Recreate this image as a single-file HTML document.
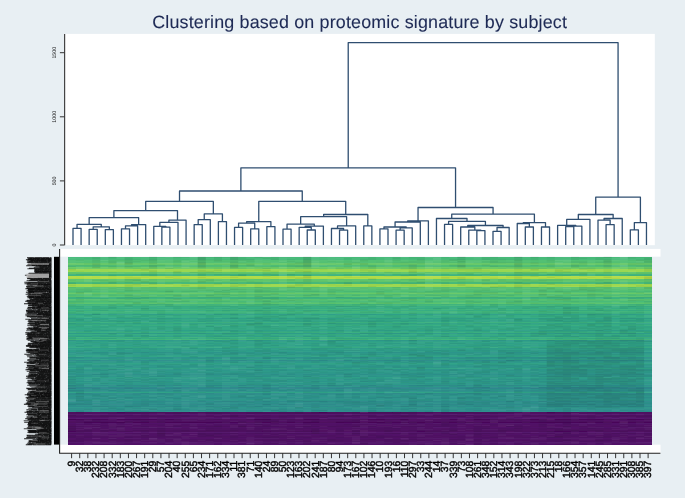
<!DOCTYPE html>
<html><head><meta charset="utf-8"><style>
html,body{margin:0;padding:0;}
body{width:685px;height:498px;overflow:hidden;background:#e8eff3;position:relative;font-family:"Liberation Sans",sans-serif;}
svg{position:absolute;left:0;top:0;will-change:transform;} text{text-rendering:geometricPrecision;}
</style></head><body>
<svg width="685" height="498" viewBox="0 0 685 498">
<text x="359.65" y="27.7" text-anchor="middle" font-family="Liberation Sans" font-size="17.9" letter-spacing="0.16" fill="#1e2a55" stroke="#1e2a55" stroke-width="0.1">Clustering based on proteomic signature by subject</text>
<rect x="65.0" y="33.9" width="589.8" height="211.3" fill="#fff"/>
<path d="M73.00 245.00V228.30H81.08V245.00M89.15 245.00V229.30H97.23V245.00M105.31 245.00V229.60H113.38V245.00M93.19 229.30V226.80H109.35V229.60M77.04 228.30V224.30H101.27V226.80M121.46 245.00V228.80H129.54V245.00M125.50 228.80V225.90H137.62V245.00M131.56 225.90V224.60H145.69V245.00M89.15 224.30V217.60H138.63V224.60M161.85 245.00V227.20H169.92V245.00M153.77 245.00V226.40H165.89V227.20M159.83 226.40V222.40H178.00V245.00M168.91 222.40V220.20H186.08V245.00M113.89 217.60V210.60H177.50V220.20M194.16 245.00V224.60H202.23V245.00M198.19 224.60V219.70H210.31V245.00M218.39 245.00V221.60H226.46V245.00M204.25 219.70V213.90H222.42V221.60M145.69 210.60V201.40H213.34V213.90M234.54 245.00V227.40H242.62V245.00M250.69 245.00V228.80H258.77V245.00M238.58 227.40V223.20H254.73V228.80M266.85 245.00V226.60H274.93V245.00M246.66 223.20V221.60H270.89V226.60M283.00 245.00V229.20H291.08V245.00M307.23 245.00V230.00H315.31V245.00M299.16 245.00V227.30H311.27V230.00M305.21 227.30V226.10H323.39V245.00M287.04 229.20V224.10H314.30V226.10M339.54 245.00V230.10H347.62V245.00M331.46 245.00V228.50H343.58V230.10M337.52 228.50V225.90H355.69V245.00M300.67 224.10V216.70H346.61V225.90M363.77 245.00V225.90H371.85V245.00M323.64 216.70V214.50H367.81V225.90M258.77 221.60V201.30H345.72V214.50M179.52 201.40V191.00H302.25V201.30M379.93 245.00V228.80H388.00V245.00M396.08 245.00V230.20H404.16V245.00M400.12 230.20V227.90H412.23V245.00M383.96 228.80V227.00H406.18V227.90M395.07 227.00V222.00H420.31V245.00M407.69 222.00V220.90H428.39V245.00M444.54 245.00V224.40H452.62V245.00M476.85 245.00V230.60H484.93V245.00M468.77 245.00V230.10H480.89V230.60M460.70 245.00V227.00H474.83V230.10M493.00 245.00V231.30H501.08V245.00M497.04 231.30V227.50H509.16V245.00M467.76 227.00V225.50H503.10V227.50M448.58 224.40V221.40H485.43V225.50M436.46 245.00V218.50H467.01V221.40M525.31 245.00V227.00H533.39V245.00M517.24 245.00V223.50H529.35V227.00M541.47 245.00V227.00H549.54V245.00M523.29 223.50V222.60H545.50V227.00M451.74 218.50V214.20H534.40V222.60M418.04 220.90V207.50H493.07V214.20M240.88 191.00V167.80H455.55V207.50M565.70 245.00V226.60H573.77V245.00M569.74 226.60V226.20H581.85V245.00M557.62 245.00V225.40H575.79V226.20M566.71 225.40V219.30H589.93V245.00M606.08 245.00V224.60H614.16V245.00M598.00 245.00V220.10H610.12V224.60M604.06 220.10V218.50H622.24V245.00M578.32 219.30V214.50H613.15V218.50M630.31 245.00V229.80H638.39V245.00M634.35 229.80V222.60H646.47V245.00M595.73 214.50V197.20H640.41V222.60M348.22 167.80V42.60H618.07V197.20" fill="none" stroke="#2f4e70" stroke-width="1.3" stroke-linejoin="round"/>
<path d="M64.6 33.9V245.3" stroke="#444" stroke-width="1.2"/>
<path d="M59.9 245.0H64.4M59.9 180.9H64.4M59.9 116.8H64.4M59.9 52.7H64.4" stroke="#333" stroke-width="1.0"/>
<g font-family="Liberation Sans" font-size="5.3" fill="#1a1a1a"><text transform="translate(55.97 245.0) rotate(-90)" text-anchor="middle">0</text><text transform="translate(55.97 180.9) rotate(-90)" text-anchor="middle">500</text><text transform="translate(55.97 116.8) rotate(-90)" text-anchor="middle">1000</text><text transform="translate(55.97 52.7) rotate(-90)" text-anchor="middle">1500</text></g>
<rect x="60" y="248.9" width="600.5" height="7.8" fill="#fff"/>
<rect x="60" y="444.7" width="600.5" height="8.3" fill="#fff"/>
<defs><filter id="bl" x="-1%" y="-1%" width="102%" height="102%"><feGaussianBlur stdDeviation="0.35"/><feColorMatrix type="saturate" values="0.94"/></filter></defs>
<g filter="url(#bl)"><g shape-rendering="crispEdges"><rect x="67.8" y="256.70" width="584.40" height="0.95" fill="#3bbb75"/><rect x="67.8" y="257.60" width="584.40" height="0.95" fill="#3bbb75"/><rect x="67.8" y="258.50" width="584.40" height="0.95" fill="#3bbb75"/><rect x="67.8" y="259.40" width="584.40" height="0.95" fill="#3bbb75"/><rect x="67.8" y="260.30" width="584.40" height="0.92" fill="#48c16e"/><rect x="67.8" y="261.17" width="584.40" height="0.92" fill="#48c16e"/><rect x="67.8" y="262.03" width="584.40" height="0.92" fill="#48c16e"/><rect x="67.8" y="262.90" width="584.40" height="0.90" fill="#5ec962"/><rect x="67.8" y="263.75" width="584.40" height="0.90" fill="#5ec962"/><rect x="67.8" y="264.60" width="584.40" height="0.95" fill="#44bf70"/><rect x="67.8" y="265.50" width="584.40" height="0.95" fill="#44bf70"/><rect x="67.8" y="266.40" width="584.40" height="0.95" fill="#44bf70"/><rect x="67.8" y="267.30" width="584.40" height="0.90" fill="#63cb5f"/><rect x="67.8" y="268.15" width="584.40" height="0.90" fill="#63cb5f"/><rect x="67.8" y="269.00" width="584.40" height="1.05" fill="#95d840"/><rect x="67.8" y="270.00" width="584.40" height="1.05" fill="#95d840"/><rect x="67.8" y="271.00" width="584.40" height="1.05" fill="#95d840"/><rect x="67.8" y="272.00" width="584.40" height="0.95" fill="#58c765"/><rect x="67.8" y="272.90" width="584.40" height="0.95" fill="#58c765"/><rect x="67.8" y="273.80" width="584.40" height="1.15" fill="#32b67a"/><rect x="67.8" y="274.90" width="584.40" height="1.15" fill="#32b67a"/><rect x="67.8" y="276.00" width="584.40" height="1.05" fill="#b0dd2f"/><rect x="67.8" y="277.00" width="584.40" height="1.05" fill="#b0dd2f"/><rect x="67.8" y="278.00" width="584.40" height="1.05" fill="#b0dd2f"/><rect x="67.8" y="279.00" width="584.40" height="0.92" fill="#58c765"/><rect x="67.8" y="279.87" width="584.40" height="0.92" fill="#58c765"/><rect x="67.8" y="280.73" width="584.40" height="0.92" fill="#58c765"/><rect x="67.8" y="281.60" width="584.40" height="1.00" fill="#3bbb75"/><rect x="67.8" y="282.55" width="584.40" height="1.00" fill="#3bbb75"/><rect x="67.8" y="283.50" width="584.40" height="1.08" fill="#9bd93c"/><rect x="67.8" y="284.53" width="584.40" height="1.08" fill="#9bd93c"/><rect x="67.8" y="285.57" width="584.40" height="1.08" fill="#9bd93c"/><rect x="67.8" y="286.60" width="584.40" height="1.02" fill="#4ec36b"/><rect x="67.8" y="287.57" width="584.40" height="1.02" fill="#52c569"/><rect x="67.8" y="288.55" width="584.40" height="1.02" fill="#4ac16d"/><rect x="67.8" y="289.52" width="584.40" height="1.02" fill="#40bd72"/><rect x="67.8" y="290.49" width="584.40" height="1.02" fill="#48c16e"/><rect x="67.8" y="291.46" width="584.40" height="1.02" fill="#40bd72"/><rect x="67.8" y="292.44" width="584.40" height="1.02" fill="#4ec36b"/><rect x="67.8" y="293.41" width="584.40" height="1.02" fill="#60ca60"/><rect x="67.8" y="294.38" width="584.40" height="1.02" fill="#46c06f"/><rect x="67.8" y="295.35" width="584.40" height="1.02" fill="#44bf70"/><rect x="67.8" y="296.33" width="584.40" height="1.02" fill="#54c568"/><rect x="67.8" y="297.30" width="584.40" height="0.80" fill="#2fb47c"/><rect x="67.8" y="298.05" width="584.40" height="0.80" fill="#2fb47c"/><rect x="67.8" y="298.80" width="584.40" height="1.09" fill="#4ec36b"/><rect x="67.8" y="299.84" width="584.40" height="1.09" fill="#4ac16d"/><rect x="67.8" y="300.88" width="584.40" height="1.09" fill="#3dbc74"/><rect x="67.8" y="301.92" width="584.40" height="1.09" fill="#48c16e"/><rect x="67.8" y="302.96" width="584.40" height="1.09" fill="#52c569"/><rect x="67.8" y="304.00" width="584.40" height="1.05" fill="#31b57b"/><rect x="67.8" y="305.00" width="584.40" height="1.05" fill="#38b977"/><rect x="67.8" y="306.00" width="584.40" height="1.05" fill="#28ae80"/><rect x="67.8" y="307.00" width="584.40" height="1.05" fill="#2cb17e"/><rect x="67.8" y="308.00" width="584.40" height="1.05" fill="#26ad81"/><rect x="67.8" y="309.00" width="584.40" height="1.05" fill="#32b67a"/><rect x="67.8" y="310.00" width="584.40" height="1.05" fill="#27ad81"/><rect x="67.8" y="311.00" width="584.40" height="1.05" fill="#34b679"/><rect x="67.8" y="312.00" width="584.40" height="1.05" fill="#31b57b"/><rect x="67.8" y="313.00" width="584.40" height="1.05" fill="#2cb17e"/><rect x="67.8" y="314.00" width="584.40" height="1.05" fill="#1fa188"/><rect x="67.8" y="315.00" width="584.40" height="1.05" fill="#26ad81"/><rect x="67.8" y="316.00" width="584.40" height="1.04" fill="#26ad81"/><rect x="67.8" y="316.99" width="584.40" height="1.04" fill="#27ad81"/><rect x="67.8" y="317.98" width="584.40" height="1.04" fill="#1fa287"/><rect x="67.8" y="318.97" width="584.40" height="1.04" fill="#23a983"/><rect x="67.8" y="319.97" width="584.40" height="1.04" fill="#21a585"/><rect x="67.8" y="320.96" width="584.40" height="1.04" fill="#21a685"/><rect x="67.8" y="321.95" width="584.40" height="1.04" fill="#2db27d"/><rect x="67.8" y="322.94" width="584.40" height="1.04" fill="#21a585"/><rect x="67.8" y="323.93" width="584.40" height="1.04" fill="#24aa83"/><rect x="67.8" y="324.92" width="584.40" height="1.04" fill="#29af7f"/><rect x="67.8" y="325.91" width="584.40" height="1.04" fill="#21a685"/><rect x="67.8" y="326.90" width="584.40" height="1.04" fill="#23a983"/><rect x="67.8" y="327.90" width="584.40" height="1.04" fill="#24aa83"/><rect x="67.8" y="328.89" width="584.40" height="1.04" fill="#23a983"/><rect x="67.8" y="329.88" width="584.40" height="1.04" fill="#1fa188"/><rect x="67.8" y="330.87" width="584.40" height="1.04" fill="#23a983"/><rect x="67.8" y="331.86" width="584.40" height="1.04" fill="#2ab07f"/><rect x="67.8" y="332.85" width="584.40" height="1.04" fill="#1e9d89"/><rect x="67.8" y="333.84" width="584.40" height="1.04" fill="#26ad81"/><rect x="67.8" y="334.83" width="584.40" height="1.04" fill="#22a884"/><rect x="67.8" y="335.83" width="584.40" height="1.04" fill="#1fa287"/><rect x="67.8" y="336.82" width="584.40" height="1.04" fill="#2eb37c"/><rect x="67.8" y="337.81" width="584.40" height="1.04" fill="#25ab82"/><rect x="67.8" y="338.80" width="584.40" height="1.15" fill="#35b779"/><rect x="67.8" y="339.90" width="584.40" height="1.06" fill="#1f998a"/><rect x="67.8" y="340.91" width="584.40" height="1.06" fill="#1fa187"/><rect x="67.8" y="341.92" width="584.40" height="1.06" fill="#21a585"/><rect x="67.8" y="342.93" width="584.40" height="1.06" fill="#1fa088"/><rect x="67.8" y="343.94" width="584.40" height="1.06" fill="#21a585"/><rect x="67.8" y="344.95" width="584.40" height="1.06" fill="#1fa188"/><rect x="67.8" y="345.96" width="584.40" height="1.06" fill="#21a585"/><rect x="67.8" y="346.97" width="584.40" height="1.06" fill="#25ab82"/><rect x="67.8" y="347.98" width="584.40" height="1.06" fill="#1e9d89"/><rect x="67.8" y="348.99" width="584.40" height="1.06" fill="#1fa287"/><rect x="67.8" y="350.00" width="584.40" height="1.05" fill="#1e9c89"/><rect x="67.8" y="351.00" width="584.40" height="1.05" fill="#1fa088"/><rect x="67.8" y="351.99" width="584.40" height="1.05" fill="#1f968b"/><rect x="67.8" y="352.99" width="584.40" height="1.05" fill="#1f9a8a"/><rect x="67.8" y="353.99" width="584.40" height="1.05" fill="#1e9c89"/><rect x="67.8" y="354.98" width="584.40" height="1.05" fill="#20a386"/><rect x="67.8" y="355.98" width="584.40" height="1.05" fill="#21a585"/><rect x="67.8" y="356.98" width="584.40" height="1.05" fill="#1f948c"/><rect x="67.8" y="357.97" width="584.40" height="1.05" fill="#1f978b"/><rect x="67.8" y="358.97" width="584.40" height="1.05" fill="#1fa188"/><rect x="67.8" y="359.97" width="584.40" height="1.05" fill="#218f8d"/><rect x="67.8" y="360.96" width="584.40" height="1.05" fill="#1f998a"/><rect x="67.8" y="361.96" width="584.40" height="1.05" fill="#1e9b8a"/><rect x="67.8" y="362.96" width="584.40" height="1.05" fill="#20a486"/><rect x="67.8" y="363.95" width="584.40" height="1.05" fill="#1fa088"/><rect x="67.8" y="364.95" width="584.40" height="1.05" fill="#1f998a"/><rect x="67.8" y="365.95" width="584.40" height="1.05" fill="#1f988b"/><rect x="67.8" y="366.95" width="584.40" height="1.05" fill="#1f998a"/><rect x="67.8" y="367.94" width="584.40" height="1.05" fill="#20a486"/><rect x="67.8" y="368.94" width="584.40" height="1.05" fill="#1f978b"/><rect x="67.8" y="369.94" width="584.40" height="1.05" fill="#1f988b"/><rect x="67.8" y="370.93" width="584.40" height="1.05" fill="#1e9c89"/><rect x="67.8" y="371.93" width="584.40" height="1.05" fill="#1f998a"/><rect x="67.8" y="372.93" width="584.40" height="1.05" fill="#1f988b"/><rect x="67.8" y="373.92" width="584.40" height="1.05" fill="#20928c"/><rect x="67.8" y="374.92" width="584.40" height="1.05" fill="#1f998a"/><rect x="67.8" y="375.92" width="584.40" height="1.05" fill="#1f958b"/><rect x="67.8" y="376.91" width="584.40" height="1.05" fill="#1fa188"/><rect x="67.8" y="377.91" width="584.40" height="1.05" fill="#1e9d89"/><rect x="67.8" y="378.91" width="584.40" height="1.05" fill="#1f988b"/><rect x="67.8" y="379.90" width="584.40" height="1.05" fill="#1e9c89"/><rect x="67.8" y="380.90" width="584.40" height="1.05" fill="#1f958b"/><rect x="67.8" y="381.90" width="584.40" height="1.05" fill="#1f9e89"/><rect x="67.8" y="382.89" width="584.40" height="1.05" fill="#1f978b"/><rect x="67.8" y="383.89" width="584.40" height="1.05" fill="#1e9b8a"/><rect x="67.8" y="384.89" width="584.40" height="1.05" fill="#218e8d"/><rect x="67.8" y="385.88" width="584.40" height="1.05" fill="#1f988b"/><rect x="67.8" y="386.88" width="584.40" height="1.05" fill="#228b8d"/><rect x="67.8" y="387.88" width="584.40" height="1.05" fill="#23888e"/><rect x="67.8" y="388.87" width="584.40" height="1.05" fill="#20938c"/><rect x="67.8" y="389.87" width="584.40" height="1.05" fill="#218f8d"/><rect x="67.8" y="390.87" width="584.40" height="1.05" fill="#1f968b"/><rect x="67.8" y="391.86" width="584.40" height="1.05" fill="#20a486"/><rect x="67.8" y="392.86" width="584.40" height="1.05" fill="#218f8d"/><rect x="67.8" y="393.86" width="584.40" height="1.05" fill="#21908d"/><rect x="67.8" y="394.85" width="584.40" height="1.05" fill="#1f958b"/><rect x="67.8" y="395.85" width="584.40" height="1.05" fill="#1f978b"/><rect x="67.8" y="396.85" width="584.40" height="1.05" fill="#20928c"/><rect x="67.8" y="397.85" width="584.40" height="1.05" fill="#20928c"/><rect x="67.8" y="398.84" width="584.40" height="1.05" fill="#1f988b"/><rect x="67.8" y="399.84" width="584.40" height="1.05" fill="#1f968b"/><rect x="67.8" y="400.84" width="584.40" height="1.05" fill="#228c8d"/><rect x="67.8" y="401.83" width="584.40" height="1.05" fill="#20928c"/><rect x="67.8" y="402.83" width="584.40" height="1.05" fill="#20928c"/><rect x="67.8" y="403.83" width="584.40" height="1.05" fill="#228b8d"/><rect x="67.8" y="404.82" width="584.40" height="1.05" fill="#20938c"/><rect x="67.8" y="405.82" width="584.40" height="1.05" fill="#228c8d"/><rect x="67.8" y="406.82" width="584.40" height="1.05" fill="#1f988b"/><rect x="67.8" y="407.81" width="584.40" height="1.05" fill="#20928c"/><rect x="67.8" y="408.81" width="584.40" height="1.05" fill="#20928c"/><rect x="67.8" y="409.81" width="584.40" height="1.05" fill="#228d8d"/><rect x="67.8" y="410.80" width="584.40" height="1.05" fill="#21908d"/><rect x="67.8" y="411.80" width="584.40" height="1.05" fill="#4c085e"/><rect x="67.8" y="412.80" width="584.40" height="1.05" fill="#4e0a62"/><rect x="67.8" y="413.79" width="584.40" height="1.05" fill="#581773"/><rect x="67.8" y="414.79" width="584.40" height="1.05" fill="#4f0b63"/><rect x="67.8" y="415.79" width="584.40" height="1.05" fill="#4d0960"/><rect x="67.8" y="416.78" width="584.40" height="1.05" fill="#53106a"/><rect x="67.8" y="417.78" width="584.40" height="1.05" fill="#571671"/><rect x="67.8" y="418.78" width="584.40" height="1.05" fill="#4c075d"/><rect x="67.8" y="419.78" width="584.40" height="1.05" fill="#510d66"/><rect x="67.8" y="420.77" width="584.40" height="1.05" fill="#4f0b63"/><rect x="67.8" y="421.77" width="584.40" height="1.05" fill="#4a065b"/><rect x="67.8" y="422.77" width="584.40" height="1.05" fill="#54126d"/><rect x="67.8" y="423.76" width="584.40" height="1.05" fill="#510e67"/><rect x="67.8" y="424.76" width="584.40" height="1.05" fill="#520f68"/><rect x="67.8" y="425.76" width="584.40" height="1.05" fill="#4e0b62"/><rect x="67.8" y="426.75" width="584.40" height="1.05" fill="#53116b"/><rect x="67.8" y="427.75" width="584.40" height="1.05" fill="#4f0c64"/><rect x="67.8" y="428.75" width="584.40" height="1.05" fill="#510e66"/><rect x="67.8" y="429.75" width="584.40" height="1.05" fill="#4d0960"/><rect x="67.8" y="430.74" width="584.40" height="1.05" fill="#4d085f"/><rect x="67.8" y="431.74" width="584.40" height="1.05" fill="#571571"/><rect x="67.8" y="432.74" width="584.40" height="1.05" fill="#4f0c64"/><rect x="67.8" y="433.73" width="584.40" height="1.05" fill="#53106a"/><rect x="67.8" y="434.73" width="584.40" height="1.05" fill="#510e67"/><rect x="67.8" y="435.73" width="584.40" height="1.05" fill="#500c64"/><rect x="67.8" y="436.72" width="584.40" height="1.05" fill="#4f0c64"/><rect x="67.8" y="437.72" width="584.40" height="1.05" fill="#54126c"/><rect x="67.8" y="438.72" width="584.40" height="1.05" fill="#500d65"/><rect x="67.8" y="439.72" width="584.40" height="1.05" fill="#510e66"/><rect x="67.8" y="440.71" width="584.40" height="1.05" fill="#520f68"/><rect x="67.8" y="441.71" width="584.40" height="1.05" fill="#561470"/><rect x="67.8" y="442.71" width="584.40" height="1.05" fill="#54126c"/><rect x="67.8" y="443.70" width="584.40" height="1.05" fill="#53106a"/></g>
<path fill="#000000" fill-opacity="0.112" d="M197.7 256.7h8.1v1.0h-8.1zM230.1 256.7h8.1v1.0h-8.1zM303.2 256.7h8.1v1.0h-8.1zM457.4 256.7h8.1v1.0h-8.1zM514.2 256.7h8.1v1.0h-8.1zM603.5 256.7h8.1v1.0h-8.1zM197.7 257.7h8.1v1.0h-8.1zM197.7 258.7h8.1v1.0h-8.1zM230.1 258.7h8.1v1.0h-8.1zM303.2 258.7h8.1v1.0h-8.1zM457.4 258.7h8.1v1.0h-8.1zM197.7 259.7h8.1v1.0h-8.1zM303.2 259.7h8.1v1.0h-8.1zM514.2 259.7h8.1v1.0h-8.1zM303.2 260.7h8.1v1.0h-8.1zM457.4 260.7h8.1v1.0h-8.1zM603.5 260.7h8.1v1.0h-8.1zM197.7 261.7h8.1v1.0h-8.1zM303.2 261.7h8.1v1.0h-8.1zM124.6 262.7h8.1v1.0h-8.1zM197.7 262.7h8.1v1.0h-8.1zM303.2 262.7h8.1v1.0h-8.1zM197.7 263.7h8.1v1.0h-8.1zM303.2 263.7h8.1v1.0h-8.1zM343.8 263.7h8.1v1.0h-8.1zM514.2 263.7h8.1v1.0h-8.1zM230.1 264.7h8.1v1.0h-8.1zM303.2 264.7h8.1v1.0h-8.1zM457.4 264.7h8.1v1.0h-8.1zM303.2 265.7h8.1v1.0h-8.1zM457.4 265.7h8.1v1.0h-8.1zM92.2 266.7h8.1v1.0h-8.1zM197.7 266.7h8.1v1.0h-8.1zM230.1 266.7h8.1v1.0h-8.1zM303.2 270.7h8.1v1.0h-8.1zM238.2 274.7h8.1v1.0h-8.1zM303.2 274.7h8.1v1.0h-8.1zM303.2 276.7h8.1v1.0h-8.1zM132.7 279.7h8.1v1.0h-8.1zM343.8 282.7h8.1v1.0h-8.1zM546.7 283.7h8.1v1.0h-8.1zM165.2 290.7h8.1v1.0h-8.1zM538.6 293.7h8.1v1.0h-8.1zM254.5 295.7h8.1v1.0h-8.1zM554.8 298.7h8.1v1.0h-8.1zM262.6 300.7h8.1v1.0h-8.1zM335.7 305.7h8.1v1.0h-8.1zM562.9 307.7h8.1v1.0h-8.1zM595.4 309.7h8.1v1.0h-8.1zM562.9 311.7h8.1v1.0h-8.1zM562.9 312.7h8.1v1.0h-8.1zM92.2 313.7h8.1v1.0h-8.1zM254.5 316.7h8.1v1.0h-8.1zM603.5 316.7h8.1v1.0h-8.1zM230.1 317.7h8.1v1.0h-8.1zM514.2 318.7h8.1v1.0h-8.1zM554.8 319.7h8.1v1.0h-8.1zM603.5 319.7h8.1v1.0h-8.1zM254.5 322.7h8.1v1.0h-8.1zM327.5 322.7h8.1v1.0h-8.1zM246.4 323.7h8.1v1.0h-8.1zM303.2 323.7h8.1v1.0h-8.1zM368.1 323.7h8.1v1.0h-8.1zM546.7 324.7h8.1v1.0h-8.1zM587.3 324.7h8.1v1.0h-8.1zM603.5 328.7h8.1v1.0h-8.1zM627.9 328.7h8.1v1.0h-8.1zM595.4 329.7h8.1v1.0h-8.1zM571.0 331.7h8.1v1.0h-8.1zM627.9 332.7h8.1v1.0h-8.1zM538.6 333.7h8.1v1.0h-8.1zM408.7 339.7h8.1v1.0h-8.1zM546.7 339.7h8.1v1.0h-8.1zM571.0 339.7h8.1v1.0h-8.1zM603.5 339.7h8.1v1.0h-8.1zM619.7 339.7h16.2v1.0h-16.2zM554.8 340.7h8.1v1.0h-8.1zM579.1 340.7h24.4v1.0h-24.4zM636.0 340.7h8.1v1.0h-8.1zM562.9 341.7h8.1v1.0h-8.1zM587.3 341.7h8.1v1.0h-8.1zM603.5 341.7h8.1v1.0h-8.1zM554.8 342.7h8.1v1.0h-8.1zM571.0 342.7h8.1v1.0h-8.1zM587.3 342.7h32.5v1.0h-32.5zM562.9 343.7h8.1v1.0h-8.1zM603.5 343.7h8.1v1.0h-8.1zM562.9 344.7h8.1v1.0h-8.1zM587.3 344.7h16.2v1.0h-16.2zM611.6 344.7h8.1v1.0h-8.1zM546.7 345.7h8.1v1.0h-8.1zM579.1 345.7h8.1v1.0h-8.1zM595.4 345.7h8.1v1.0h-8.1zM546.7 346.7h8.1v1.0h-8.1zM562.9 346.7h8.1v1.0h-8.1zM595.4 346.7h16.2v1.0h-16.2zM627.9 346.7h8.1v1.0h-8.1zM595.4 347.7h8.1v1.0h-8.1zM636.0 347.7h8.1v1.0h-8.1zM554.8 348.7h16.2v1.0h-16.2zM611.6 348.7h24.4v1.0h-24.4zM457.4 349.7h8.1v1.0h-8.1zM554.8 349.7h8.1v1.0h-8.1zM587.3 349.7h8.1v1.0h-8.1zM611.6 349.7h24.4v1.0h-24.4zM554.8 350.7h8.1v1.0h-8.1zM579.1 350.7h8.1v1.0h-8.1zM595.4 350.7h8.1v1.0h-8.1zM619.7 350.7h8.1v1.0h-8.1zM554.8 351.7h24.4v1.0h-24.4zM595.4 351.7h8.1v1.0h-8.1zM619.7 351.7h24.4v1.0h-24.4zM506.1 352.7h8.1v1.0h-8.1zM546.7 352.7h32.5v1.0h-32.5zM595.4 352.7h8.1v1.0h-8.1zM408.7 353.7h8.1v1.0h-8.1zM562.9 353.7h40.6v1.0h-40.6zM619.7 353.7h16.2v1.0h-16.2zM416.8 354.7h8.1v1.0h-8.1zM554.8 354.7h16.2v1.0h-16.2zM416.8 355.7h8.1v1.0h-8.1zM554.8 355.7h16.2v1.0h-16.2zM603.5 355.7h8.1v1.0h-8.1zM619.7 355.7h8.1v1.0h-8.1zM360.0 356.7h8.1v1.0h-8.1zM546.7 356.7h8.1v1.0h-8.1zM562.9 356.7h8.1v1.0h-8.1zM579.1 356.7h8.1v1.0h-8.1zM603.5 356.7h16.2v1.0h-16.2zM262.6 357.7h8.1v1.0h-8.1zM554.8 357.7h16.2v1.0h-16.2zM587.3 357.7h8.1v1.0h-8.1zM603.5 357.7h16.2v1.0h-16.2zM546.7 358.7h24.4v1.0h-24.4zM587.3 358.7h8.1v1.0h-8.1zM627.9 358.7h8.1v1.0h-8.1zM506.1 359.7h8.1v1.0h-8.1zM562.9 359.7h16.2v1.0h-16.2zM595.4 359.7h8.1v1.0h-8.1zM619.7 359.7h8.1v1.0h-8.1zM636.0 359.7h8.1v1.0h-8.1zM546.7 360.7h8.1v1.0h-8.1zM562.9 360.7h8.1v1.0h-8.1zM603.5 360.7h8.1v1.0h-8.1zM254.5 361.7h8.1v1.0h-8.1zM481.8 361.7h8.1v1.0h-8.1zM498.0 361.7h8.1v1.0h-8.1zM546.7 361.7h8.1v1.0h-8.1zM562.9 361.7h16.2v1.0h-16.2zM611.6 361.7h8.1v1.0h-8.1zM546.7 362.7h32.5v1.0h-32.5zM587.3 362.7h16.2v1.0h-16.2zM546.7 363.7h8.1v1.0h-8.1zM562.9 363.7h8.1v1.0h-8.1zM603.5 363.7h8.1v1.0h-8.1zM636.0 363.7h8.1v1.0h-8.1zM546.7 364.7h16.2v1.0h-16.2zM579.1 364.7h16.2v1.0h-16.2zM546.7 365.7h8.1v1.0h-8.1zM562.9 365.7h24.4v1.0h-24.4zM595.4 365.7h8.1v1.0h-8.1zM619.7 365.7h16.2v1.0h-16.2zM571.0 366.7h8.1v1.0h-8.1zM416.8 367.7h8.1v1.0h-8.1zM554.8 367.7h24.4v1.0h-24.4zM611.6 367.7h24.4v1.0h-24.4zM554.8 368.7h32.5v1.0h-32.5zM595.4 368.7h8.1v1.0h-8.1zM619.7 368.7h16.2v1.0h-16.2zM254.5 369.7h8.1v1.0h-8.1zM546.7 369.7h8.1v1.0h-8.1zM562.9 369.7h24.4v1.0h-24.4zM627.9 369.7h16.2v1.0h-16.2zM562.9 370.7h8.1v1.0h-8.1zM579.1 370.7h8.1v1.0h-8.1zM603.5 370.7h8.1v1.0h-8.1zM554.8 371.7h24.4v1.0h-24.4zM595.4 371.7h8.1v1.0h-8.1zM627.9 371.7h8.1v1.0h-8.1zM546.7 372.7h40.6v1.0h-40.6zM611.6 372.7h8.1v1.0h-8.1zM627.9 372.7h8.1v1.0h-8.1zM562.9 373.7h8.1v1.0h-8.1zM595.4 373.7h8.1v1.0h-8.1zM619.7 373.7h8.1v1.0h-8.1zM636.0 373.7h8.1v1.0h-8.1zM562.9 374.7h8.1v1.0h-8.1zM603.5 374.7h8.1v1.0h-8.1zM546.7 375.7h16.2v1.0h-16.2zM579.1 375.7h8.1v1.0h-8.1zM595.4 375.7h16.2v1.0h-16.2zM627.9 375.7h8.1v1.0h-8.1zM562.9 376.7h8.1v1.0h-8.1zM595.4 376.7h8.1v1.0h-8.1zM562.9 377.7h16.2v1.0h-16.2zM595.4 377.7h32.5v1.0h-32.5zM636.0 377.7h8.1v1.0h-8.1zM546.7 378.7h8.1v1.0h-8.1zM562.9 378.7h8.1v1.0h-8.1zM595.4 378.7h16.2v1.0h-16.2zM595.4 379.7h8.1v1.0h-8.1zM627.9 379.7h8.1v1.0h-8.1zM619.7 380.7h8.1v1.0h-8.1zM546.7 381.7h8.1v1.0h-8.1zM571.0 381.7h8.1v1.0h-8.1zM595.4 381.7h16.2v1.0h-16.2zM546.7 382.7h24.4v1.0h-24.4zM595.4 382.7h8.1v1.0h-8.1zM619.7 383.7h8.1v1.0h-8.1zM571.0 384.7h8.1v1.0h-8.1zM587.3 384.7h16.2v1.0h-16.2zM546.7 385.7h24.4v1.0h-24.4zM595.4 385.7h8.1v1.0h-8.1zM627.9 385.7h8.1v1.0h-8.1zM562.9 386.7h40.6v1.0h-40.6zM611.6 386.7h8.1v1.0h-8.1zM67.8 387.7h8.1v1.0h-8.1zM562.9 387.7h8.1v1.0h-8.1zM587.3 387.7h16.2v1.0h-16.2zM636.0 387.7h8.1v1.0h-8.1zM546.7 388.7h8.1v1.0h-8.1zM571.0 388.7h24.4v1.0h-24.4zM587.3 389.7h8.1v1.0h-8.1zM603.5 389.7h8.1v1.0h-8.1zM627.9 389.7h16.2v1.0h-16.2zM571.0 390.7h8.1v1.0h-8.1zM595.4 390.7h24.4v1.0h-24.4zM636.0 390.7h8.1v1.0h-8.1zM546.7 391.7h8.1v1.0h-8.1zM579.1 391.7h8.1v1.0h-8.1zM619.7 391.7h8.1v1.0h-8.1zM636.0 391.7h8.1v1.0h-8.1zM75.9 392.7h8.1v1.0h-8.1zM546.7 392.7h16.2v1.0h-16.2zM579.1 392.7h8.1v1.0h-8.1zM603.5 392.7h8.1v1.0h-8.1zM636.0 392.7h8.1v1.0h-8.1zM562.9 393.7h8.1v1.0h-8.1zM587.3 393.7h8.1v1.0h-8.1zM603.5 393.7h8.1v1.0h-8.1zM619.7 393.7h24.4v1.0h-24.4zM554.8 394.7h24.4v1.0h-24.4zM595.4 394.7h24.4v1.0h-24.4zM75.9 395.7h8.1v1.0h-8.1zM498.0 395.7h8.1v1.0h-8.1zM546.7 395.7h8.1v1.0h-8.1zM595.4 395.7h32.5v1.0h-32.5zM636.0 395.7h8.1v1.0h-8.1zM554.8 396.7h8.1v1.0h-8.1zM587.3 396.7h16.2v1.0h-16.2zM611.6 396.7h8.1v1.0h-8.1zM627.9 396.7h16.2v1.0h-16.2zM408.7 397.7h8.1v1.0h-8.1zM457.4 397.7h8.1v1.0h-8.1zM546.7 397.7h32.5v1.0h-32.5zM595.4 397.7h24.4v1.0h-24.4zM546.7 398.7h8.1v1.0h-8.1zM571.0 398.7h8.1v1.0h-8.1zM603.5 398.7h16.2v1.0h-16.2zM75.9 399.7h8.1v1.0h-8.1zM546.7 399.7h24.4v1.0h-24.4zM603.5 399.7h40.6v1.0h-40.6zM506.1 400.7h8.1v1.0h-8.1zM554.8 400.7h16.2v1.0h-16.2zM587.3 400.7h8.1v1.0h-8.1zM603.5 400.7h8.1v1.0h-8.1zM636.0 400.7h8.1v1.0h-8.1zM546.7 401.7h8.1v1.0h-8.1zM579.1 401.7h8.1v1.0h-8.1zM603.5 401.7h8.1v1.0h-8.1zM636.0 401.7h8.1v1.0h-8.1zM554.8 402.7h16.2v1.0h-16.2zM611.6 402.7h8.1v1.0h-8.1zM627.9 402.7h8.1v1.0h-8.1zM546.7 403.7h32.5v1.0h-32.5zM587.3 403.7h8.1v1.0h-8.1zM611.6 403.7h24.4v1.0h-24.4zM376.2 404.7h8.1v1.0h-8.1zM546.7 404.7h16.2v1.0h-16.2zM619.7 404.7h8.1v1.0h-8.1zM636.0 404.7h8.1v1.0h-8.1zM554.8 405.7h8.1v1.0h-8.1zM627.9 405.7h8.1v1.0h-8.1zM595.4 406.7h16.2v1.0h-16.2zM173.3 408.7h8.1v1.0h-8.1zM319.4 416.7h8.1v1.0h-8.1zM587.3 417.7h8.1v1.0h-8.1zM270.7 420.7h8.1v1.0h-8.1zM562.9 422.7h8.1v1.0h-8.1zM254.5 423.7h8.1v1.0h-8.1zM238.2 425.7h8.1v1.0h-8.1zM562.9 431.7h8.1v1.0h-8.1zM157.1 432.7h8.1v1.0h-8.1zM311.3 432.7h8.1v1.0h-8.1zM197.7 433.7h8.1v1.0h-8.1zM449.3 433.7h8.1v1.0h-8.1zM473.6 433.7h8.1v1.0h-8.1zM205.8 434.7h8.1v1.0h-8.1zM554.8 435.7h8.1v1.0h-8.1zM562.9 439.7h8.1v1.0h-8.1zM595.4 439.7h8.1v1.0h-8.1z"/><path fill="#000000" fill-opacity="0.084" d="M108.4 256.7h8.1v1.0h-8.1zM149.0 256.7h8.1v1.0h-8.1zM213.9 256.7h8.1v1.0h-8.1zM530.5 256.7h8.1v1.0h-8.1zM571.0 256.7h8.1v1.0h-8.1zM92.2 257.7h8.1v1.0h-8.1zM230.1 257.7h8.1v1.0h-8.1zM303.2 257.7h8.1v1.0h-8.1zM392.5 257.7h8.1v1.0h-8.1zM270.7 258.7h8.1v1.0h-8.1zM481.8 258.7h8.1v1.0h-8.1zM644.1 258.7h8.1v1.0h-8.1zM124.6 259.7h8.1v1.0h-8.1zM149.0 259.7h8.1v1.0h-8.1zM213.9 259.7h8.1v1.0h-8.1zM449.3 259.7h8.1v1.0h-8.1zM636.0 259.7h8.1v1.0h-8.1zM644.1 260.7h8.1v1.0h-8.1zM124.6 261.7h8.1v1.0h-8.1zM230.1 261.7h8.1v1.0h-8.1zM489.9 261.7h8.1v1.0h-8.1zM603.5 261.7h8.1v1.0h-8.1zM644.1 261.7h8.1v1.0h-8.1zM149.0 262.7h8.1v1.0h-8.1zM295.1 262.7h8.1v1.0h-8.1zM514.2 262.7h8.1v1.0h-8.1zM530.5 262.7h8.1v1.0h-8.1zM603.5 262.7h8.1v1.0h-8.1zM92.2 263.7h8.1v1.0h-8.1zM124.6 263.7h8.1v1.0h-8.1zM360.0 263.7h8.1v1.0h-8.1zM92.2 264.7h8.1v1.0h-8.1zM149.0 264.7h8.1v1.0h-8.1zM197.7 264.7h8.1v1.0h-8.1zM246.4 264.7h8.1v1.0h-8.1zM408.7 264.7h8.1v1.0h-8.1zM514.2 264.7h8.1v1.0h-8.1zM571.0 264.7h8.1v1.0h-8.1zM603.5 264.7h8.1v1.0h-8.1zM149.0 265.7h8.1v1.0h-8.1zM197.7 265.7h8.1v1.0h-8.1zM230.1 265.7h8.1v1.0h-8.1zM295.1 265.7h8.1v1.0h-8.1zM489.9 265.7h8.1v1.0h-8.1zM514.2 265.7h8.1v1.0h-8.1zM408.7 266.7h8.1v1.0h-8.1zM457.4 266.7h8.1v1.0h-8.1zM514.2 266.7h8.1v1.0h-8.1zM262.6 267.7h8.1v1.0h-8.1zM408.7 267.7h8.1v1.0h-8.1zM530.5 268.7h8.1v1.0h-8.1zM213.9 269.7h8.1v1.0h-8.1zM262.6 269.7h8.1v1.0h-8.1zM149.0 270.7h8.1v1.0h-8.1zM197.7 270.7h8.1v1.0h-8.1zM408.7 270.7h8.1v1.0h-8.1zM554.8 270.7h8.1v1.0h-8.1zM173.3 271.7h8.1v1.0h-8.1zM408.7 271.7h8.1v1.0h-8.1zM514.2 271.7h8.1v1.0h-8.1zM514.2 272.7h24.4v1.0h-24.4zM579.1 272.7h8.1v1.0h-8.1zM286.9 273.7h8.1v1.0h-8.1zM546.7 273.7h8.1v1.0h-8.1zM408.7 274.7h8.1v1.0h-8.1zM530.5 275.7h8.1v1.0h-8.1zM197.7 276.7h8.1v1.0h-8.1zM230.1 276.7h8.1v1.0h-8.1zM514.2 276.7h8.1v1.0h-8.1zM546.7 276.7h8.1v1.0h-8.1zM603.5 276.7h8.1v1.0h-8.1zM644.1 276.7h8.1v1.0h-8.1zM295.1 277.7h8.1v1.0h-8.1zM644.1 277.7h8.1v1.0h-8.1zM368.1 278.7h8.1v1.0h-8.1zM457.4 278.7h8.1v1.0h-8.1zM644.1 278.7h8.1v1.0h-8.1zM205.8 279.7h8.1v1.0h-8.1zM481.8 279.7h8.1v1.0h-8.1zM538.6 279.7h8.1v1.0h-8.1zM197.7 280.7h8.1v1.0h-8.1zM303.2 280.7h8.1v1.0h-8.1zM416.8 281.7h8.1v1.0h-8.1zM514.2 281.7h8.1v1.0h-8.1zM603.5 281.7h8.1v1.0h-8.1zM67.8 282.7h8.1v1.0h-8.1zM108.4 282.7h8.1v1.0h-8.1zM514.2 282.7h8.1v1.0h-8.1zM603.5 282.7h8.1v1.0h-8.1zM132.7 283.7h8.1v1.0h-8.1zM181.4 284.7h8.1v1.0h-8.1zM295.1 284.7h8.1v1.0h-8.1zM457.4 284.7h8.1v1.0h-8.1zM230.1 285.7h8.1v1.0h-8.1zM368.1 285.7h8.1v1.0h-8.1zM498.0 285.7h8.1v1.0h-8.1zM514.2 285.7h8.1v1.0h-8.1zM254.5 286.7h8.1v1.0h-8.1zM286.9 286.7h8.1v1.0h-8.1zM197.7 287.7h8.1v1.0h-8.1zM546.7 287.7h8.1v1.0h-8.1zM644.1 287.7h8.1v1.0h-8.1zM230.1 288.7h8.1v1.0h-8.1zM579.1 288.7h8.1v1.0h-8.1zM124.6 289.7h8.1v1.0h-8.1zM222.0 289.7h8.1v1.0h-8.1zM538.6 289.7h8.1v1.0h-8.1zM587.3 289.7h8.1v1.0h-8.1zM254.5 290.7h8.1v1.0h-8.1zM554.8 290.7h8.1v1.0h-8.1zM75.9 291.7h8.1v1.0h-8.1zM376.2 292.7h8.1v1.0h-8.1zM562.9 292.7h8.1v1.0h-8.1zM222.0 293.7h8.1v1.0h-8.1zM311.3 293.7h8.1v1.0h-8.1zM473.6 293.7h8.1v1.0h-8.1zM587.3 293.7h8.1v1.0h-8.1zM124.6 294.7h8.1v1.0h-8.1zM205.8 294.7h8.1v1.0h-8.1zM303.2 294.7h8.1v1.0h-8.1zM173.3 295.7h8.1v1.0h-8.1zM335.7 296.7h8.1v1.0h-8.1zM546.7 296.7h16.2v1.0h-16.2zM132.7 297.7h8.1v1.0h-8.1zM262.6 297.7h8.1v1.0h-8.1zM603.5 297.7h8.1v1.0h-8.1zM173.3 298.7h8.1v1.0h-8.1zM270.7 298.7h8.1v1.0h-8.1zM408.7 298.7h8.1v1.0h-8.1zM562.9 298.7h8.1v1.0h-8.1zM286.9 299.7h8.1v1.0h-8.1zM400.6 299.7h8.1v1.0h-8.1zM627.9 299.7h8.1v1.0h-8.1zM514.2 300.7h8.1v1.0h-8.1zM473.6 301.7h8.1v1.0h-8.1zM132.7 302.7h8.1v1.0h-8.1zM262.6 302.7h8.1v1.0h-8.1zM360.0 302.7h8.1v1.0h-8.1zM384.4 302.7h8.1v1.0h-8.1zM262.6 303.7h8.1v1.0h-8.1zM108.4 304.7h8.1v1.0h-8.1zM124.6 304.7h8.1v1.0h-8.1zM343.8 305.7h8.1v1.0h-8.1zM627.9 305.7h8.1v1.0h-8.1zM108.4 306.7h8.1v1.0h-8.1zM530.5 306.7h8.1v1.0h-8.1zM562.9 306.7h16.2v1.0h-16.2zM140.9 307.7h8.1v1.0h-8.1zM262.6 307.7h8.1v1.0h-8.1zM433.1 307.7h8.1v1.0h-8.1zM254.5 309.7h8.1v1.0h-8.1zM562.9 309.7h16.2v1.0h-16.2zM75.9 310.7h8.1v1.0h-8.1zM303.2 310.7h8.1v1.0h-8.1zM327.5 310.7h16.2v1.0h-16.2zM538.6 310.7h8.1v1.0h-8.1zM571.0 311.7h8.1v1.0h-8.1zM636.0 311.7h8.1v1.0h-8.1zM408.7 312.7h8.1v1.0h-8.1zM441.2 312.7h8.1v1.0h-8.1zM587.3 313.7h8.1v1.0h-8.1zM278.8 314.7h8.1v1.0h-8.1zM587.3 314.7h8.1v1.0h-8.1zM473.6 315.7h8.1v1.0h-8.1zM538.6 315.7h8.1v1.0h-8.1zM116.5 316.7h8.1v1.0h-8.1zM473.6 316.7h8.1v1.0h-8.1zM554.8 316.7h8.1v1.0h-8.1zM587.3 316.7h8.1v1.0h-8.1zM303.2 317.7h16.2v1.0h-16.2zM554.8 317.7h8.1v1.0h-8.1zM603.5 317.7h8.1v1.0h-8.1zM619.7 317.7h16.2v1.0h-16.2zM75.9 318.7h8.1v1.0h-8.1zM327.5 318.7h8.1v1.0h-8.1zM538.6 318.7h16.2v1.0h-16.2zM562.9 318.7h8.1v1.0h-8.1zM603.5 318.7h8.1v1.0h-8.1zM636.0 318.7h8.1v1.0h-8.1zM262.6 319.7h8.1v1.0h-8.1zM441.2 319.7h8.1v1.0h-8.1zM514.2 319.7h8.1v1.0h-8.1zM546.7 319.7h8.1v1.0h-8.1zM116.5 320.7h8.1v1.0h-8.1zM303.2 320.7h8.1v1.0h-8.1zM368.1 320.7h8.1v1.0h-8.1zM595.4 321.7h8.1v1.0h-8.1zM603.5 322.7h8.1v1.0h-8.1zM400.6 323.7h8.1v1.0h-8.1zM587.3 323.7h8.1v1.0h-8.1zM230.1 324.7h8.1v1.0h-8.1zM246.4 324.7h8.1v1.0h-8.1zM441.2 324.7h8.1v1.0h-8.1zM603.5 324.7h8.1v1.0h-8.1zM619.7 324.7h8.1v1.0h-8.1zM205.8 325.7h8.1v1.0h-8.1zM368.1 325.7h8.1v1.0h-8.1zM554.8 325.7h8.1v1.0h-8.1zM603.5 325.7h8.1v1.0h-8.1zM173.3 327.7h8.1v1.0h-8.1zM546.7 327.7h8.1v1.0h-8.1zM579.1 327.7h16.2v1.0h-16.2zM627.9 327.7h8.1v1.0h-8.1zM562.9 328.7h8.1v1.0h-8.1zM473.6 329.7h8.1v1.0h-8.1zM619.7 329.7h8.1v1.0h-8.1zM230.1 330.7h8.1v1.0h-8.1zM538.6 330.7h8.1v1.0h-8.1zM619.7 330.7h8.1v1.0h-8.1zM636.0 330.7h8.1v1.0h-8.1zM538.6 331.7h16.2v1.0h-16.2zM619.7 331.7h8.1v1.0h-8.1zM644.1 331.7h8.1v1.0h-8.1zM360.0 332.7h8.1v1.0h-8.1zM619.7 332.7h8.1v1.0h-8.1zM595.4 333.7h8.1v1.0h-8.1zM124.6 334.7h8.1v1.0h-8.1zM140.9 334.7h8.1v1.0h-8.1zM562.9 334.7h8.1v1.0h-8.1zM595.4 334.7h8.1v1.0h-8.1zM627.9 334.7h8.1v1.0h-8.1zM441.2 335.7h8.1v1.0h-8.1zM554.8 335.7h8.1v1.0h-8.1zM611.6 335.7h8.1v1.0h-8.1zM611.6 337.7h8.1v1.0h-8.1zM595.4 338.7h8.1v1.0h-8.1zM636.0 338.7h8.1v1.0h-8.1zM335.7 339.7h8.1v1.0h-8.1zM562.9 339.7h8.1v1.0h-8.1zM579.1 339.7h8.1v1.0h-8.1zM611.6 339.7h8.1v1.0h-8.1zM636.0 339.7h8.1v1.0h-8.1zM327.5 340.7h8.1v1.0h-8.1zM481.8 340.7h8.1v1.0h-8.1zM514.2 340.7h8.1v1.0h-8.1zM571.0 340.7h8.1v1.0h-8.1zM603.5 340.7h8.1v1.0h-8.1zM619.7 340.7h8.1v1.0h-8.1zM644.1 340.7h8.1v1.0h-8.1zM327.5 341.7h8.1v1.0h-8.1zM571.0 341.7h8.1v1.0h-8.1zM595.4 341.7h8.1v1.0h-8.1zM627.9 341.7h8.1v1.0h-8.1zM262.6 342.7h8.1v1.0h-8.1zM408.7 342.7h8.1v1.0h-8.1zM562.9 342.7h8.1v1.0h-8.1zM579.1 342.7h8.1v1.0h-8.1zM619.7 342.7h8.1v1.0h-8.1zM254.5 343.7h8.1v1.0h-8.1zM571.0 343.7h8.1v1.0h-8.1zM481.8 344.7h8.1v1.0h-8.1zM554.8 344.7h8.1v1.0h-8.1zM579.1 344.7h8.1v1.0h-8.1zM603.5 344.7h8.1v1.0h-8.1zM335.7 345.7h8.1v1.0h-8.1zM554.8 345.7h16.2v1.0h-16.2zM587.3 345.7h8.1v1.0h-8.1zM611.6 345.7h8.1v1.0h-8.1zM636.0 345.7h8.1v1.0h-8.1zM230.1 346.7h8.1v1.0h-8.1zM514.2 346.7h8.1v1.0h-8.1zM554.8 346.7h8.1v1.0h-8.1zM571.0 346.7h16.2v1.0h-16.2zM611.6 346.7h8.1v1.0h-8.1zM636.0 346.7h8.1v1.0h-8.1zM554.8 347.7h8.1v1.0h-8.1zM579.1 347.7h16.2v1.0h-16.2zM603.5 347.7h32.5v1.0h-32.5zM311.3 348.7h8.1v1.0h-8.1zM546.7 348.7h8.1v1.0h-8.1zM603.5 348.7h8.1v1.0h-8.1zM636.0 348.7h8.1v1.0h-8.1zM433.1 349.7h8.1v1.0h-8.1zM546.7 349.7h8.1v1.0h-8.1zM562.9 349.7h8.1v1.0h-8.1zM579.1 349.7h8.1v1.0h-8.1zM636.0 349.7h8.1v1.0h-8.1zM222.0 350.7h8.1v1.0h-8.1zM254.5 350.7h16.2v1.0h-16.2zM424.9 350.7h8.1v1.0h-8.1zM441.2 350.7h8.1v1.0h-8.1zM498.0 350.7h8.1v1.0h-8.1zM546.7 350.7h8.1v1.0h-8.1zM571.0 350.7h8.1v1.0h-8.1zM603.5 350.7h16.2v1.0h-16.2zM627.9 350.7h16.2v1.0h-16.2zM335.7 351.7h8.1v1.0h-8.1zM546.7 351.7h8.1v1.0h-8.1zM603.5 351.7h16.2v1.0h-16.2zM116.5 352.7h16.2v1.0h-16.2zM230.1 352.7h8.1v1.0h-8.1zM262.6 352.7h8.1v1.0h-8.1zM530.5 352.7h8.1v1.0h-8.1zM587.3 352.7h8.1v1.0h-8.1zM603.5 352.7h8.1v1.0h-8.1zM619.7 352.7h8.1v1.0h-8.1zM636.0 352.7h8.1v1.0h-8.1zM368.1 353.7h8.1v1.0h-8.1zM441.2 353.7h8.1v1.0h-8.1zM546.7 353.7h8.1v1.0h-8.1zM603.5 353.7h8.1v1.0h-8.1zM319.4 354.7h8.1v1.0h-8.1zM408.7 354.7h8.1v1.0h-8.1zM571.0 354.7h8.1v1.0h-8.1zM587.3 354.7h24.4v1.0h-24.4zM636.0 354.7h8.1v1.0h-8.1zM319.4 355.7h8.1v1.0h-8.1zM506.1 355.7h8.1v1.0h-8.1zM571.0 355.7h8.1v1.0h-8.1zM627.9 355.7h8.1v1.0h-8.1zM424.9 356.7h8.1v1.0h-8.1zM498.0 356.7h8.1v1.0h-8.1zM554.8 356.7h8.1v1.0h-8.1zM587.3 356.7h8.1v1.0h-8.1zM627.9 356.7h8.1v1.0h-8.1zM498.0 357.7h8.1v1.0h-8.1zM538.6 357.7h16.2v1.0h-16.2zM571.0 357.7h8.1v1.0h-8.1zM619.7 357.7h16.2v1.0h-16.2zM392.5 358.7h8.1v1.0h-8.1zM424.9 358.7h8.1v1.0h-8.1zM579.1 358.7h8.1v1.0h-8.1zM611.6 358.7h8.1v1.0h-8.1zM636.0 358.7h8.1v1.0h-8.1zM554.8 359.7h8.1v1.0h-8.1zM603.5 359.7h16.2v1.0h-16.2zM627.9 359.7h8.1v1.0h-8.1zM392.5 360.7h8.1v1.0h-8.1zM408.7 360.7h8.1v1.0h-8.1zM449.3 360.7h8.1v1.0h-8.1zM571.0 360.7h8.1v1.0h-8.1zM587.3 360.7h8.1v1.0h-8.1zM611.6 360.7h16.2v1.0h-16.2zM636.0 360.7h8.1v1.0h-8.1zM230.1 361.7h8.1v1.0h-8.1zM351.9 361.7h8.1v1.0h-8.1zM603.5 361.7h8.1v1.0h-8.1zM351.9 362.7h8.1v1.0h-8.1zM408.7 362.7h8.1v1.0h-8.1zM473.6 362.7h8.1v1.0h-8.1zM603.5 362.7h16.2v1.0h-16.2zM636.0 362.7h8.1v1.0h-8.1zM441.2 363.7h8.1v1.0h-8.1zM481.8 363.7h8.1v1.0h-8.1zM571.0 363.7h8.1v1.0h-8.1zM587.3 363.7h8.1v1.0h-8.1zM611.6 363.7h16.2v1.0h-16.2zM562.9 364.7h8.1v1.0h-8.1zM636.0 364.7h8.1v1.0h-8.1zM473.6 365.7h8.1v1.0h-8.1zM587.3 365.7h8.1v1.0h-8.1zM636.0 365.7h8.1v1.0h-8.1zM246.4 366.7h8.1v1.0h-8.1zM416.8 366.7h8.1v1.0h-8.1zM538.6 366.7h8.1v1.0h-8.1zM562.9 366.7h8.1v1.0h-8.1zM579.1 366.7h32.5v1.0h-32.5zM619.7 366.7h24.4v1.0h-24.4zM360.0 367.7h8.1v1.0h-8.1zM514.2 367.7h8.1v1.0h-8.1zM587.3 367.7h8.1v1.0h-8.1zM108.4 368.7h8.1v1.0h-8.1zM384.4 368.7h8.1v1.0h-8.1zM546.7 368.7h8.1v1.0h-8.1zM603.5 368.7h8.1v1.0h-8.1zM303.2 369.7h8.1v1.0h-8.1zM449.3 369.7h8.1v1.0h-8.1zM603.5 369.7h8.1v1.0h-8.1zM644.1 369.7h8.1v1.0h-8.1zM67.8 370.7h8.1v1.0h-8.1zM546.7 370.7h16.2v1.0h-16.2zM571.0 370.7h8.1v1.0h-8.1zM595.4 370.7h8.1v1.0h-8.1zM611.6 370.7h16.2v1.0h-16.2zM636.0 370.7h8.1v1.0h-8.1zM481.8 371.7h8.1v1.0h-8.1zM546.7 371.7h8.1v1.0h-8.1zM579.1 371.7h8.1v1.0h-8.1zM619.7 371.7h8.1v1.0h-8.1zM619.7 372.7h8.1v1.0h-8.1zM100.3 373.7h8.1v1.0h-8.1zM343.8 373.7h8.1v1.0h-8.1zM554.8 373.7h8.1v1.0h-8.1zM579.1 373.7h8.1v1.0h-8.1zM603.5 373.7h8.1v1.0h-8.1zM627.9 373.7h8.1v1.0h-8.1zM506.1 374.7h8.1v1.0h-8.1zM571.0 374.7h16.2v1.0h-16.2zM611.6 374.7h16.2v1.0h-16.2zM157.1 375.7h8.1v1.0h-8.1zM303.2 375.7h8.1v1.0h-8.1zM562.9 375.7h8.1v1.0h-8.1zM587.3 375.7h8.1v1.0h-8.1zM619.7 375.7h8.1v1.0h-8.1zM636.0 375.7h8.1v1.0h-8.1zM67.8 376.7h8.1v1.0h-8.1zM124.6 376.7h8.1v1.0h-8.1zM400.6 376.7h8.1v1.0h-8.1zM416.8 376.7h8.1v1.0h-8.1zM457.4 376.7h16.2v1.0h-16.2zM554.8 376.7h8.1v1.0h-8.1zM587.3 376.7h8.1v1.0h-8.1zM360.0 377.7h8.1v1.0h-8.1zM546.7 377.7h16.2v1.0h-16.2zM587.3 377.7h8.1v1.0h-8.1zM67.8 378.7h8.1v1.0h-8.1zM554.8 378.7h8.1v1.0h-8.1zM571.0 378.7h8.1v1.0h-8.1zM587.3 378.7h8.1v1.0h-8.1zM611.6 378.7h8.1v1.0h-8.1zM627.9 378.7h16.2v1.0h-16.2zM205.8 379.7h8.1v1.0h-8.1zM473.6 379.7h8.1v1.0h-8.1zM514.2 379.7h8.1v1.0h-8.1zM562.9 379.7h8.1v1.0h-8.1zM603.5 379.7h8.1v1.0h-8.1zM360.0 380.7h8.1v1.0h-8.1zM554.8 380.7h16.2v1.0h-16.2zM579.1 380.7h8.1v1.0h-8.1zM595.4 380.7h24.4v1.0h-24.4zM627.9 380.7h8.1v1.0h-8.1zM579.1 381.7h8.1v1.0h-8.1zM611.6 381.7h24.4v1.0h-24.4zM327.5 382.7h8.1v1.0h-8.1zM457.4 382.7h8.1v1.0h-8.1zM571.0 382.7h8.1v1.0h-8.1zM587.3 382.7h8.1v1.0h-8.1zM611.6 382.7h16.2v1.0h-16.2zM246.4 383.7h8.1v1.0h-8.1zM384.4 383.7h8.1v1.0h-8.1zM554.8 383.7h8.1v1.0h-8.1zM579.1 383.7h8.1v1.0h-8.1zM627.9 383.7h16.2v1.0h-16.2zM262.6 384.7h8.1v1.0h-8.1zM327.5 384.7h8.1v1.0h-8.1zM473.6 384.7h8.1v1.0h-8.1zM546.7 384.7h24.4v1.0h-24.4zM579.1 384.7h8.1v1.0h-8.1zM67.8 385.7h8.1v1.0h-8.1zM205.8 385.7h8.1v1.0h-8.1zM360.0 385.7h8.1v1.0h-8.1zM579.1 385.7h8.1v1.0h-8.1zM603.5 385.7h8.1v1.0h-8.1zM619.7 385.7h8.1v1.0h-8.1zM238.2 386.7h8.1v1.0h-8.1zM473.6 386.7h16.2v1.0h-16.2zM538.6 386.7h24.4v1.0h-24.4zM603.5 386.7h8.1v1.0h-8.1zM514.2 387.7h8.1v1.0h-8.1zM546.7 387.7h8.1v1.0h-8.1zM579.1 387.7h8.1v1.0h-8.1zM619.7 387.7h8.1v1.0h-8.1zM554.8 388.7h16.2v1.0h-16.2zM603.5 388.7h8.1v1.0h-8.1zM627.9 388.7h16.2v1.0h-16.2zM481.8 389.7h8.1v1.0h-8.1zM554.8 389.7h8.1v1.0h-8.1zM571.0 389.7h8.1v1.0h-8.1zM595.4 389.7h8.1v1.0h-8.1zM262.6 390.7h8.1v1.0h-8.1zM473.6 390.7h8.1v1.0h-8.1zM554.8 390.7h16.2v1.0h-16.2zM579.1 390.7h8.1v1.0h-8.1zM627.9 390.7h8.1v1.0h-8.1zM514.2 391.7h8.1v1.0h-8.1zM571.0 391.7h8.1v1.0h-8.1zM587.3 391.7h8.1v1.0h-8.1zM603.5 391.7h8.1v1.0h-8.1zM424.9 392.7h8.1v1.0h-8.1zM465.5 392.7h16.2v1.0h-16.2zM562.9 392.7h16.2v1.0h-16.2zM595.4 392.7h8.1v1.0h-8.1zM611.6 392.7h8.1v1.0h-8.1zM262.6 393.7h8.1v1.0h-8.1zM335.7 393.7h8.1v1.0h-8.1zM416.8 393.7h8.1v1.0h-8.1zM473.6 393.7h8.1v1.0h-8.1zM546.7 393.7h16.2v1.0h-16.2zM579.1 393.7h8.1v1.0h-8.1zM611.6 393.7h8.1v1.0h-8.1zM514.2 394.7h8.1v1.0h-8.1zM538.6 394.7h16.2v1.0h-16.2zM579.1 394.7h8.1v1.0h-8.1zM619.7 394.7h24.4v1.0h-24.4zM100.3 395.7h8.1v1.0h-8.1zM238.2 395.7h8.1v1.0h-8.1zM562.9 395.7h8.1v1.0h-8.1zM579.1 395.7h8.1v1.0h-8.1zM376.2 396.7h16.2v1.0h-16.2zM562.9 396.7h8.1v1.0h-8.1zM603.5 396.7h8.1v1.0h-8.1zM619.7 396.7h8.1v1.0h-8.1zM108.4 397.7h8.1v1.0h-8.1zM262.6 397.7h8.1v1.0h-8.1zM441.2 397.7h8.1v1.0h-8.1zM538.6 397.7h8.1v1.0h-8.1zM579.1 397.7h8.1v1.0h-8.1zM636.0 397.7h8.1v1.0h-8.1zM254.5 398.7h8.1v1.0h-8.1zM554.8 398.7h8.1v1.0h-8.1zM636.0 398.7h8.1v1.0h-8.1zM84.0 399.7h8.1v1.0h-8.1zM571.0 399.7h8.1v1.0h-8.1zM595.4 399.7h8.1v1.0h-8.1zM303.2 400.7h8.1v1.0h-8.1zM319.4 400.7h8.1v1.0h-8.1zM538.6 400.7h8.1v1.0h-8.1zM579.1 400.7h8.1v1.0h-8.1zM351.9 401.7h8.1v1.0h-8.1zM571.0 401.7h8.1v1.0h-8.1zM595.4 401.7h8.1v1.0h-8.1zM619.7 401.7h8.1v1.0h-8.1zM457.4 402.7h8.1v1.0h-8.1zM546.7 402.7h8.1v1.0h-8.1zM603.5 402.7h8.1v1.0h-8.1zM619.7 402.7h8.1v1.0h-8.1zM262.6 403.7h8.1v1.0h-8.1zM408.7 403.7h8.1v1.0h-8.1zM465.5 403.7h8.1v1.0h-8.1zM579.1 403.7h8.1v1.0h-8.1zM603.5 403.7h8.1v1.0h-8.1zM636.0 403.7h8.1v1.0h-8.1zM408.7 404.7h8.1v1.0h-8.1zM587.3 404.7h8.1v1.0h-8.1zM603.5 404.7h8.1v1.0h-8.1zM124.6 405.7h8.1v1.0h-8.1zM400.6 405.7h8.1v1.0h-8.1zM441.2 405.7h8.1v1.0h-8.1zM546.7 405.7h8.1v1.0h-8.1zM562.9 405.7h16.2v1.0h-16.2zM595.4 405.7h16.2v1.0h-16.2zM636.0 405.7h8.1v1.0h-8.1zM230.1 406.7h8.1v1.0h-8.1zM295.1 406.7h8.1v1.0h-8.1zM311.3 406.7h8.1v1.0h-8.1zM506.1 406.7h8.1v1.0h-8.1zM611.6 406.7h8.1v1.0h-8.1zM149.0 408.7h8.1v1.0h-8.1zM270.7 409.7h8.1v1.0h-8.1zM319.4 409.7h8.1v1.0h-8.1zM278.8 410.7h8.1v1.0h-8.1zM368.1 410.7h8.1v1.0h-8.1zM441.2 410.7h8.1v1.0h-8.1zM213.9 412.7h8.1v1.0h-8.1zM295.1 412.7h8.1v1.0h-8.1zM595.4 413.7h8.1v1.0h-8.1zM67.8 414.7h8.1v1.0h-8.1zM351.9 414.7h8.1v1.0h-8.1zM400.6 415.7h8.1v1.0h-8.1zM457.4 415.7h8.1v1.0h-8.1zM562.9 415.7h8.1v1.0h-8.1zM506.1 417.7h8.1v1.0h-8.1zM67.8 418.7h8.1v1.0h-8.1zM254.5 418.7h16.2v1.0h-16.2zM473.6 418.7h8.1v1.0h-8.1zM262.6 419.7h8.1v1.0h-8.1zM92.2 420.7h8.1v1.0h-8.1zM116.5 422.7h8.1v1.0h-8.1zM270.7 422.7h8.1v1.0h-8.1zM441.2 423.7h8.1v1.0h-8.1zM441.2 424.7h8.1v1.0h-8.1zM67.8 425.7h8.1v1.0h-8.1zM213.9 425.7h8.1v1.0h-8.1zM351.9 425.7h8.1v1.0h-8.1zM384.4 426.7h8.1v1.0h-8.1zM67.8 427.7h8.1v1.0h-8.1zM481.8 427.7h8.1v1.0h-8.1zM514.2 427.7h8.1v1.0h-8.1zM587.3 427.7h8.1v1.0h-8.1zM67.8 428.7h8.1v1.0h-8.1zM554.8 428.7h8.1v1.0h-8.1zM205.8 429.7h8.1v1.0h-8.1zM554.8 430.7h8.1v1.0h-8.1zM441.2 431.7h8.1v1.0h-8.1zM351.9 432.7h8.1v1.0h-8.1zM157.1 433.7h8.1v1.0h-8.1zM270.7 433.7h8.1v1.0h-8.1zM554.8 433.7h8.1v1.0h-8.1zM157.1 434.7h8.1v1.0h-8.1zM124.6 436.7h8.1v1.0h-8.1zM262.6 436.7h8.1v1.0h-8.1zM75.9 437.7h8.1v1.0h-8.1zM270.7 439.7h8.1v1.0h-8.1zM416.8 439.7h8.1v1.0h-8.1zM603.5 439.7h8.1v1.0h-8.1zM67.8 440.7h8.1v1.0h-8.1zM392.5 441.7h8.1v1.0h-8.1zM522.3 441.7h8.1v1.0h-8.1zM270.7 442.7h8.1v1.0h-8.1zM360.0 442.7h8.1v1.0h-8.1zM473.6 442.7h8.1v1.0h-8.1zM473.6 443.7h8.1v1.0h-8.1z"/><path fill="#000000" fill-opacity="0.056" d="M173.3 256.7h8.1v1.0h-8.1zM254.5 256.7h8.1v1.0h-8.1zM270.7 256.7h8.1v1.0h-8.1zM489.9 256.7h8.1v1.0h-8.1zM546.7 256.7h8.1v1.0h-8.1zM627.9 256.7h8.1v1.0h-8.1zM124.6 257.7h8.1v1.0h-8.1zM262.6 257.7h8.1v1.0h-8.1zM514.2 257.7h8.1v1.0h-8.1zM579.1 257.7h8.1v1.0h-8.1zM644.1 257.7h8.1v1.0h-8.1zM124.6 258.7h8.1v1.0h-8.1zM149.0 258.7h8.1v1.0h-8.1zM246.4 258.7h8.1v1.0h-8.1zM368.1 258.7h8.1v1.0h-8.1zM416.8 258.7h8.1v1.0h-8.1zM498.0 258.7h8.1v1.0h-8.1zM514.2 258.7h8.1v1.0h-8.1zM571.0 258.7h8.1v1.0h-8.1zM595.4 258.7h16.2v1.0h-16.2zM92.2 259.7h8.1v1.0h-8.1zM140.9 259.7h8.1v1.0h-8.1zM230.1 259.7h16.2v1.0h-16.2zM360.0 259.7h8.1v1.0h-8.1zM392.5 259.7h8.1v1.0h-8.1zM416.8 259.7h8.1v1.0h-8.1zM546.7 259.7h8.1v1.0h-8.1zM603.5 259.7h8.1v1.0h-8.1zM644.1 259.7h8.1v1.0h-8.1zM92.2 260.7h8.1v1.0h-8.1zM108.4 260.7h8.1v1.0h-8.1zM124.6 260.7h16.2v1.0h-16.2zM149.0 260.7h8.1v1.0h-8.1zM173.3 260.7h8.1v1.0h-8.1zM197.7 260.7h8.1v1.0h-8.1zM213.9 260.7h8.1v1.0h-8.1zM230.1 260.7h8.1v1.0h-8.1zM246.4 260.7h8.1v1.0h-8.1zM286.9 260.7h8.1v1.0h-8.1zM489.9 260.7h8.1v1.0h-8.1zM514.2 260.7h8.1v1.0h-8.1zM108.4 261.7h8.1v1.0h-8.1zM400.6 261.7h16.2v1.0h-16.2zM457.4 261.7h8.1v1.0h-8.1zM498.0 261.7h24.4v1.0h-24.4zM571.0 261.7h16.2v1.0h-16.2zM595.4 261.7h8.1v1.0h-8.1zM92.2 262.7h8.1v1.0h-8.1zM108.4 262.7h8.1v1.0h-8.1zM230.1 262.7h16.2v1.0h-16.2zM343.8 262.7h8.1v1.0h-8.1zM360.0 262.7h8.1v1.0h-8.1zM416.8 262.7h8.1v1.0h-8.1zM457.4 262.7h8.1v1.0h-8.1zM579.1 262.7h8.1v1.0h-8.1zM636.0 262.7h8.1v1.0h-8.1zM230.1 263.7h8.1v1.0h-8.1zM246.4 263.7h8.1v1.0h-8.1zM286.9 263.7h8.1v1.0h-8.1zM408.7 263.7h8.1v1.0h-8.1zM546.7 263.7h8.1v1.0h-8.1zM627.9 263.7h8.1v1.0h-8.1zM157.1 264.7h8.1v1.0h-8.1zM449.3 264.7h8.1v1.0h-8.1zM481.8 264.7h8.1v1.0h-8.1zM530.5 264.7h8.1v1.0h-8.1zM644.1 264.7h8.1v1.0h-8.1zM67.8 265.7h8.1v1.0h-8.1zM108.4 265.7h8.1v1.0h-8.1zM124.6 265.7h8.1v1.0h-8.1zM286.9 265.7h8.1v1.0h-8.1zM368.1 265.7h8.1v1.0h-8.1zM408.7 265.7h8.1v1.0h-8.1zM571.0 265.7h8.1v1.0h-8.1zM603.5 265.7h8.1v1.0h-8.1zM124.6 266.7h8.1v1.0h-8.1zM149.0 266.7h8.1v1.0h-8.1zM303.2 266.7h8.1v1.0h-8.1zM343.8 266.7h8.1v1.0h-8.1zM368.1 266.7h8.1v1.0h-8.1zM546.7 266.7h8.1v1.0h-8.1zM571.0 266.7h8.1v1.0h-8.1zM603.5 266.7h8.1v1.0h-8.1zM149.0 267.7h8.1v1.0h-8.1zM165.2 267.7h8.1v1.0h-8.1zM230.1 267.7h8.1v1.0h-8.1zM303.2 267.7h8.1v1.0h-8.1zM335.7 267.7h8.1v1.0h-8.1zM368.1 267.7h8.1v1.0h-8.1zM473.6 267.7h8.1v1.0h-8.1zM538.6 267.7h8.1v1.0h-8.1zM587.3 267.7h8.1v1.0h-8.1zM644.1 267.7h8.1v1.0h-8.1zM67.8 268.7h8.1v1.0h-8.1zM140.9 268.7h8.1v1.0h-8.1zM408.7 268.7h8.1v1.0h-8.1zM457.4 268.7h24.4v1.0h-24.4zM514.2 268.7h8.1v1.0h-8.1zM562.9 268.7h8.1v1.0h-8.1zM579.1 268.7h8.1v1.0h-8.1zM644.1 268.7h8.1v1.0h-8.1zM140.9 269.7h8.1v1.0h-8.1zM197.7 269.7h8.1v1.0h-8.1zM254.5 269.7h8.1v1.0h-8.1zM286.9 269.7h8.1v1.0h-8.1zM360.0 269.7h16.2v1.0h-16.2zM473.6 269.7h8.1v1.0h-8.1zM530.5 269.7h8.1v1.0h-8.1zM554.8 269.7h8.1v1.0h-8.1zM644.1 269.7h8.1v1.0h-8.1zM173.3 270.7h8.1v1.0h-8.1zM205.8 270.7h8.1v1.0h-8.1zM262.6 270.7h8.1v1.0h-8.1zM295.1 270.7h8.1v1.0h-8.1zM368.1 270.7h8.1v1.0h-8.1zM562.9 270.7h8.1v1.0h-8.1zM644.1 270.7h8.1v1.0h-8.1zM189.6 271.7h8.1v1.0h-8.1zM205.8 271.7h16.2v1.0h-16.2zM303.2 271.7h8.1v1.0h-8.1zM360.0 271.7h16.2v1.0h-16.2zM384.4 271.7h8.1v1.0h-8.1zM538.6 271.7h8.1v1.0h-8.1zM562.9 271.7h8.1v1.0h-8.1zM603.5 271.7h8.1v1.0h-8.1zM197.7 272.7h8.1v1.0h-8.1zM246.4 272.7h8.1v1.0h-8.1zM262.6 272.7h8.1v1.0h-8.1zM303.2 272.7h8.1v1.0h-8.1zM327.5 272.7h8.1v1.0h-8.1zM457.4 272.7h16.2v1.0h-16.2zM489.9 272.7h8.1v1.0h-8.1zM603.5 272.7h8.1v1.0h-8.1zM636.0 272.7h16.2v1.0h-16.2zM140.9 273.7h16.2v1.0h-16.2zM197.7 273.7h8.1v1.0h-8.1zM213.9 273.7h8.1v1.0h-8.1zM238.2 273.7h8.1v1.0h-8.1zM262.6 273.7h8.1v1.0h-8.1zM408.7 273.7h8.1v1.0h-8.1zM465.5 273.7h8.1v1.0h-8.1zM571.0 273.7h16.2v1.0h-16.2zM108.4 274.7h8.1v1.0h-8.1zM149.0 274.7h8.1v1.0h-8.1zM197.7 274.7h8.1v1.0h-8.1zM230.1 274.7h8.1v1.0h-8.1zM270.7 274.7h8.1v1.0h-8.1zM400.6 274.7h8.1v1.0h-8.1zM514.2 274.7h8.1v1.0h-8.1zM562.9 274.7h8.1v1.0h-8.1zM262.6 275.7h8.1v1.0h-8.1zM303.2 275.7h8.1v1.0h-8.1zM124.6 276.7h8.1v1.0h-8.1zM165.2 276.7h8.1v1.0h-8.1zM286.9 276.7h8.1v1.0h-8.1zM343.8 276.7h8.1v1.0h-8.1zM441.2 276.7h8.1v1.0h-8.1zM457.4 276.7h8.1v1.0h-8.1zM132.7 277.7h8.1v1.0h-8.1zM173.3 277.7h8.1v1.0h-8.1zM303.2 277.7h8.1v1.0h-8.1zM441.2 277.7h8.1v1.0h-8.1zM457.4 277.7h8.1v1.0h-8.1zM489.9 277.7h8.1v1.0h-8.1zM514.2 277.7h8.1v1.0h-8.1zM124.6 278.7h8.1v1.0h-8.1zM230.1 278.7h8.1v1.0h-8.1zM303.2 278.7h8.1v1.0h-8.1zM400.6 278.7h24.4v1.0h-24.4zM514.2 278.7h8.1v1.0h-8.1zM603.5 278.7h8.1v1.0h-8.1zM92.2 279.7h16.2v1.0h-16.2zM124.6 279.7h8.1v1.0h-8.1zM230.1 279.7h16.2v1.0h-16.2zM286.9 279.7h8.1v1.0h-8.1zM303.2 279.7h8.1v1.0h-8.1zM408.7 279.7h8.1v1.0h-8.1zM441.2 279.7h16.2v1.0h-16.2zM522.3 279.7h8.1v1.0h-8.1zM546.7 279.7h16.2v1.0h-16.2zM595.4 279.7h8.1v1.0h-8.1zM140.9 280.7h8.1v1.0h-8.1zM360.0 280.7h8.1v1.0h-8.1zM498.0 280.7h8.1v1.0h-8.1zM522.3 280.7h16.2v1.0h-16.2zM644.1 280.7h8.1v1.0h-8.1zM108.4 281.7h8.1v1.0h-8.1zM124.6 281.7h8.1v1.0h-8.1zM140.9 281.7h8.1v1.0h-8.1zM197.7 281.7h8.1v1.0h-8.1zM295.1 281.7h8.1v1.0h-8.1zM343.8 281.7h8.1v1.0h-8.1zM360.0 281.7h8.1v1.0h-8.1zM506.1 281.7h8.1v1.0h-8.1zM149.0 282.7h8.1v1.0h-8.1zM230.1 282.7h8.1v1.0h-8.1zM254.5 282.7h8.1v1.0h-8.1zM303.2 282.7h8.1v1.0h-8.1zM408.7 282.7h16.2v1.0h-16.2zM441.2 282.7h8.1v1.0h-8.1zM481.8 282.7h8.1v1.0h-8.1zM522.3 282.7h8.1v1.0h-8.1zM595.4 282.7h8.1v1.0h-8.1zM149.0 283.7h8.1v1.0h-8.1zM213.9 283.7h8.1v1.0h-8.1zM238.2 283.7h8.1v1.0h-8.1zM295.1 283.7h8.1v1.0h-8.1zM384.4 283.7h8.1v1.0h-8.1zM457.4 283.7h8.1v1.0h-8.1zM481.8 283.7h8.1v1.0h-8.1zM522.3 283.7h8.1v1.0h-8.1zM595.4 283.7h8.1v1.0h-8.1zM644.1 283.7h8.1v1.0h-8.1zM67.8 284.7h8.1v1.0h-8.1zM124.6 284.7h8.1v1.0h-8.1zM238.2 284.7h8.1v1.0h-8.1zM343.8 284.7h8.1v1.0h-8.1zM514.2 284.7h8.1v1.0h-8.1zM562.9 284.7h8.1v1.0h-8.1zM579.1 284.7h8.1v1.0h-8.1zM603.5 284.7h8.1v1.0h-8.1zM92.2 285.7h8.1v1.0h-8.1zM124.6 285.7h8.1v1.0h-8.1zM197.7 285.7h8.1v1.0h-8.1zM286.9 285.7h8.1v1.0h-8.1zM595.4 285.7h16.2v1.0h-16.2zM636.0 285.7h16.2v1.0h-16.2zM392.5 286.7h8.1v1.0h-8.1zM489.9 286.7h8.1v1.0h-8.1zM514.2 286.7h8.1v1.0h-8.1zM530.5 286.7h8.1v1.0h-8.1zM579.1 286.7h8.1v1.0h-8.1zM124.6 287.7h8.1v1.0h-8.1zM262.6 287.7h8.1v1.0h-8.1zM303.2 287.7h8.1v1.0h-8.1zM587.3 287.7h8.1v1.0h-8.1zM603.5 287.7h8.1v1.0h-8.1zM238.2 288.7h8.1v1.0h-8.1zM303.2 288.7h8.1v1.0h-8.1zM132.7 289.7h8.1v1.0h-8.1zM205.8 289.7h8.1v1.0h-8.1zM254.5 289.7h8.1v1.0h-8.1zM335.7 289.7h8.1v1.0h-8.1zM441.2 289.7h8.1v1.0h-8.1zM481.8 289.7h8.1v1.0h-8.1zM571.0 289.7h16.2v1.0h-16.2zM595.4 289.7h8.1v1.0h-8.1zM84.0 290.7h8.1v1.0h-8.1zM181.4 290.7h16.2v1.0h-16.2zM213.9 290.7h8.1v1.0h-8.1zM262.6 290.7h16.2v1.0h-16.2zM303.2 290.7h16.2v1.0h-16.2zM351.9 290.7h8.1v1.0h-8.1zM376.2 290.7h8.1v1.0h-8.1zM441.2 290.7h8.1v1.0h-8.1zM538.6 290.7h8.1v1.0h-8.1zM587.3 290.7h8.1v1.0h-8.1zM603.5 290.7h8.1v1.0h-8.1zM222.0 291.7h8.1v1.0h-8.1zM254.5 291.7h8.1v1.0h-8.1zM327.5 291.7h8.1v1.0h-8.1zM408.7 291.7h8.1v1.0h-8.1zM424.9 291.7h8.1v1.0h-8.1zM473.6 291.7h24.4v1.0h-24.4zM514.2 291.7h8.1v1.0h-8.1zM75.9 292.7h8.1v1.0h-8.1zM116.5 292.7h8.1v1.0h-8.1zM270.7 292.7h8.1v1.0h-8.1zM481.8 292.7h16.2v1.0h-16.2zM514.2 292.7h8.1v1.0h-8.1zM213.9 293.7h8.1v1.0h-8.1zM254.5 293.7h24.4v1.0h-24.4zM327.5 293.7h8.1v1.0h-8.1zM376.2 293.7h8.1v1.0h-8.1zM392.5 293.7h8.1v1.0h-8.1zM595.4 293.7h8.1v1.0h-8.1zM644.1 293.7h8.1v1.0h-8.1zM173.3 294.7h8.1v1.0h-8.1zM311.3 294.7h8.1v1.0h-8.1zM351.9 294.7h8.1v1.0h-8.1zM424.9 294.7h16.2v1.0h-16.2zM506.1 294.7h8.1v1.0h-8.1zM571.0 294.7h8.1v1.0h-8.1zM587.3 294.7h8.1v1.0h-8.1zM132.7 295.7h8.1v1.0h-8.1zM189.6 295.7h8.1v1.0h-8.1zM222.0 295.7h8.1v1.0h-8.1zM384.4 295.7h8.1v1.0h-8.1zM441.2 295.7h8.1v1.0h-8.1zM465.5 295.7h8.1v1.0h-8.1zM538.6 295.7h24.4v1.0h-24.4zM587.3 295.7h8.1v1.0h-8.1zM603.5 295.7h8.1v1.0h-8.1zM75.9 296.7h8.1v1.0h-8.1zM124.6 296.7h8.1v1.0h-8.1zM140.9 296.7h8.1v1.0h-8.1zM205.8 296.7h16.2v1.0h-16.2zM270.7 296.7h8.1v1.0h-8.1zM368.1 296.7h8.1v1.0h-8.1zM465.5 296.7h16.2v1.0h-16.2zM489.9 296.7h8.1v1.0h-8.1zM530.5 296.7h8.1v1.0h-8.1zM636.0 296.7h16.2v1.0h-16.2zM116.5 297.7h8.1v1.0h-8.1zM140.9 297.7h8.1v1.0h-8.1zM270.7 297.7h8.1v1.0h-8.1zM433.1 297.7h8.1v1.0h-8.1zM562.9 297.7h8.1v1.0h-8.1zM627.9 297.7h8.1v1.0h-8.1zM75.9 298.7h8.1v1.0h-8.1zM124.6 298.7h8.1v1.0h-8.1zM213.9 298.7h8.1v1.0h-8.1zM254.5 298.7h8.1v1.0h-8.1zM351.9 298.7h8.1v1.0h-8.1zM368.1 299.7h8.1v1.0h-8.1zM530.5 299.7h8.1v1.0h-8.1zM562.9 299.7h8.1v1.0h-8.1zM636.0 299.7h8.1v1.0h-8.1zM108.4 300.7h8.1v1.0h-8.1zM173.3 300.7h16.2v1.0h-16.2zM213.9 300.7h8.1v1.0h-8.1zM327.5 300.7h8.1v1.0h-8.1zM424.9 300.7h8.1v1.0h-8.1zM465.5 300.7h8.1v1.0h-8.1zM644.1 300.7h8.1v1.0h-8.1zM132.7 301.7h8.1v1.0h-8.1zM424.9 301.7h8.1v1.0h-8.1zM506.1 301.7h16.2v1.0h-16.2zM67.8 302.7h8.1v1.0h-8.1zM116.5 302.7h8.1v1.0h-8.1zM157.1 302.7h8.1v1.0h-8.1zM465.5 302.7h8.1v1.0h-8.1zM506.1 302.7h16.2v1.0h-16.2zM530.5 302.7h8.1v1.0h-8.1zM546.7 302.7h16.2v1.0h-16.2zM149.0 303.7h8.1v1.0h-8.1zM165.2 303.7h8.1v1.0h-8.1zM270.7 303.7h8.1v1.0h-8.1zM295.1 303.7h8.1v1.0h-8.1zM360.0 303.7h8.1v1.0h-8.1zM376.2 303.7h8.1v1.0h-8.1zM489.9 303.7h8.1v1.0h-8.1zM562.9 303.7h8.1v1.0h-8.1zM67.8 304.7h8.1v1.0h-8.1zM165.2 304.7h8.1v1.0h-8.1zM246.4 304.7h24.4v1.0h-24.4zM311.3 304.7h8.1v1.0h-8.1zM408.7 304.7h8.1v1.0h-8.1zM489.9 304.7h8.1v1.0h-8.1zM636.0 304.7h8.1v1.0h-8.1zM124.6 305.7h8.1v1.0h-8.1zM165.2 305.7h8.1v1.0h-8.1zM222.0 305.7h8.1v1.0h-8.1zM278.8 305.7h8.1v1.0h-8.1zM303.2 305.7h8.1v1.0h-8.1zM351.9 305.7h8.1v1.0h-8.1zM408.7 305.7h8.1v1.0h-8.1zM465.5 305.7h8.1v1.0h-8.1zM546.7 305.7h16.2v1.0h-16.2zM587.3 305.7h8.1v1.0h-8.1zM197.7 306.7h8.1v1.0h-8.1zM295.1 306.7h8.1v1.0h-8.1zM360.0 306.7h8.1v1.0h-8.1zM384.4 306.7h8.1v1.0h-8.1zM400.6 306.7h8.1v1.0h-8.1zM546.7 306.7h8.1v1.0h-8.1zM603.5 306.7h8.1v1.0h-8.1zM619.7 306.7h8.1v1.0h-8.1zM108.4 307.7h8.1v1.0h-8.1zM238.2 307.7h8.1v1.0h-8.1zM457.4 307.7h8.1v1.0h-8.1zM522.3 307.7h8.1v1.0h-8.1zM619.7 307.7h8.1v1.0h-8.1zM92.2 308.7h8.1v1.0h-8.1zM140.9 308.7h8.1v1.0h-8.1zM286.9 308.7h8.1v1.0h-8.1zM335.7 308.7h8.1v1.0h-8.1zM360.0 308.7h8.1v1.0h-8.1zM408.7 308.7h8.1v1.0h-8.1zM473.6 308.7h8.1v1.0h-8.1zM498.0 308.7h8.1v1.0h-8.1zM546.7 308.7h8.1v1.0h-8.1zM562.9 308.7h16.2v1.0h-16.2zM587.3 308.7h16.2v1.0h-16.2zM100.3 309.7h8.1v1.0h-8.1zM222.0 309.7h8.1v1.0h-8.1zM311.3 309.7h8.1v1.0h-8.1zM498.0 309.7h8.1v1.0h-8.1zM514.2 309.7h8.1v1.0h-8.1zM254.5 310.7h16.2v1.0h-16.2zM286.9 310.7h8.1v1.0h-8.1zM603.5 310.7h8.1v1.0h-8.1zM262.6 311.7h8.1v1.0h-8.1zM360.0 311.7h24.4v1.0h-24.4zM392.5 311.7h8.1v1.0h-8.1zM546.7 311.7h8.1v1.0h-8.1zM67.8 312.7h8.1v1.0h-8.1zM254.5 312.7h16.2v1.0h-16.2zM295.1 312.7h8.1v1.0h-8.1zM481.8 312.7h8.1v1.0h-8.1zM498.0 312.7h8.1v1.0h-8.1zM571.0 312.7h8.1v1.0h-8.1zM595.4 312.7h16.2v1.0h-16.2zM157.1 313.7h8.1v1.0h-8.1zM213.9 313.7h8.1v1.0h-8.1zM230.1 313.7h8.1v1.0h-8.1zM286.9 313.7h8.1v1.0h-8.1zM465.5 313.7h8.1v1.0h-8.1zM481.8 313.7h8.1v1.0h-8.1zM595.4 313.7h8.1v1.0h-8.1zM84.0 314.7h8.1v1.0h-8.1zM173.3 314.7h8.1v1.0h-8.1zM311.3 314.7h8.1v1.0h-8.1zM384.4 314.7h8.1v1.0h-8.1zM408.7 314.7h8.1v1.0h-8.1zM481.8 314.7h8.1v1.0h-8.1zM506.1 314.7h8.1v1.0h-8.1zM546.7 314.7h8.1v1.0h-8.1zM562.9 314.7h16.2v1.0h-16.2zM140.9 315.7h8.1v1.0h-8.1zM157.1 315.7h8.1v1.0h-8.1zM262.6 315.7h16.2v1.0h-16.2zM343.8 315.7h8.1v1.0h-8.1zM546.7 315.7h32.5v1.0h-32.5zM595.4 315.7h24.4v1.0h-24.4zM92.2 316.7h8.1v1.0h-8.1zM270.7 316.7h8.1v1.0h-8.1zM335.7 316.7h8.1v1.0h-8.1zM441.2 316.7h16.2v1.0h-16.2zM571.0 316.7h8.1v1.0h-8.1zM157.1 317.7h8.1v1.0h-8.1zM246.4 317.7h24.4v1.0h-24.4zM278.8 317.7h8.1v1.0h-8.1zM392.5 317.7h8.1v1.0h-8.1zM408.7 317.7h8.1v1.0h-8.1zM441.2 317.7h8.1v1.0h-8.1zM562.9 317.7h16.2v1.0h-16.2zM100.3 318.7h8.1v1.0h-8.1zM157.1 318.7h8.1v1.0h-8.1zM197.7 318.7h8.1v1.0h-8.1zM254.5 318.7h8.1v1.0h-8.1zM303.2 318.7h16.2v1.0h-16.2zM343.8 318.7h8.1v1.0h-8.1zM449.3 318.7h8.1v1.0h-8.1zM571.0 318.7h8.1v1.0h-8.1zM587.3 318.7h8.1v1.0h-8.1zM75.9 319.7h8.1v1.0h-8.1zM92.2 319.7h8.1v1.0h-8.1zM132.7 319.7h8.1v1.0h-8.1zM246.4 319.7h8.1v1.0h-8.1zM286.9 319.7h8.1v1.0h-8.1zM457.4 319.7h8.1v1.0h-8.1zM595.4 319.7h8.1v1.0h-8.1zM619.7 319.7h24.4v1.0h-24.4zM149.0 320.7h16.2v1.0h-16.2zM197.7 320.7h8.1v1.0h-8.1zM270.7 320.7h8.1v1.0h-8.1zM376.2 320.7h8.1v1.0h-8.1zM400.6 320.7h8.1v1.0h-8.1zM441.2 320.7h8.1v1.0h-8.1zM554.8 320.7h24.4v1.0h-24.4zM595.4 320.7h16.2v1.0h-16.2zM619.7 320.7h8.1v1.0h-8.1zM84.0 321.7h8.1v1.0h-8.1zM132.7 321.7h8.1v1.0h-8.1zM254.5 321.7h8.1v1.0h-8.1zM311.3 321.7h8.1v1.0h-8.1zM368.1 321.7h8.1v1.0h-8.1zM384.4 321.7h8.1v1.0h-8.1zM473.6 321.7h8.1v1.0h-8.1zM562.9 321.7h24.4v1.0h-24.4zM636.0 321.7h8.1v1.0h-8.1zM67.8 322.7h8.1v1.0h-8.1zM132.7 322.7h8.1v1.0h-8.1zM205.8 322.7h8.1v1.0h-8.1zM303.2 322.7h8.1v1.0h-8.1zM368.1 322.7h8.1v1.0h-8.1zM400.6 322.7h8.1v1.0h-8.1zM506.1 322.7h8.1v1.0h-8.1zM562.9 322.7h8.1v1.0h-8.1zM595.4 322.7h8.1v1.0h-8.1zM189.6 323.7h8.1v1.0h-8.1zM222.0 323.7h8.1v1.0h-8.1zM254.5 323.7h8.1v1.0h-8.1zM311.3 323.7h8.1v1.0h-8.1zM335.7 323.7h8.1v1.0h-8.1zM360.0 323.7h8.1v1.0h-8.1zM546.7 323.7h16.2v1.0h-16.2zM75.9 324.7h8.1v1.0h-8.1zM108.4 324.7h8.1v1.0h-8.1zM254.5 324.7h8.1v1.0h-8.1zM303.2 324.7h8.1v1.0h-8.1zM351.9 324.7h8.1v1.0h-8.1zM465.5 324.7h8.1v1.0h-8.1zM514.2 324.7h8.1v1.0h-8.1zM554.8 324.7h16.2v1.0h-16.2zM627.9 324.7h8.1v1.0h-8.1zM230.1 325.7h8.1v1.0h-8.1zM262.6 325.7h8.1v1.0h-8.1zM286.9 325.7h8.1v1.0h-8.1zM303.2 325.7h8.1v1.0h-8.1zM335.7 325.7h8.1v1.0h-8.1zM392.5 325.7h8.1v1.0h-8.1zM465.5 325.7h8.1v1.0h-8.1zM587.3 325.7h16.2v1.0h-16.2zM627.9 325.7h8.1v1.0h-8.1zM213.9 326.7h8.1v1.0h-8.1zM254.5 326.7h16.2v1.0h-16.2zM311.3 326.7h8.1v1.0h-8.1zM327.5 326.7h8.1v1.0h-8.1zM392.5 326.7h8.1v1.0h-8.1zM538.6 326.7h8.1v1.0h-8.1zM554.8 326.7h16.2v1.0h-16.2zM595.4 326.7h16.2v1.0h-16.2zM627.9 326.7h8.1v1.0h-8.1zM157.1 327.7h8.1v1.0h-8.1zM213.9 327.7h8.1v1.0h-8.1zM270.7 327.7h8.1v1.0h-8.1zM449.3 327.7h8.1v1.0h-8.1zM506.1 327.7h16.2v1.0h-16.2zM538.6 327.7h8.1v1.0h-8.1zM562.9 327.7h8.1v1.0h-8.1zM595.4 327.7h8.1v1.0h-8.1zM636.0 327.7h8.1v1.0h-8.1zM140.9 328.7h8.1v1.0h-8.1zM157.1 328.7h8.1v1.0h-8.1zM173.3 328.7h8.1v1.0h-8.1zM424.9 328.7h8.1v1.0h-8.1zM441.2 328.7h8.1v1.0h-8.1zM473.6 328.7h8.1v1.0h-8.1zM498.0 328.7h16.2v1.0h-16.2zM173.3 329.7h8.1v1.0h-8.1zM213.9 329.7h8.1v1.0h-8.1zM335.7 329.7h8.1v1.0h-8.1zM384.4 329.7h8.1v1.0h-8.1zM424.9 329.7h8.1v1.0h-8.1zM449.3 329.7h8.1v1.0h-8.1zM554.8 329.7h8.1v1.0h-8.1zM587.3 329.7h8.1v1.0h-8.1zM84.0 330.7h8.1v1.0h-8.1zM124.6 330.7h8.1v1.0h-8.1zM254.5 330.7h8.1v1.0h-8.1zM351.9 330.7h8.1v1.0h-8.1zM441.2 330.7h8.1v1.0h-8.1zM554.8 330.7h16.2v1.0h-16.2zM603.5 330.7h8.1v1.0h-8.1zM140.9 331.7h8.1v1.0h-8.1zM254.5 331.7h8.1v1.0h-8.1zM303.2 331.7h8.1v1.0h-8.1zM335.7 331.7h8.1v1.0h-8.1zM384.4 331.7h8.1v1.0h-8.1zM595.4 331.7h16.2v1.0h-16.2zM108.4 332.7h8.1v1.0h-8.1zM140.9 332.7h8.1v1.0h-8.1zM197.7 332.7h8.1v1.0h-8.1zM222.0 332.7h8.1v1.0h-8.1zM368.1 332.7h8.1v1.0h-8.1zM400.6 332.7h8.1v1.0h-8.1zM530.5 332.7h16.2v1.0h-16.2zM554.8 332.7h16.2v1.0h-16.2zM579.1 332.7h8.1v1.0h-8.1zM595.4 332.7h16.2v1.0h-16.2zM108.4 333.7h8.1v1.0h-8.1zM222.0 333.7h16.2v1.0h-16.2zM262.6 333.7h8.1v1.0h-8.1zM319.4 333.7h8.1v1.0h-8.1zM351.9 333.7h8.1v1.0h-8.1zM384.4 333.7h8.1v1.0h-8.1zM424.9 333.7h8.1v1.0h-8.1zM441.2 333.7h8.1v1.0h-8.1zM498.0 333.7h8.1v1.0h-8.1zM562.9 333.7h8.1v1.0h-8.1zM587.3 333.7h8.1v1.0h-8.1zM246.4 334.7h8.1v1.0h-8.1zM262.6 334.7h8.1v1.0h-8.1zM416.8 334.7h8.1v1.0h-8.1zM530.5 334.7h8.1v1.0h-8.1zM611.6 334.7h8.1v1.0h-8.1zM124.6 335.7h8.1v1.0h-8.1zM213.9 335.7h8.1v1.0h-8.1zM303.2 335.7h8.1v1.0h-8.1zM506.1 335.7h8.1v1.0h-8.1zM530.5 335.7h8.1v1.0h-8.1zM571.0 335.7h8.1v1.0h-8.1zM595.4 335.7h8.1v1.0h-8.1zM619.7 335.7h16.2v1.0h-16.2zM67.8 336.7h8.1v1.0h-8.1zM140.9 336.7h8.1v1.0h-8.1zM205.8 336.7h8.1v1.0h-8.1zM262.6 336.7h8.1v1.0h-8.1zM489.9 336.7h8.1v1.0h-8.1zM562.9 336.7h16.2v1.0h-16.2zM603.5 336.7h8.1v1.0h-8.1zM636.0 336.7h16.2v1.0h-16.2zM92.2 337.7h8.1v1.0h-8.1zM108.4 337.7h8.1v1.0h-8.1zM132.7 337.7h8.1v1.0h-8.1zM213.9 337.7h16.2v1.0h-16.2zM311.3 337.7h8.1v1.0h-8.1zM335.7 337.7h8.1v1.0h-8.1zM579.1 337.7h8.1v1.0h-8.1zM595.4 337.7h16.2v1.0h-16.2zM230.1 338.7h8.1v1.0h-8.1zM270.7 338.7h8.1v1.0h-8.1zM311.3 338.7h8.1v1.0h-8.1zM343.8 338.7h8.1v1.0h-8.1zM360.0 338.7h8.1v1.0h-8.1zM498.0 338.7h8.1v1.0h-8.1zM205.8 339.7h8.1v1.0h-8.1zM230.1 339.7h8.1v1.0h-8.1zM254.5 339.7h8.1v1.0h-8.1zM384.4 339.7h8.1v1.0h-8.1zM530.5 339.7h8.1v1.0h-8.1zM595.4 339.7h8.1v1.0h-8.1zM108.4 340.7h16.2v1.0h-16.2zM213.9 340.7h16.2v1.0h-16.2zM254.5 340.7h8.1v1.0h-8.1zM286.9 340.7h8.1v1.0h-8.1zM562.9 340.7h8.1v1.0h-8.1zM611.6 340.7h8.1v1.0h-8.1zM546.7 341.7h16.2v1.0h-16.2zM579.1 341.7h8.1v1.0h-8.1zM611.6 341.7h8.1v1.0h-8.1zM636.0 341.7h8.1v1.0h-8.1zM230.1 342.7h8.1v1.0h-8.1zM327.5 342.7h8.1v1.0h-8.1zM368.1 342.7h8.1v1.0h-8.1zM449.3 342.7h16.2v1.0h-16.2zM627.9 342.7h16.2v1.0h-16.2zM132.7 343.7h8.1v1.0h-8.1zM327.5 343.7h8.1v1.0h-8.1zM546.7 343.7h16.2v1.0h-16.2zM587.3 343.7h16.2v1.0h-16.2zM611.6 343.7h8.1v1.0h-8.1zM627.9 343.7h16.2v1.0h-16.2zM254.5 344.7h8.1v1.0h-8.1zM270.7 344.7h8.1v1.0h-8.1zM368.1 344.7h8.1v1.0h-8.1zM498.0 344.7h8.1v1.0h-8.1zM546.7 344.7h8.1v1.0h-8.1zM571.0 344.7h8.1v1.0h-8.1zM619.7 344.7h16.2v1.0h-16.2zM75.9 345.7h8.1v1.0h-8.1zM181.4 345.7h8.1v1.0h-8.1zM465.5 345.7h8.1v1.0h-8.1zM489.9 345.7h8.1v1.0h-8.1zM571.0 345.7h8.1v1.0h-8.1zM603.5 345.7h8.1v1.0h-8.1zM619.7 345.7h8.1v1.0h-8.1zM100.3 346.7h8.1v1.0h-8.1zM222.0 346.7h8.1v1.0h-8.1zM254.5 346.7h8.1v1.0h-8.1zM278.8 346.7h8.1v1.0h-8.1zM343.8 346.7h8.1v1.0h-8.1zM392.5 346.7h8.1v1.0h-8.1zM424.9 346.7h8.1v1.0h-8.1zM473.6 346.7h16.2v1.0h-16.2zM587.3 346.7h8.1v1.0h-8.1zM124.6 347.7h8.1v1.0h-8.1zM189.6 347.7h8.1v1.0h-8.1zM222.0 347.7h8.1v1.0h-8.1zM384.4 347.7h8.1v1.0h-8.1zM473.6 347.7h8.1v1.0h-8.1zM538.6 347.7h16.2v1.0h-16.2zM116.5 348.7h8.1v1.0h-8.1zM149.0 348.7h8.1v1.0h-8.1zM173.3 348.7h8.1v1.0h-8.1zM205.8 348.7h8.1v1.0h-8.1zM262.6 348.7h8.1v1.0h-8.1zM278.8 348.7h16.2v1.0h-16.2zM319.4 348.7h8.1v1.0h-8.1zM376.2 348.7h8.1v1.0h-8.1zM408.7 348.7h8.1v1.0h-8.1zM473.6 348.7h8.1v1.0h-8.1zM571.0 348.7h8.1v1.0h-8.1zM587.3 348.7h16.2v1.0h-16.2zM84.0 349.7h8.1v1.0h-8.1zM230.1 349.7h8.1v1.0h-8.1zM343.8 349.7h16.2v1.0h-16.2zM408.7 349.7h8.1v1.0h-8.1zM498.0 349.7h16.2v1.0h-16.2zM571.0 349.7h8.1v1.0h-8.1zM603.5 349.7h8.1v1.0h-8.1zM75.9 350.7h8.1v1.0h-8.1zM197.7 350.7h8.1v1.0h-8.1zM327.5 350.7h8.1v1.0h-8.1zM481.8 350.7h8.1v1.0h-8.1zM514.2 350.7h8.1v1.0h-8.1zM530.5 350.7h8.1v1.0h-8.1zM562.9 350.7h8.1v1.0h-8.1zM587.3 350.7h8.1v1.0h-8.1zM140.9 351.7h8.1v1.0h-8.1zM278.8 351.7h8.1v1.0h-8.1zM327.5 351.7h8.1v1.0h-8.1zM368.1 351.7h8.1v1.0h-8.1zM384.4 351.7h8.1v1.0h-8.1zM506.1 351.7h8.1v1.0h-8.1zM587.3 351.7h8.1v1.0h-8.1zM173.3 352.7h8.1v1.0h-8.1zM246.4 352.7h8.1v1.0h-8.1zM278.8 352.7h8.1v1.0h-8.1zM416.8 352.7h8.1v1.0h-8.1zM433.1 352.7h16.2v1.0h-16.2zM465.5 352.7h8.1v1.0h-8.1zM579.1 352.7h8.1v1.0h-8.1zM627.9 352.7h8.1v1.0h-8.1zM116.5 353.7h8.1v1.0h-8.1zM157.1 353.7h8.1v1.0h-8.1zM222.0 353.7h16.2v1.0h-16.2zM286.9 353.7h8.1v1.0h-8.1zM319.4 353.7h8.1v1.0h-8.1zM335.7 353.7h8.1v1.0h-8.1zM360.0 353.7h8.1v1.0h-8.1zM457.4 353.7h8.1v1.0h-8.1zM498.0 353.7h8.1v1.0h-8.1zM554.8 353.7h8.1v1.0h-8.1zM611.6 353.7h8.1v1.0h-8.1zM636.0 353.7h8.1v1.0h-8.1zM108.4 354.7h8.1v1.0h-8.1zM246.4 354.7h8.1v1.0h-8.1zM270.7 354.7h8.1v1.0h-8.1zM311.3 354.7h8.1v1.0h-8.1zM343.8 354.7h8.1v1.0h-8.1zM368.1 354.7h8.1v1.0h-8.1zM400.6 354.7h8.1v1.0h-8.1zM538.6 354.7h16.2v1.0h-16.2zM579.1 354.7h8.1v1.0h-8.1zM619.7 354.7h16.2v1.0h-16.2zM116.5 355.7h8.1v1.0h-8.1zM140.9 355.7h8.1v1.0h-8.1zM189.6 355.7h8.1v1.0h-8.1zM262.6 355.7h8.1v1.0h-8.1zM368.1 355.7h16.2v1.0h-16.2zM392.5 355.7h8.1v1.0h-8.1zM424.9 355.7h8.1v1.0h-8.1zM522.3 355.7h8.1v1.0h-8.1zM546.7 355.7h8.1v1.0h-8.1zM579.1 355.7h8.1v1.0h-8.1zM595.4 355.7h8.1v1.0h-8.1zM67.8 356.7h16.2v1.0h-16.2zM205.8 356.7h8.1v1.0h-8.1zM343.8 356.7h16.2v1.0h-16.2zM465.5 356.7h8.1v1.0h-8.1zM489.9 356.7h8.1v1.0h-8.1zM506.1 356.7h16.2v1.0h-16.2zM571.0 356.7h8.1v1.0h-8.1zM595.4 356.7h8.1v1.0h-8.1zM636.0 356.7h8.1v1.0h-8.1zM230.1 357.7h16.2v1.0h-16.2zM286.9 357.7h8.1v1.0h-8.1zM311.3 357.7h8.1v1.0h-8.1zM465.5 357.7h8.1v1.0h-8.1zM595.4 357.7h8.1v1.0h-8.1zM636.0 357.7h8.1v1.0h-8.1zM116.5 358.7h8.1v1.0h-8.1zM181.4 358.7h8.1v1.0h-8.1zM205.8 358.7h8.1v1.0h-8.1zM360.0 358.7h8.1v1.0h-8.1zM416.8 358.7h8.1v1.0h-8.1zM473.6 358.7h8.1v1.0h-8.1zM514.2 358.7h8.1v1.0h-8.1zM571.0 358.7h8.1v1.0h-8.1zM595.4 358.7h16.2v1.0h-16.2zM619.7 358.7h8.1v1.0h-8.1zM205.8 359.7h8.1v1.0h-8.1zM238.2 359.7h8.1v1.0h-8.1zM319.4 359.7h8.1v1.0h-8.1zM343.8 359.7h8.1v1.0h-8.1zM384.4 359.7h8.1v1.0h-8.1zM441.2 359.7h8.1v1.0h-8.1zM465.5 359.7h8.1v1.0h-8.1zM514.2 359.7h8.1v1.0h-8.1zM538.6 359.7h16.2v1.0h-16.2zM205.8 360.7h8.1v1.0h-8.1zM360.0 360.7h8.1v1.0h-8.1zM416.8 360.7h8.1v1.0h-8.1zM481.8 360.7h8.1v1.0h-8.1zM506.1 360.7h8.1v1.0h-8.1zM530.5 360.7h8.1v1.0h-8.1zM554.8 360.7h8.1v1.0h-8.1zM579.1 360.7h8.1v1.0h-8.1zM595.4 360.7h8.1v1.0h-8.1zM627.9 360.7h8.1v1.0h-8.1zM140.9 361.7h8.1v1.0h-8.1zM205.8 361.7h8.1v1.0h-8.1zM311.3 361.7h8.1v1.0h-8.1zM368.1 361.7h8.1v1.0h-8.1zM384.4 361.7h8.1v1.0h-8.1zM416.8 361.7h8.1v1.0h-8.1zM554.8 361.7h8.1v1.0h-8.1zM636.0 361.7h8.1v1.0h-8.1zM335.7 362.7h8.1v1.0h-8.1zM360.0 362.7h8.1v1.0h-8.1zM384.4 362.7h8.1v1.0h-8.1zM441.2 362.7h8.1v1.0h-8.1zM498.0 362.7h8.1v1.0h-8.1zM627.9 362.7h8.1v1.0h-8.1zM140.9 363.7h8.1v1.0h-8.1zM165.2 363.7h16.2v1.0h-16.2zM189.6 363.7h8.1v1.0h-8.1zM205.8 363.7h8.1v1.0h-8.1zM368.1 363.7h8.1v1.0h-8.1zM522.3 363.7h16.2v1.0h-16.2zM554.8 363.7h8.1v1.0h-8.1zM579.1 363.7h8.1v1.0h-8.1zM595.4 363.7h8.1v1.0h-8.1zM627.9 363.7h8.1v1.0h-8.1zM116.5 364.7h8.1v1.0h-8.1zM254.5 364.7h8.1v1.0h-8.1zM376.2 364.7h8.1v1.0h-8.1zM441.2 364.7h8.1v1.0h-8.1zM481.8 364.7h32.5v1.0h-32.5zM538.6 364.7h8.1v1.0h-8.1zM571.0 364.7h8.1v1.0h-8.1zM595.4 364.7h16.2v1.0h-16.2zM619.7 364.7h16.2v1.0h-16.2zM157.1 365.7h8.1v1.0h-8.1zM351.9 365.7h8.1v1.0h-8.1zM514.2 365.7h8.1v1.0h-8.1zM554.8 365.7h8.1v1.0h-8.1zM603.5 365.7h8.1v1.0h-8.1zM270.7 366.7h8.1v1.0h-8.1zM327.5 366.7h8.1v1.0h-8.1zM392.5 366.7h8.1v1.0h-8.1zM506.1 366.7h8.1v1.0h-8.1zM611.6 366.7h8.1v1.0h-8.1zM75.9 367.7h8.1v1.0h-8.1zM140.9 367.7h8.1v1.0h-8.1zM173.3 367.7h8.1v1.0h-8.1zM254.5 367.7h8.1v1.0h-8.1zM295.1 367.7h8.1v1.0h-8.1zM335.7 367.7h8.1v1.0h-8.1zM368.1 367.7h8.1v1.0h-8.1zM481.8 367.7h8.1v1.0h-8.1zM498.0 367.7h8.1v1.0h-8.1zM530.5 367.7h8.1v1.0h-8.1zM546.7 367.7h8.1v1.0h-8.1zM595.4 367.7h8.1v1.0h-8.1zM75.9 368.7h8.1v1.0h-8.1zM327.5 368.7h8.1v1.0h-8.1zM368.1 368.7h8.1v1.0h-8.1zM400.6 368.7h8.1v1.0h-8.1zM489.9 368.7h8.1v1.0h-8.1zM514.2 368.7h8.1v1.0h-8.1zM611.6 368.7h8.1v1.0h-8.1zM636.0 368.7h8.1v1.0h-8.1zM100.3 369.7h8.1v1.0h-8.1zM205.8 369.7h8.1v1.0h-8.1zM278.8 369.7h8.1v1.0h-8.1zM335.7 369.7h8.1v1.0h-8.1zM392.5 369.7h8.1v1.0h-8.1zM416.8 369.7h8.1v1.0h-8.1zM433.1 369.7h8.1v1.0h-8.1zM530.5 369.7h8.1v1.0h-8.1zM554.8 369.7h8.1v1.0h-8.1zM587.3 369.7h16.2v1.0h-16.2zM611.6 369.7h16.2v1.0h-16.2zM132.7 370.7h8.1v1.0h-8.1zM157.1 370.7h8.1v1.0h-8.1zM213.9 370.7h8.1v1.0h-8.1zM270.7 370.7h8.1v1.0h-8.1zM311.3 370.7h8.1v1.0h-8.1zM481.8 370.7h8.1v1.0h-8.1zM587.3 370.7h8.1v1.0h-8.1zM627.9 370.7h8.1v1.0h-8.1zM75.9 371.7h8.1v1.0h-8.1zM254.5 371.7h8.1v1.0h-8.1zM368.1 371.7h8.1v1.0h-8.1zM400.6 371.7h8.1v1.0h-8.1zM441.2 371.7h8.1v1.0h-8.1zM473.6 371.7h8.1v1.0h-8.1zM587.3 371.7h8.1v1.0h-8.1zM603.5 371.7h16.2v1.0h-16.2zM173.3 372.7h8.1v1.0h-8.1zM205.8 372.7h8.1v1.0h-8.1zM230.1 372.7h24.4v1.0h-24.4zM351.9 372.7h8.1v1.0h-8.1zM368.1 372.7h8.1v1.0h-8.1zM408.7 372.7h24.4v1.0h-24.4zM457.4 372.7h8.1v1.0h-8.1zM473.6 372.7h8.1v1.0h-8.1zM603.5 372.7h8.1v1.0h-8.1zM636.0 372.7h8.1v1.0h-8.1zM92.2 373.7h8.1v1.0h-8.1zM173.3 373.7h8.1v1.0h-8.1zM205.8 373.7h8.1v1.0h-8.1zM222.0 373.7h16.2v1.0h-16.2zM400.6 373.7h8.1v1.0h-8.1zM416.8 373.7h8.1v1.0h-8.1zM538.6 373.7h8.1v1.0h-8.1zM571.0 373.7h8.1v1.0h-8.1zM611.6 373.7h8.1v1.0h-8.1zM238.2 374.7h8.1v1.0h-8.1zM311.3 374.7h8.1v1.0h-8.1zM400.6 374.7h16.2v1.0h-16.2zM441.2 374.7h8.1v1.0h-8.1zM530.5 374.7h8.1v1.0h-8.1zM554.8 374.7h8.1v1.0h-8.1zM587.3 374.7h16.2v1.0h-16.2zM627.9 374.7h24.4v1.0h-24.4zM75.9 375.7h8.1v1.0h-8.1zM254.5 375.7h8.1v1.0h-8.1zM278.8 375.7h16.2v1.0h-16.2zM343.8 375.7h8.1v1.0h-8.1zM416.8 375.7h8.1v1.0h-8.1zM506.1 375.7h16.2v1.0h-16.2zM571.0 375.7h8.1v1.0h-8.1zM644.1 375.7h8.1v1.0h-8.1zM100.3 376.7h8.1v1.0h-8.1zM140.9 376.7h8.1v1.0h-8.1zM238.2 376.7h8.1v1.0h-8.1zM311.3 376.7h8.1v1.0h-8.1zM343.8 376.7h8.1v1.0h-8.1zM408.7 376.7h8.1v1.0h-8.1zM473.6 376.7h8.1v1.0h-8.1zM489.9 376.7h8.1v1.0h-8.1zM546.7 376.7h8.1v1.0h-8.1zM611.6 376.7h16.2v1.0h-16.2zM92.2 377.7h8.1v1.0h-8.1zM116.5 377.7h8.1v1.0h-8.1zM254.5 377.7h8.1v1.0h-8.1zM303.2 377.7h16.2v1.0h-16.2zM441.2 377.7h8.1v1.0h-8.1zM457.4 377.7h8.1v1.0h-8.1zM149.0 378.7h8.1v1.0h-8.1zM230.1 378.7h8.1v1.0h-8.1zM408.7 378.7h8.1v1.0h-8.1zM424.9 378.7h8.1v1.0h-8.1zM481.8 378.7h8.1v1.0h-8.1zM506.1 378.7h8.1v1.0h-8.1zM530.5 378.7h8.1v1.0h-8.1zM619.7 378.7h8.1v1.0h-8.1zM92.2 379.7h8.1v1.0h-8.1zM108.4 379.7h8.1v1.0h-8.1zM140.9 379.7h8.1v1.0h-8.1zM262.6 379.7h24.4v1.0h-24.4zM295.1 379.7h8.1v1.0h-8.1zM327.5 379.7h8.1v1.0h-8.1zM368.1 379.7h16.2v1.0h-16.2zM400.6 379.7h16.2v1.0h-16.2zM465.5 379.7h8.1v1.0h-8.1zM530.5 379.7h8.1v1.0h-8.1zM571.0 379.7h24.4v1.0h-24.4zM611.6 379.7h16.2v1.0h-16.2zM278.8 380.7h8.1v1.0h-8.1zM311.3 380.7h8.1v1.0h-8.1zM376.2 380.7h8.1v1.0h-8.1zM441.2 380.7h8.1v1.0h-8.1zM506.1 380.7h8.1v1.0h-8.1zM546.7 380.7h8.1v1.0h-8.1zM587.3 380.7h8.1v1.0h-8.1zM67.8 381.7h8.1v1.0h-8.1zM124.6 381.7h8.1v1.0h-8.1zM140.9 381.7h32.5v1.0h-32.5zM303.2 381.7h16.2v1.0h-16.2zM400.6 381.7h8.1v1.0h-8.1zM441.2 381.7h8.1v1.0h-8.1zM473.6 381.7h16.2v1.0h-16.2zM498.0 381.7h8.1v1.0h-8.1zM538.6 381.7h8.1v1.0h-8.1zM554.8 381.7h16.2v1.0h-16.2zM587.3 381.7h8.1v1.0h-8.1zM636.0 381.7h8.1v1.0h-8.1zM67.8 382.7h8.1v1.0h-8.1zM100.3 382.7h8.1v1.0h-8.1zM416.8 382.7h8.1v1.0h-8.1zM441.2 382.7h8.1v1.0h-8.1zM481.8 382.7h8.1v1.0h-8.1zM514.2 382.7h8.1v1.0h-8.1zM579.1 382.7h8.1v1.0h-8.1zM636.0 382.7h8.1v1.0h-8.1zM75.9 383.7h8.1v1.0h-8.1zM124.6 383.7h8.1v1.0h-8.1zM254.5 383.7h16.2v1.0h-16.2zM303.2 383.7h8.1v1.0h-8.1zM343.8 383.7h8.1v1.0h-8.1zM473.6 383.7h8.1v1.0h-8.1zM498.0 383.7h8.1v1.0h-8.1zM546.7 383.7h8.1v1.0h-8.1zM562.9 383.7h16.2v1.0h-16.2zM595.4 383.7h16.2v1.0h-16.2zM67.8 384.7h8.1v1.0h-8.1zM116.5 384.7h8.1v1.0h-8.1zM157.1 384.7h8.1v1.0h-8.1zM173.3 384.7h8.1v1.0h-8.1zM213.9 384.7h8.1v1.0h-8.1zM238.2 384.7h8.1v1.0h-8.1zM311.3 384.7h8.1v1.0h-8.1zM343.8 384.7h8.1v1.0h-8.1zM368.1 384.7h8.1v1.0h-8.1zM416.8 384.7h16.2v1.0h-16.2zM457.4 384.7h8.1v1.0h-8.1zM530.5 384.7h8.1v1.0h-8.1zM619.7 384.7h16.2v1.0h-16.2zM140.9 385.7h8.1v1.0h-8.1zM157.1 385.7h8.1v1.0h-8.1zM262.6 385.7h8.1v1.0h-8.1zM311.3 385.7h8.1v1.0h-8.1zM376.2 385.7h16.2v1.0h-16.2zM408.7 385.7h24.4v1.0h-24.4zM449.3 385.7h8.1v1.0h-8.1zM473.6 385.7h8.1v1.0h-8.1zM587.3 385.7h8.1v1.0h-8.1zM611.6 385.7h8.1v1.0h-8.1zM636.0 385.7h8.1v1.0h-8.1zM205.8 386.7h16.2v1.0h-16.2zM246.4 386.7h8.1v1.0h-8.1zM619.7 386.7h8.1v1.0h-8.1zM636.0 386.7h8.1v1.0h-8.1zM124.6 387.7h8.1v1.0h-8.1zM173.3 387.7h8.1v1.0h-8.1zM262.6 387.7h8.1v1.0h-8.1zM311.3 387.7h8.1v1.0h-8.1zM465.5 387.7h8.1v1.0h-8.1zM530.5 387.7h8.1v1.0h-8.1zM571.0 387.7h8.1v1.0h-8.1zM603.5 387.7h16.2v1.0h-16.2zM627.9 387.7h8.1v1.0h-8.1zM92.2 388.7h8.1v1.0h-8.1zM157.1 388.7h8.1v1.0h-8.1zM262.6 388.7h8.1v1.0h-8.1zM286.9 388.7h8.1v1.0h-8.1zM392.5 388.7h24.4v1.0h-24.4zM473.6 388.7h8.1v1.0h-8.1zM538.6 388.7h8.1v1.0h-8.1zM595.4 388.7h8.1v1.0h-8.1zM611.6 388.7h16.2v1.0h-16.2zM67.8 389.7h16.2v1.0h-16.2zM108.4 389.7h8.1v1.0h-8.1zM157.1 389.7h8.1v1.0h-8.1zM173.3 389.7h8.1v1.0h-8.1zM238.2 389.7h8.1v1.0h-8.1zM278.8 389.7h8.1v1.0h-8.1zM335.7 389.7h8.1v1.0h-8.1zM562.9 389.7h8.1v1.0h-8.1zM611.6 389.7h16.2v1.0h-16.2zM67.8 390.7h16.2v1.0h-16.2zM254.5 390.7h8.1v1.0h-8.1zM392.5 390.7h16.2v1.0h-16.2zM514.2 390.7h8.1v1.0h-8.1zM546.7 390.7h8.1v1.0h-8.1zM587.3 390.7h8.1v1.0h-8.1zM173.3 391.7h8.1v1.0h-8.1zM197.7 391.7h8.1v1.0h-8.1zM303.2 391.7h8.1v1.0h-8.1zM481.8 391.7h16.2v1.0h-16.2zM538.6 391.7h8.1v1.0h-8.1zM562.9 391.7h8.1v1.0h-8.1zM627.9 391.7h8.1v1.0h-8.1zM140.9 392.7h8.1v1.0h-8.1zM157.1 392.7h8.1v1.0h-8.1zM286.9 392.7h8.1v1.0h-8.1zM376.2 392.7h8.1v1.0h-8.1zM457.4 392.7h8.1v1.0h-8.1zM587.3 392.7h8.1v1.0h-8.1zM619.7 392.7h8.1v1.0h-8.1zM75.9 393.7h8.1v1.0h-8.1zM246.4 393.7h8.1v1.0h-8.1zM319.4 393.7h8.1v1.0h-8.1zM351.9 393.7h8.1v1.0h-8.1zM449.3 393.7h8.1v1.0h-8.1zM571.0 393.7h8.1v1.0h-8.1zM595.4 393.7h8.1v1.0h-8.1zM92.2 394.7h8.1v1.0h-8.1zM481.8 394.7h8.1v1.0h-8.1zM92.2 395.7h8.1v1.0h-8.1zM157.1 395.7h8.1v1.0h-8.1zM181.4 395.7h8.1v1.0h-8.1zM311.3 395.7h8.1v1.0h-8.1zM351.9 395.7h8.1v1.0h-8.1zM400.6 395.7h16.2v1.0h-16.2zM554.8 395.7h8.1v1.0h-8.1zM571.0 395.7h8.1v1.0h-8.1zM587.3 395.7h8.1v1.0h-8.1zM627.9 395.7h8.1v1.0h-8.1zM124.6 396.7h8.1v1.0h-8.1zM149.0 396.7h8.1v1.0h-8.1zM165.2 396.7h8.1v1.0h-8.1zM238.2 396.7h16.2v1.0h-16.2zM278.8 396.7h8.1v1.0h-8.1zM335.7 396.7h8.1v1.0h-8.1zM351.9 396.7h8.1v1.0h-8.1zM392.5 396.7h16.2v1.0h-16.2zM457.4 396.7h24.4v1.0h-24.4zM489.9 396.7h8.1v1.0h-8.1zM546.7 396.7h8.1v1.0h-8.1zM571.0 396.7h8.1v1.0h-8.1zM75.9 397.7h8.1v1.0h-8.1zM124.6 397.7h8.1v1.0h-8.1zM173.3 397.7h8.1v1.0h-8.1zM205.8 397.7h8.1v1.0h-8.1zM368.1 397.7h8.1v1.0h-8.1zM473.6 397.7h8.1v1.0h-8.1zM587.3 397.7h8.1v1.0h-8.1zM213.9 398.7h8.1v1.0h-8.1zM424.9 398.7h8.1v1.0h-8.1zM473.6 398.7h8.1v1.0h-8.1zM514.2 398.7h8.1v1.0h-8.1zM562.9 398.7h8.1v1.0h-8.1zM579.1 398.7h16.2v1.0h-16.2zM619.7 398.7h8.1v1.0h-8.1zM108.4 399.7h8.1v1.0h-8.1zM254.5 399.7h8.1v1.0h-8.1zM286.9 399.7h16.2v1.0h-16.2zM408.7 399.7h16.2v1.0h-16.2zM457.4 399.7h8.1v1.0h-8.1zM473.6 399.7h16.2v1.0h-16.2zM514.2 399.7h8.1v1.0h-8.1zM579.1 399.7h16.2v1.0h-16.2zM222.0 400.7h16.2v1.0h-16.2zM262.6 400.7h8.1v1.0h-8.1zM286.9 400.7h8.1v1.0h-8.1zM311.3 400.7h8.1v1.0h-8.1zM335.7 400.7h8.1v1.0h-8.1zM368.1 400.7h8.1v1.0h-8.1zM408.7 400.7h8.1v1.0h-8.1zM424.9 400.7h8.1v1.0h-8.1zM571.0 400.7h8.1v1.0h-8.1zM595.4 400.7h8.1v1.0h-8.1zM611.6 400.7h24.4v1.0h-24.4zM246.4 401.7h8.1v1.0h-8.1zM343.8 401.7h8.1v1.0h-8.1zM360.0 401.7h8.1v1.0h-8.1zM384.4 401.7h8.1v1.0h-8.1zM408.7 401.7h8.1v1.0h-8.1zM457.4 401.7h32.5v1.0h-32.5zM522.3 401.7h8.1v1.0h-8.1zM554.8 401.7h16.2v1.0h-16.2zM611.6 401.7h8.1v1.0h-8.1zM627.9 401.7h8.1v1.0h-8.1zM75.9 402.7h8.1v1.0h-8.1zM140.9 402.7h8.1v1.0h-8.1zM205.8 402.7h8.1v1.0h-8.1zM343.8 402.7h16.2v1.0h-16.2zM368.1 402.7h24.4v1.0h-24.4zM481.8 402.7h8.1v1.0h-8.1zM522.3 402.7h8.1v1.0h-8.1zM579.1 402.7h24.4v1.0h-24.4zM636.0 402.7h8.1v1.0h-8.1zM67.8 403.7h24.4v1.0h-24.4zM205.8 403.7h8.1v1.0h-8.1zM278.8 403.7h8.1v1.0h-8.1zM441.2 403.7h8.1v1.0h-8.1zM457.4 403.7h8.1v1.0h-8.1zM140.9 404.7h8.1v1.0h-8.1zM238.2 404.7h8.1v1.0h-8.1zM311.3 404.7h8.1v1.0h-8.1zM343.8 404.7h8.1v1.0h-8.1zM384.4 404.7h8.1v1.0h-8.1zM562.9 404.7h8.1v1.0h-8.1zM595.4 404.7h8.1v1.0h-8.1zM92.2 405.7h16.2v1.0h-16.2zM132.7 405.7h8.1v1.0h-8.1zM173.3 405.7h8.1v1.0h-8.1zM254.5 405.7h8.1v1.0h-8.1zM376.2 405.7h8.1v1.0h-8.1zM408.7 405.7h8.1v1.0h-8.1zM424.9 405.7h8.1v1.0h-8.1zM473.6 405.7h8.1v1.0h-8.1zM538.6 405.7h8.1v1.0h-8.1zM579.1 405.7h8.1v1.0h-8.1zM611.6 405.7h16.2v1.0h-16.2zM213.9 406.7h8.1v1.0h-8.1zM246.4 406.7h8.1v1.0h-8.1zM441.2 406.7h8.1v1.0h-8.1zM546.7 406.7h16.2v1.0h-16.2zM571.0 406.7h8.1v1.0h-8.1zM587.3 406.7h8.1v1.0h-8.1zM627.9 406.7h16.2v1.0h-16.2zM108.4 407.7h8.1v1.0h-8.1zM222.0 407.7h16.2v1.0h-16.2zM368.1 407.7h8.1v1.0h-8.1zM408.7 407.7h8.1v1.0h-8.1zM562.9 407.7h8.1v1.0h-8.1zM84.0 408.7h8.1v1.0h-8.1zM116.5 408.7h8.1v1.0h-8.1zM205.8 408.7h8.1v1.0h-8.1zM278.8 408.7h8.1v1.0h-8.1zM400.6 408.7h8.1v1.0h-8.1zM441.2 408.7h8.1v1.0h-8.1zM562.9 408.7h8.1v1.0h-8.1zM311.3 409.7h8.1v1.0h-8.1zM368.1 409.7h8.1v1.0h-8.1zM441.2 409.7h8.1v1.0h-8.1zM473.6 409.7h8.1v1.0h-8.1zM562.9 409.7h8.1v1.0h-8.1zM75.9 410.7h8.1v1.0h-8.1zM124.6 410.7h8.1v1.0h-8.1zM140.9 410.7h8.1v1.0h-8.1zM295.1 410.7h8.1v1.0h-8.1zM360.0 410.7h8.1v1.0h-8.1zM408.7 410.7h8.1v1.0h-8.1zM424.9 410.7h8.1v1.0h-8.1zM562.9 410.7h8.1v1.0h-8.1zM636.0 410.7h16.2v1.0h-16.2zM181.4 411.7h8.1v1.0h-8.1zM319.4 411.7h8.1v1.0h-8.1zM465.5 411.7h8.1v1.0h-8.1zM546.7 411.7h16.2v1.0h-16.2zM116.5 412.7h8.1v1.0h-8.1zM173.3 412.7h8.1v1.0h-8.1zM246.4 412.7h8.1v1.0h-8.1zM392.5 412.7h8.1v1.0h-8.1zM75.9 413.7h8.1v1.0h-8.1zM408.7 413.7h8.1v1.0h-8.1zM562.9 413.7h8.1v1.0h-8.1zM644.1 413.7h8.1v1.0h-8.1zM124.6 414.7h8.1v1.0h-8.1zM140.9 414.7h8.1v1.0h-8.1zM230.1 414.7h8.1v1.0h-8.1zM335.7 414.7h8.1v1.0h-8.1zM433.1 414.7h8.1v1.0h-8.1zM449.3 414.7h8.1v1.0h-8.1zM465.5 414.7h8.1v1.0h-8.1zM522.3 414.7h8.1v1.0h-8.1zM619.7 414.7h8.1v1.0h-8.1zM100.3 415.7h8.1v1.0h-8.1zM230.1 415.7h8.1v1.0h-8.1zM335.7 415.7h8.1v1.0h-8.1zM603.5 415.7h8.1v1.0h-8.1zM433.1 416.7h8.1v1.0h-8.1zM473.6 416.7h16.2v1.0h-16.2zM132.7 417.7h8.1v1.0h-8.1zM205.8 417.7h8.1v1.0h-8.1zM262.6 417.7h8.1v1.0h-8.1zM278.8 417.7h8.1v1.0h-8.1zM303.2 417.7h8.1v1.0h-8.1zM408.7 417.7h8.1v1.0h-8.1zM441.2 417.7h8.1v1.0h-8.1zM473.6 417.7h8.1v1.0h-8.1zM562.9 417.7h8.1v1.0h-8.1zM644.1 417.7h8.1v1.0h-8.1zM116.5 418.7h8.1v1.0h-8.1zM140.9 418.7h8.1v1.0h-8.1zM303.2 418.7h16.2v1.0h-16.2zM376.2 418.7h8.1v1.0h-8.1zM400.6 418.7h8.1v1.0h-8.1zM595.4 418.7h8.1v1.0h-8.1zM627.9 418.7h8.1v1.0h-8.1zM132.7 419.7h8.1v1.0h-8.1zM351.9 419.7h8.1v1.0h-8.1zM400.6 419.7h8.1v1.0h-8.1zM514.2 419.7h8.1v1.0h-8.1zM530.5 419.7h16.2v1.0h-16.2zM554.8 419.7h16.2v1.0h-16.2zM587.3 419.7h8.1v1.0h-8.1zM124.6 420.7h8.1v1.0h-8.1zM140.9 420.7h8.1v1.0h-8.1zM262.6 420.7h8.1v1.0h-8.1zM311.3 420.7h8.1v1.0h-8.1zM343.8 420.7h8.1v1.0h-8.1zM538.6 420.7h8.1v1.0h-8.1zM562.9 420.7h8.1v1.0h-8.1zM189.6 421.7h8.1v1.0h-8.1zM311.3 421.7h8.1v1.0h-8.1zM335.7 421.7h8.1v1.0h-8.1zM351.9 421.7h8.1v1.0h-8.1zM546.7 421.7h16.2v1.0h-16.2zM579.1 421.7h8.1v1.0h-8.1zM84.0 422.7h8.1v1.0h-8.1zM100.3 422.7h8.1v1.0h-8.1zM303.2 422.7h8.1v1.0h-8.1zM376.2 422.7h16.2v1.0h-16.2zM408.7 422.7h16.2v1.0h-16.2zM441.2 422.7h8.1v1.0h-8.1zM603.5 422.7h8.1v1.0h-8.1zM84.0 423.7h8.1v1.0h-8.1zM311.3 423.7h8.1v1.0h-8.1zM343.8 423.7h8.1v1.0h-8.1zM538.6 423.7h8.1v1.0h-8.1zM562.9 423.7h8.1v1.0h-8.1zM100.3 424.7h8.1v1.0h-8.1zM157.1 424.7h8.1v1.0h-8.1zM262.6 424.7h8.1v1.0h-8.1zM449.3 424.7h8.1v1.0h-8.1zM538.6 424.7h8.1v1.0h-8.1zM627.9 424.7h8.1v1.0h-8.1zM173.3 425.7h8.1v1.0h-8.1zM262.6 425.7h8.1v1.0h-8.1zM303.2 425.7h8.1v1.0h-8.1zM506.1 425.7h8.1v1.0h-8.1zM562.9 425.7h8.1v1.0h-8.1zM627.9 425.7h8.1v1.0h-8.1zM67.8 426.7h8.1v1.0h-8.1zM108.4 426.7h8.1v1.0h-8.1zM286.9 426.7h8.1v1.0h-8.1zM376.2 426.7h8.1v1.0h-8.1zM408.7 426.7h8.1v1.0h-8.1zM473.6 426.7h8.1v1.0h-8.1zM522.3 426.7h8.1v1.0h-8.1zM157.1 427.7h8.1v1.0h-8.1zM205.8 427.7h8.1v1.0h-8.1zM368.1 427.7h8.1v1.0h-8.1zM392.5 427.7h8.1v1.0h-8.1zM546.7 427.7h8.1v1.0h-8.1zM238.2 428.7h8.1v1.0h-8.1zM254.5 428.7h8.1v1.0h-8.1zM295.1 428.7h8.1v1.0h-8.1zM311.3 428.7h8.1v1.0h-8.1zM376.2 428.7h8.1v1.0h-8.1zM441.2 428.7h8.1v1.0h-8.1zM473.6 428.7h8.1v1.0h-8.1zM538.6 428.7h8.1v1.0h-8.1zM108.4 429.7h8.1v1.0h-8.1zM140.9 429.7h8.1v1.0h-8.1zM157.1 429.7h8.1v1.0h-8.1zM230.1 429.7h8.1v1.0h-8.1zM449.3 429.7h8.1v1.0h-8.1zM498.0 429.7h8.1v1.0h-8.1zM554.8 429.7h8.1v1.0h-8.1zM571.0 429.7h8.1v1.0h-8.1zM587.3 429.7h16.2v1.0h-16.2zM627.9 429.7h8.1v1.0h-8.1zM181.4 430.7h8.1v1.0h-8.1zM311.3 430.7h8.1v1.0h-8.1zM351.9 430.7h8.1v1.0h-8.1zM384.4 430.7h8.1v1.0h-8.1zM67.8 431.7h16.2v1.0h-16.2zM262.6 431.7h8.1v1.0h-8.1zM311.3 431.7h8.1v1.0h-8.1zM416.8 431.7h24.4v1.0h-24.4zM498.0 431.7h8.1v1.0h-8.1zM579.1 431.7h8.1v1.0h-8.1zM603.5 431.7h8.1v1.0h-8.1zM619.7 431.7h8.1v1.0h-8.1zM67.8 432.7h8.1v1.0h-8.1zM213.9 432.7h8.1v1.0h-8.1zM230.1 432.7h8.1v1.0h-8.1zM254.5 432.7h8.1v1.0h-8.1zM278.8 432.7h16.2v1.0h-16.2zM392.5 432.7h8.1v1.0h-8.1zM424.9 432.7h8.1v1.0h-8.1zM481.8 432.7h8.1v1.0h-8.1zM522.3 432.7h8.1v1.0h-8.1zM562.9 432.7h8.1v1.0h-8.1zM627.9 432.7h8.1v1.0h-8.1zM213.9 433.7h8.1v1.0h-8.1zM335.7 433.7h8.1v1.0h-8.1zM408.7 433.7h8.1v1.0h-8.1zM603.5 433.7h8.1v1.0h-8.1zM644.1 433.7h8.1v1.0h-8.1zM140.9 434.7h8.1v1.0h-8.1zM238.2 434.7h8.1v1.0h-8.1zM368.1 434.7h8.1v1.0h-8.1zM538.6 434.7h8.1v1.0h-8.1zM562.9 434.7h8.1v1.0h-8.1zM579.1 434.7h8.1v1.0h-8.1zM644.1 434.7h8.1v1.0h-8.1zM67.8 435.7h8.1v1.0h-8.1zM157.1 435.7h8.1v1.0h-8.1zM197.7 435.7h8.1v1.0h-8.1zM213.9 435.7h8.1v1.0h-8.1zM230.1 435.7h8.1v1.0h-8.1zM270.7 435.7h8.1v1.0h-8.1zM376.2 435.7h8.1v1.0h-8.1zM603.5 435.7h8.1v1.0h-8.1zM270.7 436.7h8.1v1.0h-8.1zM376.2 436.7h8.1v1.0h-8.1zM400.6 436.7h8.1v1.0h-8.1zM546.7 436.7h16.2v1.0h-16.2zM595.4 436.7h8.1v1.0h-8.1zM222.0 437.7h16.2v1.0h-16.2zM303.2 437.7h8.1v1.0h-8.1zM335.7 437.7h16.2v1.0h-16.2zM376.2 437.7h8.1v1.0h-8.1zM457.4 437.7h8.1v1.0h-8.1zM481.8 437.7h8.1v1.0h-8.1zM627.9 437.7h8.1v1.0h-8.1zM108.4 438.7h8.1v1.0h-8.1zM286.9 438.7h8.1v1.0h-8.1zM327.5 438.7h8.1v1.0h-8.1zM368.1 438.7h8.1v1.0h-8.1zM408.7 438.7h8.1v1.0h-8.1zM449.3 438.7h16.2v1.0h-16.2zM473.6 438.7h8.1v1.0h-8.1zM67.8 439.7h8.1v1.0h-8.1zM124.6 439.7h8.1v1.0h-8.1zM205.8 439.7h8.1v1.0h-8.1zM262.6 439.7h8.1v1.0h-8.1zM327.5 439.7h8.1v1.0h-8.1zM400.6 439.7h8.1v1.0h-8.1zM75.9 440.7h8.1v1.0h-8.1zM303.2 440.7h8.1v1.0h-8.1zM554.8 440.7h8.1v1.0h-8.1zM579.1 440.7h8.1v1.0h-8.1zM595.4 440.7h8.1v1.0h-8.1zM457.4 441.7h8.1v1.0h-8.1zM67.8 442.7h8.1v1.0h-8.1zM262.6 442.7h8.1v1.0h-8.1zM303.2 442.7h24.4v1.0h-24.4zM449.3 442.7h8.1v1.0h-8.1zM489.9 442.7h8.1v1.0h-8.1zM514.2 442.7h8.1v1.0h-8.1zM595.4 442.7h8.1v1.0h-8.1zM254.5 443.7h16.2v1.0h-16.2zM303.2 443.7h8.1v1.0h-8.1zM327.5 443.7h8.1v1.0h-8.1zM360.0 443.7h8.1v1.0h-8.1zM400.6 443.7h8.1v1.0h-8.1zM416.8 443.7h8.1v1.0h-8.1zM457.4 443.7h8.1v1.0h-8.1zM489.9 443.7h8.1v1.0h-8.1zM514.2 443.7h8.1v1.0h-8.1zM554.8 443.7h16.2v1.0h-16.2zM636.0 443.7h8.1v1.0h-8.1z"/><path fill="#000000" fill-opacity="0.028" d="M92.2 256.7h8.1v1.0h-8.1zM124.6 256.7h8.1v1.0h-8.1zM181.4 256.7h8.1v1.0h-8.1zM205.8 256.7h8.1v1.0h-8.1zM222.0 256.7h8.1v1.0h-8.1zM238.2 256.7h8.1v1.0h-8.1zM368.1 256.7h8.1v1.0h-8.1zM392.5 256.7h8.1v1.0h-8.1zM408.7 256.7h16.2v1.0h-16.2zM441.2 256.7h8.1v1.0h-8.1zM481.8 256.7h8.1v1.0h-8.1zM595.4 256.7h8.1v1.0h-8.1zM636.0 256.7h16.2v1.0h-16.2zM108.4 257.7h8.1v1.0h-8.1zM149.0 257.7h8.1v1.0h-8.1zM213.9 257.7h8.1v1.0h-8.1zM238.2 257.7h8.1v1.0h-8.1zM270.7 257.7h8.1v1.0h-8.1zM343.8 257.7h8.1v1.0h-8.1zM368.1 257.7h8.1v1.0h-8.1zM408.7 257.7h16.2v1.0h-16.2zM457.4 257.7h8.1v1.0h-8.1zM481.8 257.7h16.2v1.0h-16.2zM530.5 257.7h8.1v1.0h-8.1zM546.7 257.7h8.1v1.0h-8.1zM571.0 257.7h8.1v1.0h-8.1zM595.4 257.7h8.1v1.0h-8.1zM627.9 257.7h8.1v1.0h-8.1zM132.7 258.7h8.1v1.0h-8.1zM213.9 258.7h8.1v1.0h-8.1zM238.2 258.7h8.1v1.0h-8.1zM286.9 258.7h8.1v1.0h-8.1zM343.8 258.7h8.1v1.0h-8.1zM360.0 258.7h8.1v1.0h-8.1zM449.3 258.7h8.1v1.0h-8.1zM489.9 258.7h8.1v1.0h-8.1zM506.1 258.7h8.1v1.0h-8.1zM530.5 258.7h8.1v1.0h-8.1zM75.9 259.7h8.1v1.0h-8.1zM108.4 259.7h16.2v1.0h-16.2zM173.3 259.7h8.1v1.0h-8.1zM205.8 259.7h8.1v1.0h-8.1zM246.4 259.7h8.1v1.0h-8.1zM441.2 259.7h8.1v1.0h-8.1zM457.4 259.7h8.1v1.0h-8.1zM489.9 259.7h16.2v1.0h-16.2zM530.5 259.7h8.1v1.0h-8.1zM627.9 259.7h8.1v1.0h-8.1zM222.0 260.7h8.1v1.0h-8.1zM327.5 260.7h8.1v1.0h-8.1zM343.8 260.7h8.1v1.0h-8.1zM360.0 260.7h8.1v1.0h-8.1zM408.7 260.7h16.2v1.0h-16.2zM441.2 260.7h8.1v1.0h-8.1zM481.8 260.7h8.1v1.0h-8.1zM546.7 260.7h8.1v1.0h-8.1zM571.0 260.7h16.2v1.0h-16.2zM92.2 261.7h8.1v1.0h-8.1zM149.0 261.7h8.1v1.0h-8.1zM173.3 261.7h8.1v1.0h-8.1zM295.1 261.7h8.1v1.0h-8.1zM351.9 261.7h8.1v1.0h-8.1zM376.2 261.7h8.1v1.0h-8.1zM392.5 261.7h8.1v1.0h-8.1zM416.8 261.7h8.1v1.0h-8.1zM441.2 261.7h16.2v1.0h-16.2zM481.8 261.7h8.1v1.0h-8.1zM530.5 261.7h8.1v1.0h-8.1zM546.7 261.7h8.1v1.0h-8.1zM84.0 262.7h8.1v1.0h-8.1zM246.4 262.7h8.1v1.0h-8.1zM262.6 262.7h8.1v1.0h-8.1zM286.9 262.7h8.1v1.0h-8.1zM351.9 262.7h8.1v1.0h-8.1zM392.5 262.7h16.2v1.0h-16.2zM489.9 262.7h16.2v1.0h-16.2zM522.3 262.7h8.1v1.0h-8.1zM538.6 262.7h8.1v1.0h-8.1zM627.9 262.7h8.1v1.0h-8.1zM644.1 262.7h8.1v1.0h-8.1zM108.4 263.7h8.1v1.0h-8.1zM173.3 263.7h8.1v1.0h-8.1zM213.9 263.7h16.2v1.0h-16.2zM262.6 263.7h8.1v1.0h-8.1zM295.1 263.7h8.1v1.0h-8.1zM392.5 263.7h16.2v1.0h-16.2zM416.8 263.7h8.1v1.0h-8.1zM457.4 263.7h8.1v1.0h-8.1zM481.8 263.7h8.1v1.0h-8.1zM571.0 263.7h16.2v1.0h-16.2zM603.5 263.7h8.1v1.0h-8.1zM636.0 263.7h16.2v1.0h-16.2zM75.9 264.7h16.2v1.0h-16.2zM100.3 264.7h8.1v1.0h-8.1zM140.9 264.7h8.1v1.0h-8.1zM173.3 264.7h8.1v1.0h-8.1zM238.2 264.7h8.1v1.0h-8.1zM286.9 264.7h16.2v1.0h-16.2zM360.0 264.7h16.2v1.0h-16.2zM400.6 264.7h8.1v1.0h-8.1zM546.7 264.7h8.1v1.0h-8.1zM579.1 264.7h8.1v1.0h-8.1zM595.4 264.7h8.1v1.0h-8.1zM627.9 264.7h16.2v1.0h-16.2zM92.2 265.7h8.1v1.0h-8.1zM132.7 265.7h8.1v1.0h-8.1zM246.4 265.7h8.1v1.0h-8.1zM270.7 265.7h8.1v1.0h-8.1zM416.8 265.7h8.1v1.0h-8.1zM449.3 265.7h8.1v1.0h-8.1zM498.0 265.7h16.2v1.0h-16.2zM546.7 265.7h8.1v1.0h-8.1zM636.0 265.7h16.2v1.0h-16.2zM108.4 266.7h8.1v1.0h-8.1zM173.3 266.7h8.1v1.0h-8.1zM205.8 266.7h16.2v1.0h-16.2zM254.5 266.7h8.1v1.0h-8.1zM270.7 266.7h8.1v1.0h-8.1zM295.1 266.7h8.1v1.0h-8.1zM360.0 266.7h8.1v1.0h-8.1zM392.5 266.7h16.2v1.0h-16.2zM506.1 266.7h8.1v1.0h-8.1zM522.3 266.7h16.2v1.0h-16.2zM644.1 266.7h8.1v1.0h-8.1zM132.7 267.7h8.1v1.0h-8.1zM197.7 267.7h8.1v1.0h-8.1zM213.9 267.7h8.1v1.0h-8.1zM238.2 267.7h8.1v1.0h-8.1zM286.9 267.7h8.1v1.0h-8.1zM311.3 267.7h8.1v1.0h-8.1zM400.6 267.7h8.1v1.0h-8.1zM441.2 267.7h8.1v1.0h-8.1zM498.0 267.7h8.1v1.0h-8.1zM514.2 267.7h24.4v1.0h-24.4zM579.1 267.7h8.1v1.0h-8.1zM627.9 267.7h8.1v1.0h-8.1zM254.5 268.7h8.1v1.0h-8.1zM303.2 268.7h8.1v1.0h-8.1zM319.4 268.7h8.1v1.0h-8.1zM335.7 268.7h16.2v1.0h-16.2zM360.0 268.7h8.1v1.0h-8.1zM400.6 268.7h8.1v1.0h-8.1zM416.8 268.7h8.1v1.0h-8.1zM441.2 268.7h8.1v1.0h-8.1zM554.8 268.7h8.1v1.0h-8.1zM587.3 268.7h8.1v1.0h-8.1zM603.5 268.7h8.1v1.0h-8.1zM627.9 268.7h8.1v1.0h-8.1zM67.8 269.7h8.1v1.0h-8.1zM132.7 269.7h8.1v1.0h-8.1zM149.0 269.7h8.1v1.0h-8.1zM238.2 269.7h16.2v1.0h-16.2zM295.1 269.7h8.1v1.0h-8.1zM408.7 269.7h8.1v1.0h-8.1zM433.1 269.7h40.6v1.0h-40.6zM481.8 269.7h8.1v1.0h-8.1zM514.2 269.7h8.1v1.0h-8.1zM587.3 269.7h8.1v1.0h-8.1zM603.5 269.7h8.1v1.0h-8.1zM75.9 270.7h8.1v1.0h-8.1zM238.2 270.7h8.1v1.0h-8.1zM270.7 270.7h8.1v1.0h-8.1zM311.3 270.7h8.1v1.0h-8.1zM416.8 270.7h8.1v1.0h-8.1zM441.2 270.7h16.2v1.0h-16.2zM465.5 270.7h32.5v1.0h-32.5zM522.3 270.7h8.1v1.0h-8.1zM603.5 270.7h8.1v1.0h-8.1zM92.2 271.7h8.1v1.0h-8.1zM108.4 271.7h8.1v1.0h-8.1zM149.0 271.7h8.1v1.0h-8.1zM197.7 271.7h8.1v1.0h-8.1zM230.1 271.7h8.1v1.0h-8.1zM270.7 271.7h8.1v1.0h-8.1zM295.1 271.7h8.1v1.0h-8.1zM335.7 271.7h16.2v1.0h-16.2zM392.5 271.7h8.1v1.0h-8.1zM424.9 271.7h8.1v1.0h-8.1zM457.4 271.7h8.1v1.0h-8.1zM473.6 271.7h8.1v1.0h-8.1zM489.9 271.7h8.1v1.0h-8.1zM522.3 271.7h16.2v1.0h-16.2zM554.8 271.7h8.1v1.0h-8.1zM571.0 271.7h24.4v1.0h-24.4zM67.8 272.7h24.4v1.0h-24.4zM149.0 272.7h8.1v1.0h-8.1zM173.3 272.7h8.1v1.0h-8.1zM205.8 272.7h8.1v1.0h-8.1zM230.1 272.7h16.2v1.0h-16.2zM270.7 272.7h8.1v1.0h-8.1zM295.1 272.7h8.1v1.0h-8.1zM311.3 272.7h8.1v1.0h-8.1zM416.8 272.7h8.1v1.0h-8.1zM554.8 272.7h8.1v1.0h-8.1zM595.4 272.7h8.1v1.0h-8.1zM75.9 273.7h16.2v1.0h-16.2zM222.0 273.7h8.1v1.0h-8.1zM270.7 273.7h8.1v1.0h-8.1zM343.8 273.7h8.1v1.0h-8.1zM360.0 273.7h8.1v1.0h-8.1zM392.5 273.7h8.1v1.0h-8.1zM416.8 273.7h8.1v1.0h-8.1zM441.2 273.7h8.1v1.0h-8.1zM457.4 273.7h8.1v1.0h-8.1zM481.8 273.7h8.1v1.0h-8.1zM514.2 273.7h24.4v1.0h-24.4zM554.8 273.7h8.1v1.0h-8.1zM140.9 274.7h8.1v1.0h-8.1zM286.9 274.7h8.1v1.0h-8.1zM343.8 274.7h8.1v1.0h-8.1zM465.5 274.7h16.2v1.0h-16.2zM506.1 274.7h8.1v1.0h-8.1zM538.6 274.7h8.1v1.0h-8.1zM554.8 274.7h8.1v1.0h-8.1zM595.4 274.7h16.2v1.0h-16.2zM627.9 274.7h24.4v1.0h-24.4zM108.4 275.7h8.1v1.0h-8.1zM149.0 275.7h8.1v1.0h-8.1zM173.3 275.7h8.1v1.0h-8.1zM205.8 275.7h8.1v1.0h-8.1zM238.2 275.7h8.1v1.0h-8.1zM286.9 275.7h8.1v1.0h-8.1zM327.5 275.7h8.1v1.0h-8.1zM384.4 275.7h8.1v1.0h-8.1zM400.6 275.7h8.1v1.0h-8.1zM514.2 275.7h16.2v1.0h-16.2zM554.8 275.7h8.1v1.0h-8.1zM579.1 275.7h8.1v1.0h-8.1zM644.1 275.7h8.1v1.0h-8.1zM132.7 276.7h16.2v1.0h-16.2zM222.0 276.7h8.1v1.0h-8.1zM270.7 276.7h8.1v1.0h-8.1zM295.1 276.7h8.1v1.0h-8.1zM351.9 276.7h16.2v1.0h-16.2zM449.3 276.7h8.1v1.0h-8.1zM481.8 276.7h8.1v1.0h-8.1zM506.1 276.7h8.1v1.0h-8.1zM587.3 276.7h8.1v1.0h-8.1zM636.0 276.7h8.1v1.0h-8.1zM67.8 277.7h16.2v1.0h-16.2zM108.4 277.7h8.1v1.0h-8.1zM124.6 277.7h8.1v1.0h-8.1zM181.4 277.7h8.1v1.0h-8.1zM197.7 277.7h24.4v1.0h-24.4zM238.2 277.7h16.2v1.0h-16.2zM262.6 277.7h8.1v1.0h-8.1zM335.7 277.7h8.1v1.0h-8.1zM368.1 277.7h8.1v1.0h-8.1zM408.7 277.7h8.1v1.0h-8.1zM465.5 277.7h8.1v1.0h-8.1zM538.6 277.7h8.1v1.0h-8.1zM554.8 277.7h8.1v1.0h-8.1zM579.1 277.7h8.1v1.0h-8.1zM611.6 277.7h8.1v1.0h-8.1zM132.7 278.7h8.1v1.0h-8.1zM149.0 278.7h8.1v1.0h-8.1zM197.7 278.7h16.2v1.0h-16.2zM238.2 278.7h8.1v1.0h-8.1zM254.5 278.7h8.1v1.0h-8.1zM270.7 278.7h8.1v1.0h-8.1zM286.9 278.7h8.1v1.0h-8.1zM335.7 278.7h8.1v1.0h-8.1zM449.3 278.7h8.1v1.0h-8.1zM481.8 278.7h8.1v1.0h-8.1zM498.0 278.7h8.1v1.0h-8.1zM522.3 278.7h8.1v1.0h-8.1zM546.7 278.7h24.4v1.0h-24.4zM579.1 278.7h8.1v1.0h-8.1zM595.4 278.7h8.1v1.0h-8.1zM619.7 278.7h8.1v1.0h-8.1zM67.8 279.7h8.1v1.0h-8.1zM149.0 279.7h8.1v1.0h-8.1zM181.4 279.7h8.1v1.0h-8.1zM213.9 279.7h8.1v1.0h-8.1zM343.8 279.7h8.1v1.0h-8.1zM498.0 279.7h8.1v1.0h-8.1zM514.2 279.7h8.1v1.0h-8.1zM530.5 279.7h8.1v1.0h-8.1zM603.5 279.7h8.1v1.0h-8.1zM636.0 279.7h16.2v1.0h-16.2zM100.3 280.7h40.6v1.0h-40.6zM181.4 280.7h8.1v1.0h-8.1zM205.8 280.7h8.1v1.0h-8.1zM230.1 280.7h8.1v1.0h-8.1zM246.4 280.7h8.1v1.0h-8.1zM270.7 280.7h8.1v1.0h-8.1zM311.3 280.7h16.2v1.0h-16.2zM351.9 280.7h8.1v1.0h-8.1zM368.1 280.7h8.1v1.0h-8.1zM392.5 280.7h8.1v1.0h-8.1zM408.7 280.7h16.2v1.0h-16.2zM457.4 280.7h16.2v1.0h-16.2zM481.8 280.7h8.1v1.0h-8.1zM506.1 280.7h16.2v1.0h-16.2zM538.6 280.7h8.1v1.0h-8.1zM587.3 280.7h16.2v1.0h-16.2zM149.0 281.7h8.1v1.0h-8.1zM173.3 281.7h8.1v1.0h-8.1zM246.4 281.7h16.2v1.0h-16.2zM286.9 281.7h8.1v1.0h-8.1zM303.2 281.7h8.1v1.0h-8.1zM327.5 281.7h16.2v1.0h-16.2zM368.1 281.7h8.1v1.0h-8.1zM392.5 281.7h16.2v1.0h-16.2zM433.1 281.7h16.2v1.0h-16.2zM457.4 281.7h8.1v1.0h-8.1zM530.5 281.7h32.5v1.0h-32.5zM644.1 281.7h8.1v1.0h-8.1zM92.2 282.7h8.1v1.0h-8.1zM213.9 282.7h8.1v1.0h-8.1zM246.4 282.7h8.1v1.0h-8.1zM335.7 282.7h8.1v1.0h-8.1zM400.6 282.7h8.1v1.0h-8.1zM489.9 282.7h8.1v1.0h-8.1zM538.6 282.7h8.1v1.0h-8.1zM644.1 282.7h8.1v1.0h-8.1zM92.2 283.7h16.2v1.0h-16.2zM124.6 283.7h8.1v1.0h-8.1zM165.2 283.7h8.1v1.0h-8.1zM197.7 283.7h16.2v1.0h-16.2zM230.1 283.7h8.1v1.0h-8.1zM254.5 283.7h16.2v1.0h-16.2zM303.2 283.7h8.1v1.0h-8.1zM319.4 283.7h16.2v1.0h-16.2zM343.8 283.7h8.1v1.0h-8.1zM368.1 283.7h16.2v1.0h-16.2zM400.6 283.7h16.2v1.0h-16.2zM489.9 283.7h8.1v1.0h-8.1zM514.2 283.7h8.1v1.0h-8.1zM554.8 283.7h8.1v1.0h-8.1zM603.5 283.7h8.1v1.0h-8.1zM627.9 283.7h8.1v1.0h-8.1zM132.7 284.7h16.2v1.0h-16.2zM197.7 284.7h16.2v1.0h-16.2zM230.1 284.7h8.1v1.0h-8.1zM254.5 284.7h8.1v1.0h-8.1zM286.9 284.7h8.1v1.0h-8.1zM303.2 284.7h8.1v1.0h-8.1zM327.5 284.7h16.2v1.0h-16.2zM376.2 284.7h8.1v1.0h-8.1zM400.6 284.7h16.2v1.0h-16.2zM441.2 284.7h8.1v1.0h-8.1zM522.3 284.7h8.1v1.0h-8.1zM538.6 284.7h8.1v1.0h-8.1zM554.8 284.7h8.1v1.0h-8.1zM571.0 284.7h8.1v1.0h-8.1zM587.3 284.7h8.1v1.0h-8.1zM636.0 284.7h8.1v1.0h-8.1zM100.3 285.7h16.2v1.0h-16.2zM132.7 285.7h8.1v1.0h-8.1zM181.4 285.7h8.1v1.0h-8.1zM205.8 285.7h8.1v1.0h-8.1zM295.1 285.7h8.1v1.0h-8.1zM311.3 285.7h8.1v1.0h-8.1zM335.7 285.7h8.1v1.0h-8.1zM408.7 285.7h16.2v1.0h-16.2zM465.5 285.7h8.1v1.0h-8.1zM489.9 285.7h8.1v1.0h-8.1zM522.3 285.7h8.1v1.0h-8.1zM538.6 285.7h8.1v1.0h-8.1zM554.8 285.7h8.1v1.0h-8.1zM579.1 285.7h8.1v1.0h-8.1zM67.8 286.7h8.1v1.0h-8.1zM116.5 286.7h16.2v1.0h-16.2zM149.0 286.7h8.1v1.0h-8.1zM197.7 286.7h8.1v1.0h-8.1zM295.1 286.7h24.4v1.0h-24.4zM416.8 286.7h8.1v1.0h-8.1zM441.2 286.7h8.1v1.0h-8.1zM465.5 286.7h16.2v1.0h-16.2zM587.3 286.7h24.4v1.0h-24.4zM627.9 286.7h8.1v1.0h-8.1zM644.1 286.7h8.1v1.0h-8.1zM84.0 287.7h8.1v1.0h-8.1zM108.4 287.7h8.1v1.0h-8.1zM140.9 287.7h16.2v1.0h-16.2zM189.6 287.7h8.1v1.0h-8.1zM270.7 287.7h8.1v1.0h-8.1zM360.0 287.7h8.1v1.0h-8.1zM408.7 287.7h8.1v1.0h-8.1zM433.1 287.7h16.2v1.0h-16.2zM481.8 287.7h8.1v1.0h-8.1zM514.2 287.7h8.1v1.0h-8.1zM579.1 287.7h8.1v1.0h-8.1zM75.9 288.7h24.4v1.0h-24.4zM254.5 288.7h8.1v1.0h-8.1zM270.7 288.7h8.1v1.0h-8.1zM327.5 288.7h8.1v1.0h-8.1zM376.2 288.7h8.1v1.0h-8.1zM392.5 288.7h8.1v1.0h-8.1zM408.7 288.7h8.1v1.0h-8.1zM441.2 288.7h16.2v1.0h-16.2zM546.7 288.7h8.1v1.0h-8.1zM587.3 288.7h16.2v1.0h-16.2zM627.9 288.7h8.1v1.0h-8.1zM75.9 289.7h16.2v1.0h-16.2zM140.9 289.7h16.2v1.0h-16.2zM197.7 289.7h8.1v1.0h-8.1zM262.6 289.7h8.1v1.0h-8.1zM286.9 289.7h8.1v1.0h-8.1zM327.5 289.7h8.1v1.0h-8.1zM384.4 289.7h8.1v1.0h-8.1zM433.1 289.7h8.1v1.0h-8.1zM449.3 289.7h8.1v1.0h-8.1zM473.6 289.7h8.1v1.0h-8.1zM124.6 290.7h8.1v1.0h-8.1zM157.1 290.7h8.1v1.0h-8.1zM238.2 290.7h8.1v1.0h-8.1zM278.8 290.7h8.1v1.0h-8.1zM295.1 290.7h8.1v1.0h-8.1zM327.5 290.7h8.1v1.0h-8.1zM343.8 290.7h8.1v1.0h-8.1zM424.9 290.7h16.2v1.0h-16.2zM473.6 290.7h8.1v1.0h-8.1zM498.0 290.7h8.1v1.0h-8.1zM546.7 290.7h8.1v1.0h-8.1zM562.9 290.7h16.2v1.0h-16.2zM595.4 290.7h8.1v1.0h-8.1zM627.9 290.7h8.1v1.0h-8.1zM644.1 290.7h8.1v1.0h-8.1zM165.2 291.7h8.1v1.0h-8.1zM213.9 291.7h8.1v1.0h-8.1zM238.2 291.7h8.1v1.0h-8.1zM262.6 291.7h8.1v1.0h-8.1zM376.2 291.7h8.1v1.0h-8.1zM416.8 291.7h8.1v1.0h-8.1zM433.1 291.7h8.1v1.0h-8.1zM538.6 291.7h8.1v1.0h-8.1zM554.8 291.7h16.2v1.0h-16.2zM636.0 291.7h8.1v1.0h-8.1zM92.2 292.7h8.1v1.0h-8.1zM124.6 292.7h24.4v1.0h-24.4zM213.9 292.7h16.2v1.0h-16.2zM286.9 292.7h8.1v1.0h-8.1zM303.2 292.7h8.1v1.0h-8.1zM327.5 292.7h8.1v1.0h-8.1zM343.8 292.7h8.1v1.0h-8.1zM384.4 292.7h8.1v1.0h-8.1zM416.8 292.7h8.1v1.0h-8.1zM433.1 292.7h16.2v1.0h-16.2zM465.5 292.7h16.2v1.0h-16.2zM587.3 292.7h8.1v1.0h-8.1zM603.5 292.7h8.1v1.0h-8.1zM636.0 292.7h8.1v1.0h-8.1zM92.2 293.7h8.1v1.0h-8.1zM165.2 293.7h8.1v1.0h-8.1zM238.2 293.7h8.1v1.0h-8.1zM368.1 293.7h8.1v1.0h-8.1zM441.2 293.7h8.1v1.0h-8.1zM489.9 293.7h16.2v1.0h-16.2zM514.2 293.7h8.1v1.0h-8.1zM619.7 293.7h8.1v1.0h-8.1zM108.4 294.7h8.1v1.0h-8.1zM230.1 294.7h8.1v1.0h-8.1zM262.6 294.7h8.1v1.0h-8.1zM286.9 294.7h8.1v1.0h-8.1zM335.7 294.7h8.1v1.0h-8.1zM384.4 294.7h8.1v1.0h-8.1zM465.5 294.7h16.2v1.0h-16.2zM538.6 294.7h8.1v1.0h-8.1zM554.8 294.7h8.1v1.0h-8.1zM579.1 294.7h8.1v1.0h-8.1zM595.4 294.7h8.1v1.0h-8.1zM627.9 294.7h8.1v1.0h-8.1zM67.8 295.7h8.1v1.0h-8.1zM124.6 295.7h8.1v1.0h-8.1zM157.1 295.7h8.1v1.0h-8.1zM181.4 295.7h8.1v1.0h-8.1zM205.8 295.7h16.2v1.0h-16.2zM238.2 295.7h8.1v1.0h-8.1zM303.2 295.7h8.1v1.0h-8.1zM327.5 295.7h8.1v1.0h-8.1zM392.5 295.7h8.1v1.0h-8.1zM416.8 295.7h8.1v1.0h-8.1zM457.4 295.7h8.1v1.0h-8.1zM473.6 295.7h24.4v1.0h-24.4zM506.1 295.7h8.1v1.0h-8.1zM562.9 295.7h8.1v1.0h-8.1zM149.0 296.7h8.1v1.0h-8.1zM165.2 296.7h8.1v1.0h-8.1zM197.7 296.7h8.1v1.0h-8.1zM254.5 296.7h16.2v1.0h-16.2zM303.2 296.7h16.2v1.0h-16.2zM343.8 296.7h8.1v1.0h-8.1zM384.4 296.7h8.1v1.0h-8.1zM408.7 296.7h8.1v1.0h-8.1zM441.2 296.7h8.1v1.0h-8.1zM457.4 296.7h8.1v1.0h-8.1zM481.8 296.7h8.1v1.0h-8.1zM498.0 296.7h8.1v1.0h-8.1zM562.9 296.7h8.1v1.0h-8.1zM587.3 296.7h24.4v1.0h-24.4zM619.7 296.7h16.2v1.0h-16.2zM84.0 297.7h24.4v1.0h-24.4zM124.6 297.7h8.1v1.0h-8.1zM165.2 297.7h16.2v1.0h-16.2zM197.7 297.7h8.1v1.0h-8.1zM238.2 297.7h8.1v1.0h-8.1zM254.5 297.7h8.1v1.0h-8.1zM286.9 297.7h8.1v1.0h-8.1zM343.8 297.7h24.4v1.0h-24.4zM384.4 297.7h8.1v1.0h-8.1zM400.6 297.7h16.2v1.0h-16.2zM465.5 297.7h16.2v1.0h-16.2zM498.0 297.7h8.1v1.0h-8.1zM514.2 297.7h8.1v1.0h-8.1zM571.0 297.7h8.1v1.0h-8.1zM636.0 297.7h8.1v1.0h-8.1zM132.7 298.7h8.1v1.0h-8.1zM205.8 298.7h8.1v1.0h-8.1zM230.1 298.7h8.1v1.0h-8.1zM278.8 298.7h8.1v1.0h-8.1zM295.1 298.7h8.1v1.0h-8.1zM319.4 298.7h8.1v1.0h-8.1zM335.7 298.7h8.1v1.0h-8.1zM360.0 298.7h8.1v1.0h-8.1zM392.5 298.7h8.1v1.0h-8.1zM424.9 298.7h8.1v1.0h-8.1zM457.4 298.7h8.1v1.0h-8.1zM489.9 298.7h8.1v1.0h-8.1zM530.5 298.7h8.1v1.0h-8.1zM546.7 298.7h8.1v1.0h-8.1zM587.3 298.7h8.1v1.0h-8.1zM644.1 298.7h8.1v1.0h-8.1zM75.9 299.7h8.1v1.0h-8.1zM100.3 299.7h8.1v1.0h-8.1zM140.9 299.7h8.1v1.0h-8.1zM213.9 299.7h8.1v1.0h-8.1zM254.5 299.7h16.2v1.0h-16.2zM295.1 299.7h16.2v1.0h-16.2zM408.7 299.7h8.1v1.0h-8.1zM424.9 299.7h8.1v1.0h-8.1zM465.5 299.7h8.1v1.0h-8.1zM506.1 299.7h16.2v1.0h-16.2zM546.7 299.7h16.2v1.0h-16.2zM595.4 299.7h8.1v1.0h-8.1zM67.8 300.7h16.2v1.0h-16.2zM116.5 300.7h16.2v1.0h-16.2zM149.0 300.7h8.1v1.0h-8.1zM165.2 300.7h8.1v1.0h-8.1zM205.8 300.7h8.1v1.0h-8.1zM222.0 300.7h8.1v1.0h-8.1zM254.5 300.7h8.1v1.0h-8.1zM278.8 300.7h8.1v1.0h-8.1zM343.8 300.7h8.1v1.0h-8.1zM368.1 300.7h8.1v1.0h-8.1zM408.7 300.7h8.1v1.0h-8.1zM481.8 300.7h8.1v1.0h-8.1zM538.6 300.7h8.1v1.0h-8.1zM562.9 300.7h16.2v1.0h-16.2zM587.3 300.7h8.1v1.0h-8.1zM67.8 301.7h16.2v1.0h-16.2zM149.0 301.7h8.1v1.0h-8.1zM238.2 301.7h8.1v1.0h-8.1zM270.7 301.7h8.1v1.0h-8.1zM295.1 301.7h8.1v1.0h-8.1zM319.4 301.7h8.1v1.0h-8.1zM376.2 301.7h24.4v1.0h-24.4zM465.5 301.7h8.1v1.0h-8.1zM571.0 301.7h8.1v1.0h-8.1zM627.9 301.7h8.1v1.0h-8.1zM644.1 301.7h8.1v1.0h-8.1zM75.9 302.7h8.1v1.0h-8.1zM140.9 302.7h8.1v1.0h-8.1zM197.7 302.7h8.1v1.0h-8.1zM213.9 302.7h8.1v1.0h-8.1zM286.9 302.7h8.1v1.0h-8.1zM319.4 302.7h16.2v1.0h-16.2zM376.2 302.7h8.1v1.0h-8.1zM392.5 302.7h32.5v1.0h-32.5zM481.8 302.7h8.1v1.0h-8.1zM538.6 302.7h8.1v1.0h-8.1zM562.9 302.7h8.1v1.0h-8.1zM579.1 302.7h16.2v1.0h-16.2zM603.5 302.7h8.1v1.0h-8.1zM644.1 302.7h8.1v1.0h-8.1zM132.7 303.7h8.1v1.0h-8.1zM157.1 303.7h8.1v1.0h-8.1zM238.2 303.7h8.1v1.0h-8.1zM254.5 303.7h8.1v1.0h-8.1zM319.4 303.7h24.4v1.0h-24.4zM351.9 303.7h8.1v1.0h-8.1zM368.1 303.7h8.1v1.0h-8.1zM441.2 303.7h8.1v1.0h-8.1zM506.1 303.7h8.1v1.0h-8.1zM530.5 303.7h16.2v1.0h-16.2zM587.3 303.7h8.1v1.0h-8.1zM627.9 303.7h24.4v1.0h-24.4zM140.9 304.7h8.1v1.0h-8.1zM189.6 304.7h8.1v1.0h-8.1zM205.8 304.7h16.2v1.0h-16.2zM238.2 304.7h8.1v1.0h-8.1zM270.7 304.7h8.1v1.0h-8.1zM303.2 304.7h8.1v1.0h-8.1zM319.4 304.7h16.2v1.0h-16.2zM351.9 304.7h8.1v1.0h-8.1zM368.1 304.7h8.1v1.0h-8.1zM384.4 304.7h8.1v1.0h-8.1zM465.5 304.7h8.1v1.0h-8.1zM514.2 304.7h8.1v1.0h-8.1zM554.8 304.7h16.2v1.0h-16.2zM595.4 304.7h8.1v1.0h-8.1zM67.8 305.7h16.2v1.0h-16.2zM92.2 305.7h8.1v1.0h-8.1zM140.9 305.7h8.1v1.0h-8.1zM173.3 305.7h8.1v1.0h-8.1zM197.7 305.7h24.4v1.0h-24.4zM230.1 305.7h8.1v1.0h-8.1zM246.4 305.7h16.2v1.0h-16.2zM286.9 305.7h8.1v1.0h-8.1zM319.4 305.7h8.1v1.0h-8.1zM368.1 305.7h16.2v1.0h-16.2zM400.6 305.7h8.1v1.0h-8.1zM489.9 305.7h8.1v1.0h-8.1zM522.3 305.7h8.1v1.0h-8.1zM538.6 305.7h8.1v1.0h-8.1zM603.5 305.7h8.1v1.0h-8.1zM619.7 305.7h8.1v1.0h-8.1zM636.0 305.7h8.1v1.0h-8.1zM92.2 306.7h8.1v1.0h-8.1zM173.3 306.7h8.1v1.0h-8.1zM189.6 306.7h8.1v1.0h-8.1zM230.1 306.7h8.1v1.0h-8.1zM262.6 306.7h16.2v1.0h-16.2zM327.5 306.7h8.1v1.0h-8.1zM368.1 306.7h8.1v1.0h-8.1zM392.5 306.7h8.1v1.0h-8.1zM441.2 306.7h8.1v1.0h-8.1zM465.5 306.7h8.1v1.0h-8.1zM481.8 306.7h16.2v1.0h-16.2zM522.3 306.7h8.1v1.0h-8.1zM627.9 306.7h16.2v1.0h-16.2zM75.9 307.7h8.1v1.0h-8.1zM100.3 307.7h8.1v1.0h-8.1zM173.3 307.7h8.1v1.0h-8.1zM205.8 307.7h8.1v1.0h-8.1zM222.0 307.7h8.1v1.0h-8.1zM278.8 307.7h8.1v1.0h-8.1zM295.1 307.7h16.2v1.0h-16.2zM327.5 307.7h8.1v1.0h-8.1zM351.9 307.7h8.1v1.0h-8.1zM392.5 307.7h8.1v1.0h-8.1zM441.2 307.7h8.1v1.0h-8.1zM465.5 307.7h8.1v1.0h-8.1zM498.0 307.7h8.1v1.0h-8.1zM571.0 307.7h8.1v1.0h-8.1zM587.3 307.7h16.2v1.0h-16.2zM636.0 307.7h8.1v1.0h-8.1zM197.7 308.7h8.1v1.0h-8.1zM230.1 308.7h8.1v1.0h-8.1zM295.1 308.7h8.1v1.0h-8.1zM392.5 308.7h8.1v1.0h-8.1zM433.1 308.7h8.1v1.0h-8.1zM457.4 308.7h8.1v1.0h-8.1zM530.5 308.7h16.2v1.0h-16.2zM554.8 308.7h8.1v1.0h-8.1zM603.5 308.7h8.1v1.0h-8.1zM636.0 308.7h8.1v1.0h-8.1zM92.2 309.7h8.1v1.0h-8.1zM140.9 309.7h24.4v1.0h-24.4zM181.4 309.7h8.1v1.0h-8.1zM205.8 309.7h8.1v1.0h-8.1zM230.1 309.7h8.1v1.0h-8.1zM246.4 309.7h8.1v1.0h-8.1zM262.6 309.7h16.2v1.0h-16.2zM303.2 309.7h8.1v1.0h-8.1zM327.5 309.7h8.1v1.0h-8.1zM343.8 309.7h8.1v1.0h-8.1zM465.5 309.7h8.1v1.0h-8.1zM489.9 309.7h8.1v1.0h-8.1zM554.8 309.7h8.1v1.0h-8.1zM579.1 309.7h16.2v1.0h-16.2zM603.5 309.7h16.2v1.0h-16.2zM627.9 309.7h16.2v1.0h-16.2zM116.5 310.7h8.1v1.0h-8.1zM157.1 310.7h8.1v1.0h-8.1zM205.8 310.7h8.1v1.0h-8.1zM222.0 310.7h8.1v1.0h-8.1zM246.4 310.7h8.1v1.0h-8.1zM311.3 310.7h8.1v1.0h-8.1zM368.1 310.7h8.1v1.0h-8.1zM392.5 310.7h8.1v1.0h-8.1zM457.4 310.7h8.1v1.0h-8.1zM481.8 310.7h16.2v1.0h-16.2zM546.7 310.7h8.1v1.0h-8.1zM562.9 310.7h8.1v1.0h-8.1zM67.8 311.7h8.1v1.0h-8.1zM157.1 311.7h8.1v1.0h-8.1zM270.7 311.7h8.1v1.0h-8.1zM295.1 311.7h8.1v1.0h-8.1zM343.8 311.7h8.1v1.0h-8.1zM465.5 311.7h8.1v1.0h-8.1zM481.8 311.7h24.4v1.0h-24.4zM514.2 311.7h8.1v1.0h-8.1zM530.5 311.7h16.2v1.0h-16.2zM554.8 311.7h8.1v1.0h-8.1zM579.1 311.7h16.2v1.0h-16.2zM619.7 311.7h16.2v1.0h-16.2zM75.9 312.7h8.1v1.0h-8.1zM108.4 312.7h16.2v1.0h-16.2zM157.1 312.7h8.1v1.0h-8.1zM222.0 312.7h24.4v1.0h-24.4zM270.7 312.7h8.1v1.0h-8.1zM286.9 312.7h8.1v1.0h-8.1zM424.9 312.7h8.1v1.0h-8.1zM457.4 312.7h24.4v1.0h-24.4zM506.1 312.7h16.2v1.0h-16.2zM538.6 312.7h8.1v1.0h-8.1zM579.1 312.7h16.2v1.0h-16.2zM619.7 312.7h24.4v1.0h-24.4zM132.7 313.7h8.1v1.0h-8.1zM197.7 313.7h8.1v1.0h-8.1zM262.6 313.7h8.1v1.0h-8.1zM360.0 313.7h16.2v1.0h-16.2zM522.3 313.7h8.1v1.0h-8.1zM538.6 313.7h32.5v1.0h-32.5zM603.5 313.7h8.1v1.0h-8.1zM619.7 313.7h16.2v1.0h-16.2zM108.4 314.7h16.2v1.0h-16.2zM140.9 314.7h16.2v1.0h-16.2zM165.2 314.7h8.1v1.0h-8.1zM205.8 314.7h8.1v1.0h-8.1zM230.1 314.7h8.1v1.0h-8.1zM286.9 314.7h8.1v1.0h-8.1zM335.7 314.7h8.1v1.0h-8.1zM360.0 314.7h8.1v1.0h-8.1zM392.5 314.7h8.1v1.0h-8.1zM424.9 314.7h8.1v1.0h-8.1zM473.6 314.7h8.1v1.0h-8.1zM538.6 314.7h8.1v1.0h-8.1zM595.4 314.7h16.2v1.0h-16.2zM619.7 314.7h8.1v1.0h-8.1zM636.0 314.7h8.1v1.0h-8.1zM84.0 315.7h8.1v1.0h-8.1zM132.7 315.7h8.1v1.0h-8.1zM205.8 315.7h16.2v1.0h-16.2zM360.0 315.7h8.1v1.0h-8.1zM384.4 315.7h16.2v1.0h-16.2zM506.1 315.7h8.1v1.0h-8.1zM530.5 315.7h8.1v1.0h-8.1zM587.3 315.7h8.1v1.0h-8.1zM619.7 315.7h8.1v1.0h-8.1zM636.0 315.7h8.1v1.0h-8.1zM67.8 316.7h8.1v1.0h-8.1zM124.6 316.7h16.2v1.0h-16.2zM149.0 316.7h8.1v1.0h-8.1zM205.8 316.7h8.1v1.0h-8.1zM230.1 316.7h8.1v1.0h-8.1zM262.6 316.7h8.1v1.0h-8.1zM278.8 316.7h8.1v1.0h-8.1zM295.1 316.7h24.4v1.0h-24.4zM327.5 316.7h8.1v1.0h-8.1zM343.8 316.7h16.2v1.0h-16.2zM368.1 316.7h8.1v1.0h-8.1zM392.5 316.7h8.1v1.0h-8.1zM457.4 316.7h8.1v1.0h-8.1zM481.8 316.7h8.1v1.0h-8.1zM498.0 316.7h16.2v1.0h-16.2zM579.1 316.7h8.1v1.0h-8.1zM595.4 316.7h8.1v1.0h-8.1zM67.8 317.7h8.1v1.0h-8.1zM124.6 317.7h16.2v1.0h-16.2zM165.2 317.7h16.2v1.0h-16.2zM205.8 317.7h8.1v1.0h-8.1zM222.0 317.7h8.1v1.0h-8.1zM295.1 317.7h8.1v1.0h-8.1zM368.1 317.7h24.4v1.0h-24.4zM457.4 317.7h16.2v1.0h-16.2zM481.8 317.7h8.1v1.0h-8.1zM506.1 317.7h8.1v1.0h-8.1zM538.6 317.7h16.2v1.0h-16.2zM636.0 317.7h16.2v1.0h-16.2zM67.8 318.7h8.1v1.0h-8.1zM92.2 318.7h8.1v1.0h-8.1zM140.9 318.7h8.1v1.0h-8.1zM165.2 318.7h8.1v1.0h-8.1zM205.8 318.7h8.1v1.0h-8.1zM262.6 318.7h8.1v1.0h-8.1zM278.8 318.7h8.1v1.0h-8.1zM295.1 318.7h8.1v1.0h-8.1zM319.4 318.7h8.1v1.0h-8.1zM335.7 318.7h8.1v1.0h-8.1zM376.2 318.7h16.2v1.0h-16.2zM441.2 318.7h8.1v1.0h-8.1zM457.4 318.7h8.1v1.0h-8.1zM473.6 318.7h16.2v1.0h-16.2zM554.8 318.7h8.1v1.0h-8.1zM595.4 318.7h8.1v1.0h-8.1zM108.4 319.7h8.1v1.0h-8.1zM173.3 319.7h8.1v1.0h-8.1zM205.8 319.7h16.2v1.0h-16.2zM238.2 319.7h8.1v1.0h-8.1zM270.7 319.7h16.2v1.0h-16.2zM303.2 319.7h8.1v1.0h-8.1zM327.5 319.7h8.1v1.0h-8.1zM351.9 319.7h16.2v1.0h-16.2zM376.2 319.7h8.1v1.0h-8.1zM392.5 319.7h8.1v1.0h-8.1zM408.7 319.7h8.1v1.0h-8.1zM465.5 319.7h8.1v1.0h-8.1zM498.0 319.7h8.1v1.0h-8.1zM571.0 319.7h24.4v1.0h-24.4zM67.8 320.7h8.1v1.0h-8.1zM100.3 320.7h16.2v1.0h-16.2zM124.6 320.7h8.1v1.0h-8.1zM205.8 320.7h8.1v1.0h-8.1zM230.1 320.7h8.1v1.0h-8.1zM295.1 320.7h8.1v1.0h-8.1zM335.7 320.7h32.5v1.0h-32.5zM384.4 320.7h8.1v1.0h-8.1zM465.5 320.7h8.1v1.0h-8.1zM514.2 320.7h16.2v1.0h-16.2zM538.6 320.7h16.2v1.0h-16.2zM627.9 320.7h16.2v1.0h-16.2zM75.9 321.7h8.1v1.0h-8.1zM116.5 321.7h8.1v1.0h-8.1zM157.1 321.7h16.2v1.0h-16.2zM213.9 321.7h16.2v1.0h-16.2zM327.5 321.7h16.2v1.0h-16.2zM360.0 321.7h8.1v1.0h-8.1zM376.2 321.7h8.1v1.0h-8.1zM441.2 321.7h8.1v1.0h-8.1zM457.4 321.7h16.2v1.0h-16.2zM514.2 321.7h8.1v1.0h-8.1zM530.5 321.7h8.1v1.0h-8.1zM546.7 321.7h8.1v1.0h-8.1zM603.5 321.7h8.1v1.0h-8.1zM619.7 321.7h8.1v1.0h-8.1zM92.2 322.7h8.1v1.0h-8.1zM116.5 322.7h8.1v1.0h-8.1zM157.1 322.7h8.1v1.0h-8.1zM173.3 322.7h8.1v1.0h-8.1zM230.1 322.7h8.1v1.0h-8.1zM246.4 322.7h8.1v1.0h-8.1zM278.8 322.7h8.1v1.0h-8.1zM335.7 322.7h24.4v1.0h-24.4zM392.5 322.7h8.1v1.0h-8.1zM408.7 322.7h8.1v1.0h-8.1zM424.9 322.7h8.1v1.0h-8.1zM441.2 322.7h8.1v1.0h-8.1zM473.6 322.7h16.2v1.0h-16.2zM514.2 322.7h16.2v1.0h-16.2zM554.8 322.7h8.1v1.0h-8.1zM579.1 322.7h16.2v1.0h-16.2zM627.9 322.7h8.1v1.0h-8.1zM67.8 323.7h24.4v1.0h-24.4zM100.3 323.7h8.1v1.0h-8.1zM343.8 323.7h8.1v1.0h-8.1zM376.2 323.7h8.1v1.0h-8.1zM392.5 323.7h8.1v1.0h-8.1zM416.8 323.7h8.1v1.0h-8.1zM441.2 323.7h8.1v1.0h-8.1zM457.4 323.7h8.1v1.0h-8.1zM498.0 323.7h8.1v1.0h-8.1zM522.3 323.7h8.1v1.0h-8.1zM538.6 323.7h8.1v1.0h-8.1zM571.0 323.7h8.1v1.0h-8.1zM595.4 323.7h16.2v1.0h-16.2zM619.7 323.7h24.4v1.0h-24.4zM67.8 324.7h8.1v1.0h-8.1zM92.2 324.7h8.1v1.0h-8.1zM124.6 324.7h8.1v1.0h-8.1zM140.9 324.7h8.1v1.0h-8.1zM189.6 324.7h8.1v1.0h-8.1zM238.2 324.7h8.1v1.0h-8.1zM262.6 324.7h8.1v1.0h-8.1zM327.5 324.7h16.2v1.0h-16.2zM368.1 324.7h8.1v1.0h-8.1zM384.4 324.7h16.2v1.0h-16.2zM449.3 324.7h8.1v1.0h-8.1zM481.8 324.7h8.1v1.0h-8.1zM579.1 324.7h8.1v1.0h-8.1zM636.0 324.7h8.1v1.0h-8.1zM75.9 325.7h8.1v1.0h-8.1zM124.6 325.7h8.1v1.0h-8.1zM157.1 325.7h8.1v1.0h-8.1zM173.3 325.7h8.1v1.0h-8.1zM254.5 325.7h8.1v1.0h-8.1zM270.7 325.7h8.1v1.0h-8.1zM295.1 325.7h8.1v1.0h-8.1zM319.4 325.7h8.1v1.0h-8.1zM343.8 325.7h8.1v1.0h-8.1zM424.9 325.7h8.1v1.0h-8.1zM441.2 325.7h16.2v1.0h-16.2zM489.9 325.7h8.1v1.0h-8.1zM522.3 325.7h8.1v1.0h-8.1zM538.6 325.7h16.2v1.0h-16.2zM562.9 325.7h8.1v1.0h-8.1zM67.8 326.7h8.1v1.0h-8.1zM92.2 326.7h16.2v1.0h-16.2zM140.9 326.7h8.1v1.0h-8.1zM157.1 326.7h24.4v1.0h-24.4zM189.6 326.7h8.1v1.0h-8.1zM230.1 326.7h8.1v1.0h-8.1zM351.9 326.7h8.1v1.0h-8.1zM368.1 326.7h8.1v1.0h-8.1zM400.6 326.7h8.1v1.0h-8.1zM424.9 326.7h16.2v1.0h-16.2zM465.5 326.7h16.2v1.0h-16.2zM522.3 326.7h16.2v1.0h-16.2zM546.7 326.7h8.1v1.0h-8.1zM571.0 326.7h16.2v1.0h-16.2zM611.6 326.7h8.1v1.0h-8.1zM636.0 326.7h16.2v1.0h-16.2zM84.0 327.7h8.1v1.0h-8.1zM140.9 327.7h8.1v1.0h-8.1zM189.6 327.7h16.2v1.0h-16.2zM230.1 327.7h16.2v1.0h-16.2zM254.5 327.7h16.2v1.0h-16.2zM278.8 327.7h8.1v1.0h-8.1zM303.2 327.7h8.1v1.0h-8.1zM327.5 327.7h16.2v1.0h-16.2zM384.4 327.7h16.2v1.0h-16.2zM416.8 327.7h16.2v1.0h-16.2zM473.6 327.7h8.1v1.0h-8.1zM489.9 327.7h8.1v1.0h-8.1zM554.8 327.7h8.1v1.0h-8.1zM611.6 327.7h8.1v1.0h-8.1zM92.2 328.7h8.1v1.0h-8.1zM213.9 328.7h8.1v1.0h-8.1zM262.6 328.7h8.1v1.0h-8.1zM278.8 328.7h8.1v1.0h-8.1zM311.3 328.7h24.4v1.0h-24.4zM376.2 328.7h8.1v1.0h-8.1zM400.6 328.7h8.1v1.0h-8.1zM416.8 328.7h8.1v1.0h-8.1zM433.1 328.7h8.1v1.0h-8.1zM530.5 328.7h16.2v1.0h-16.2zM571.0 328.7h8.1v1.0h-8.1zM587.3 328.7h8.1v1.0h-8.1zM619.7 328.7h8.1v1.0h-8.1zM100.3 329.7h8.1v1.0h-8.1zM189.6 329.7h8.1v1.0h-8.1zM222.0 329.7h16.2v1.0h-16.2zM254.5 329.7h8.1v1.0h-8.1zM295.1 329.7h8.1v1.0h-8.1zM311.3 329.7h8.1v1.0h-8.1zM351.9 329.7h8.1v1.0h-8.1zM368.1 329.7h16.2v1.0h-16.2zM392.5 329.7h8.1v1.0h-8.1zM408.7 329.7h8.1v1.0h-8.1zM465.5 329.7h8.1v1.0h-8.1zM506.1 329.7h8.1v1.0h-8.1zM546.7 329.7h8.1v1.0h-8.1zM562.9 329.7h24.4v1.0h-24.4zM611.6 329.7h8.1v1.0h-8.1zM627.9 329.7h8.1v1.0h-8.1zM165.2 330.7h16.2v1.0h-16.2zM197.7 330.7h8.1v1.0h-8.1zM238.2 330.7h8.1v1.0h-8.1zM262.6 330.7h16.2v1.0h-16.2zM335.7 330.7h8.1v1.0h-8.1zM368.1 330.7h8.1v1.0h-8.1zM408.7 330.7h8.1v1.0h-8.1zM424.9 330.7h8.1v1.0h-8.1zM473.6 330.7h16.2v1.0h-16.2zM514.2 330.7h16.2v1.0h-16.2zM546.7 330.7h8.1v1.0h-8.1zM571.0 330.7h16.2v1.0h-16.2zM595.4 330.7h8.1v1.0h-8.1zM627.9 330.7h8.1v1.0h-8.1zM644.1 330.7h8.1v1.0h-8.1zM75.9 331.7h16.2v1.0h-16.2zM116.5 331.7h16.2v1.0h-16.2zM173.3 331.7h8.1v1.0h-8.1zM189.6 331.7h8.1v1.0h-8.1zM230.1 331.7h16.2v1.0h-16.2zM262.6 331.7h32.5v1.0h-32.5zM311.3 331.7h8.1v1.0h-8.1zM327.5 331.7h8.1v1.0h-8.1zM368.1 331.7h16.2v1.0h-16.2zM408.7 331.7h8.1v1.0h-8.1zM424.9 331.7h8.1v1.0h-8.1zM449.3 331.7h8.1v1.0h-8.1zM465.5 331.7h8.1v1.0h-8.1zM481.8 331.7h8.1v1.0h-8.1zM514.2 331.7h8.1v1.0h-8.1zM530.5 331.7h8.1v1.0h-8.1zM554.8 331.7h16.2v1.0h-16.2zM579.1 331.7h16.2v1.0h-16.2zM627.9 331.7h8.1v1.0h-8.1zM92.2 332.7h8.1v1.0h-8.1zM132.7 332.7h8.1v1.0h-8.1zM157.1 332.7h8.1v1.0h-8.1zM173.3 332.7h8.1v1.0h-8.1zM189.6 332.7h8.1v1.0h-8.1zM230.1 332.7h8.1v1.0h-8.1zM270.7 332.7h8.1v1.0h-8.1zM327.5 332.7h8.1v1.0h-8.1zM343.8 332.7h8.1v1.0h-8.1zM384.4 332.7h16.2v1.0h-16.2zM424.9 332.7h8.1v1.0h-8.1zM465.5 332.7h16.2v1.0h-16.2zM498.0 332.7h8.1v1.0h-8.1zM587.3 332.7h8.1v1.0h-8.1zM611.6 332.7h8.1v1.0h-8.1zM124.6 333.7h8.1v1.0h-8.1zM205.8 333.7h8.1v1.0h-8.1zM254.5 333.7h8.1v1.0h-8.1zM278.8 333.7h8.1v1.0h-8.1zM311.3 333.7h8.1v1.0h-8.1zM327.5 333.7h16.2v1.0h-16.2zM368.1 333.7h8.1v1.0h-8.1zM416.8 333.7h8.1v1.0h-8.1zM457.4 333.7h8.1v1.0h-8.1zM473.6 333.7h8.1v1.0h-8.1zM514.2 333.7h8.1v1.0h-8.1zM530.5 333.7h8.1v1.0h-8.1zM546.7 333.7h8.1v1.0h-8.1zM571.0 333.7h16.2v1.0h-16.2zM619.7 333.7h24.4v1.0h-24.4zM92.2 334.7h16.2v1.0h-16.2zM173.3 334.7h16.2v1.0h-16.2zM205.8 334.7h16.2v1.0h-16.2zM238.2 334.7h8.1v1.0h-8.1zM327.5 334.7h8.1v1.0h-8.1zM368.1 334.7h16.2v1.0h-16.2zM392.5 334.7h8.1v1.0h-8.1zM473.6 334.7h8.1v1.0h-8.1zM498.0 334.7h8.1v1.0h-8.1zM514.2 334.7h8.1v1.0h-8.1zM538.6 334.7h24.4v1.0h-24.4zM579.1 334.7h16.2v1.0h-16.2zM636.0 334.7h16.2v1.0h-16.2zM75.9 335.7h16.2v1.0h-16.2zM100.3 335.7h16.2v1.0h-16.2zM140.9 335.7h16.2v1.0h-16.2zM173.3 335.7h8.1v1.0h-8.1zM222.0 335.7h16.2v1.0h-16.2zM270.7 335.7h24.4v1.0h-24.4zM327.5 335.7h8.1v1.0h-8.1zM360.0 335.7h8.1v1.0h-8.1zM376.2 335.7h8.1v1.0h-8.1zM473.6 335.7h8.1v1.0h-8.1zM514.2 335.7h8.1v1.0h-8.1zM538.6 335.7h16.2v1.0h-16.2zM562.9 335.7h8.1v1.0h-8.1zM587.3 335.7h8.1v1.0h-8.1zM603.5 335.7h8.1v1.0h-8.1zM116.5 336.7h8.1v1.0h-8.1zM157.1 336.7h8.1v1.0h-8.1zM173.3 336.7h8.1v1.0h-8.1zM246.4 336.7h16.2v1.0h-16.2zM270.7 336.7h8.1v1.0h-8.1zM295.1 336.7h8.1v1.0h-8.1zM311.3 336.7h8.1v1.0h-8.1zM327.5 336.7h16.2v1.0h-16.2zM368.1 336.7h8.1v1.0h-8.1zM392.5 336.7h8.1v1.0h-8.1zM408.7 336.7h8.1v1.0h-8.1zM433.1 336.7h24.4v1.0h-24.4zM506.1 336.7h16.2v1.0h-16.2zM554.8 336.7h8.1v1.0h-8.1zM595.4 336.7h8.1v1.0h-8.1zM611.6 336.7h8.1v1.0h-8.1zM627.9 336.7h8.1v1.0h-8.1zM67.8 337.7h8.1v1.0h-8.1zM100.3 337.7h8.1v1.0h-8.1zM173.3 337.7h8.1v1.0h-8.1zM189.6 337.7h8.1v1.0h-8.1zM246.4 337.7h8.1v1.0h-8.1zM262.6 337.7h8.1v1.0h-8.1zM343.8 337.7h16.2v1.0h-16.2zM384.4 337.7h8.1v1.0h-8.1zM408.7 337.7h8.1v1.0h-8.1zM449.3 337.7h8.1v1.0h-8.1zM473.6 337.7h16.2v1.0h-16.2zM498.0 337.7h8.1v1.0h-8.1zM554.8 337.7h8.1v1.0h-8.1zM587.3 337.7h8.1v1.0h-8.1zM636.0 337.7h8.1v1.0h-8.1zM67.8 338.7h8.1v1.0h-8.1zM100.3 338.7h8.1v1.0h-8.1zM132.7 338.7h8.1v1.0h-8.1zM149.0 338.7h16.2v1.0h-16.2zM222.0 338.7h8.1v1.0h-8.1zM254.5 338.7h16.2v1.0h-16.2zM286.9 338.7h8.1v1.0h-8.1zM335.7 338.7h8.1v1.0h-8.1zM351.9 338.7h8.1v1.0h-8.1zM384.4 338.7h16.2v1.0h-16.2zM416.8 338.7h8.1v1.0h-8.1zM433.1 338.7h8.1v1.0h-8.1zM473.6 338.7h16.2v1.0h-16.2zM530.5 338.7h8.1v1.0h-8.1zM554.8 338.7h16.2v1.0h-16.2zM579.1 338.7h16.2v1.0h-16.2zM603.5 338.7h32.5v1.0h-32.5zM644.1 338.7h8.1v1.0h-8.1zM67.8 339.7h8.1v1.0h-8.1zM84.0 339.7h8.1v1.0h-8.1zM116.5 339.7h8.1v1.0h-8.1zM181.4 339.7h8.1v1.0h-8.1zM246.4 339.7h8.1v1.0h-8.1zM262.6 339.7h8.1v1.0h-8.1zM327.5 339.7h8.1v1.0h-8.1zM343.8 339.7h16.2v1.0h-16.2zM376.2 339.7h8.1v1.0h-8.1zM449.3 339.7h8.1v1.0h-8.1zM489.9 339.7h16.2v1.0h-16.2zM538.6 339.7h8.1v1.0h-8.1zM554.8 339.7h8.1v1.0h-8.1zM84.0 340.7h8.1v1.0h-8.1zM319.4 340.7h8.1v1.0h-8.1zM384.4 340.7h16.2v1.0h-16.2zM408.7 340.7h8.1v1.0h-8.1zM449.3 340.7h8.1v1.0h-8.1zM538.6 340.7h16.2v1.0h-16.2zM627.9 340.7h8.1v1.0h-8.1zM84.0 341.7h16.2v1.0h-16.2zM124.6 341.7h16.2v1.0h-16.2zM181.4 341.7h8.1v1.0h-8.1zM222.0 341.7h16.2v1.0h-16.2zM254.5 341.7h24.4v1.0h-24.4zM343.8 341.7h8.1v1.0h-8.1zM360.0 341.7h8.1v1.0h-8.1zM424.9 341.7h8.1v1.0h-8.1zM473.6 341.7h8.1v1.0h-8.1zM498.0 341.7h8.1v1.0h-8.1zM619.7 341.7h8.1v1.0h-8.1zM75.9 342.7h8.1v1.0h-8.1zM205.8 342.7h8.1v1.0h-8.1zM254.5 342.7h8.1v1.0h-8.1zM311.3 342.7h8.1v1.0h-8.1zM335.7 342.7h8.1v1.0h-8.1zM351.9 342.7h8.1v1.0h-8.1zM384.4 342.7h16.2v1.0h-16.2zM424.9 342.7h8.1v1.0h-8.1zM481.8 342.7h24.4v1.0h-24.4zM546.7 342.7h8.1v1.0h-8.1zM100.3 343.7h8.1v1.0h-8.1zM116.5 343.7h8.1v1.0h-8.1zM197.7 343.7h8.1v1.0h-8.1zM213.9 343.7h8.1v1.0h-8.1zM230.1 343.7h8.1v1.0h-8.1zM311.3 343.7h8.1v1.0h-8.1zM335.7 343.7h16.2v1.0h-16.2zM384.4 343.7h8.1v1.0h-8.1zM408.7 343.7h16.2v1.0h-16.2zM441.2 343.7h8.1v1.0h-8.1zM465.5 343.7h32.5v1.0h-32.5zM514.2 343.7h8.1v1.0h-8.1zM100.3 344.7h8.1v1.0h-8.1zM140.9 344.7h8.1v1.0h-8.1zM157.1 344.7h8.1v1.0h-8.1zM205.8 344.7h16.2v1.0h-16.2zM303.2 344.7h16.2v1.0h-16.2zM327.5 344.7h16.2v1.0h-16.2zM424.9 344.7h8.1v1.0h-8.1zM473.6 344.7h8.1v1.0h-8.1zM636.0 344.7h8.1v1.0h-8.1zM84.0 345.7h8.1v1.0h-8.1zM132.7 345.7h8.1v1.0h-8.1zM205.8 345.7h8.1v1.0h-8.1zM230.1 345.7h8.1v1.0h-8.1zM254.5 345.7h16.2v1.0h-16.2zM311.3 345.7h8.1v1.0h-8.1zM327.5 345.7h8.1v1.0h-8.1zM368.1 345.7h8.1v1.0h-8.1zM473.6 345.7h8.1v1.0h-8.1zM506.1 345.7h8.1v1.0h-8.1zM627.9 345.7h8.1v1.0h-8.1zM116.5 346.7h8.1v1.0h-8.1zM132.7 346.7h16.2v1.0h-16.2zM189.6 346.7h8.1v1.0h-8.1zM270.7 346.7h8.1v1.0h-8.1zM319.4 346.7h24.4v1.0h-24.4zM416.8 346.7h8.1v1.0h-8.1zM449.3 346.7h24.4v1.0h-24.4zM498.0 346.7h16.2v1.0h-16.2zM530.5 346.7h16.2v1.0h-16.2zM619.7 346.7h8.1v1.0h-8.1zM116.5 347.7h8.1v1.0h-8.1zM140.9 347.7h8.1v1.0h-8.1zM254.5 347.7h8.1v1.0h-8.1zM311.3 347.7h24.4v1.0h-24.4zM343.8 347.7h8.1v1.0h-8.1zM368.1 347.7h8.1v1.0h-8.1zM481.8 347.7h8.1v1.0h-8.1zM506.1 347.7h16.2v1.0h-16.2zM562.9 347.7h16.2v1.0h-16.2zM132.7 348.7h8.1v1.0h-8.1zM246.4 348.7h8.1v1.0h-8.1zM295.1 348.7h8.1v1.0h-8.1zM384.4 348.7h16.2v1.0h-16.2zM416.8 348.7h16.2v1.0h-16.2zM457.4 348.7h8.1v1.0h-8.1zM481.8 348.7h16.2v1.0h-16.2zM579.1 348.7h8.1v1.0h-8.1zM644.1 348.7h8.1v1.0h-8.1zM108.4 349.7h8.1v1.0h-8.1zM205.8 349.7h24.4v1.0h-24.4zM254.5 349.7h16.2v1.0h-16.2zM311.3 349.7h32.5v1.0h-32.5zM376.2 349.7h8.1v1.0h-8.1zM392.5 349.7h8.1v1.0h-8.1zM416.8 349.7h8.1v1.0h-8.1zM441.2 349.7h8.1v1.0h-8.1zM473.6 349.7h16.2v1.0h-16.2zM514.2 349.7h16.2v1.0h-16.2zM595.4 349.7h8.1v1.0h-8.1zM132.7 350.7h8.1v1.0h-8.1zM149.0 350.7h8.1v1.0h-8.1zM173.3 350.7h8.1v1.0h-8.1zM230.1 350.7h16.2v1.0h-16.2zM270.7 350.7h8.1v1.0h-8.1zM335.7 350.7h8.1v1.0h-8.1zM384.4 350.7h8.1v1.0h-8.1zM400.6 350.7h16.2v1.0h-16.2zM449.3 350.7h32.5v1.0h-32.5zM506.1 350.7h8.1v1.0h-8.1zM92.2 351.7h16.2v1.0h-16.2zM116.5 351.7h8.1v1.0h-8.1zM157.1 351.7h16.2v1.0h-16.2zM230.1 351.7h8.1v1.0h-8.1zM270.7 351.7h8.1v1.0h-8.1zM319.4 351.7h8.1v1.0h-8.1zM343.8 351.7h16.2v1.0h-16.2zM392.5 351.7h16.2v1.0h-16.2zM424.9 351.7h16.2v1.0h-16.2zM498.0 351.7h8.1v1.0h-8.1zM514.2 351.7h16.2v1.0h-16.2zM538.6 351.7h8.1v1.0h-8.1zM579.1 351.7h8.1v1.0h-8.1zM75.9 352.7h8.1v1.0h-8.1zM92.2 352.7h16.2v1.0h-16.2zM205.8 352.7h8.1v1.0h-8.1zM222.0 352.7h8.1v1.0h-8.1zM238.2 352.7h8.1v1.0h-8.1zM295.1 352.7h16.2v1.0h-16.2zM335.7 352.7h8.1v1.0h-8.1zM368.1 352.7h8.1v1.0h-8.1zM424.9 352.7h8.1v1.0h-8.1zM481.8 352.7h8.1v1.0h-8.1zM514.2 352.7h8.1v1.0h-8.1zM100.3 353.7h8.1v1.0h-8.1zM149.0 353.7h8.1v1.0h-8.1zM181.4 353.7h16.2v1.0h-16.2zM213.9 353.7h8.1v1.0h-8.1zM254.5 353.7h8.1v1.0h-8.1zM303.2 353.7h16.2v1.0h-16.2zM327.5 353.7h8.1v1.0h-8.1zM376.2 353.7h8.1v1.0h-8.1zM416.8 353.7h24.4v1.0h-24.4zM449.3 353.7h8.1v1.0h-8.1zM473.6 353.7h16.2v1.0h-16.2zM506.1 353.7h24.4v1.0h-24.4zM140.9 354.7h16.2v1.0h-16.2zM181.4 354.7h8.1v1.0h-8.1zM213.9 354.7h8.1v1.0h-8.1zM254.5 354.7h8.1v1.0h-8.1zM278.8 354.7h8.1v1.0h-8.1zM327.5 354.7h8.1v1.0h-8.1zM424.9 354.7h24.4v1.0h-24.4zM457.4 354.7h24.4v1.0h-24.4zM498.0 354.7h24.4v1.0h-24.4zM530.5 354.7h8.1v1.0h-8.1zM611.6 354.7h8.1v1.0h-8.1zM108.4 355.7h8.1v1.0h-8.1zM132.7 355.7h8.1v1.0h-8.1zM213.9 355.7h8.1v1.0h-8.1zM230.1 355.7h8.1v1.0h-8.1zM246.4 355.7h16.2v1.0h-16.2zM303.2 355.7h8.1v1.0h-8.1zM343.8 355.7h8.1v1.0h-8.1zM360.0 355.7h8.1v1.0h-8.1zM441.2 355.7h8.1v1.0h-8.1zM498.0 355.7h8.1v1.0h-8.1zM514.2 355.7h8.1v1.0h-8.1zM587.3 355.7h8.1v1.0h-8.1zM611.6 355.7h8.1v1.0h-8.1zM636.0 355.7h8.1v1.0h-8.1zM189.6 356.7h8.1v1.0h-8.1zM230.1 356.7h16.2v1.0h-16.2zM262.6 356.7h24.4v1.0h-24.4zM311.3 356.7h8.1v1.0h-8.1zM408.7 356.7h16.2v1.0h-16.2zM441.2 356.7h8.1v1.0h-8.1zM473.6 356.7h16.2v1.0h-16.2zM522.3 356.7h24.4v1.0h-24.4zM619.7 356.7h8.1v1.0h-8.1zM100.3 357.7h8.1v1.0h-8.1zM140.9 357.7h8.1v1.0h-8.1zM157.1 357.7h16.2v1.0h-16.2zM197.7 357.7h24.4v1.0h-24.4zM303.2 357.7h8.1v1.0h-8.1zM319.4 357.7h24.4v1.0h-24.4zM351.9 357.7h16.2v1.0h-16.2zM392.5 357.7h8.1v1.0h-8.1zM408.7 357.7h8.1v1.0h-8.1zM424.9 357.7h8.1v1.0h-8.1zM449.3 357.7h16.2v1.0h-16.2zM473.6 357.7h16.2v1.0h-16.2zM506.1 357.7h32.5v1.0h-32.5zM67.8 358.7h8.1v1.0h-8.1zM108.4 358.7h8.1v1.0h-8.1zM132.7 358.7h8.1v1.0h-8.1zM149.0 358.7h8.1v1.0h-8.1zM230.1 358.7h8.1v1.0h-8.1zM246.4 358.7h8.1v1.0h-8.1zM303.2 358.7h8.1v1.0h-8.1zM319.4 358.7h16.2v1.0h-16.2zM376.2 358.7h16.2v1.0h-16.2zM408.7 358.7h8.1v1.0h-8.1zM457.4 358.7h16.2v1.0h-16.2zM481.8 358.7h8.1v1.0h-8.1zM498.0 358.7h8.1v1.0h-8.1zM530.5 358.7h8.1v1.0h-8.1zM92.2 359.7h8.1v1.0h-8.1zM149.0 359.7h8.1v1.0h-8.1zM230.1 359.7h8.1v1.0h-8.1zM278.8 359.7h8.1v1.0h-8.1zM303.2 359.7h16.2v1.0h-16.2zM368.1 359.7h16.2v1.0h-16.2zM392.5 359.7h8.1v1.0h-8.1zM481.8 359.7h16.2v1.0h-16.2zM530.5 359.7h8.1v1.0h-8.1zM579.1 359.7h16.2v1.0h-16.2zM116.5 360.7h8.1v1.0h-8.1zM140.9 360.7h8.1v1.0h-8.1zM286.9 360.7h8.1v1.0h-8.1zM311.3 360.7h8.1v1.0h-8.1zM343.8 360.7h8.1v1.0h-8.1zM441.2 360.7h8.1v1.0h-8.1zM457.4 360.7h24.4v1.0h-24.4zM498.0 360.7h8.1v1.0h-8.1zM514.2 360.7h8.1v1.0h-8.1zM644.1 360.7h8.1v1.0h-8.1zM67.8 361.7h24.4v1.0h-24.4zM116.5 361.7h8.1v1.0h-8.1zM181.4 361.7h8.1v1.0h-8.1zM262.6 361.7h8.1v1.0h-8.1zM360.0 361.7h8.1v1.0h-8.1zM400.6 361.7h8.1v1.0h-8.1zM424.9 361.7h8.1v1.0h-8.1zM449.3 361.7h8.1v1.0h-8.1zM473.6 361.7h8.1v1.0h-8.1zM522.3 361.7h8.1v1.0h-8.1zM579.1 361.7h24.4v1.0h-24.4zM619.7 361.7h8.1v1.0h-8.1zM67.8 362.7h8.1v1.0h-8.1zM92.2 362.7h24.4v1.0h-24.4zM140.9 362.7h8.1v1.0h-8.1zM213.9 362.7h8.1v1.0h-8.1zM254.5 362.7h16.2v1.0h-16.2zM278.8 362.7h16.2v1.0h-16.2zM392.5 362.7h8.1v1.0h-8.1zM424.9 362.7h8.1v1.0h-8.1zM457.4 362.7h8.1v1.0h-8.1zM489.9 362.7h8.1v1.0h-8.1zM506.1 362.7h8.1v1.0h-8.1zM579.1 362.7h8.1v1.0h-8.1zM67.8 363.7h8.1v1.0h-8.1zM84.0 363.7h8.1v1.0h-8.1zM278.8 363.7h16.2v1.0h-16.2zM319.4 363.7h8.1v1.0h-8.1zM351.9 363.7h8.1v1.0h-8.1zM424.9 363.7h8.1v1.0h-8.1zM457.4 363.7h16.2v1.0h-16.2zM489.9 363.7h8.1v1.0h-8.1zM644.1 363.7h8.1v1.0h-8.1zM84.0 364.7h8.1v1.0h-8.1zM100.3 364.7h8.1v1.0h-8.1zM157.1 364.7h8.1v1.0h-8.1zM189.6 364.7h8.1v1.0h-8.1zM262.6 364.7h16.2v1.0h-16.2zM319.4 364.7h16.2v1.0h-16.2zM351.9 364.7h8.1v1.0h-8.1zM408.7 364.7h16.2v1.0h-16.2zM457.4 364.7h8.1v1.0h-8.1zM514.2 364.7h8.1v1.0h-8.1zM611.6 364.7h8.1v1.0h-8.1zM84.0 365.7h8.1v1.0h-8.1zM100.3 365.7h8.1v1.0h-8.1zM124.6 365.7h8.1v1.0h-8.1zM165.2 365.7h8.1v1.0h-8.1zM181.4 365.7h16.2v1.0h-16.2zM205.8 365.7h8.1v1.0h-8.1zM222.0 365.7h8.1v1.0h-8.1zM254.5 365.7h8.1v1.0h-8.1zM295.1 365.7h16.2v1.0h-16.2zM360.0 365.7h24.4v1.0h-24.4zM392.5 365.7h8.1v1.0h-8.1zM408.7 365.7h8.1v1.0h-8.1zM457.4 365.7h8.1v1.0h-8.1zM481.8 365.7h8.1v1.0h-8.1zM498.0 365.7h8.1v1.0h-8.1zM530.5 365.7h8.1v1.0h-8.1zM611.6 365.7h8.1v1.0h-8.1zM75.9 366.7h8.1v1.0h-8.1zM116.5 366.7h8.1v1.0h-8.1zM140.9 366.7h8.1v1.0h-8.1zM157.1 366.7h16.2v1.0h-16.2zM262.6 366.7h8.1v1.0h-8.1zM278.8 366.7h8.1v1.0h-8.1zM295.1 366.7h8.1v1.0h-8.1zM343.8 366.7h8.1v1.0h-8.1zM368.1 366.7h16.2v1.0h-16.2zM400.6 366.7h8.1v1.0h-8.1zM424.9 366.7h24.4v1.0h-24.4zM473.6 366.7h16.2v1.0h-16.2zM546.7 366.7h16.2v1.0h-16.2zM92.2 367.7h16.2v1.0h-16.2zM181.4 367.7h8.1v1.0h-8.1zM213.9 367.7h8.1v1.0h-8.1zM319.4 367.7h8.1v1.0h-8.1zM343.8 367.7h8.1v1.0h-8.1zM376.2 367.7h8.1v1.0h-8.1zM538.6 367.7h8.1v1.0h-8.1zM579.1 367.7h8.1v1.0h-8.1zM603.5 367.7h8.1v1.0h-8.1zM636.0 367.7h16.2v1.0h-16.2zM92.2 368.7h8.1v1.0h-8.1zM116.5 368.7h8.1v1.0h-8.1zM140.9 368.7h8.1v1.0h-8.1zM173.3 368.7h8.1v1.0h-8.1zM238.2 368.7h16.2v1.0h-16.2zM270.7 368.7h8.1v1.0h-8.1zM319.4 368.7h8.1v1.0h-8.1zM343.8 368.7h8.1v1.0h-8.1zM376.2 368.7h8.1v1.0h-8.1zM416.8 368.7h8.1v1.0h-8.1zM449.3 368.7h8.1v1.0h-8.1zM530.5 368.7h8.1v1.0h-8.1zM587.3 368.7h8.1v1.0h-8.1zM644.1 368.7h8.1v1.0h-8.1zM75.9 369.7h8.1v1.0h-8.1zM92.2 369.7h8.1v1.0h-8.1zM343.8 369.7h16.2v1.0h-16.2zM368.1 369.7h8.1v1.0h-8.1zM408.7 369.7h8.1v1.0h-8.1zM441.2 369.7h8.1v1.0h-8.1zM457.4 369.7h8.1v1.0h-8.1zM481.8 369.7h16.2v1.0h-16.2zM506.1 369.7h16.2v1.0h-16.2zM75.9 370.7h8.1v1.0h-8.1zM124.6 370.7h8.1v1.0h-8.1zM238.2 370.7h8.1v1.0h-8.1zM360.0 370.7h16.2v1.0h-16.2zM392.5 370.7h8.1v1.0h-8.1zM441.2 370.7h8.1v1.0h-8.1zM465.5 370.7h16.2v1.0h-16.2zM498.0 370.7h8.1v1.0h-8.1zM514.2 370.7h8.1v1.0h-8.1zM538.6 370.7h8.1v1.0h-8.1zM644.1 370.7h8.1v1.0h-8.1zM116.5 371.7h8.1v1.0h-8.1zM140.9 371.7h8.1v1.0h-8.1zM165.2 371.7h16.2v1.0h-16.2zM197.7 371.7h8.1v1.0h-8.1zM262.6 371.7h16.2v1.0h-16.2zM295.1 371.7h16.2v1.0h-16.2zM319.4 371.7h8.1v1.0h-8.1zM335.7 371.7h8.1v1.0h-8.1zM360.0 371.7h8.1v1.0h-8.1zM376.2 371.7h8.1v1.0h-8.1zM416.8 371.7h16.2v1.0h-16.2zM457.4 371.7h8.1v1.0h-8.1zM498.0 371.7h8.1v1.0h-8.1zM514.2 371.7h8.1v1.0h-8.1zM530.5 371.7h8.1v1.0h-8.1zM636.0 371.7h16.2v1.0h-16.2zM67.8 372.7h8.1v1.0h-8.1zM100.3 372.7h16.2v1.0h-16.2zM157.1 372.7h8.1v1.0h-8.1zM213.9 372.7h16.2v1.0h-16.2zM254.5 372.7h8.1v1.0h-8.1zM286.9 372.7h8.1v1.0h-8.1zM311.3 372.7h8.1v1.0h-8.1zM335.7 372.7h16.2v1.0h-16.2zM384.4 372.7h8.1v1.0h-8.1zM441.2 372.7h8.1v1.0h-8.1zM506.1 372.7h16.2v1.0h-16.2zM530.5 372.7h8.1v1.0h-8.1zM587.3 372.7h16.2v1.0h-16.2zM246.4 373.7h8.1v1.0h-8.1zM270.7 373.7h8.1v1.0h-8.1zM286.9 373.7h8.1v1.0h-8.1zM303.2 373.7h8.1v1.0h-8.1zM360.0 373.7h8.1v1.0h-8.1zM433.1 373.7h8.1v1.0h-8.1zM449.3 373.7h8.1v1.0h-8.1zM465.5 373.7h8.1v1.0h-8.1zM481.8 373.7h8.1v1.0h-8.1zM498.0 373.7h8.1v1.0h-8.1zM546.7 373.7h8.1v1.0h-8.1zM587.3 373.7h8.1v1.0h-8.1zM75.9 374.7h16.2v1.0h-16.2zM140.9 374.7h8.1v1.0h-8.1zM157.1 374.7h32.5v1.0h-32.5zM205.8 374.7h16.2v1.0h-16.2zM246.4 374.7h8.1v1.0h-8.1zM262.6 374.7h16.2v1.0h-16.2zM327.5 374.7h8.1v1.0h-8.1zM343.8 374.7h8.1v1.0h-8.1zM392.5 374.7h8.1v1.0h-8.1zM424.9 374.7h8.1v1.0h-8.1zM465.5 374.7h8.1v1.0h-8.1zM546.7 374.7h8.1v1.0h-8.1zM67.8 375.7h8.1v1.0h-8.1zM100.3 375.7h8.1v1.0h-8.1zM116.5 375.7h8.1v1.0h-8.1zM149.0 375.7h8.1v1.0h-8.1zM165.2 375.7h16.2v1.0h-16.2zM246.4 375.7h8.1v1.0h-8.1zM262.6 375.7h8.1v1.0h-8.1zM351.9 375.7h8.1v1.0h-8.1zM368.1 375.7h8.1v1.0h-8.1zM408.7 375.7h8.1v1.0h-8.1zM465.5 375.7h8.1v1.0h-8.1zM530.5 375.7h16.2v1.0h-16.2zM181.4 376.7h8.1v1.0h-8.1zM205.8 376.7h16.2v1.0h-16.2zM246.4 376.7h16.2v1.0h-16.2zM295.1 376.7h16.2v1.0h-16.2zM360.0 376.7h8.1v1.0h-8.1zM376.2 376.7h8.1v1.0h-8.1zM441.2 376.7h8.1v1.0h-8.1zM481.8 376.7h8.1v1.0h-8.1zM498.0 376.7h8.1v1.0h-8.1zM538.6 376.7h8.1v1.0h-8.1zM571.0 376.7h16.2v1.0h-16.2zM627.9 376.7h16.2v1.0h-16.2zM75.9 377.7h8.1v1.0h-8.1zM132.7 377.7h8.1v1.0h-8.1zM149.0 377.7h24.4v1.0h-24.4zM213.9 377.7h8.1v1.0h-8.1zM246.4 377.7h8.1v1.0h-8.1zM262.6 377.7h8.1v1.0h-8.1zM319.4 377.7h16.2v1.0h-16.2zM351.9 377.7h8.1v1.0h-8.1zM376.2 377.7h8.1v1.0h-8.1zM408.7 377.7h8.1v1.0h-8.1zM449.3 377.7h8.1v1.0h-8.1zM481.8 377.7h8.1v1.0h-8.1zM498.0 377.7h8.1v1.0h-8.1zM514.2 377.7h8.1v1.0h-8.1zM530.5 377.7h16.2v1.0h-16.2zM627.9 377.7h8.1v1.0h-8.1zM124.6 378.7h24.4v1.0h-24.4zM246.4 378.7h24.4v1.0h-24.4zM286.9 378.7h8.1v1.0h-8.1zM311.3 378.7h8.1v1.0h-8.1zM327.5 378.7h8.1v1.0h-8.1zM343.8 378.7h24.4v1.0h-24.4zM376.2 378.7h16.2v1.0h-16.2zM441.2 378.7h16.2v1.0h-16.2zM498.0 378.7h8.1v1.0h-8.1zM538.6 378.7h8.1v1.0h-8.1zM67.8 379.7h8.1v1.0h-8.1zM116.5 379.7h8.1v1.0h-8.1zM303.2 379.7h8.1v1.0h-8.1zM416.8 379.7h16.2v1.0h-16.2zM441.2 379.7h8.1v1.0h-8.1zM457.4 379.7h8.1v1.0h-8.1zM546.7 379.7h16.2v1.0h-16.2zM636.0 379.7h8.1v1.0h-8.1zM67.8 380.7h16.2v1.0h-16.2zM116.5 380.7h24.4v1.0h-24.4zM157.1 380.7h8.1v1.0h-8.1zM205.8 380.7h8.1v1.0h-8.1zM246.4 380.7h8.1v1.0h-8.1zM262.6 380.7h16.2v1.0h-16.2zM295.1 380.7h8.1v1.0h-8.1zM368.1 380.7h8.1v1.0h-8.1zM416.8 380.7h8.1v1.0h-8.1zM473.6 380.7h16.2v1.0h-16.2zM498.0 380.7h8.1v1.0h-8.1zM514.2 380.7h8.1v1.0h-8.1zM538.6 380.7h8.1v1.0h-8.1zM636.0 380.7h8.1v1.0h-8.1zM205.8 381.7h16.2v1.0h-16.2zM246.4 381.7h16.2v1.0h-16.2zM270.7 381.7h8.1v1.0h-8.1zM368.1 381.7h8.1v1.0h-8.1zM408.7 381.7h16.2v1.0h-16.2zM489.9 381.7h8.1v1.0h-8.1zM514.2 381.7h16.2v1.0h-16.2zM84.0 382.7h8.1v1.0h-8.1zM149.0 382.7h16.2v1.0h-16.2zM173.3 382.7h8.1v1.0h-8.1zM205.8 382.7h16.2v1.0h-16.2zM278.8 382.7h8.1v1.0h-8.1zM311.3 382.7h8.1v1.0h-8.1zM343.8 382.7h16.2v1.0h-16.2zM408.7 382.7h8.1v1.0h-8.1zM522.3 382.7h8.1v1.0h-8.1zM627.9 382.7h8.1v1.0h-8.1zM157.1 383.7h24.4v1.0h-24.4zM205.8 383.7h16.2v1.0h-16.2zM327.5 383.7h8.1v1.0h-8.1zM351.9 383.7h16.2v1.0h-16.2zM376.2 383.7h8.1v1.0h-8.1zM433.1 383.7h32.5v1.0h-32.5zM530.5 383.7h8.1v1.0h-8.1zM611.6 383.7h8.1v1.0h-8.1zM75.9 384.7h8.1v1.0h-8.1zM205.8 384.7h8.1v1.0h-8.1zM270.7 384.7h8.1v1.0h-8.1zM286.9 384.7h16.2v1.0h-16.2zM319.4 384.7h8.1v1.0h-8.1zM335.7 384.7h8.1v1.0h-8.1zM408.7 384.7h8.1v1.0h-8.1zM433.1 384.7h16.2v1.0h-16.2zM498.0 384.7h32.5v1.0h-32.5zM538.6 384.7h8.1v1.0h-8.1zM603.5 384.7h16.2v1.0h-16.2zM636.0 384.7h8.1v1.0h-8.1zM75.9 385.7h8.1v1.0h-8.1zM116.5 385.7h24.4v1.0h-24.4zM254.5 385.7h8.1v1.0h-8.1zM295.1 385.7h8.1v1.0h-8.1zM327.5 385.7h16.2v1.0h-16.2zM368.1 385.7h8.1v1.0h-8.1zM400.6 385.7h8.1v1.0h-8.1zM457.4 385.7h8.1v1.0h-8.1zM489.9 385.7h24.4v1.0h-24.4zM530.5 385.7h8.1v1.0h-8.1zM75.9 386.7h16.2v1.0h-16.2zM108.4 386.7h8.1v1.0h-8.1zM124.6 386.7h8.1v1.0h-8.1zM262.6 386.7h8.1v1.0h-8.1zM278.8 386.7h8.1v1.0h-8.1zM303.2 386.7h16.2v1.0h-16.2zM351.9 386.7h40.6v1.0h-40.6zM465.5 386.7h8.1v1.0h-8.1zM514.2 386.7h8.1v1.0h-8.1zM627.9 386.7h8.1v1.0h-8.1zM644.1 386.7h8.1v1.0h-8.1zM92.2 387.7h8.1v1.0h-8.1zM140.9 387.7h8.1v1.0h-8.1zM303.2 387.7h8.1v1.0h-8.1zM335.7 387.7h8.1v1.0h-8.1zM457.4 387.7h8.1v1.0h-8.1zM481.8 387.7h8.1v1.0h-8.1zM538.6 387.7h8.1v1.0h-8.1zM554.8 387.7h8.1v1.0h-8.1zM100.3 388.7h8.1v1.0h-8.1zM116.5 388.7h8.1v1.0h-8.1zM254.5 388.7h8.1v1.0h-8.1zM270.7 388.7h8.1v1.0h-8.1zM311.3 388.7h16.2v1.0h-16.2zM351.9 388.7h8.1v1.0h-8.1zM376.2 388.7h16.2v1.0h-16.2zM416.8 388.7h8.1v1.0h-8.1zM465.5 388.7h8.1v1.0h-8.1zM489.9 388.7h16.2v1.0h-16.2zM132.7 389.7h8.1v1.0h-8.1zM197.7 389.7h24.4v1.0h-24.4zM270.7 389.7h8.1v1.0h-8.1zM286.9 389.7h8.1v1.0h-8.1zM311.3 389.7h8.1v1.0h-8.1zM351.9 389.7h8.1v1.0h-8.1zM376.2 389.7h16.2v1.0h-16.2zM441.2 389.7h8.1v1.0h-8.1zM473.6 389.7h8.1v1.0h-8.1zM514.2 389.7h8.1v1.0h-8.1zM530.5 389.7h24.4v1.0h-24.4zM579.1 389.7h8.1v1.0h-8.1zM116.5 390.7h8.1v1.0h-8.1zM132.7 390.7h8.1v1.0h-8.1zM173.3 390.7h8.1v1.0h-8.1zM205.8 390.7h8.1v1.0h-8.1zM303.2 390.7h8.1v1.0h-8.1zM335.7 390.7h8.1v1.0h-8.1zM376.2 390.7h8.1v1.0h-8.1zM433.1 390.7h16.2v1.0h-16.2zM481.8 390.7h24.4v1.0h-24.4zM530.5 390.7h16.2v1.0h-16.2zM619.7 390.7h8.1v1.0h-8.1zM75.9 391.7h8.1v1.0h-8.1zM116.5 391.7h16.2v1.0h-16.2zM213.9 391.7h8.1v1.0h-8.1zM230.1 391.7h8.1v1.0h-8.1zM262.6 391.7h8.1v1.0h-8.1zM311.3 391.7h16.2v1.0h-16.2zM441.2 391.7h16.2v1.0h-16.2zM473.6 391.7h8.1v1.0h-8.1zM522.3 391.7h16.2v1.0h-16.2zM554.8 391.7h8.1v1.0h-8.1zM595.4 391.7h8.1v1.0h-8.1zM611.6 391.7h8.1v1.0h-8.1zM84.0 392.7h8.1v1.0h-8.1zM165.2 392.7h8.1v1.0h-8.1zM205.8 392.7h8.1v1.0h-8.1zM262.6 392.7h8.1v1.0h-8.1zM303.2 392.7h16.2v1.0h-16.2zM351.9 392.7h24.4v1.0h-24.4zM392.5 392.7h24.4v1.0h-24.4zM433.1 392.7h16.2v1.0h-16.2zM514.2 392.7h8.1v1.0h-8.1zM530.5 392.7h16.2v1.0h-16.2zM644.1 392.7h8.1v1.0h-8.1zM67.8 393.7h8.1v1.0h-8.1zM84.0 393.7h16.2v1.0h-16.2zM132.7 393.7h8.1v1.0h-8.1zM157.1 393.7h16.2v1.0h-16.2zM376.2 393.7h16.2v1.0h-16.2zM408.7 393.7h8.1v1.0h-8.1zM424.9 393.7h8.1v1.0h-8.1zM441.2 393.7h8.1v1.0h-8.1zM457.4 393.7h8.1v1.0h-8.1zM481.8 393.7h24.4v1.0h-24.4zM530.5 393.7h16.2v1.0h-16.2zM644.1 393.7h8.1v1.0h-8.1zM108.4 394.7h8.1v1.0h-8.1zM132.7 394.7h8.1v1.0h-8.1zM165.2 394.7h8.1v1.0h-8.1zM238.2 394.7h8.1v1.0h-8.1zM286.9 394.7h8.1v1.0h-8.1zM303.2 394.7h8.1v1.0h-8.1zM335.7 394.7h8.1v1.0h-8.1zM384.4 394.7h8.1v1.0h-8.1zM400.6 394.7h8.1v1.0h-8.1zM433.1 394.7h24.4v1.0h-24.4zM473.6 394.7h8.1v1.0h-8.1zM530.5 394.7h8.1v1.0h-8.1zM587.3 394.7h8.1v1.0h-8.1zM644.1 394.7h8.1v1.0h-8.1zM67.8 395.7h8.1v1.0h-8.1zM140.9 395.7h8.1v1.0h-8.1zM230.1 395.7h8.1v1.0h-8.1zM254.5 395.7h8.1v1.0h-8.1zM270.7 395.7h16.2v1.0h-16.2zM303.2 395.7h8.1v1.0h-8.1zM335.7 395.7h8.1v1.0h-8.1zM368.1 395.7h16.2v1.0h-16.2zM416.8 395.7h8.1v1.0h-8.1zM441.2 395.7h8.1v1.0h-8.1zM465.5 395.7h8.1v1.0h-8.1zM538.6 395.7h8.1v1.0h-8.1zM75.9 396.7h8.1v1.0h-8.1zM116.5 396.7h8.1v1.0h-8.1zM132.7 396.7h16.2v1.0h-16.2zM213.9 396.7h8.1v1.0h-8.1zM230.1 396.7h8.1v1.0h-8.1zM254.5 396.7h8.1v1.0h-8.1zM303.2 396.7h16.2v1.0h-16.2zM343.8 396.7h8.1v1.0h-8.1zM408.7 396.7h8.1v1.0h-8.1zM441.2 396.7h8.1v1.0h-8.1zM514.2 396.7h8.1v1.0h-8.1zM538.6 396.7h8.1v1.0h-8.1zM579.1 396.7h8.1v1.0h-8.1zM644.1 396.7h8.1v1.0h-8.1zM92.2 397.7h8.1v1.0h-8.1zM213.9 397.7h8.1v1.0h-8.1zM303.2 397.7h8.1v1.0h-8.1zM351.9 397.7h8.1v1.0h-8.1zM384.4 397.7h8.1v1.0h-8.1zM465.5 397.7h8.1v1.0h-8.1zM489.9 397.7h8.1v1.0h-8.1zM619.7 397.7h16.2v1.0h-16.2zM75.9 398.7h32.5v1.0h-32.5zM116.5 398.7h8.1v1.0h-8.1zM140.9 398.7h8.1v1.0h-8.1zM173.3 398.7h8.1v1.0h-8.1zM205.8 398.7h8.1v1.0h-8.1zM246.4 398.7h8.1v1.0h-8.1zM343.8 398.7h8.1v1.0h-8.1zM408.7 398.7h16.2v1.0h-16.2zM457.4 398.7h16.2v1.0h-16.2zM498.0 398.7h8.1v1.0h-8.1zM538.6 398.7h8.1v1.0h-8.1zM595.4 398.7h8.1v1.0h-8.1zM627.9 398.7h8.1v1.0h-8.1zM140.9 399.7h8.1v1.0h-8.1zM157.1 399.7h8.1v1.0h-8.1zM197.7 399.7h8.1v1.0h-8.1zM270.7 399.7h8.1v1.0h-8.1zM311.3 399.7h8.1v1.0h-8.1zM335.7 399.7h16.2v1.0h-16.2zM368.1 399.7h8.1v1.0h-8.1zM384.4 399.7h8.1v1.0h-8.1zM424.9 399.7h8.1v1.0h-8.1zM441.2 399.7h8.1v1.0h-8.1zM498.0 399.7h8.1v1.0h-8.1zM100.3 400.7h8.1v1.0h-8.1zM140.9 400.7h16.2v1.0h-16.2zM197.7 400.7h8.1v1.0h-8.1zM213.9 400.7h8.1v1.0h-8.1zM238.2 400.7h8.1v1.0h-8.1zM295.1 400.7h8.1v1.0h-8.1zM327.5 400.7h8.1v1.0h-8.1zM343.8 400.7h16.2v1.0h-16.2zM416.8 400.7h8.1v1.0h-8.1zM441.2 400.7h8.1v1.0h-8.1zM465.5 400.7h8.1v1.0h-8.1zM489.9 400.7h8.1v1.0h-8.1zM84.0 401.7h8.1v1.0h-8.1zM116.5 401.7h8.1v1.0h-8.1zM140.9 401.7h24.4v1.0h-24.4zM262.6 401.7h8.1v1.0h-8.1zM286.9 401.7h8.1v1.0h-8.1zM319.4 401.7h8.1v1.0h-8.1zM335.7 401.7h8.1v1.0h-8.1zM368.1 401.7h8.1v1.0h-8.1zM392.5 401.7h8.1v1.0h-8.1zM441.2 401.7h16.2v1.0h-16.2zM506.1 401.7h8.1v1.0h-8.1zM587.3 401.7h8.1v1.0h-8.1zM67.8 402.7h8.1v1.0h-8.1zM84.0 402.7h8.1v1.0h-8.1zM132.7 402.7h8.1v1.0h-8.1zM254.5 402.7h8.1v1.0h-8.1zM270.7 402.7h8.1v1.0h-8.1zM311.3 402.7h8.1v1.0h-8.1zM335.7 402.7h8.1v1.0h-8.1zM360.0 402.7h8.1v1.0h-8.1zM392.5 402.7h8.1v1.0h-8.1zM408.7 402.7h8.1v1.0h-8.1zM441.2 402.7h8.1v1.0h-8.1zM465.5 402.7h16.2v1.0h-16.2zM506.1 402.7h8.1v1.0h-8.1zM530.5 402.7h16.2v1.0h-16.2zM571.0 402.7h8.1v1.0h-8.1zM644.1 402.7h8.1v1.0h-8.1zM140.9 403.7h8.1v1.0h-8.1zM157.1 403.7h8.1v1.0h-8.1zM173.3 403.7h8.1v1.0h-8.1zM238.2 403.7h8.1v1.0h-8.1zM351.9 403.7h24.4v1.0h-24.4zM424.9 403.7h8.1v1.0h-8.1zM481.8 403.7h8.1v1.0h-8.1zM498.0 403.7h8.1v1.0h-8.1zM538.6 403.7h8.1v1.0h-8.1zM595.4 403.7h8.1v1.0h-8.1zM67.8 404.7h8.1v1.0h-8.1zM132.7 404.7h8.1v1.0h-8.1zM189.6 404.7h8.1v1.0h-8.1zM230.1 404.7h8.1v1.0h-8.1zM262.6 404.7h8.1v1.0h-8.1zM351.9 404.7h16.2v1.0h-16.2zM441.2 404.7h16.2v1.0h-16.2zM465.5 404.7h32.5v1.0h-32.5zM506.1 404.7h8.1v1.0h-8.1zM522.3 404.7h8.1v1.0h-8.1zM538.6 404.7h8.1v1.0h-8.1zM571.0 404.7h16.2v1.0h-16.2zM611.6 404.7h8.1v1.0h-8.1zM627.9 404.7h8.1v1.0h-8.1zM140.9 405.7h8.1v1.0h-8.1zM165.2 405.7h8.1v1.0h-8.1zM205.8 405.7h8.1v1.0h-8.1zM222.0 405.7h8.1v1.0h-8.1zM270.7 405.7h8.1v1.0h-8.1zM416.8 405.7h8.1v1.0h-8.1zM481.8 405.7h16.2v1.0h-16.2zM522.3 405.7h8.1v1.0h-8.1zM587.3 405.7h8.1v1.0h-8.1zM108.4 406.7h8.1v1.0h-8.1zM124.6 406.7h8.1v1.0h-8.1zM157.1 406.7h8.1v1.0h-8.1zM173.3 406.7h8.1v1.0h-8.1zM189.6 406.7h8.1v1.0h-8.1zM205.8 406.7h8.1v1.0h-8.1zM254.5 406.7h8.1v1.0h-8.1zM327.5 406.7h16.2v1.0h-16.2zM351.9 406.7h8.1v1.0h-8.1zM416.8 406.7h8.1v1.0h-8.1zM457.4 406.7h8.1v1.0h-8.1zM498.0 406.7h8.1v1.0h-8.1zM514.2 406.7h8.1v1.0h-8.1zM562.9 406.7h8.1v1.0h-8.1zM579.1 406.7h8.1v1.0h-8.1zM619.7 406.7h8.1v1.0h-8.1zM132.7 407.7h16.2v1.0h-16.2zM173.3 407.7h8.1v1.0h-8.1zM295.1 407.7h8.1v1.0h-8.1zM376.2 407.7h16.2v1.0h-16.2zM473.6 407.7h8.1v1.0h-8.1zM498.0 407.7h16.2v1.0h-16.2zM538.6 407.7h8.1v1.0h-8.1zM587.3 407.7h8.1v1.0h-8.1zM100.3 408.7h8.1v1.0h-8.1zM181.4 408.7h8.1v1.0h-8.1zM222.0 408.7h8.1v1.0h-8.1zM262.6 408.7h8.1v1.0h-8.1zM335.7 408.7h16.2v1.0h-16.2zM465.5 408.7h8.1v1.0h-8.1zM554.8 408.7h8.1v1.0h-8.1zM587.3 408.7h8.1v1.0h-8.1zM165.2 409.7h8.1v1.0h-8.1zM197.7 409.7h8.1v1.0h-8.1zM343.8 409.7h8.1v1.0h-8.1zM449.3 409.7h8.1v1.0h-8.1zM506.1 409.7h8.1v1.0h-8.1zM538.6 409.7h16.2v1.0h-16.2zM571.0 409.7h8.1v1.0h-8.1zM619.7 409.7h8.1v1.0h-8.1zM636.0 409.7h8.1v1.0h-8.1zM132.7 410.7h8.1v1.0h-8.1zM205.8 410.7h8.1v1.0h-8.1zM222.0 410.7h16.2v1.0h-16.2zM246.4 410.7h8.1v1.0h-8.1zM270.7 410.7h8.1v1.0h-8.1zM311.3 410.7h8.1v1.0h-8.1zM351.9 410.7h8.1v1.0h-8.1zM376.2 410.7h8.1v1.0h-8.1zM392.5 410.7h16.2v1.0h-16.2zM416.8 410.7h8.1v1.0h-8.1zM457.4 410.7h8.1v1.0h-8.1zM506.1 410.7h8.1v1.0h-8.1zM579.1 410.7h8.1v1.0h-8.1zM603.5 410.7h8.1v1.0h-8.1zM75.9 411.7h8.1v1.0h-8.1zM116.5 411.7h24.4v1.0h-24.4zM149.0 411.7h8.1v1.0h-8.1zM189.6 411.7h8.1v1.0h-8.1zM205.8 411.7h8.1v1.0h-8.1zM254.5 411.7h8.1v1.0h-8.1zM311.3 411.7h8.1v1.0h-8.1zM351.9 411.7h8.1v1.0h-8.1zM368.1 411.7h24.4v1.0h-24.4zM400.6 411.7h16.2v1.0h-16.2zM424.9 411.7h8.1v1.0h-8.1zM441.2 411.7h16.2v1.0h-16.2zM481.8 411.7h40.6v1.0h-40.6zM562.9 411.7h16.2v1.0h-16.2zM627.9 411.7h8.1v1.0h-8.1zM165.2 412.7h8.1v1.0h-8.1zM205.8 412.7h8.1v1.0h-8.1zM262.6 412.7h8.1v1.0h-8.1zM286.9 412.7h8.1v1.0h-8.1zM311.3 412.7h24.4v1.0h-24.4zM351.9 412.7h8.1v1.0h-8.1zM384.4 412.7h8.1v1.0h-8.1zM400.6 412.7h16.2v1.0h-16.2zM473.6 412.7h8.1v1.0h-8.1zM489.9 412.7h8.1v1.0h-8.1zM546.7 412.7h8.1v1.0h-8.1zM619.7 412.7h16.2v1.0h-16.2zM67.8 413.7h8.1v1.0h-8.1zM108.4 413.7h8.1v1.0h-8.1zM140.9 413.7h8.1v1.0h-8.1zM173.3 413.7h8.1v1.0h-8.1zM205.8 413.7h16.2v1.0h-16.2zM254.5 413.7h8.1v1.0h-8.1zM278.8 413.7h16.2v1.0h-16.2zM303.2 413.7h16.2v1.0h-16.2zM368.1 413.7h8.1v1.0h-8.1zM392.5 413.7h8.1v1.0h-8.1zM457.4 413.7h8.1v1.0h-8.1zM489.9 413.7h8.1v1.0h-8.1zM546.7 413.7h16.2v1.0h-16.2zM100.3 414.7h8.1v1.0h-8.1zM173.3 414.7h16.2v1.0h-16.2zM262.6 414.7h8.1v1.0h-8.1zM286.9 414.7h8.1v1.0h-8.1zM303.2 414.7h16.2v1.0h-16.2zM368.1 414.7h8.1v1.0h-8.1zM392.5 414.7h24.4v1.0h-24.4zM441.2 414.7h8.1v1.0h-8.1zM481.8 414.7h8.1v1.0h-8.1zM538.6 414.7h8.1v1.0h-8.1zM562.9 414.7h8.1v1.0h-8.1zM627.9 414.7h8.1v1.0h-8.1zM644.1 414.7h8.1v1.0h-8.1zM84.0 415.7h8.1v1.0h-8.1zM108.4 415.7h16.2v1.0h-16.2zM149.0 415.7h16.2v1.0h-16.2zM181.4 415.7h8.1v1.0h-8.1zM246.4 415.7h8.1v1.0h-8.1zM327.5 415.7h8.1v1.0h-8.1zM343.8 415.7h8.1v1.0h-8.1zM368.1 415.7h8.1v1.0h-8.1zM408.7 415.7h8.1v1.0h-8.1zM441.2 415.7h8.1v1.0h-8.1zM489.9 415.7h8.1v1.0h-8.1zM546.7 415.7h8.1v1.0h-8.1zM611.6 415.7h8.1v1.0h-8.1zM644.1 415.7h8.1v1.0h-8.1zM100.3 416.7h8.1v1.0h-8.1zM140.9 416.7h8.1v1.0h-8.1zM165.2 416.7h8.1v1.0h-8.1zM238.2 416.7h8.1v1.0h-8.1zM262.6 416.7h8.1v1.0h-8.1zM278.8 416.7h16.2v1.0h-16.2zM368.1 416.7h16.2v1.0h-16.2zM392.5 416.7h16.2v1.0h-16.2zM416.8 416.7h8.1v1.0h-8.1zM465.5 416.7h8.1v1.0h-8.1zM546.7 416.7h8.1v1.0h-8.1zM579.1 416.7h16.2v1.0h-16.2zM636.0 416.7h8.1v1.0h-8.1zM124.6 417.7h8.1v1.0h-8.1zM157.1 417.7h8.1v1.0h-8.1zM173.3 417.7h8.1v1.0h-8.1zM189.6 417.7h16.2v1.0h-16.2zM213.9 417.7h8.1v1.0h-8.1zM254.5 417.7h8.1v1.0h-8.1zM311.3 417.7h8.1v1.0h-8.1zM327.5 417.7h16.2v1.0h-16.2zM351.9 417.7h8.1v1.0h-8.1zM376.2 417.7h8.1v1.0h-8.1zM392.5 417.7h8.1v1.0h-8.1zM449.3 417.7h8.1v1.0h-8.1zM489.9 417.7h8.1v1.0h-8.1zM546.7 417.7h16.2v1.0h-16.2zM619.7 417.7h8.1v1.0h-8.1zM84.0 418.7h24.4v1.0h-24.4zM124.6 418.7h16.2v1.0h-16.2zM149.0 418.7h8.1v1.0h-8.1zM165.2 418.7h8.1v1.0h-8.1zM449.3 418.7h8.1v1.0h-8.1zM481.8 418.7h8.1v1.0h-8.1zM530.5 418.7h8.1v1.0h-8.1zM554.8 418.7h16.2v1.0h-16.2zM579.1 418.7h8.1v1.0h-8.1zM636.0 418.7h16.2v1.0h-16.2zM75.9 419.7h8.1v1.0h-8.1zM92.2 419.7h8.1v1.0h-8.1zM197.7 419.7h8.1v1.0h-8.1zM254.5 419.7h8.1v1.0h-8.1zM295.1 419.7h8.1v1.0h-8.1zM311.3 419.7h8.1v1.0h-8.1zM368.1 419.7h16.2v1.0h-16.2zM473.6 419.7h16.2v1.0h-16.2zM498.0 419.7h8.1v1.0h-8.1zM571.0 419.7h8.1v1.0h-8.1zM84.0 420.7h8.1v1.0h-8.1zM157.1 420.7h8.1v1.0h-8.1zM254.5 420.7h8.1v1.0h-8.1zM286.9 420.7h8.1v1.0h-8.1zM351.9 420.7h8.1v1.0h-8.1zM449.3 420.7h8.1v1.0h-8.1zM554.8 420.7h8.1v1.0h-8.1zM595.4 420.7h8.1v1.0h-8.1zM627.9 420.7h8.1v1.0h-8.1zM84.0 421.7h8.1v1.0h-8.1zM100.3 421.7h8.1v1.0h-8.1zM116.5 421.7h8.1v1.0h-8.1zM132.7 421.7h16.2v1.0h-16.2zM165.2 421.7h24.4v1.0h-24.4zM197.7 421.7h24.4v1.0h-24.4zM238.2 421.7h8.1v1.0h-8.1zM262.6 421.7h8.1v1.0h-8.1zM286.9 421.7h8.1v1.0h-8.1zM303.2 421.7h8.1v1.0h-8.1zM368.1 421.7h16.2v1.0h-16.2zM465.5 421.7h8.1v1.0h-8.1zM538.6 421.7h8.1v1.0h-8.1zM562.9 421.7h8.1v1.0h-8.1zM595.4 421.7h8.1v1.0h-8.1zM67.8 422.7h8.1v1.0h-8.1zM157.1 422.7h8.1v1.0h-8.1zM205.8 422.7h8.1v1.0h-8.1zM319.4 422.7h24.4v1.0h-24.4zM392.5 422.7h8.1v1.0h-8.1zM449.3 422.7h16.2v1.0h-16.2zM522.3 422.7h32.5v1.0h-32.5zM595.4 422.7h8.1v1.0h-8.1zM611.6 422.7h8.1v1.0h-8.1zM627.9 422.7h8.1v1.0h-8.1zM67.8 423.7h8.1v1.0h-8.1zM92.2 423.7h8.1v1.0h-8.1zM140.9 423.7h16.2v1.0h-16.2zM230.1 423.7h16.2v1.0h-16.2zM303.2 423.7h8.1v1.0h-8.1zM351.9 423.7h16.2v1.0h-16.2zM400.6 423.7h16.2v1.0h-16.2zM424.9 423.7h16.2v1.0h-16.2zM449.3 423.7h16.2v1.0h-16.2zM481.8 423.7h16.2v1.0h-16.2zM506.1 423.7h8.1v1.0h-8.1zM595.4 423.7h16.2v1.0h-16.2zM619.7 423.7h16.2v1.0h-16.2zM132.7 424.7h8.1v1.0h-8.1zM173.3 424.7h16.2v1.0h-16.2zM213.9 424.7h8.1v1.0h-8.1zM319.4 424.7h8.1v1.0h-8.1zM335.7 424.7h16.2v1.0h-16.2zM489.9 424.7h8.1v1.0h-8.1zM514.2 424.7h8.1v1.0h-8.1zM554.8 424.7h8.1v1.0h-8.1zM571.0 424.7h8.1v1.0h-8.1zM587.3 424.7h8.1v1.0h-8.1zM611.6 424.7h8.1v1.0h-8.1zM636.0 424.7h8.1v1.0h-8.1zM92.2 425.7h8.1v1.0h-8.1zM116.5 425.7h8.1v1.0h-8.1zM140.9 425.7h8.1v1.0h-8.1zM197.7 425.7h16.2v1.0h-16.2zM254.5 425.7h8.1v1.0h-8.1zM270.7 425.7h8.1v1.0h-8.1zM311.3 425.7h8.1v1.0h-8.1zM327.5 425.7h8.1v1.0h-8.1zM368.1 425.7h8.1v1.0h-8.1zM408.7 425.7h16.2v1.0h-16.2zM433.1 425.7h16.2v1.0h-16.2zM473.6 425.7h8.1v1.0h-8.1zM514.2 425.7h8.1v1.0h-8.1zM611.6 425.7h8.1v1.0h-8.1zM100.3 426.7h8.1v1.0h-8.1zM116.5 426.7h8.1v1.0h-8.1zM205.8 426.7h16.2v1.0h-16.2zM238.2 426.7h8.1v1.0h-8.1zM254.5 426.7h16.2v1.0h-16.2zM278.8 426.7h8.1v1.0h-8.1zM303.2 426.7h8.1v1.0h-8.1zM327.5 426.7h16.2v1.0h-16.2zM400.6 426.7h8.1v1.0h-8.1zM424.9 426.7h8.1v1.0h-8.1zM481.8 426.7h8.1v1.0h-8.1zM514.2 426.7h8.1v1.0h-8.1zM538.6 426.7h8.1v1.0h-8.1zM562.9 426.7h8.1v1.0h-8.1zM579.1 426.7h8.1v1.0h-8.1zM619.7 426.7h8.1v1.0h-8.1zM75.9 427.7h8.1v1.0h-8.1zM100.3 427.7h8.1v1.0h-8.1zM132.7 427.7h16.2v1.0h-16.2zM213.9 427.7h8.1v1.0h-8.1zM230.1 427.7h8.1v1.0h-8.1zM254.5 427.7h16.2v1.0h-16.2zM303.2 427.7h16.2v1.0h-16.2zM351.9 427.7h8.1v1.0h-8.1zM384.4 427.7h8.1v1.0h-8.1zM473.6 427.7h8.1v1.0h-8.1zM498.0 427.7h8.1v1.0h-8.1zM554.8 427.7h8.1v1.0h-8.1zM595.4 427.7h8.1v1.0h-8.1zM149.0 428.7h16.2v1.0h-16.2zM230.1 428.7h8.1v1.0h-8.1zM286.9 428.7h8.1v1.0h-8.1zM335.7 428.7h8.1v1.0h-8.1zM384.4 428.7h16.2v1.0h-16.2zM449.3 428.7h16.2v1.0h-16.2zM506.1 428.7h16.2v1.0h-16.2zM546.7 428.7h8.1v1.0h-8.1zM562.9 428.7h8.1v1.0h-8.1zM579.1 428.7h8.1v1.0h-8.1zM603.5 428.7h8.1v1.0h-8.1zM67.8 429.7h8.1v1.0h-8.1zM84.0 429.7h8.1v1.0h-8.1zM100.3 429.7h8.1v1.0h-8.1zM132.7 429.7h8.1v1.0h-8.1zM173.3 429.7h16.2v1.0h-16.2zM213.9 429.7h16.2v1.0h-16.2zM278.8 429.7h8.1v1.0h-8.1zM311.3 429.7h8.1v1.0h-8.1zM335.7 429.7h8.1v1.0h-8.1zM368.1 429.7h8.1v1.0h-8.1zM384.4 429.7h16.2v1.0h-16.2zM408.7 429.7h8.1v1.0h-8.1zM506.1 429.7h8.1v1.0h-8.1zM636.0 429.7h8.1v1.0h-8.1zM67.8 430.7h8.1v1.0h-8.1zM84.0 430.7h8.1v1.0h-8.1zM100.3 430.7h8.1v1.0h-8.1zM124.6 430.7h8.1v1.0h-8.1zM157.1 430.7h8.1v1.0h-8.1zM189.6 430.7h16.2v1.0h-16.2zM230.1 430.7h8.1v1.0h-8.1zM270.7 430.7h8.1v1.0h-8.1zM295.1 430.7h16.2v1.0h-16.2zM416.8 430.7h8.1v1.0h-8.1zM473.6 430.7h8.1v1.0h-8.1zM546.7 430.7h8.1v1.0h-8.1zM562.9 430.7h8.1v1.0h-8.1zM579.1 430.7h8.1v1.0h-8.1zM595.4 430.7h8.1v1.0h-8.1zM140.9 431.7h8.1v1.0h-8.1zM157.1 431.7h8.1v1.0h-8.1zM173.3 431.7h8.1v1.0h-8.1zM246.4 431.7h16.2v1.0h-16.2zM319.4 431.7h8.1v1.0h-8.1zM473.6 431.7h8.1v1.0h-8.1zM546.7 431.7h16.2v1.0h-16.2zM571.0 431.7h8.1v1.0h-8.1zM75.9 432.7h8.1v1.0h-8.1zM132.7 432.7h8.1v1.0h-8.1zM181.4 432.7h8.1v1.0h-8.1zM197.7 432.7h8.1v1.0h-8.1zM222.0 432.7h8.1v1.0h-8.1zM262.6 432.7h8.1v1.0h-8.1zM295.1 432.7h16.2v1.0h-16.2zM319.4 432.7h8.1v1.0h-8.1zM335.7 432.7h8.1v1.0h-8.1zM384.4 432.7h8.1v1.0h-8.1zM408.7 432.7h8.1v1.0h-8.1zM441.2 432.7h8.1v1.0h-8.1zM473.6 432.7h8.1v1.0h-8.1zM546.7 432.7h8.1v1.0h-8.1zM611.6 432.7h16.2v1.0h-16.2zM644.1 432.7h8.1v1.0h-8.1zM84.0 433.7h8.1v1.0h-8.1zM149.0 433.7h8.1v1.0h-8.1zM205.8 433.7h8.1v1.0h-8.1zM246.4 433.7h8.1v1.0h-8.1zM295.1 433.7h8.1v1.0h-8.1zM351.9 433.7h8.1v1.0h-8.1zM368.1 433.7h8.1v1.0h-8.1zM441.2 433.7h8.1v1.0h-8.1zM489.9 433.7h8.1v1.0h-8.1zM562.9 433.7h24.4v1.0h-24.4zM611.6 433.7h8.1v1.0h-8.1zM67.8 434.7h8.1v1.0h-8.1zM197.7 434.7h8.1v1.0h-8.1zM254.5 434.7h16.2v1.0h-16.2zM278.8 434.7h8.1v1.0h-8.1zM327.5 434.7h8.1v1.0h-8.1zM351.9 434.7h8.1v1.0h-8.1zM376.2 434.7h8.1v1.0h-8.1zM433.1 434.7h8.1v1.0h-8.1zM473.6 434.7h16.2v1.0h-16.2zM506.1 434.7h16.2v1.0h-16.2zM571.0 434.7h8.1v1.0h-8.1zM595.4 434.7h16.2v1.0h-16.2zM619.7 434.7h8.1v1.0h-8.1zM84.0 435.7h8.1v1.0h-8.1zM140.9 435.7h8.1v1.0h-8.1zM165.2 435.7h8.1v1.0h-8.1zM205.8 435.7h8.1v1.0h-8.1zM254.5 435.7h8.1v1.0h-8.1zM319.4 435.7h8.1v1.0h-8.1zM360.0 435.7h8.1v1.0h-8.1zM384.4 435.7h16.2v1.0h-16.2zM457.4 435.7h8.1v1.0h-8.1zM473.6 435.7h8.1v1.0h-8.1zM538.6 435.7h8.1v1.0h-8.1zM571.0 435.7h8.1v1.0h-8.1zM587.3 435.7h8.1v1.0h-8.1zM611.6 435.7h8.1v1.0h-8.1zM636.0 435.7h8.1v1.0h-8.1zM67.8 436.7h8.1v1.0h-8.1zM84.0 436.7h16.2v1.0h-16.2zM108.4 436.7h8.1v1.0h-8.1zM140.9 436.7h16.2v1.0h-16.2zM230.1 436.7h8.1v1.0h-8.1zM254.5 436.7h8.1v1.0h-8.1zM278.8 436.7h8.1v1.0h-8.1zM303.2 436.7h8.1v1.0h-8.1zM335.7 436.7h8.1v1.0h-8.1zM360.0 436.7h8.1v1.0h-8.1zM408.7 436.7h16.2v1.0h-16.2zM449.3 436.7h8.1v1.0h-8.1zM473.6 436.7h8.1v1.0h-8.1zM489.9 436.7h8.1v1.0h-8.1zM522.3 436.7h16.2v1.0h-16.2zM579.1 436.7h8.1v1.0h-8.1zM603.5 436.7h8.1v1.0h-8.1zM627.9 436.7h8.1v1.0h-8.1zM67.8 437.7h8.1v1.0h-8.1zM84.0 437.7h8.1v1.0h-8.1zM100.3 437.7h8.1v1.0h-8.1zM116.5 437.7h8.1v1.0h-8.1zM140.9 437.7h8.1v1.0h-8.1zM157.1 437.7h8.1v1.0h-8.1zM173.3 437.7h8.1v1.0h-8.1zM197.7 437.7h8.1v1.0h-8.1zM238.2 437.7h8.1v1.0h-8.1zM295.1 437.7h8.1v1.0h-8.1zM327.5 437.7h8.1v1.0h-8.1zM360.0 437.7h16.2v1.0h-16.2zM408.7 437.7h8.1v1.0h-8.1zM489.9 437.7h8.1v1.0h-8.1zM546.7 437.7h16.2v1.0h-16.2zM603.5 437.7h8.1v1.0h-8.1zM75.9 438.7h8.1v1.0h-8.1zM124.6 438.7h8.1v1.0h-8.1zM140.9 438.7h8.1v1.0h-8.1zM189.6 438.7h8.1v1.0h-8.1zM205.8 438.7h8.1v1.0h-8.1zM230.1 438.7h8.1v1.0h-8.1zM278.8 438.7h8.1v1.0h-8.1zM295.1 438.7h8.1v1.0h-8.1zM360.0 438.7h8.1v1.0h-8.1zM384.4 438.7h16.2v1.0h-16.2zM546.7 438.7h16.2v1.0h-16.2zM644.1 438.7h8.1v1.0h-8.1zM75.9 439.7h8.1v1.0h-8.1zM116.5 439.7h8.1v1.0h-8.1zM238.2 439.7h8.1v1.0h-8.1zM254.5 439.7h8.1v1.0h-8.1zM278.8 439.7h8.1v1.0h-8.1zM335.7 439.7h8.1v1.0h-8.1zM360.0 439.7h8.1v1.0h-8.1zM384.4 439.7h16.2v1.0h-16.2zM473.6 439.7h8.1v1.0h-8.1zM489.9 439.7h8.1v1.0h-8.1zM506.1 439.7h8.1v1.0h-8.1zM522.3 439.7h8.1v1.0h-8.1zM546.7 439.7h16.2v1.0h-16.2zM571.0 439.7h8.1v1.0h-8.1zM619.7 439.7h16.2v1.0h-16.2zM100.3 440.7h8.1v1.0h-8.1zM124.6 440.7h8.1v1.0h-8.1zM165.2 440.7h8.1v1.0h-8.1zM189.6 440.7h8.1v1.0h-8.1zM213.9 440.7h8.1v1.0h-8.1zM230.1 440.7h16.2v1.0h-16.2zM286.9 440.7h8.1v1.0h-8.1zM327.5 440.7h16.2v1.0h-16.2zM384.4 440.7h8.1v1.0h-8.1zM400.6 440.7h8.1v1.0h-8.1zM473.6 440.7h8.1v1.0h-8.1zM489.9 440.7h8.1v1.0h-8.1zM530.5 440.7h24.4v1.0h-24.4zM587.3 440.7h8.1v1.0h-8.1zM619.7 440.7h16.2v1.0h-16.2zM644.1 440.7h8.1v1.0h-8.1zM116.5 441.7h16.2v1.0h-16.2zM205.8 441.7h8.1v1.0h-8.1zM230.1 441.7h8.1v1.0h-8.1zM262.6 441.7h8.1v1.0h-8.1zM278.8 441.7h16.2v1.0h-16.2zM303.2 441.7h8.1v1.0h-8.1zM360.0 441.7h8.1v1.0h-8.1zM384.4 441.7h8.1v1.0h-8.1zM449.3 441.7h8.1v1.0h-8.1zM473.6 441.7h8.1v1.0h-8.1zM595.4 441.7h16.2v1.0h-16.2zM627.9 441.7h8.1v1.0h-8.1zM75.9 442.7h8.1v1.0h-8.1zM124.6 442.7h8.1v1.0h-8.1zM157.1 442.7h8.1v1.0h-8.1zM197.7 442.7h8.1v1.0h-8.1zM238.2 442.7h8.1v1.0h-8.1zM343.8 442.7h8.1v1.0h-8.1zM384.4 442.7h24.4v1.0h-24.4zM538.6 442.7h8.1v1.0h-8.1zM579.1 442.7h8.1v1.0h-8.1zM611.6 442.7h16.2v1.0h-16.2zM100.3 443.7h8.1v1.0h-8.1zM132.7 443.7h8.1v1.0h-8.1zM149.0 443.7h8.1v1.0h-8.1zM213.9 443.7h8.1v1.0h-8.1zM286.9 443.7h8.1v1.0h-8.1zM319.4 443.7h8.1v1.0h-8.1zM335.7 443.7h8.1v1.0h-8.1zM392.5 443.7h8.1v1.0h-8.1zM449.3 443.7h8.1v1.0h-8.1zM522.3 443.7h8.1v1.0h-8.1zM571.0 443.7h8.1v1.0h-8.1z"/><path fill="#ffffff" fill-opacity="0.028" d="M67.8 256.7h24.4v1.0h-24.4zM140.9 256.7h8.1v1.0h-8.1zM157.1 256.7h8.1v1.0h-8.1zM262.6 256.7h8.1v1.0h-8.1zM278.8 256.7h8.1v1.0h-8.1zM319.4 256.7h8.1v1.0h-8.1zM335.7 256.7h16.2v1.0h-16.2zM376.2 256.7h16.2v1.0h-16.2zM449.3 256.7h8.1v1.0h-8.1zM522.3 256.7h8.1v1.0h-8.1zM554.8 256.7h8.1v1.0h-8.1zM132.7 257.7h16.2v1.0h-16.2zM254.5 257.7h8.1v1.0h-8.1zM351.9 257.7h8.1v1.0h-8.1zM424.9 257.7h8.1v1.0h-8.1zM449.3 257.7h8.1v1.0h-8.1zM522.3 257.7h8.1v1.0h-8.1zM554.8 257.7h16.2v1.0h-16.2zM636.0 257.7h8.1v1.0h-8.1zM67.8 258.7h24.4v1.0h-24.4zM100.3 258.7h24.4v1.0h-24.4zM173.3 258.7h8.1v1.0h-8.1zM319.4 258.7h8.1v1.0h-8.1zM335.7 258.7h8.1v1.0h-8.1zM351.9 258.7h8.1v1.0h-8.1zM400.6 258.7h8.1v1.0h-8.1zM441.2 258.7h8.1v1.0h-8.1zM473.6 258.7h8.1v1.0h-8.1zM538.6 258.7h8.1v1.0h-8.1zM554.8 258.7h8.1v1.0h-8.1zM579.1 258.7h16.2v1.0h-16.2zM67.8 259.7h8.1v1.0h-8.1zM84.0 259.7h8.1v1.0h-8.1zM181.4 259.7h8.1v1.0h-8.1zM278.8 259.7h24.4v1.0h-24.4zM311.3 259.7h16.2v1.0h-16.2zM400.6 259.7h8.1v1.0h-8.1zM424.9 259.7h8.1v1.0h-8.1zM465.5 259.7h16.2v1.0h-16.2zM587.3 259.7h16.2v1.0h-16.2zM165.2 260.7h8.1v1.0h-8.1zM254.5 260.7h16.2v1.0h-16.2zM319.4 260.7h8.1v1.0h-8.1zM400.6 260.7h8.1v1.0h-8.1zM506.1 260.7h8.1v1.0h-8.1zM522.3 260.7h8.1v1.0h-8.1zM595.4 260.7h8.1v1.0h-8.1zM611.6 260.7h24.4v1.0h-24.4zM67.8 261.7h8.1v1.0h-8.1zM84.0 261.7h8.1v1.0h-8.1zM140.9 261.7h8.1v1.0h-8.1zM157.1 261.7h16.2v1.0h-16.2zM222.0 261.7h8.1v1.0h-8.1zM238.2 261.7h8.1v1.0h-8.1zM262.6 261.7h8.1v1.0h-8.1zM286.9 261.7h8.1v1.0h-8.1zM327.5 261.7h8.1v1.0h-8.1zM360.0 261.7h8.1v1.0h-8.1zM384.4 261.7h8.1v1.0h-8.1zM562.9 261.7h8.1v1.0h-8.1zM587.3 261.7h8.1v1.0h-8.1zM619.7 261.7h8.1v1.0h-8.1zM75.9 262.7h8.1v1.0h-8.1zM205.8 262.7h8.1v1.0h-8.1zM270.7 262.7h8.1v1.0h-8.1zM319.4 262.7h16.2v1.0h-16.2zM368.1 262.7h8.1v1.0h-8.1zM449.3 262.7h8.1v1.0h-8.1zM481.8 262.7h8.1v1.0h-8.1zM67.8 263.7h8.1v1.0h-8.1zM100.3 263.7h8.1v1.0h-8.1zM116.5 263.7h8.1v1.0h-8.1zM132.7 263.7h16.2v1.0h-16.2zM165.2 263.7h8.1v1.0h-8.1zM189.6 263.7h8.1v1.0h-8.1zM205.8 263.7h8.1v1.0h-8.1zM238.2 263.7h8.1v1.0h-8.1zM270.7 263.7h8.1v1.0h-8.1zM351.9 263.7h8.1v1.0h-8.1zM376.2 263.7h8.1v1.0h-8.1zM433.1 263.7h16.2v1.0h-16.2zM473.6 263.7h8.1v1.0h-8.1zM498.0 263.7h8.1v1.0h-8.1zM530.5 263.7h8.1v1.0h-8.1zM611.6 263.7h16.2v1.0h-16.2zM67.8 264.7h8.1v1.0h-8.1zM124.6 264.7h16.2v1.0h-16.2zM165.2 264.7h8.1v1.0h-8.1zM278.8 264.7h8.1v1.0h-8.1zM327.5 264.7h8.1v1.0h-8.1zM376.2 264.7h8.1v1.0h-8.1zM506.1 264.7h8.1v1.0h-8.1zM522.3 264.7h8.1v1.0h-8.1zM562.9 264.7h8.1v1.0h-8.1zM587.3 264.7h8.1v1.0h-8.1zM75.9 265.7h8.1v1.0h-8.1zM205.8 265.7h16.2v1.0h-16.2zM254.5 265.7h8.1v1.0h-8.1zM360.0 265.7h8.1v1.0h-8.1zM376.2 265.7h8.1v1.0h-8.1zM400.6 265.7h8.1v1.0h-8.1zM433.1 265.7h8.1v1.0h-8.1zM465.5 265.7h16.2v1.0h-16.2zM587.3 265.7h8.1v1.0h-8.1zM627.9 265.7h8.1v1.0h-8.1zM67.8 266.7h8.1v1.0h-8.1zM84.0 266.7h8.1v1.0h-8.1zM116.5 266.7h8.1v1.0h-8.1zM157.1 266.7h8.1v1.0h-8.1zM262.6 266.7h8.1v1.0h-8.1zM319.4 266.7h8.1v1.0h-8.1zM376.2 266.7h8.1v1.0h-8.1zM441.2 266.7h8.1v1.0h-8.1zM481.8 266.7h8.1v1.0h-8.1zM554.8 266.7h8.1v1.0h-8.1zM579.1 266.7h8.1v1.0h-8.1zM611.6 266.7h8.1v1.0h-8.1zM84.0 267.7h8.1v1.0h-8.1zM100.3 267.7h8.1v1.0h-8.1zM140.9 267.7h8.1v1.0h-8.1zM157.1 267.7h8.1v1.0h-8.1zM173.3 267.7h8.1v1.0h-8.1zM205.8 267.7h8.1v1.0h-8.1zM246.4 267.7h16.2v1.0h-16.2zM384.4 267.7h16.2v1.0h-16.2zM416.8 267.7h8.1v1.0h-8.1zM465.5 267.7h8.1v1.0h-8.1zM506.1 267.7h8.1v1.0h-8.1zM571.0 267.7h8.1v1.0h-8.1zM636.0 267.7h8.1v1.0h-8.1zM84.0 268.7h48.7v1.0h-48.7zM149.0 268.7h8.1v1.0h-8.1zM181.4 268.7h8.1v1.0h-8.1zM222.0 268.7h8.1v1.0h-8.1zM246.4 268.7h8.1v1.0h-8.1zM278.8 268.7h8.1v1.0h-8.1zM311.3 268.7h8.1v1.0h-8.1zM327.5 268.7h8.1v1.0h-8.1zM392.5 268.7h8.1v1.0h-8.1zM424.9 268.7h8.1v1.0h-8.1zM481.8 268.7h8.1v1.0h-8.1zM522.3 268.7h8.1v1.0h-8.1zM546.7 268.7h8.1v1.0h-8.1zM595.4 268.7h8.1v1.0h-8.1zM611.6 268.7h8.1v1.0h-8.1zM75.9 269.7h8.1v1.0h-8.1zM173.3 269.7h8.1v1.0h-8.1zM189.6 269.7h8.1v1.0h-8.1zM270.7 269.7h8.1v1.0h-8.1zM319.4 269.7h8.1v1.0h-8.1zM335.7 269.7h8.1v1.0h-8.1zM384.4 269.7h8.1v1.0h-8.1zM400.6 269.7h8.1v1.0h-8.1zM424.9 269.7h8.1v1.0h-8.1zM498.0 269.7h8.1v1.0h-8.1zM562.9 269.7h16.2v1.0h-16.2zM611.6 269.7h24.4v1.0h-24.4zM67.8 270.7h8.1v1.0h-8.1zM92.2 270.7h16.2v1.0h-16.2zM124.6 270.7h16.2v1.0h-16.2zM165.2 270.7h8.1v1.0h-8.1zM254.5 270.7h8.1v1.0h-8.1zM335.7 270.7h8.1v1.0h-8.1zM400.6 270.7h8.1v1.0h-8.1zM424.9 270.7h8.1v1.0h-8.1zM457.4 270.7h8.1v1.0h-8.1zM587.3 270.7h16.2v1.0h-16.2zM611.6 270.7h16.2v1.0h-16.2zM636.0 270.7h8.1v1.0h-8.1zM75.9 271.7h16.2v1.0h-16.2zM116.5 271.7h16.2v1.0h-16.2zM165.2 271.7h8.1v1.0h-8.1zM254.5 271.7h8.1v1.0h-8.1zM311.3 271.7h16.2v1.0h-16.2zM400.6 271.7h8.1v1.0h-8.1zM449.3 271.7h8.1v1.0h-8.1zM481.8 271.7h8.1v1.0h-8.1zM546.7 271.7h8.1v1.0h-8.1zM100.3 272.7h8.1v1.0h-8.1zM132.7 272.7h8.1v1.0h-8.1zM213.9 272.7h8.1v1.0h-8.1zM254.5 272.7h8.1v1.0h-8.1zM278.8 272.7h16.2v1.0h-16.2zM319.4 272.7h8.1v1.0h-8.1zM343.8 272.7h16.2v1.0h-16.2zM376.2 272.7h16.2v1.0h-16.2zM400.6 272.7h8.1v1.0h-8.1zM441.2 272.7h16.2v1.0h-16.2zM481.8 272.7h8.1v1.0h-8.1zM498.0 272.7h8.1v1.0h-8.1zM611.6 272.7h16.2v1.0h-16.2zM100.3 273.7h8.1v1.0h-8.1zM124.6 273.7h8.1v1.0h-8.1zM157.1 273.7h8.1v1.0h-8.1zM173.3 273.7h16.2v1.0h-16.2zM303.2 273.7h32.5v1.0h-32.5zM351.9 273.7h8.1v1.0h-8.1zM473.6 273.7h8.1v1.0h-8.1zM489.9 273.7h24.4v1.0h-24.4zM619.7 273.7h24.4v1.0h-24.4zM84.0 274.7h24.4v1.0h-24.4zM157.1 274.7h8.1v1.0h-8.1zM173.3 274.7h16.2v1.0h-16.2zM222.0 274.7h8.1v1.0h-8.1zM262.6 274.7h8.1v1.0h-8.1zM311.3 274.7h24.4v1.0h-24.4zM376.2 274.7h8.1v1.0h-8.1zM522.3 274.7h8.1v1.0h-8.1zM571.0 274.7h8.1v1.0h-8.1zM619.7 274.7h8.1v1.0h-8.1zM92.2 275.7h16.2v1.0h-16.2zM116.5 275.7h8.1v1.0h-8.1zM157.1 275.7h8.1v1.0h-8.1zM189.6 275.7h8.1v1.0h-8.1zM311.3 275.7h16.2v1.0h-16.2zM335.7 275.7h8.1v1.0h-8.1zM441.2 275.7h8.1v1.0h-8.1zM473.6 275.7h8.1v1.0h-8.1zM489.9 275.7h8.1v1.0h-8.1zM538.6 275.7h8.1v1.0h-8.1zM595.4 275.7h8.1v1.0h-8.1zM619.7 275.7h8.1v1.0h-8.1zM636.0 275.7h8.1v1.0h-8.1zM75.9 276.7h8.1v1.0h-8.1zM116.5 276.7h8.1v1.0h-8.1zM157.1 276.7h8.1v1.0h-8.1zM181.4 276.7h16.2v1.0h-16.2zM205.8 276.7h8.1v1.0h-8.1zM246.4 276.7h16.2v1.0h-16.2zM278.8 276.7h8.1v1.0h-8.1zM327.5 276.7h8.1v1.0h-8.1zM376.2 276.7h24.4v1.0h-24.4zM408.7 276.7h16.2v1.0h-16.2zM465.5 276.7h16.2v1.0h-16.2zM498.0 276.7h8.1v1.0h-8.1zM522.3 276.7h16.2v1.0h-16.2zM562.9 276.7h8.1v1.0h-8.1zM627.9 276.7h8.1v1.0h-8.1zM92.2 277.7h8.1v1.0h-8.1zM157.1 277.7h8.1v1.0h-8.1zM286.9 277.7h8.1v1.0h-8.1zM319.4 277.7h16.2v1.0h-16.2zM343.8 277.7h8.1v1.0h-8.1zM384.4 277.7h16.2v1.0h-16.2zM424.9 277.7h8.1v1.0h-8.1zM473.6 277.7h8.1v1.0h-8.1zM498.0 277.7h8.1v1.0h-8.1zM546.7 277.7h8.1v1.0h-8.1zM571.0 277.7h8.1v1.0h-8.1zM587.3 277.7h8.1v1.0h-8.1zM603.5 277.7h8.1v1.0h-8.1zM627.9 277.7h8.1v1.0h-8.1zM67.8 278.7h8.1v1.0h-8.1zM92.2 278.7h16.2v1.0h-16.2zM140.9 278.7h8.1v1.0h-8.1zM222.0 278.7h8.1v1.0h-8.1zM262.6 278.7h8.1v1.0h-8.1zM295.1 278.7h8.1v1.0h-8.1zM311.3 278.7h8.1v1.0h-8.1zM360.0 278.7h8.1v1.0h-8.1zM392.5 278.7h8.1v1.0h-8.1zM489.9 278.7h8.1v1.0h-8.1zM636.0 278.7h8.1v1.0h-8.1zM75.9 279.7h8.1v1.0h-8.1zM165.2 279.7h8.1v1.0h-8.1zM278.8 279.7h8.1v1.0h-8.1zM319.4 279.7h8.1v1.0h-8.1zM351.9 279.7h8.1v1.0h-8.1zM376.2 279.7h8.1v1.0h-8.1zM392.5 279.7h8.1v1.0h-8.1zM416.8 279.7h8.1v1.0h-8.1zM433.1 279.7h8.1v1.0h-8.1zM465.5 279.7h8.1v1.0h-8.1zM489.9 279.7h8.1v1.0h-8.1zM579.1 279.7h16.2v1.0h-16.2zM92.2 280.7h8.1v1.0h-8.1zM157.1 280.7h8.1v1.0h-8.1zM262.6 280.7h8.1v1.0h-8.1zM295.1 280.7h8.1v1.0h-8.1zM400.6 280.7h8.1v1.0h-8.1zM433.1 280.7h8.1v1.0h-8.1zM611.6 280.7h8.1v1.0h-8.1zM627.9 280.7h8.1v1.0h-8.1zM75.9 281.7h8.1v1.0h-8.1zM116.5 281.7h8.1v1.0h-8.1zM213.9 281.7h8.1v1.0h-8.1zM262.6 281.7h16.2v1.0h-16.2zM319.4 281.7h8.1v1.0h-8.1zM449.3 281.7h8.1v1.0h-8.1zM481.8 281.7h24.4v1.0h-24.4zM562.9 281.7h8.1v1.0h-8.1zM611.6 281.7h8.1v1.0h-8.1zM627.9 281.7h8.1v1.0h-8.1zM75.9 282.7h16.2v1.0h-16.2zM116.5 282.7h8.1v1.0h-8.1zM132.7 282.7h8.1v1.0h-8.1zM205.8 282.7h8.1v1.0h-8.1zM262.6 282.7h16.2v1.0h-16.2zM286.9 282.7h8.1v1.0h-8.1zM319.4 282.7h8.1v1.0h-8.1zM376.2 282.7h16.2v1.0h-16.2zM465.5 282.7h16.2v1.0h-16.2zM506.1 282.7h8.1v1.0h-8.1zM530.5 282.7h8.1v1.0h-8.1zM554.8 282.7h16.2v1.0h-16.2zM579.1 282.7h8.1v1.0h-8.1zM611.6 282.7h8.1v1.0h-8.1zM75.9 283.7h16.2v1.0h-16.2zM157.1 283.7h8.1v1.0h-8.1zM181.4 283.7h8.1v1.0h-8.1zM222.0 283.7h8.1v1.0h-8.1zM246.4 283.7h8.1v1.0h-8.1zM278.8 283.7h8.1v1.0h-8.1zM311.3 283.7h8.1v1.0h-8.1zM351.9 283.7h16.2v1.0h-16.2zM424.9 283.7h8.1v1.0h-8.1zM441.2 283.7h16.2v1.0h-16.2zM530.5 283.7h8.1v1.0h-8.1zM571.0 283.7h8.1v1.0h-8.1zM619.7 283.7h8.1v1.0h-8.1zM75.9 284.7h16.2v1.0h-16.2zM108.4 284.7h8.1v1.0h-8.1zM149.0 284.7h16.2v1.0h-16.2zM222.0 284.7h8.1v1.0h-8.1zM246.4 284.7h8.1v1.0h-8.1zM311.3 284.7h16.2v1.0h-16.2zM360.0 284.7h8.1v1.0h-8.1zM481.8 284.7h8.1v1.0h-8.1zM595.4 284.7h8.1v1.0h-8.1zM611.6 284.7h8.1v1.0h-8.1zM627.9 284.7h8.1v1.0h-8.1zM149.0 285.7h16.2v1.0h-16.2zM189.6 285.7h8.1v1.0h-8.1zM278.8 285.7h8.1v1.0h-8.1zM303.2 285.7h8.1v1.0h-8.1zM351.9 285.7h8.1v1.0h-8.1zM441.2 285.7h8.1v1.0h-8.1zM530.5 285.7h8.1v1.0h-8.1zM571.0 285.7h8.1v1.0h-8.1zM627.9 285.7h8.1v1.0h-8.1zM84.0 286.7h8.1v1.0h-8.1zM100.3 286.7h16.2v1.0h-16.2zM189.6 286.7h8.1v1.0h-8.1zM230.1 286.7h8.1v1.0h-8.1zM270.7 286.7h16.2v1.0h-16.2zM319.4 286.7h16.2v1.0h-16.2zM368.1 286.7h24.4v1.0h-24.4zM408.7 286.7h8.1v1.0h-8.1zM433.1 286.7h8.1v1.0h-8.1zM449.3 286.7h8.1v1.0h-8.1zM506.1 286.7h8.1v1.0h-8.1zM562.9 286.7h16.2v1.0h-16.2zM181.4 287.7h8.1v1.0h-8.1zM238.2 287.7h16.2v1.0h-16.2zM278.8 287.7h8.1v1.0h-8.1zM327.5 287.7h24.4v1.0h-24.4zM384.4 287.7h8.1v1.0h-8.1zM457.4 287.7h16.2v1.0h-16.2zM489.9 287.7h8.1v1.0h-8.1zM538.6 287.7h8.1v1.0h-8.1zM554.8 287.7h8.1v1.0h-8.1zM571.0 287.7h8.1v1.0h-8.1zM619.7 287.7h16.2v1.0h-16.2zM67.8 288.7h8.1v1.0h-8.1zM100.3 288.7h16.2v1.0h-16.2zM140.9 288.7h8.1v1.0h-8.1zM157.1 288.7h8.1v1.0h-8.1zM173.3 288.7h16.2v1.0h-16.2zM197.7 288.7h16.2v1.0h-16.2zM295.1 288.7h8.1v1.0h-8.1zM311.3 288.7h8.1v1.0h-8.1zM335.7 288.7h16.2v1.0h-16.2zM368.1 288.7h8.1v1.0h-8.1zM384.4 288.7h8.1v1.0h-8.1zM416.8 288.7h8.1v1.0h-8.1zM473.6 288.7h8.1v1.0h-8.1zM489.9 288.7h8.1v1.0h-8.1zM562.9 288.7h8.1v1.0h-8.1zM611.6 288.7h8.1v1.0h-8.1zM636.0 288.7h16.2v1.0h-16.2zM92.2 289.7h8.1v1.0h-8.1zM181.4 289.7h8.1v1.0h-8.1zM238.2 289.7h16.2v1.0h-16.2zM270.7 289.7h8.1v1.0h-8.1zM295.1 289.7h8.1v1.0h-8.1zM311.3 289.7h8.1v1.0h-8.1zM343.8 289.7h8.1v1.0h-8.1zM360.0 289.7h8.1v1.0h-8.1zM392.5 289.7h8.1v1.0h-8.1zM416.8 289.7h8.1v1.0h-8.1zM457.4 289.7h8.1v1.0h-8.1zM546.7 289.7h8.1v1.0h-8.1zM562.9 289.7h8.1v1.0h-8.1zM603.5 289.7h8.1v1.0h-8.1zM636.0 289.7h8.1v1.0h-8.1zM67.8 290.7h8.1v1.0h-8.1zM116.5 290.7h8.1v1.0h-8.1zM205.8 290.7h8.1v1.0h-8.1zM222.0 290.7h8.1v1.0h-8.1zM246.4 290.7h8.1v1.0h-8.1zM286.9 290.7h8.1v1.0h-8.1zM319.4 290.7h8.1v1.0h-8.1zM335.7 290.7h8.1v1.0h-8.1zM449.3 290.7h16.2v1.0h-16.2zM481.8 290.7h16.2v1.0h-16.2zM619.7 290.7h8.1v1.0h-8.1zM636.0 290.7h8.1v1.0h-8.1zM124.6 291.7h32.5v1.0h-32.5zM173.3 291.7h8.1v1.0h-8.1zM189.6 291.7h8.1v1.0h-8.1zM205.8 291.7h8.1v1.0h-8.1zM303.2 291.7h8.1v1.0h-8.1zM319.4 291.7h8.1v1.0h-8.1zM392.5 291.7h16.2v1.0h-16.2zM449.3 291.7h8.1v1.0h-8.1zM530.5 291.7h8.1v1.0h-8.1zM571.0 291.7h8.1v1.0h-8.1zM595.4 291.7h8.1v1.0h-8.1zM611.6 291.7h8.1v1.0h-8.1zM644.1 291.7h8.1v1.0h-8.1zM67.8 292.7h8.1v1.0h-8.1zM165.2 292.7h16.2v1.0h-16.2zM189.6 292.7h8.1v1.0h-8.1zM205.8 292.7h8.1v1.0h-8.1zM246.4 292.7h8.1v1.0h-8.1zM311.3 292.7h16.2v1.0h-16.2zM360.0 292.7h8.1v1.0h-8.1zM400.6 292.7h8.1v1.0h-8.1zM424.9 292.7h8.1v1.0h-8.1zM449.3 292.7h16.2v1.0h-16.2zM498.0 292.7h8.1v1.0h-8.1zM538.6 292.7h16.2v1.0h-16.2zM75.9 293.7h8.1v1.0h-8.1zM100.3 293.7h8.1v1.0h-8.1zM116.5 293.7h8.1v1.0h-8.1zM140.9 293.7h8.1v1.0h-8.1zM157.1 293.7h8.1v1.0h-8.1zM230.1 293.7h8.1v1.0h-8.1zM278.8 293.7h8.1v1.0h-8.1zM295.1 293.7h16.2v1.0h-16.2zM319.4 293.7h8.1v1.0h-8.1zM335.7 293.7h8.1v1.0h-8.1zM433.1 293.7h8.1v1.0h-8.1zM449.3 293.7h24.4v1.0h-24.4zM530.5 293.7h8.1v1.0h-8.1zM636.0 293.7h8.1v1.0h-8.1zM75.9 294.7h8.1v1.0h-8.1zM213.9 294.7h16.2v1.0h-16.2zM246.4 294.7h8.1v1.0h-8.1zM343.8 294.7h8.1v1.0h-8.1zM392.5 294.7h8.1v1.0h-8.1zM449.3 294.7h16.2v1.0h-16.2zM514.2 294.7h8.1v1.0h-8.1zM530.5 294.7h8.1v1.0h-8.1zM644.1 294.7h8.1v1.0h-8.1zM84.0 295.7h8.1v1.0h-8.1zM116.5 295.7h8.1v1.0h-8.1zM165.2 295.7h8.1v1.0h-8.1zM230.1 295.7h8.1v1.0h-8.1zM246.4 295.7h8.1v1.0h-8.1zM262.6 295.7h8.1v1.0h-8.1zM278.8 295.7h8.1v1.0h-8.1zM319.4 295.7h8.1v1.0h-8.1zM351.9 295.7h8.1v1.0h-8.1zM433.1 295.7h8.1v1.0h-8.1zM449.3 295.7h8.1v1.0h-8.1zM522.3 295.7h16.2v1.0h-16.2zM579.1 295.7h8.1v1.0h-8.1zM595.4 295.7h8.1v1.0h-8.1zM627.9 295.7h16.2v1.0h-16.2zM108.4 296.7h8.1v1.0h-8.1zM132.7 296.7h8.1v1.0h-8.1zM222.0 296.7h8.1v1.0h-8.1zM246.4 296.7h8.1v1.0h-8.1zM295.1 296.7h8.1v1.0h-8.1zM319.4 296.7h16.2v1.0h-16.2zM360.0 296.7h8.1v1.0h-8.1zM376.2 296.7h8.1v1.0h-8.1zM424.9 296.7h16.2v1.0h-16.2zM449.3 296.7h8.1v1.0h-8.1zM522.3 296.7h8.1v1.0h-8.1zM611.6 296.7h8.1v1.0h-8.1zM108.4 297.7h8.1v1.0h-8.1zM149.0 297.7h16.2v1.0h-16.2zM181.4 297.7h8.1v1.0h-8.1zM278.8 297.7h8.1v1.0h-8.1zM295.1 297.7h8.1v1.0h-8.1zM335.7 297.7h8.1v1.0h-8.1zM368.1 297.7h8.1v1.0h-8.1zM449.3 297.7h8.1v1.0h-8.1zM489.9 297.7h8.1v1.0h-8.1zM506.1 297.7h8.1v1.0h-8.1zM538.6 297.7h8.1v1.0h-8.1zM554.8 297.7h8.1v1.0h-8.1zM579.1 297.7h8.1v1.0h-8.1zM67.8 298.7h8.1v1.0h-8.1zM100.3 298.7h16.2v1.0h-16.2zM140.9 298.7h8.1v1.0h-8.1zM189.6 298.7h16.2v1.0h-16.2zM238.2 298.7h8.1v1.0h-8.1zM286.9 298.7h8.1v1.0h-8.1zM303.2 298.7h8.1v1.0h-8.1zM376.2 298.7h8.1v1.0h-8.1zM400.6 298.7h8.1v1.0h-8.1zM441.2 298.7h8.1v1.0h-8.1zM465.5 298.7h8.1v1.0h-8.1zM514.2 298.7h8.1v1.0h-8.1zM579.1 298.7h8.1v1.0h-8.1zM595.4 298.7h16.2v1.0h-16.2zM67.8 299.7h8.1v1.0h-8.1zM92.2 299.7h8.1v1.0h-8.1zM116.5 299.7h24.4v1.0h-24.4zM157.1 299.7h8.1v1.0h-8.1zM197.7 299.7h8.1v1.0h-8.1zM238.2 299.7h16.2v1.0h-16.2zM270.7 299.7h16.2v1.0h-16.2zM376.2 299.7h8.1v1.0h-8.1zM392.5 299.7h8.1v1.0h-8.1zM441.2 299.7h8.1v1.0h-8.1zM457.4 299.7h8.1v1.0h-8.1zM481.8 299.7h8.1v1.0h-8.1zM538.6 299.7h8.1v1.0h-8.1zM603.5 299.7h8.1v1.0h-8.1zM644.1 299.7h8.1v1.0h-8.1zM132.7 300.7h16.2v1.0h-16.2zM230.1 300.7h8.1v1.0h-8.1zM270.7 300.7h8.1v1.0h-8.1zM286.9 300.7h16.2v1.0h-16.2zM311.3 300.7h8.1v1.0h-8.1zM351.9 300.7h16.2v1.0h-16.2zM376.2 300.7h16.2v1.0h-16.2zM400.6 300.7h8.1v1.0h-8.1zM416.8 300.7h8.1v1.0h-8.1zM433.1 300.7h16.2v1.0h-16.2zM522.3 300.7h16.2v1.0h-16.2zM546.7 300.7h8.1v1.0h-8.1zM611.6 300.7h8.1v1.0h-8.1zM116.5 301.7h8.1v1.0h-8.1zM181.4 301.7h16.2v1.0h-16.2zM205.8 301.7h8.1v1.0h-8.1zM222.0 301.7h16.2v1.0h-16.2zM278.8 301.7h16.2v1.0h-16.2zM311.3 301.7h8.1v1.0h-8.1zM343.8 301.7h8.1v1.0h-8.1zM360.0 301.7h16.2v1.0h-16.2zM408.7 301.7h16.2v1.0h-16.2zM481.8 301.7h8.1v1.0h-8.1zM498.0 301.7h8.1v1.0h-8.1zM554.8 301.7h8.1v1.0h-8.1zM603.5 301.7h8.1v1.0h-8.1zM84.0 302.7h8.1v1.0h-8.1zM124.6 302.7h8.1v1.0h-8.1zM149.0 302.7h8.1v1.0h-8.1zM165.2 302.7h8.1v1.0h-8.1zM189.6 302.7h8.1v1.0h-8.1zM222.0 302.7h16.2v1.0h-16.2zM295.1 302.7h8.1v1.0h-8.1zM368.1 302.7h8.1v1.0h-8.1zM449.3 302.7h8.1v1.0h-8.1zM498.0 302.7h8.1v1.0h-8.1zM619.7 302.7h16.2v1.0h-16.2zM92.2 303.7h16.2v1.0h-16.2zM197.7 303.7h8.1v1.0h-8.1zM213.9 303.7h8.1v1.0h-8.1zM230.1 303.7h8.1v1.0h-8.1zM246.4 303.7h8.1v1.0h-8.1zM343.8 303.7h8.1v1.0h-8.1zM416.8 303.7h8.1v1.0h-8.1zM433.1 303.7h8.1v1.0h-8.1zM473.6 303.7h16.2v1.0h-16.2zM514.2 303.7h16.2v1.0h-16.2zM603.5 303.7h24.4v1.0h-24.4zM92.2 304.7h16.2v1.0h-16.2zM157.1 304.7h8.1v1.0h-8.1zM197.7 304.7h8.1v1.0h-8.1zM392.5 304.7h16.2v1.0h-16.2zM441.2 304.7h8.1v1.0h-8.1zM498.0 304.7h16.2v1.0h-16.2zM546.7 304.7h8.1v1.0h-8.1zM603.5 304.7h8.1v1.0h-8.1zM627.9 304.7h8.1v1.0h-8.1zM100.3 305.7h16.2v1.0h-16.2zM157.1 305.7h8.1v1.0h-8.1zM262.6 305.7h16.2v1.0h-16.2zM360.0 305.7h8.1v1.0h-8.1zM392.5 305.7h8.1v1.0h-8.1zM416.8 305.7h40.6v1.0h-40.6zM571.0 305.7h8.1v1.0h-8.1zM116.5 306.7h8.1v1.0h-8.1zM140.9 306.7h8.1v1.0h-8.1zM157.1 306.7h16.2v1.0h-16.2zM213.9 306.7h8.1v1.0h-8.1zM238.2 306.7h8.1v1.0h-8.1zM278.8 306.7h16.2v1.0h-16.2zM416.8 306.7h8.1v1.0h-8.1zM433.1 306.7h8.1v1.0h-8.1zM457.4 306.7h8.1v1.0h-8.1zM473.6 306.7h8.1v1.0h-8.1zM554.8 306.7h8.1v1.0h-8.1zM579.1 306.7h8.1v1.0h-8.1zM611.6 306.7h8.1v1.0h-8.1zM644.1 306.7h8.1v1.0h-8.1zM67.8 307.7h8.1v1.0h-8.1zM84.0 307.7h8.1v1.0h-8.1zM132.7 307.7h8.1v1.0h-8.1zM149.0 307.7h24.4v1.0h-24.4zM181.4 307.7h8.1v1.0h-8.1zM197.7 307.7h8.1v1.0h-8.1zM213.9 307.7h8.1v1.0h-8.1zM230.1 307.7h8.1v1.0h-8.1zM270.7 307.7h8.1v1.0h-8.1zM360.0 307.7h16.2v1.0h-16.2zM400.6 307.7h16.2v1.0h-16.2zM514.2 307.7h8.1v1.0h-8.1zM538.6 307.7h24.4v1.0h-24.4zM579.1 307.7h8.1v1.0h-8.1zM644.1 307.7h8.1v1.0h-8.1zM75.9 308.7h8.1v1.0h-8.1zM149.0 308.7h8.1v1.0h-8.1zM222.0 308.7h8.1v1.0h-8.1zM238.2 308.7h8.1v1.0h-8.1zM278.8 308.7h8.1v1.0h-8.1zM303.2 308.7h8.1v1.0h-8.1zM319.4 308.7h8.1v1.0h-8.1zM351.9 308.7h8.1v1.0h-8.1zM368.1 308.7h16.2v1.0h-16.2zM400.6 308.7h8.1v1.0h-8.1zM441.2 308.7h8.1v1.0h-8.1zM506.1 308.7h8.1v1.0h-8.1zM619.7 308.7h16.2v1.0h-16.2zM644.1 308.7h8.1v1.0h-8.1zM75.9 309.7h16.2v1.0h-16.2zM116.5 309.7h24.4v1.0h-24.4zM165.2 309.7h8.1v1.0h-8.1zM189.6 309.7h16.2v1.0h-16.2zM238.2 309.7h8.1v1.0h-8.1zM278.8 309.7h8.1v1.0h-8.1zM295.1 309.7h8.1v1.0h-8.1zM360.0 309.7h8.1v1.0h-8.1zM384.4 309.7h40.6v1.0h-40.6zM433.1 309.7h8.1v1.0h-8.1zM449.3 309.7h8.1v1.0h-8.1zM546.7 309.7h8.1v1.0h-8.1zM92.2 310.7h16.2v1.0h-16.2zM149.0 310.7h8.1v1.0h-8.1zM181.4 310.7h8.1v1.0h-8.1zM197.7 310.7h8.1v1.0h-8.1zM424.9 310.7h16.2v1.0h-16.2zM449.3 310.7h8.1v1.0h-8.1zM465.5 310.7h8.1v1.0h-8.1zM522.3 310.7h8.1v1.0h-8.1zM571.0 310.7h8.1v1.0h-8.1zM611.6 310.7h16.2v1.0h-16.2zM636.0 310.7h8.1v1.0h-8.1zM75.9 311.7h8.1v1.0h-8.1zM100.3 311.7h24.4v1.0h-24.4zM132.7 311.7h8.1v1.0h-8.1zM181.4 311.7h8.1v1.0h-8.1zM205.8 311.7h40.6v1.0h-40.6zM400.6 311.7h16.2v1.0h-16.2zM457.4 311.7h8.1v1.0h-8.1zM595.4 311.7h8.1v1.0h-8.1zM644.1 311.7h8.1v1.0h-8.1zM124.6 312.7h8.1v1.0h-8.1zM140.9 312.7h8.1v1.0h-8.1zM197.7 312.7h8.1v1.0h-8.1zM319.4 312.7h8.1v1.0h-8.1zM343.8 312.7h8.1v1.0h-8.1zM360.0 312.7h24.4v1.0h-24.4zM400.6 312.7h8.1v1.0h-8.1zM433.1 312.7h8.1v1.0h-8.1zM546.7 312.7h8.1v1.0h-8.1zM611.6 312.7h8.1v1.0h-8.1zM644.1 312.7h8.1v1.0h-8.1zM84.0 313.7h8.1v1.0h-8.1zM100.3 313.7h16.2v1.0h-16.2zM124.6 313.7h8.1v1.0h-8.1zM246.4 313.7h8.1v1.0h-8.1zM278.8 313.7h8.1v1.0h-8.1zM295.1 313.7h16.2v1.0h-16.2zM408.7 313.7h16.2v1.0h-16.2zM449.3 313.7h16.2v1.0h-16.2zM473.6 313.7h8.1v1.0h-8.1zM489.9 313.7h24.4v1.0h-24.4zM530.5 313.7h8.1v1.0h-8.1zM644.1 313.7h8.1v1.0h-8.1zM92.2 314.7h16.2v1.0h-16.2zM124.6 314.7h8.1v1.0h-8.1zM270.7 314.7h8.1v1.0h-8.1zM368.1 314.7h8.1v1.0h-8.1zM465.5 314.7h8.1v1.0h-8.1zM579.1 314.7h8.1v1.0h-8.1zM611.6 314.7h8.1v1.0h-8.1zM67.8 315.7h8.1v1.0h-8.1zM92.2 315.7h16.2v1.0h-16.2zM149.0 315.7h8.1v1.0h-8.1zM181.4 315.7h24.4v1.0h-24.4zM230.1 315.7h8.1v1.0h-8.1zM278.8 315.7h16.2v1.0h-16.2zM303.2 315.7h8.1v1.0h-8.1zM327.5 315.7h8.1v1.0h-8.1zM368.1 315.7h8.1v1.0h-8.1zM416.8 315.7h24.4v1.0h-24.4zM449.3 315.7h8.1v1.0h-8.1zM489.9 315.7h8.1v1.0h-8.1zM522.3 315.7h8.1v1.0h-8.1zM627.9 315.7h8.1v1.0h-8.1zM100.3 316.7h8.1v1.0h-8.1zM140.9 316.7h8.1v1.0h-8.1zM165.2 316.7h8.1v1.0h-8.1zM181.4 316.7h8.1v1.0h-8.1zM238.2 316.7h8.1v1.0h-8.1zM286.9 316.7h8.1v1.0h-8.1zM360.0 316.7h8.1v1.0h-8.1zM416.8 316.7h16.2v1.0h-16.2zM465.5 316.7h8.1v1.0h-8.1zM489.9 316.7h8.1v1.0h-8.1zM514.2 316.7h8.1v1.0h-8.1zM538.6 316.7h8.1v1.0h-8.1zM75.9 317.7h8.1v1.0h-8.1zM181.4 317.7h8.1v1.0h-8.1zM197.7 317.7h8.1v1.0h-8.1zM360.0 317.7h8.1v1.0h-8.1zM416.8 317.7h8.1v1.0h-8.1zM433.1 317.7h8.1v1.0h-8.1zM498.0 317.7h8.1v1.0h-8.1zM84.0 318.7h8.1v1.0h-8.1zM132.7 318.7h8.1v1.0h-8.1zM213.9 318.7h24.4v1.0h-24.4zM392.5 318.7h8.1v1.0h-8.1zM424.9 318.7h8.1v1.0h-8.1zM465.5 318.7h8.1v1.0h-8.1zM489.9 318.7h8.1v1.0h-8.1zM522.3 318.7h8.1v1.0h-8.1zM644.1 318.7h8.1v1.0h-8.1zM116.5 319.7h8.1v1.0h-8.1zM165.2 319.7h8.1v1.0h-8.1zM189.6 319.7h8.1v1.0h-8.1zM222.0 319.7h8.1v1.0h-8.1zM311.3 319.7h8.1v1.0h-8.1zM343.8 319.7h8.1v1.0h-8.1zM416.8 319.7h16.2v1.0h-16.2zM473.6 319.7h8.1v1.0h-8.1zM489.9 319.7h8.1v1.0h-8.1zM611.6 319.7h8.1v1.0h-8.1zM92.2 320.7h8.1v1.0h-8.1zM132.7 320.7h8.1v1.0h-8.1zM213.9 320.7h8.1v1.0h-8.1zM286.9 320.7h8.1v1.0h-8.1zM424.9 320.7h16.2v1.0h-16.2zM449.3 320.7h8.1v1.0h-8.1zM498.0 320.7h8.1v1.0h-8.1zM530.5 320.7h8.1v1.0h-8.1zM611.6 320.7h8.1v1.0h-8.1zM644.1 320.7h8.1v1.0h-8.1zM67.8 321.7h8.1v1.0h-8.1zM100.3 321.7h8.1v1.0h-8.1zM124.6 321.7h8.1v1.0h-8.1zM181.4 321.7h8.1v1.0h-8.1zM197.7 321.7h8.1v1.0h-8.1zM238.2 321.7h16.2v1.0h-16.2zM286.9 321.7h24.4v1.0h-24.4zM343.8 321.7h16.2v1.0h-16.2zM416.8 321.7h8.1v1.0h-8.1zM433.1 321.7h8.1v1.0h-8.1zM481.8 321.7h16.2v1.0h-16.2zM506.1 321.7h8.1v1.0h-8.1zM100.3 322.7h16.2v1.0h-16.2zM165.2 322.7h8.1v1.0h-8.1zM189.6 322.7h8.1v1.0h-8.1zM238.2 322.7h8.1v1.0h-8.1zM360.0 322.7h8.1v1.0h-8.1zM384.4 322.7h8.1v1.0h-8.1zM449.3 322.7h8.1v1.0h-8.1zM465.5 322.7h8.1v1.0h-8.1zM530.5 322.7h24.4v1.0h-24.4zM619.7 322.7h8.1v1.0h-8.1zM116.5 323.7h16.2v1.0h-16.2zM165.2 323.7h8.1v1.0h-8.1zM197.7 323.7h8.1v1.0h-8.1zM230.1 323.7h8.1v1.0h-8.1zM278.8 323.7h16.2v1.0h-16.2zM449.3 323.7h8.1v1.0h-8.1zM465.5 323.7h16.2v1.0h-16.2zM611.6 323.7h8.1v1.0h-8.1zM84.0 324.7h8.1v1.0h-8.1zM197.7 324.7h8.1v1.0h-8.1zM295.1 324.7h8.1v1.0h-8.1zM343.8 324.7h8.1v1.0h-8.1zM416.8 324.7h8.1v1.0h-8.1zM433.1 324.7h8.1v1.0h-8.1zM498.0 324.7h8.1v1.0h-8.1zM644.1 324.7h8.1v1.0h-8.1zM67.8 325.7h8.1v1.0h-8.1zM84.0 325.7h8.1v1.0h-8.1zM278.8 325.7h8.1v1.0h-8.1zM327.5 325.7h8.1v1.0h-8.1zM351.9 325.7h16.2v1.0h-16.2zM498.0 325.7h8.1v1.0h-8.1zM514.2 325.7h8.1v1.0h-8.1zM530.5 325.7h8.1v1.0h-8.1zM571.0 325.7h8.1v1.0h-8.1zM611.6 325.7h16.2v1.0h-16.2zM84.0 326.7h8.1v1.0h-8.1zM108.4 326.7h24.4v1.0h-24.4zM149.0 326.7h8.1v1.0h-8.1zM205.8 326.7h8.1v1.0h-8.1zM238.2 326.7h16.2v1.0h-16.2zM270.7 326.7h8.1v1.0h-8.1zM295.1 326.7h8.1v1.0h-8.1zM360.0 326.7h8.1v1.0h-8.1zM416.8 326.7h8.1v1.0h-8.1zM449.3 326.7h8.1v1.0h-8.1zM481.8 326.7h8.1v1.0h-8.1zM498.0 326.7h8.1v1.0h-8.1zM587.3 326.7h8.1v1.0h-8.1zM619.7 326.7h8.1v1.0h-8.1zM100.3 327.7h16.2v1.0h-16.2zM124.6 327.7h8.1v1.0h-8.1zM376.2 327.7h8.1v1.0h-8.1zM481.8 327.7h8.1v1.0h-8.1zM67.8 328.7h8.1v1.0h-8.1zM100.3 328.7h16.2v1.0h-16.2zM205.8 328.7h8.1v1.0h-8.1zM230.1 328.7h8.1v1.0h-8.1zM246.4 328.7h8.1v1.0h-8.1zM286.9 328.7h8.1v1.0h-8.1zM303.2 328.7h8.1v1.0h-8.1zM343.8 328.7h8.1v1.0h-8.1zM368.1 328.7h8.1v1.0h-8.1zM384.4 328.7h8.1v1.0h-8.1zM449.3 328.7h8.1v1.0h-8.1zM465.5 328.7h8.1v1.0h-8.1zM489.9 328.7h8.1v1.0h-8.1zM554.8 328.7h8.1v1.0h-8.1zM579.1 328.7h8.1v1.0h-8.1zM611.6 328.7h8.1v1.0h-8.1zM644.1 328.7h8.1v1.0h-8.1zM67.8 329.7h16.2v1.0h-16.2zM116.5 329.7h8.1v1.0h-8.1zM140.9 329.7h16.2v1.0h-16.2zM238.2 329.7h8.1v1.0h-8.1zM286.9 329.7h8.1v1.0h-8.1zM433.1 329.7h8.1v1.0h-8.1zM489.9 329.7h8.1v1.0h-8.1zM530.5 329.7h8.1v1.0h-8.1zM67.8 330.7h16.2v1.0h-16.2zM100.3 330.7h16.2v1.0h-16.2zM157.1 330.7h8.1v1.0h-8.1zM189.6 330.7h8.1v1.0h-8.1zM205.8 330.7h8.1v1.0h-8.1zM222.0 330.7h8.1v1.0h-8.1zM246.4 330.7h8.1v1.0h-8.1zM278.8 330.7h8.1v1.0h-8.1zM295.1 330.7h8.1v1.0h-8.1zM319.4 330.7h8.1v1.0h-8.1zM343.8 330.7h8.1v1.0h-8.1zM376.2 330.7h8.1v1.0h-8.1zM433.1 330.7h8.1v1.0h-8.1zM587.3 330.7h8.1v1.0h-8.1zM67.8 331.7h8.1v1.0h-8.1zM132.7 331.7h8.1v1.0h-8.1zM157.1 331.7h8.1v1.0h-8.1zM213.9 331.7h16.2v1.0h-16.2zM246.4 331.7h8.1v1.0h-8.1zM295.1 331.7h8.1v1.0h-8.1zM392.5 331.7h8.1v1.0h-8.1zM416.8 331.7h8.1v1.0h-8.1zM457.4 331.7h8.1v1.0h-8.1zM489.9 331.7h16.2v1.0h-16.2zM636.0 331.7h8.1v1.0h-8.1zM116.5 332.7h16.2v1.0h-16.2zM181.4 332.7h8.1v1.0h-8.1zM213.9 332.7h8.1v1.0h-8.1zM262.6 332.7h8.1v1.0h-8.1zM303.2 332.7h8.1v1.0h-8.1zM335.7 332.7h8.1v1.0h-8.1zM351.9 332.7h8.1v1.0h-8.1zM376.2 332.7h8.1v1.0h-8.1zM408.7 332.7h8.1v1.0h-8.1zM433.1 332.7h8.1v1.0h-8.1zM489.9 332.7h8.1v1.0h-8.1zM522.3 332.7h8.1v1.0h-8.1zM67.8 333.7h8.1v1.0h-8.1zM92.2 333.7h16.2v1.0h-16.2zM149.0 333.7h16.2v1.0h-16.2zM181.4 333.7h16.2v1.0h-16.2zM238.2 333.7h8.1v1.0h-8.1zM408.7 333.7h8.1v1.0h-8.1zM433.1 333.7h8.1v1.0h-8.1zM84.0 334.7h8.1v1.0h-8.1zM165.2 334.7h8.1v1.0h-8.1zM197.7 334.7h8.1v1.0h-8.1zM222.0 334.7h8.1v1.0h-8.1zM295.1 334.7h32.5v1.0h-32.5zM408.7 334.7h8.1v1.0h-8.1zM424.9 334.7h32.5v1.0h-32.5zM465.5 334.7h8.1v1.0h-8.1zM481.8 334.7h16.2v1.0h-16.2zM522.3 334.7h8.1v1.0h-8.1zM603.5 334.7h8.1v1.0h-8.1zM67.8 335.7h8.1v1.0h-8.1zM92.2 335.7h8.1v1.0h-8.1zM116.5 335.7h8.1v1.0h-8.1zM132.7 335.7h8.1v1.0h-8.1zM165.2 335.7h8.1v1.0h-8.1zM181.4 335.7h16.2v1.0h-16.2zM238.2 335.7h16.2v1.0h-16.2zM262.6 335.7h8.1v1.0h-8.1zM319.4 335.7h8.1v1.0h-8.1zM351.9 335.7h8.1v1.0h-8.1zM416.8 335.7h24.4v1.0h-24.4zM449.3 335.7h16.2v1.0h-16.2zM481.8 335.7h8.1v1.0h-8.1zM636.0 335.7h16.2v1.0h-16.2zM75.9 336.7h8.1v1.0h-8.1zM108.4 336.7h8.1v1.0h-8.1zM149.0 336.7h8.1v1.0h-8.1zM181.4 336.7h8.1v1.0h-8.1zM197.7 336.7h8.1v1.0h-8.1zM376.2 336.7h8.1v1.0h-8.1zM400.6 336.7h8.1v1.0h-8.1zM424.9 336.7h8.1v1.0h-8.1zM457.4 336.7h8.1v1.0h-8.1zM530.5 336.7h24.4v1.0h-24.4zM587.3 336.7h8.1v1.0h-8.1zM75.9 337.7h8.1v1.0h-8.1zM165.2 337.7h8.1v1.0h-8.1zM181.4 337.7h8.1v1.0h-8.1zM230.1 337.7h8.1v1.0h-8.1zM254.5 337.7h8.1v1.0h-8.1zM278.8 337.7h8.1v1.0h-8.1zM376.2 337.7h8.1v1.0h-8.1zM400.6 337.7h8.1v1.0h-8.1zM433.1 337.7h8.1v1.0h-8.1zM562.9 337.7h8.1v1.0h-8.1zM108.4 338.7h8.1v1.0h-8.1zM181.4 338.7h16.2v1.0h-16.2zM205.8 338.7h8.1v1.0h-8.1zM303.2 338.7h8.1v1.0h-8.1zM368.1 338.7h16.2v1.0h-16.2zM400.6 338.7h16.2v1.0h-16.2zM506.1 338.7h8.1v1.0h-8.1zM538.6 338.7h16.2v1.0h-16.2zM75.9 339.7h8.1v1.0h-8.1zM165.2 339.7h8.1v1.0h-8.1zM197.7 339.7h8.1v1.0h-8.1zM222.0 339.7h8.1v1.0h-8.1zM270.7 339.7h8.1v1.0h-8.1zM286.9 339.7h8.1v1.0h-8.1zM311.3 339.7h8.1v1.0h-8.1zM416.8 339.7h24.4v1.0h-24.4zM465.5 339.7h16.2v1.0h-16.2zM92.2 340.7h8.1v1.0h-8.1zM140.9 340.7h24.4v1.0h-24.4zM173.3 340.7h8.1v1.0h-8.1zM205.8 340.7h8.1v1.0h-8.1zM246.4 340.7h8.1v1.0h-8.1zM270.7 340.7h16.2v1.0h-16.2zM303.2 340.7h8.1v1.0h-8.1zM335.7 340.7h24.4v1.0h-24.4zM400.6 340.7h8.1v1.0h-8.1zM416.8 340.7h8.1v1.0h-8.1zM457.4 340.7h24.4v1.0h-24.4zM489.9 340.7h16.2v1.0h-16.2zM75.9 341.7h8.1v1.0h-8.1zM149.0 341.7h8.1v1.0h-8.1zM197.7 341.7h8.1v1.0h-8.1zM246.4 341.7h8.1v1.0h-8.1zM278.8 341.7h8.1v1.0h-8.1zM295.1 341.7h8.1v1.0h-8.1zM335.7 341.7h8.1v1.0h-8.1zM368.1 341.7h8.1v1.0h-8.1zM408.7 341.7h16.2v1.0h-16.2zM441.2 341.7h24.4v1.0h-24.4zM481.8 341.7h16.2v1.0h-16.2zM506.1 341.7h8.1v1.0h-8.1zM530.5 341.7h16.2v1.0h-16.2zM644.1 341.7h8.1v1.0h-8.1zM67.8 342.7h8.1v1.0h-8.1zM84.0 342.7h16.2v1.0h-16.2zM116.5 342.7h64.9v1.0h-64.9zM222.0 342.7h8.1v1.0h-8.1zM238.2 342.7h8.1v1.0h-8.1zM295.1 342.7h8.1v1.0h-8.1zM319.4 342.7h8.1v1.0h-8.1zM376.2 342.7h8.1v1.0h-8.1zM433.1 342.7h8.1v1.0h-8.1zM514.2 342.7h8.1v1.0h-8.1zM530.5 342.7h16.2v1.0h-16.2zM75.9 343.7h16.2v1.0h-16.2zM165.2 343.7h16.2v1.0h-16.2zM205.8 343.7h8.1v1.0h-8.1zM286.9 343.7h8.1v1.0h-8.1zM360.0 343.7h8.1v1.0h-8.1zM392.5 343.7h8.1v1.0h-8.1zM433.1 343.7h8.1v1.0h-8.1zM449.3 343.7h8.1v1.0h-8.1zM530.5 343.7h8.1v1.0h-8.1zM579.1 343.7h8.1v1.0h-8.1zM67.8 344.7h8.1v1.0h-8.1zM92.2 344.7h8.1v1.0h-8.1zM132.7 344.7h8.1v1.0h-8.1zM149.0 344.7h8.1v1.0h-8.1zM165.2 344.7h8.1v1.0h-8.1zM181.4 344.7h16.2v1.0h-16.2zM230.1 344.7h16.2v1.0h-16.2zM278.8 344.7h16.2v1.0h-16.2zM343.8 344.7h8.1v1.0h-8.1zM360.0 344.7h8.1v1.0h-8.1zM416.8 344.7h8.1v1.0h-8.1zM433.1 344.7h8.1v1.0h-8.1zM449.3 344.7h8.1v1.0h-8.1zM514.2 344.7h8.1v1.0h-8.1zM530.5 344.7h8.1v1.0h-8.1zM67.8 345.7h8.1v1.0h-8.1zM92.2 345.7h8.1v1.0h-8.1zM149.0 345.7h8.1v1.0h-8.1zM222.0 345.7h8.1v1.0h-8.1zM270.7 345.7h8.1v1.0h-8.1zM295.1 345.7h16.2v1.0h-16.2zM351.9 345.7h8.1v1.0h-8.1zM416.8 345.7h24.4v1.0h-24.4zM457.4 345.7h8.1v1.0h-8.1zM522.3 345.7h8.1v1.0h-8.1zM538.6 345.7h8.1v1.0h-8.1zM67.8 346.7h16.2v1.0h-16.2zM157.1 346.7h8.1v1.0h-8.1zM197.7 346.7h8.1v1.0h-8.1zM238.2 346.7h8.1v1.0h-8.1zM295.1 346.7h16.2v1.0h-16.2zM360.0 346.7h8.1v1.0h-8.1zM400.6 346.7h16.2v1.0h-16.2zM433.1 346.7h8.1v1.0h-8.1zM67.8 347.7h24.4v1.0h-24.4zM157.1 347.7h24.4v1.0h-24.4zM197.7 347.7h8.1v1.0h-8.1zM246.4 347.7h8.1v1.0h-8.1zM270.7 347.7h8.1v1.0h-8.1zM286.9 347.7h16.2v1.0h-16.2zM392.5 347.7h8.1v1.0h-8.1zM441.2 347.7h8.1v1.0h-8.1zM457.4 347.7h8.1v1.0h-8.1zM522.3 347.7h16.2v1.0h-16.2zM75.9 348.7h8.1v1.0h-8.1zM108.4 348.7h8.1v1.0h-8.1zM124.6 348.7h8.1v1.0h-8.1zM189.6 348.7h8.1v1.0h-8.1zM213.9 348.7h8.1v1.0h-8.1zM254.5 348.7h8.1v1.0h-8.1zM270.7 348.7h8.1v1.0h-8.1zM303.2 348.7h8.1v1.0h-8.1zM506.1 348.7h8.1v1.0h-8.1zM530.5 348.7h8.1v1.0h-8.1zM67.8 349.7h8.1v1.0h-8.1zM92.2 349.7h16.2v1.0h-16.2zM124.6 349.7h8.1v1.0h-8.1zM140.9 349.7h32.5v1.0h-32.5zM181.4 349.7h24.4v1.0h-24.4zM238.2 349.7h8.1v1.0h-8.1zM286.9 349.7h8.1v1.0h-8.1zM368.1 349.7h8.1v1.0h-8.1zM384.4 349.7h8.1v1.0h-8.1zM489.9 349.7h8.1v1.0h-8.1zM538.6 349.7h8.1v1.0h-8.1zM644.1 349.7h8.1v1.0h-8.1zM84.0 350.7h16.2v1.0h-16.2zM157.1 350.7h16.2v1.0h-16.2zM181.4 350.7h8.1v1.0h-8.1zM295.1 350.7h16.2v1.0h-16.2zM360.0 350.7h8.1v1.0h-8.1zM376.2 350.7h8.1v1.0h-8.1zM489.9 350.7h8.1v1.0h-8.1zM124.6 351.7h8.1v1.0h-8.1zM222.0 351.7h8.1v1.0h-8.1zM254.5 351.7h8.1v1.0h-8.1zM295.1 351.7h8.1v1.0h-8.1zM311.3 351.7h8.1v1.0h-8.1zM416.8 351.7h8.1v1.0h-8.1zM441.2 351.7h8.1v1.0h-8.1zM108.4 352.7h8.1v1.0h-8.1zM132.7 352.7h8.1v1.0h-8.1zM157.1 352.7h8.1v1.0h-8.1zM213.9 352.7h8.1v1.0h-8.1zM270.7 352.7h8.1v1.0h-8.1zM327.5 352.7h8.1v1.0h-8.1zM351.9 352.7h8.1v1.0h-8.1zM376.2 352.7h8.1v1.0h-8.1zM392.5 352.7h8.1v1.0h-8.1zM522.3 352.7h8.1v1.0h-8.1zM611.6 352.7h8.1v1.0h-8.1zM67.8 353.7h8.1v1.0h-8.1zM84.0 353.7h16.2v1.0h-16.2zM124.6 353.7h16.2v1.0h-16.2zM165.2 353.7h8.1v1.0h-8.1zM197.7 353.7h16.2v1.0h-16.2zM246.4 353.7h8.1v1.0h-8.1zM295.1 353.7h8.1v1.0h-8.1zM351.9 353.7h8.1v1.0h-8.1zM384.4 353.7h8.1v1.0h-8.1zM489.9 353.7h8.1v1.0h-8.1zM530.5 353.7h8.1v1.0h-8.1zM92.2 354.7h8.1v1.0h-8.1zM116.5 354.7h16.2v1.0h-16.2zM165.2 354.7h16.2v1.0h-16.2zM205.8 354.7h8.1v1.0h-8.1zM303.2 354.7h8.1v1.0h-8.1zM335.7 354.7h8.1v1.0h-8.1zM351.9 354.7h8.1v1.0h-8.1zM376.2 354.7h8.1v1.0h-8.1zM481.8 354.7h8.1v1.0h-8.1zM644.1 354.7h8.1v1.0h-8.1zM92.2 355.7h16.2v1.0h-16.2zM157.1 355.7h8.1v1.0h-8.1zM197.7 355.7h8.1v1.0h-8.1zM270.7 355.7h16.2v1.0h-16.2zM295.1 355.7h8.1v1.0h-8.1zM327.5 355.7h8.1v1.0h-8.1zM400.6 355.7h8.1v1.0h-8.1zM481.8 355.7h16.2v1.0h-16.2zM530.5 355.7h8.1v1.0h-8.1zM140.9 356.7h16.2v1.0h-16.2zM173.3 356.7h8.1v1.0h-8.1zM197.7 356.7h8.1v1.0h-8.1zM222.0 356.7h8.1v1.0h-8.1zM286.9 356.7h8.1v1.0h-8.1zM335.7 356.7h8.1v1.0h-8.1zM368.1 356.7h24.4v1.0h-24.4zM400.6 356.7h8.1v1.0h-8.1zM449.3 356.7h16.2v1.0h-16.2zM644.1 356.7h8.1v1.0h-8.1zM84.0 357.7h16.2v1.0h-16.2zM116.5 357.7h24.4v1.0h-24.4zM254.5 357.7h8.1v1.0h-8.1zM278.8 357.7h8.1v1.0h-8.1zM295.1 357.7h8.1v1.0h-8.1zM368.1 357.7h8.1v1.0h-8.1zM384.4 357.7h8.1v1.0h-8.1zM433.1 357.7h16.2v1.0h-16.2zM644.1 357.7h8.1v1.0h-8.1zM75.9 358.7h8.1v1.0h-8.1zM100.3 358.7h8.1v1.0h-8.1zM197.7 358.7h8.1v1.0h-8.1zM278.8 358.7h8.1v1.0h-8.1zM311.3 358.7h8.1v1.0h-8.1zM351.9 358.7h8.1v1.0h-8.1zM400.6 358.7h8.1v1.0h-8.1zM441.2 358.7h8.1v1.0h-8.1zM67.8 359.7h8.1v1.0h-8.1zM100.3 359.7h24.4v1.0h-24.4zM132.7 359.7h16.2v1.0h-16.2zM157.1 359.7h16.2v1.0h-16.2zM181.4 359.7h16.2v1.0h-16.2zM246.4 359.7h8.1v1.0h-8.1zM270.7 359.7h8.1v1.0h-8.1zM295.1 359.7h8.1v1.0h-8.1zM327.5 359.7h8.1v1.0h-8.1zM360.0 359.7h8.1v1.0h-8.1zM433.1 359.7h8.1v1.0h-8.1zM457.4 359.7h8.1v1.0h-8.1zM498.0 359.7h8.1v1.0h-8.1zM84.0 360.7h32.5v1.0h-32.5zM157.1 360.7h8.1v1.0h-8.1zM189.6 360.7h16.2v1.0h-16.2zM222.0 360.7h8.1v1.0h-8.1zM278.8 360.7h8.1v1.0h-8.1zM368.1 360.7h8.1v1.0h-8.1zM538.6 360.7h8.1v1.0h-8.1zM100.3 361.7h16.2v1.0h-16.2zM149.0 361.7h8.1v1.0h-8.1zM213.9 361.7h8.1v1.0h-8.1zM238.2 361.7h8.1v1.0h-8.1zM270.7 361.7h8.1v1.0h-8.1zM335.7 361.7h8.1v1.0h-8.1zM376.2 361.7h8.1v1.0h-8.1zM408.7 361.7h8.1v1.0h-8.1zM506.1 361.7h8.1v1.0h-8.1zM75.9 362.7h16.2v1.0h-16.2zM124.6 362.7h16.2v1.0h-16.2zM165.2 362.7h24.4v1.0h-24.4zM197.7 362.7h8.1v1.0h-8.1zM319.4 362.7h8.1v1.0h-8.1zM368.1 362.7h16.2v1.0h-16.2zM449.3 362.7h8.1v1.0h-8.1zM530.5 362.7h8.1v1.0h-8.1zM92.2 363.7h8.1v1.0h-8.1zM149.0 363.7h16.2v1.0h-16.2zM197.7 363.7h8.1v1.0h-8.1zM213.9 363.7h8.1v1.0h-8.1zM238.2 363.7h16.2v1.0h-16.2zM262.6 363.7h16.2v1.0h-16.2zM327.5 363.7h8.1v1.0h-8.1zM400.6 363.7h16.2v1.0h-16.2zM433.1 363.7h8.1v1.0h-8.1zM473.6 363.7h8.1v1.0h-8.1zM514.2 363.7h8.1v1.0h-8.1zM92.2 364.7h8.1v1.0h-8.1zM165.2 364.7h16.2v1.0h-16.2zM205.8 364.7h8.1v1.0h-8.1zM222.0 364.7h8.1v1.0h-8.1zM278.8 364.7h8.1v1.0h-8.1zM311.3 364.7h8.1v1.0h-8.1zM360.0 364.7h8.1v1.0h-8.1zM433.1 364.7h8.1v1.0h-8.1zM465.5 364.7h16.2v1.0h-16.2zM530.5 364.7h8.1v1.0h-8.1zM149.0 365.7h8.1v1.0h-8.1zM197.7 365.7h8.1v1.0h-8.1zM238.2 365.7h8.1v1.0h-8.1zM262.6 365.7h8.1v1.0h-8.1zM286.9 365.7h8.1v1.0h-8.1zM319.4 365.7h8.1v1.0h-8.1zM335.7 365.7h8.1v1.0h-8.1zM400.6 365.7h8.1v1.0h-8.1zM449.3 365.7h8.1v1.0h-8.1zM522.3 365.7h8.1v1.0h-8.1zM92.2 366.7h16.2v1.0h-16.2zM124.6 366.7h16.2v1.0h-16.2zM197.7 366.7h8.1v1.0h-8.1zM222.0 366.7h8.1v1.0h-8.1zM238.2 366.7h8.1v1.0h-8.1zM311.3 366.7h16.2v1.0h-16.2zM360.0 366.7h8.1v1.0h-8.1zM457.4 366.7h16.2v1.0h-16.2zM489.9 366.7h8.1v1.0h-8.1zM67.8 367.7h8.1v1.0h-8.1zM108.4 367.7h8.1v1.0h-8.1zM157.1 367.7h16.2v1.0h-16.2zM246.4 367.7h8.1v1.0h-8.1zM303.2 367.7h8.1v1.0h-8.1zM384.4 367.7h16.2v1.0h-16.2zM465.5 367.7h8.1v1.0h-8.1zM100.3 368.7h8.1v1.0h-8.1zM132.7 368.7h8.1v1.0h-8.1zM157.1 368.7h8.1v1.0h-8.1zM181.4 368.7h8.1v1.0h-8.1zM286.9 368.7h16.2v1.0h-16.2zM335.7 368.7h8.1v1.0h-8.1zM408.7 368.7h8.1v1.0h-8.1zM433.1 368.7h8.1v1.0h-8.1zM498.0 368.7h8.1v1.0h-8.1zM108.4 369.7h8.1v1.0h-8.1zM132.7 369.7h32.5v1.0h-32.5zM189.6 369.7h8.1v1.0h-8.1zM319.4 369.7h8.1v1.0h-8.1zM360.0 369.7h8.1v1.0h-8.1zM384.4 369.7h8.1v1.0h-8.1zM473.6 369.7h8.1v1.0h-8.1zM498.0 369.7h8.1v1.0h-8.1zM522.3 369.7h8.1v1.0h-8.1zM84.0 370.7h8.1v1.0h-8.1zM108.4 370.7h8.1v1.0h-8.1zM205.8 370.7h8.1v1.0h-8.1zM254.5 370.7h8.1v1.0h-8.1zM278.8 370.7h16.2v1.0h-16.2zM327.5 370.7h16.2v1.0h-16.2zM351.9 370.7h8.1v1.0h-8.1zM376.2 370.7h16.2v1.0h-16.2zM522.3 370.7h8.1v1.0h-8.1zM67.8 371.7h8.1v1.0h-8.1zM84.0 371.7h16.2v1.0h-16.2zM108.4 371.7h8.1v1.0h-8.1zM157.1 371.7h8.1v1.0h-8.1zM213.9 371.7h16.2v1.0h-16.2zM246.4 371.7h8.1v1.0h-8.1zM278.8 371.7h8.1v1.0h-8.1zM343.8 371.7h8.1v1.0h-8.1zM384.4 371.7h16.2v1.0h-16.2zM408.7 371.7h8.1v1.0h-8.1zM433.1 371.7h8.1v1.0h-8.1zM489.9 371.7h8.1v1.0h-8.1zM522.3 371.7h8.1v1.0h-8.1zM538.6 371.7h8.1v1.0h-8.1zM181.4 372.7h8.1v1.0h-8.1zM303.2 372.7h8.1v1.0h-8.1zM360.0 372.7h8.1v1.0h-8.1zM489.9 372.7h8.1v1.0h-8.1zM644.1 372.7h8.1v1.0h-8.1zM84.0 373.7h8.1v1.0h-8.1zM108.4 373.7h16.2v1.0h-16.2zM149.0 373.7h16.2v1.0h-16.2zM181.4 373.7h8.1v1.0h-8.1zM262.6 373.7h8.1v1.0h-8.1zM295.1 373.7h8.1v1.0h-8.1zM457.4 373.7h8.1v1.0h-8.1zM489.9 373.7h8.1v1.0h-8.1zM522.3 373.7h16.2v1.0h-16.2zM644.1 373.7h8.1v1.0h-8.1zM92.2 374.7h8.1v1.0h-8.1zM189.6 374.7h16.2v1.0h-16.2zM230.1 374.7h8.1v1.0h-8.1zM254.5 374.7h8.1v1.0h-8.1zM286.9 374.7h8.1v1.0h-8.1zM319.4 374.7h8.1v1.0h-8.1zM360.0 374.7h8.1v1.0h-8.1zM449.3 374.7h8.1v1.0h-8.1zM538.6 374.7h8.1v1.0h-8.1zM108.4 375.7h8.1v1.0h-8.1zM140.9 375.7h8.1v1.0h-8.1zM197.7 375.7h24.4v1.0h-24.4zM270.7 375.7h8.1v1.0h-8.1zM295.1 375.7h8.1v1.0h-8.1zM327.5 375.7h8.1v1.0h-8.1zM392.5 375.7h16.2v1.0h-16.2zM433.1 375.7h8.1v1.0h-8.1zM449.3 375.7h8.1v1.0h-8.1zM116.5 376.7h8.1v1.0h-8.1zM132.7 376.7h8.1v1.0h-8.1zM149.0 376.7h16.2v1.0h-16.2zM189.6 376.7h8.1v1.0h-8.1zM222.0 376.7h16.2v1.0h-16.2zM270.7 376.7h16.2v1.0h-16.2zM384.4 376.7h16.2v1.0h-16.2zM424.9 376.7h8.1v1.0h-8.1zM530.5 376.7h8.1v1.0h-8.1zM100.3 377.7h16.2v1.0h-16.2zM140.9 377.7h8.1v1.0h-8.1zM230.1 377.7h16.2v1.0h-16.2zM270.7 377.7h8.1v1.0h-8.1zM286.9 377.7h8.1v1.0h-8.1zM343.8 377.7h8.1v1.0h-8.1zM400.6 377.7h8.1v1.0h-8.1zM433.1 377.7h8.1v1.0h-8.1zM473.6 377.7h8.1v1.0h-8.1zM506.1 377.7h8.1v1.0h-8.1zM522.3 377.7h8.1v1.0h-8.1zM75.9 378.7h16.2v1.0h-16.2zM116.5 378.7h8.1v1.0h-8.1zM157.1 378.7h8.1v1.0h-8.1zM181.4 378.7h8.1v1.0h-8.1zM197.7 378.7h16.2v1.0h-16.2zM222.0 378.7h8.1v1.0h-8.1zM319.4 378.7h8.1v1.0h-8.1zM368.1 378.7h8.1v1.0h-8.1zM465.5 378.7h8.1v1.0h-8.1zM644.1 378.7h8.1v1.0h-8.1zM100.3 379.7h8.1v1.0h-8.1zM124.6 379.7h8.1v1.0h-8.1zM149.0 379.7h8.1v1.0h-8.1zM213.9 379.7h8.1v1.0h-8.1zM238.2 379.7h8.1v1.0h-8.1zM351.9 379.7h8.1v1.0h-8.1zM392.5 379.7h8.1v1.0h-8.1zM498.0 379.7h16.2v1.0h-16.2zM522.3 379.7h8.1v1.0h-8.1zM140.9 380.7h8.1v1.0h-8.1zM173.3 380.7h8.1v1.0h-8.1zM197.7 380.7h8.1v1.0h-8.1zM303.2 380.7h8.1v1.0h-8.1zM351.9 380.7h8.1v1.0h-8.1zM384.4 380.7h16.2v1.0h-16.2zM433.1 380.7h8.1v1.0h-8.1zM465.5 380.7h8.1v1.0h-8.1zM522.3 380.7h8.1v1.0h-8.1zM84.0 381.7h24.4v1.0h-24.4zM116.5 381.7h8.1v1.0h-8.1zM173.3 381.7h8.1v1.0h-8.1zM189.6 381.7h16.2v1.0h-16.2zM222.0 381.7h16.2v1.0h-16.2zM319.4 381.7h8.1v1.0h-8.1zM384.4 381.7h16.2v1.0h-16.2zM424.9 381.7h16.2v1.0h-16.2zM506.1 381.7h8.1v1.0h-8.1zM132.7 382.7h16.2v1.0h-16.2zM197.7 382.7h8.1v1.0h-8.1zM222.0 382.7h16.2v1.0h-16.2zM465.5 382.7h8.1v1.0h-8.1zM498.0 382.7h16.2v1.0h-16.2zM530.5 382.7h16.2v1.0h-16.2zM92.2 383.7h16.2v1.0h-16.2zM149.0 383.7h8.1v1.0h-8.1zM189.6 383.7h8.1v1.0h-8.1zM222.0 383.7h8.1v1.0h-8.1zM295.1 383.7h8.1v1.0h-8.1zM311.3 383.7h16.2v1.0h-16.2zM408.7 383.7h16.2v1.0h-16.2zM465.5 383.7h8.1v1.0h-8.1zM92.2 384.7h8.1v1.0h-8.1zM181.4 384.7h16.2v1.0h-16.2zM222.0 384.7h8.1v1.0h-8.1zM278.8 384.7h8.1v1.0h-8.1zM360.0 384.7h8.1v1.0h-8.1zM384.4 384.7h24.4v1.0h-24.4zM465.5 384.7h8.1v1.0h-8.1zM644.1 384.7h8.1v1.0h-8.1zM92.2 385.7h16.2v1.0h-16.2zM181.4 385.7h8.1v1.0h-8.1zM222.0 385.7h8.1v1.0h-8.1zM238.2 385.7h16.2v1.0h-16.2zM319.4 385.7h8.1v1.0h-8.1zM351.9 385.7h8.1v1.0h-8.1zM465.5 385.7h8.1v1.0h-8.1zM538.6 385.7h8.1v1.0h-8.1zM644.1 385.7h8.1v1.0h-8.1zM67.8 386.7h8.1v1.0h-8.1zM100.3 386.7h8.1v1.0h-8.1zM140.9 386.7h8.1v1.0h-8.1zM189.6 386.7h8.1v1.0h-8.1zM222.0 386.7h8.1v1.0h-8.1zM270.7 386.7h8.1v1.0h-8.1zM319.4 386.7h24.4v1.0h-24.4zM392.5 386.7h16.2v1.0h-16.2zM424.9 386.7h16.2v1.0h-16.2zM449.3 386.7h8.1v1.0h-8.1zM506.1 386.7h8.1v1.0h-8.1zM84.0 387.7h8.1v1.0h-8.1zM157.1 387.7h8.1v1.0h-8.1zM222.0 387.7h8.1v1.0h-8.1zM238.2 387.7h8.1v1.0h-8.1zM343.8 387.7h24.4v1.0h-24.4zM376.2 387.7h8.1v1.0h-8.1zM400.6 387.7h40.6v1.0h-40.6zM124.6 388.7h8.1v1.0h-8.1zM140.9 388.7h8.1v1.0h-8.1zM181.4 388.7h8.1v1.0h-8.1zM213.9 388.7h8.1v1.0h-8.1zM278.8 388.7h8.1v1.0h-8.1zM424.9 388.7h8.1v1.0h-8.1zM441.2 388.7h16.2v1.0h-16.2zM481.8 388.7h8.1v1.0h-8.1zM514.2 388.7h8.1v1.0h-8.1zM84.0 389.7h8.1v1.0h-8.1zM100.3 389.7h8.1v1.0h-8.1zM165.2 389.7h8.1v1.0h-8.1zM230.1 389.7h8.1v1.0h-8.1zM254.5 389.7h16.2v1.0h-16.2zM360.0 389.7h16.2v1.0h-16.2zM433.1 389.7h8.1v1.0h-8.1zM457.4 389.7h8.1v1.0h-8.1zM498.0 389.7h8.1v1.0h-8.1zM92.2 390.7h8.1v1.0h-8.1zM149.0 390.7h8.1v1.0h-8.1zM197.7 390.7h8.1v1.0h-8.1zM222.0 390.7h8.1v1.0h-8.1zM238.2 390.7h8.1v1.0h-8.1zM351.9 390.7h8.1v1.0h-8.1zM416.8 390.7h16.2v1.0h-16.2zM449.3 390.7h8.1v1.0h-8.1zM506.1 390.7h8.1v1.0h-8.1zM644.1 390.7h8.1v1.0h-8.1zM67.8 391.7h8.1v1.0h-8.1zM149.0 391.7h16.2v1.0h-16.2zM238.2 391.7h8.1v1.0h-8.1zM254.5 391.7h8.1v1.0h-8.1zM278.8 391.7h8.1v1.0h-8.1zM360.0 391.7h16.2v1.0h-16.2zM424.9 391.7h16.2v1.0h-16.2zM457.4 391.7h8.1v1.0h-8.1zM92.2 392.7h8.1v1.0h-8.1zM116.5 392.7h8.1v1.0h-8.1zM197.7 392.7h8.1v1.0h-8.1zM213.9 392.7h24.4v1.0h-24.4zM246.4 392.7h8.1v1.0h-8.1zM278.8 392.7h8.1v1.0h-8.1zM384.4 392.7h8.1v1.0h-8.1zM416.8 392.7h8.1v1.0h-8.1zM449.3 392.7h8.1v1.0h-8.1zM522.3 392.7h8.1v1.0h-8.1zM100.3 393.7h16.2v1.0h-16.2zM140.9 393.7h8.1v1.0h-8.1zM173.3 393.7h8.1v1.0h-8.1zM238.2 393.7h8.1v1.0h-8.1zM286.9 393.7h16.2v1.0h-16.2zM368.1 393.7h8.1v1.0h-8.1zM392.5 393.7h8.1v1.0h-8.1zM433.1 393.7h8.1v1.0h-8.1zM173.3 394.7h8.1v1.0h-8.1zM222.0 394.7h8.1v1.0h-8.1zM254.5 394.7h8.1v1.0h-8.1zM295.1 394.7h8.1v1.0h-8.1zM343.8 394.7h8.1v1.0h-8.1zM368.1 394.7h8.1v1.0h-8.1zM424.9 394.7h8.1v1.0h-8.1zM465.5 394.7h8.1v1.0h-8.1zM489.9 394.7h8.1v1.0h-8.1zM522.3 394.7h8.1v1.0h-8.1zM84.0 395.7h8.1v1.0h-8.1zM213.9 395.7h16.2v1.0h-16.2zM286.9 395.7h8.1v1.0h-8.1zM327.5 395.7h8.1v1.0h-8.1zM343.8 395.7h8.1v1.0h-8.1zM384.4 395.7h8.1v1.0h-8.1zM424.9 395.7h16.2v1.0h-16.2zM449.3 395.7h16.2v1.0h-16.2zM489.9 395.7h8.1v1.0h-8.1zM506.1 395.7h16.2v1.0h-16.2zM84.0 396.7h8.1v1.0h-8.1zM100.3 396.7h8.1v1.0h-8.1zM270.7 396.7h8.1v1.0h-8.1zM319.4 396.7h16.2v1.0h-16.2zM360.0 396.7h8.1v1.0h-8.1zM506.1 396.7h8.1v1.0h-8.1zM84.0 397.7h8.1v1.0h-8.1zM100.3 397.7h8.1v1.0h-8.1zM140.9 397.7h8.1v1.0h-8.1zM157.1 397.7h8.1v1.0h-8.1zM222.0 397.7h8.1v1.0h-8.1zM238.2 397.7h8.1v1.0h-8.1zM286.9 397.7h8.1v1.0h-8.1zM327.5 397.7h8.1v1.0h-8.1zM376.2 397.7h8.1v1.0h-8.1zM392.5 397.7h8.1v1.0h-8.1zM481.8 397.7h8.1v1.0h-8.1zM498.0 397.7h16.2v1.0h-16.2zM530.5 397.7h8.1v1.0h-8.1zM165.2 398.7h8.1v1.0h-8.1zM197.7 398.7h8.1v1.0h-8.1zM222.0 398.7h8.1v1.0h-8.1zM327.5 398.7h8.1v1.0h-8.1zM384.4 398.7h8.1v1.0h-8.1zM400.6 398.7h8.1v1.0h-8.1zM506.1 398.7h8.1v1.0h-8.1zM116.5 399.7h8.1v1.0h-8.1zM165.2 399.7h8.1v1.0h-8.1zM189.6 399.7h8.1v1.0h-8.1zM222.0 399.7h16.2v1.0h-16.2zM246.4 399.7h8.1v1.0h-8.1zM262.6 399.7h8.1v1.0h-8.1zM278.8 399.7h8.1v1.0h-8.1zM400.6 399.7h8.1v1.0h-8.1zM449.3 399.7h8.1v1.0h-8.1zM506.1 399.7h8.1v1.0h-8.1zM538.6 399.7h8.1v1.0h-8.1zM108.4 400.7h24.4v1.0h-24.4zM173.3 400.7h24.4v1.0h-24.4zM205.8 400.7h8.1v1.0h-8.1zM246.4 400.7h8.1v1.0h-8.1zM360.0 400.7h8.1v1.0h-8.1zM392.5 400.7h16.2v1.0h-16.2zM473.6 400.7h8.1v1.0h-8.1zM514.2 400.7h8.1v1.0h-8.1zM644.1 400.7h8.1v1.0h-8.1zM67.8 401.7h16.2v1.0h-16.2zM108.4 401.7h8.1v1.0h-8.1zM124.6 401.7h8.1v1.0h-8.1zM189.6 401.7h16.2v1.0h-16.2zM278.8 401.7h8.1v1.0h-8.1zM311.3 401.7h8.1v1.0h-8.1zM124.6 402.7h8.1v1.0h-8.1zM173.3 402.7h8.1v1.0h-8.1zM197.7 402.7h8.1v1.0h-8.1zM222.0 402.7h16.2v1.0h-16.2zM278.8 402.7h16.2v1.0h-16.2zM400.6 402.7h8.1v1.0h-8.1zM416.8 402.7h8.1v1.0h-8.1zM489.9 402.7h16.2v1.0h-16.2zM514.2 402.7h8.1v1.0h-8.1zM124.6 403.7h8.1v1.0h-8.1zM165.2 403.7h8.1v1.0h-8.1zM189.6 403.7h8.1v1.0h-8.1zM213.9 403.7h16.2v1.0h-16.2zM254.5 403.7h8.1v1.0h-8.1zM270.7 403.7h8.1v1.0h-8.1zM343.8 403.7h8.1v1.0h-8.1zM392.5 403.7h8.1v1.0h-8.1zM489.9 403.7h8.1v1.0h-8.1zM522.3 403.7h16.2v1.0h-16.2zM644.1 403.7h8.1v1.0h-8.1zM100.3 404.7h8.1v1.0h-8.1zM116.5 404.7h8.1v1.0h-8.1zM149.0 404.7h8.1v1.0h-8.1zM181.4 404.7h8.1v1.0h-8.1zM205.8 404.7h8.1v1.0h-8.1zM254.5 404.7h8.1v1.0h-8.1zM270.7 404.7h32.5v1.0h-32.5zM335.7 404.7h8.1v1.0h-8.1zM400.6 404.7h8.1v1.0h-8.1zM433.1 404.7h8.1v1.0h-8.1zM498.0 404.7h8.1v1.0h-8.1zM644.1 404.7h8.1v1.0h-8.1zM181.4 405.7h8.1v1.0h-8.1zM213.9 405.7h8.1v1.0h-8.1zM286.9 405.7h8.1v1.0h-8.1zM327.5 405.7h8.1v1.0h-8.1zM343.8 405.7h8.1v1.0h-8.1zM433.1 405.7h8.1v1.0h-8.1zM449.3 405.7h8.1v1.0h-8.1zM498.0 405.7h8.1v1.0h-8.1zM67.8 406.7h16.2v1.0h-16.2zM92.2 406.7h16.2v1.0h-16.2zM149.0 406.7h8.1v1.0h-8.1zM165.2 406.7h8.1v1.0h-8.1zM222.0 406.7h8.1v1.0h-8.1zM262.6 406.7h16.2v1.0h-16.2zM286.9 406.7h8.1v1.0h-8.1zM303.2 406.7h8.1v1.0h-8.1zM343.8 406.7h8.1v1.0h-8.1zM392.5 406.7h8.1v1.0h-8.1zM408.7 406.7h8.1v1.0h-8.1zM522.3 406.7h8.1v1.0h-8.1zM84.0 407.7h24.4v1.0h-24.4zM124.6 407.7h8.1v1.0h-8.1zM149.0 407.7h24.4v1.0h-24.4zM181.4 407.7h8.1v1.0h-8.1zM238.2 407.7h8.1v1.0h-8.1zM262.6 407.7h8.1v1.0h-8.1zM392.5 407.7h8.1v1.0h-8.1zM457.4 407.7h8.1v1.0h-8.1zM481.8 407.7h8.1v1.0h-8.1zM546.7 407.7h8.1v1.0h-8.1zM595.4 407.7h16.2v1.0h-16.2zM619.7 407.7h16.2v1.0h-16.2zM92.2 408.7h8.1v1.0h-8.1zM124.6 408.7h8.1v1.0h-8.1zM157.1 408.7h16.2v1.0h-16.2zM189.6 408.7h8.1v1.0h-8.1zM246.4 408.7h16.2v1.0h-16.2zM270.7 408.7h8.1v1.0h-8.1zM295.1 408.7h8.1v1.0h-8.1zM319.4 408.7h8.1v1.0h-8.1zM351.9 408.7h16.2v1.0h-16.2zM416.8 408.7h16.2v1.0h-16.2zM449.3 408.7h8.1v1.0h-8.1zM481.8 408.7h8.1v1.0h-8.1zM498.0 408.7h8.1v1.0h-8.1zM530.5 408.7h8.1v1.0h-8.1zM546.7 408.7h8.1v1.0h-8.1zM571.0 408.7h8.1v1.0h-8.1zM611.6 408.7h16.2v1.0h-16.2zM100.3 409.7h8.1v1.0h-8.1zM205.8 409.7h8.1v1.0h-8.1zM238.2 409.7h8.1v1.0h-8.1zM360.0 409.7h8.1v1.0h-8.1zM376.2 409.7h8.1v1.0h-8.1zM433.1 409.7h8.1v1.0h-8.1zM514.2 409.7h8.1v1.0h-8.1zM530.5 409.7h8.1v1.0h-8.1zM579.1 409.7h8.1v1.0h-8.1zM595.4 409.7h8.1v1.0h-8.1zM644.1 409.7h8.1v1.0h-8.1zM100.3 410.7h8.1v1.0h-8.1zM116.5 410.7h8.1v1.0h-8.1zM165.2 410.7h16.2v1.0h-16.2zM197.7 410.7h8.1v1.0h-8.1zM238.2 410.7h8.1v1.0h-8.1zM303.2 410.7h8.1v1.0h-8.1zM319.4 410.7h16.2v1.0h-16.2zM449.3 410.7h8.1v1.0h-8.1zM481.8 410.7h16.2v1.0h-16.2zM522.3 410.7h8.1v1.0h-8.1zM587.3 410.7h8.1v1.0h-8.1zM619.7 410.7h8.1v1.0h-8.1zM67.8 411.7h8.1v1.0h-8.1zM108.4 411.7h8.1v1.0h-8.1zM165.2 411.7h8.1v1.0h-8.1zM238.2 411.7h16.2v1.0h-16.2zM262.6 411.7h16.2v1.0h-16.2zM327.5 411.7h8.1v1.0h-8.1zM416.8 411.7h8.1v1.0h-8.1zM433.1 411.7h8.1v1.0h-8.1zM530.5 411.7h16.2v1.0h-16.2zM619.7 411.7h8.1v1.0h-8.1zM636.0 411.7h16.2v1.0h-16.2zM92.2 412.7h16.2v1.0h-16.2zM149.0 412.7h8.1v1.0h-8.1zM181.4 412.7h8.1v1.0h-8.1zM230.1 412.7h16.2v1.0h-16.2zM416.8 412.7h16.2v1.0h-16.2zM498.0 412.7h8.1v1.0h-8.1zM530.5 412.7h16.2v1.0h-16.2zM554.8 412.7h8.1v1.0h-8.1zM587.3 412.7h8.1v1.0h-8.1zM611.6 412.7h8.1v1.0h-8.1zM636.0 412.7h16.2v1.0h-16.2zM92.2 413.7h16.2v1.0h-16.2zM132.7 413.7h8.1v1.0h-8.1zM157.1 413.7h8.1v1.0h-8.1zM197.7 413.7h8.1v1.0h-8.1zM222.0 413.7h8.1v1.0h-8.1zM246.4 413.7h8.1v1.0h-8.1zM351.9 413.7h8.1v1.0h-8.1zM400.6 413.7h8.1v1.0h-8.1zM416.8 413.7h16.2v1.0h-16.2zM449.3 413.7h8.1v1.0h-8.1zM514.2 413.7h8.1v1.0h-8.1zM571.0 413.7h8.1v1.0h-8.1zM587.3 413.7h8.1v1.0h-8.1zM611.6 413.7h8.1v1.0h-8.1zM636.0 413.7h8.1v1.0h-8.1zM75.9 414.7h8.1v1.0h-8.1zM92.2 414.7h8.1v1.0h-8.1zM116.5 414.7h8.1v1.0h-8.1zM149.0 414.7h8.1v1.0h-8.1zM165.2 414.7h8.1v1.0h-8.1zM189.6 414.7h8.1v1.0h-8.1zM254.5 414.7h8.1v1.0h-8.1zM270.7 414.7h8.1v1.0h-8.1zM343.8 414.7h8.1v1.0h-8.1zM457.4 414.7h8.1v1.0h-8.1zM473.6 414.7h8.1v1.0h-8.1zM489.9 414.7h32.5v1.0h-32.5zM546.7 414.7h8.1v1.0h-8.1zM571.0 414.7h16.2v1.0h-16.2zM124.6 415.7h16.2v1.0h-16.2zM165.2 415.7h16.2v1.0h-16.2zM189.6 415.7h16.2v1.0h-16.2zM262.6 415.7h16.2v1.0h-16.2zM286.9 415.7h16.2v1.0h-16.2zM351.9 415.7h8.1v1.0h-8.1zM392.5 415.7h8.1v1.0h-8.1zM433.1 415.7h8.1v1.0h-8.1zM449.3 415.7h8.1v1.0h-8.1zM481.8 415.7h8.1v1.0h-8.1zM498.0 415.7h8.1v1.0h-8.1zM522.3 415.7h8.1v1.0h-8.1zM538.6 415.7h8.1v1.0h-8.1zM554.8 415.7h8.1v1.0h-8.1zM579.1 415.7h8.1v1.0h-8.1zM595.4 415.7h8.1v1.0h-8.1zM627.9 415.7h8.1v1.0h-8.1zM108.4 416.7h16.2v1.0h-16.2zM181.4 416.7h8.1v1.0h-8.1zM197.7 416.7h8.1v1.0h-8.1zM222.0 416.7h8.1v1.0h-8.1zM246.4 416.7h8.1v1.0h-8.1zM327.5 416.7h24.4v1.0h-24.4zM498.0 416.7h8.1v1.0h-8.1zM538.6 416.7h8.1v1.0h-8.1zM571.0 416.7h8.1v1.0h-8.1zM627.9 416.7h8.1v1.0h-8.1zM67.8 417.7h24.4v1.0h-24.4zM368.1 417.7h8.1v1.0h-8.1zM416.8 417.7h8.1v1.0h-8.1zM433.1 417.7h8.1v1.0h-8.1zM457.4 417.7h8.1v1.0h-8.1zM498.0 417.7h8.1v1.0h-8.1zM530.5 417.7h8.1v1.0h-8.1zM595.4 417.7h8.1v1.0h-8.1zM611.6 417.7h8.1v1.0h-8.1zM636.0 417.7h8.1v1.0h-8.1zM205.8 418.7h8.1v1.0h-8.1zM230.1 418.7h8.1v1.0h-8.1zM278.8 418.7h8.1v1.0h-8.1zM319.4 418.7h8.1v1.0h-8.1zM343.8 418.7h16.2v1.0h-16.2zM424.9 418.7h24.4v1.0h-24.4zM465.5 418.7h8.1v1.0h-8.1zM514.2 418.7h8.1v1.0h-8.1zM538.6 418.7h8.1v1.0h-8.1zM571.0 418.7h8.1v1.0h-8.1zM67.8 419.7h8.1v1.0h-8.1zM124.6 419.7h8.1v1.0h-8.1zM149.0 419.7h8.1v1.0h-8.1zM181.4 419.7h16.2v1.0h-16.2zM213.9 419.7h8.1v1.0h-8.1zM278.8 419.7h8.1v1.0h-8.1zM392.5 419.7h8.1v1.0h-8.1zM408.7 419.7h8.1v1.0h-8.1zM449.3 419.7h8.1v1.0h-8.1zM522.3 419.7h8.1v1.0h-8.1zM603.5 419.7h16.2v1.0h-16.2zM636.0 419.7h8.1v1.0h-8.1zM132.7 420.7h8.1v1.0h-8.1zM165.2 420.7h8.1v1.0h-8.1zM181.4 420.7h32.5v1.0h-32.5zM246.4 420.7h8.1v1.0h-8.1zM278.8 420.7h8.1v1.0h-8.1zM295.1 420.7h16.2v1.0h-16.2zM319.4 420.7h8.1v1.0h-8.1zM360.0 420.7h16.2v1.0h-16.2zM473.6 420.7h24.4v1.0h-24.4zM506.1 420.7h8.1v1.0h-8.1zM611.6 420.7h8.1v1.0h-8.1zM75.9 421.7h8.1v1.0h-8.1zM124.6 421.7h8.1v1.0h-8.1zM157.1 421.7h8.1v1.0h-8.1zM222.0 421.7h8.1v1.0h-8.1zM278.8 421.7h8.1v1.0h-8.1zM295.1 421.7h8.1v1.0h-8.1zM384.4 421.7h8.1v1.0h-8.1zM408.7 421.7h8.1v1.0h-8.1zM424.9 421.7h8.1v1.0h-8.1zM441.2 421.7h8.1v1.0h-8.1zM457.4 421.7h8.1v1.0h-8.1zM473.6 421.7h8.1v1.0h-8.1zM522.3 421.7h8.1v1.0h-8.1zM587.3 421.7h8.1v1.0h-8.1zM636.0 421.7h8.1v1.0h-8.1zM92.2 422.7h8.1v1.0h-8.1zM124.6 422.7h16.2v1.0h-16.2zM165.2 422.7h16.2v1.0h-16.2zM189.6 422.7h16.2v1.0h-16.2zM286.9 422.7h16.2v1.0h-16.2zM351.9 422.7h24.4v1.0h-24.4zM433.1 422.7h8.1v1.0h-8.1zM506.1 422.7h8.1v1.0h-8.1zM571.0 422.7h16.2v1.0h-16.2zM100.3 423.7h8.1v1.0h-8.1zM165.2 423.7h8.1v1.0h-8.1zM189.6 423.7h8.1v1.0h-8.1zM205.8 423.7h8.1v1.0h-8.1zM376.2 423.7h16.2v1.0h-16.2zM416.8 423.7h8.1v1.0h-8.1zM498.0 423.7h8.1v1.0h-8.1zM546.7 423.7h16.2v1.0h-16.2zM579.1 423.7h8.1v1.0h-8.1zM611.6 423.7h8.1v1.0h-8.1zM636.0 423.7h8.1v1.0h-8.1zM75.9 424.7h24.4v1.0h-24.4zM108.4 424.7h16.2v1.0h-16.2zM189.6 424.7h8.1v1.0h-8.1zM230.1 424.7h8.1v1.0h-8.1zM246.4 424.7h16.2v1.0h-16.2zM270.7 424.7h16.2v1.0h-16.2zM303.2 424.7h8.1v1.0h-8.1zM360.0 424.7h16.2v1.0h-16.2zM392.5 424.7h32.5v1.0h-32.5zM473.6 424.7h8.1v1.0h-8.1zM498.0 424.7h8.1v1.0h-8.1zM522.3 424.7h8.1v1.0h-8.1zM579.1 424.7h8.1v1.0h-8.1zM619.7 424.7h8.1v1.0h-8.1zM84.0 425.7h8.1v1.0h-8.1zM100.3 425.7h8.1v1.0h-8.1zM124.6 425.7h16.2v1.0h-16.2zM149.0 425.7h16.2v1.0h-16.2zM181.4 425.7h8.1v1.0h-8.1zM246.4 425.7h8.1v1.0h-8.1zM278.8 425.7h8.1v1.0h-8.1zM424.9 425.7h8.1v1.0h-8.1zM457.4 425.7h16.2v1.0h-16.2zM489.9 425.7h8.1v1.0h-8.1zM522.3 425.7h16.2v1.0h-16.2zM554.8 425.7h8.1v1.0h-8.1zM571.0 425.7h8.1v1.0h-8.1zM587.3 425.7h8.1v1.0h-8.1zM603.5 425.7h8.1v1.0h-8.1zM619.7 425.7h8.1v1.0h-8.1zM75.9 426.7h16.2v1.0h-16.2zM132.7 426.7h16.2v1.0h-16.2zM157.1 426.7h8.1v1.0h-8.1zM173.3 426.7h8.1v1.0h-8.1zM230.1 426.7h8.1v1.0h-8.1zM351.9 426.7h16.2v1.0h-16.2zM416.8 426.7h8.1v1.0h-8.1zM433.1 426.7h16.2v1.0h-16.2zM457.4 426.7h8.1v1.0h-8.1zM546.7 426.7h8.1v1.0h-8.1zM587.3 426.7h16.2v1.0h-16.2zM611.6 426.7h8.1v1.0h-8.1zM627.9 426.7h16.2v1.0h-16.2zM124.6 427.7h8.1v1.0h-8.1zM173.3 427.7h8.1v1.0h-8.1zM246.4 427.7h8.1v1.0h-8.1zM270.7 427.7h16.2v1.0h-16.2zM327.5 427.7h8.1v1.0h-8.1zM360.0 427.7h8.1v1.0h-8.1zM416.8 427.7h8.1v1.0h-8.1zM433.1 427.7h16.2v1.0h-16.2zM457.4 427.7h8.1v1.0h-8.1zM571.0 427.7h8.1v1.0h-8.1zM619.7 427.7h16.2v1.0h-16.2zM644.1 427.7h8.1v1.0h-8.1zM108.4 428.7h16.2v1.0h-16.2zM132.7 428.7h16.2v1.0h-16.2zM197.7 428.7h8.1v1.0h-8.1zM246.4 428.7h8.1v1.0h-8.1zM262.6 428.7h8.1v1.0h-8.1zM416.8 428.7h16.2v1.0h-16.2zM465.5 428.7h8.1v1.0h-8.1zM481.8 428.7h16.2v1.0h-16.2zM619.7 428.7h16.2v1.0h-16.2zM644.1 428.7h8.1v1.0h-8.1zM92.2 429.7h8.1v1.0h-8.1zM189.6 429.7h16.2v1.0h-16.2zM303.2 429.7h8.1v1.0h-8.1zM319.4 429.7h8.1v1.0h-8.1zM400.6 429.7h8.1v1.0h-8.1zM424.9 429.7h8.1v1.0h-8.1zM481.8 429.7h16.2v1.0h-16.2zM522.3 429.7h24.4v1.0h-24.4zM603.5 429.7h8.1v1.0h-8.1zM619.7 429.7h8.1v1.0h-8.1zM92.2 430.7h8.1v1.0h-8.1zM132.7 430.7h8.1v1.0h-8.1zM149.0 430.7h8.1v1.0h-8.1zM238.2 430.7h8.1v1.0h-8.1zM376.2 430.7h8.1v1.0h-8.1zM392.5 430.7h8.1v1.0h-8.1zM408.7 430.7h8.1v1.0h-8.1zM457.4 430.7h8.1v1.0h-8.1zM506.1 430.7h8.1v1.0h-8.1zM522.3 430.7h8.1v1.0h-8.1zM603.5 430.7h8.1v1.0h-8.1zM636.0 430.7h8.1v1.0h-8.1zM100.3 431.7h8.1v1.0h-8.1zM124.6 431.7h8.1v1.0h-8.1zM149.0 431.7h8.1v1.0h-8.1zM278.8 431.7h8.1v1.0h-8.1zM295.1 431.7h8.1v1.0h-8.1zM327.5 431.7h8.1v1.0h-8.1zM368.1 431.7h8.1v1.0h-8.1zM392.5 431.7h16.2v1.0h-16.2zM514.2 431.7h8.1v1.0h-8.1zM587.3 431.7h16.2v1.0h-16.2zM611.6 431.7h8.1v1.0h-8.1zM636.0 431.7h8.1v1.0h-8.1zM92.2 432.7h8.1v1.0h-8.1zM149.0 432.7h8.1v1.0h-8.1zM238.2 432.7h8.1v1.0h-8.1zM270.7 432.7h8.1v1.0h-8.1zM327.5 432.7h8.1v1.0h-8.1zM360.0 432.7h24.4v1.0h-24.4zM400.6 432.7h8.1v1.0h-8.1zM433.1 432.7h8.1v1.0h-8.1zM514.2 432.7h8.1v1.0h-8.1zM538.6 432.7h8.1v1.0h-8.1zM579.1 432.7h32.5v1.0h-32.5zM636.0 432.7h8.1v1.0h-8.1zM124.6 433.7h8.1v1.0h-8.1zM140.9 433.7h8.1v1.0h-8.1zM230.1 433.7h8.1v1.0h-8.1zM262.6 433.7h8.1v1.0h-8.1zM278.8 433.7h8.1v1.0h-8.1zM343.8 433.7h8.1v1.0h-8.1zM360.0 433.7h8.1v1.0h-8.1zM400.6 433.7h8.1v1.0h-8.1zM416.8 433.7h16.2v1.0h-16.2zM465.5 433.7h8.1v1.0h-8.1zM522.3 433.7h8.1v1.0h-8.1zM546.7 433.7h8.1v1.0h-8.1zM587.3 433.7h8.1v1.0h-8.1zM619.7 433.7h8.1v1.0h-8.1zM75.9 434.7h8.1v1.0h-8.1zM92.2 434.7h8.1v1.0h-8.1zM108.4 434.7h8.1v1.0h-8.1zM124.6 434.7h8.1v1.0h-8.1zM173.3 434.7h8.1v1.0h-8.1zM213.9 434.7h8.1v1.0h-8.1zM270.7 434.7h8.1v1.0h-8.1zM295.1 434.7h16.2v1.0h-16.2zM392.5 434.7h8.1v1.0h-8.1zM416.8 434.7h8.1v1.0h-8.1zM627.9 434.7h8.1v1.0h-8.1zM116.5 435.7h8.1v1.0h-8.1zM238.2 435.7h8.1v1.0h-8.1zM303.2 435.7h8.1v1.0h-8.1zM335.7 435.7h8.1v1.0h-8.1zM368.1 435.7h8.1v1.0h-8.1zM400.6 435.7h8.1v1.0h-8.1zM433.1 435.7h8.1v1.0h-8.1zM481.8 435.7h8.1v1.0h-8.1zM522.3 435.7h8.1v1.0h-8.1zM619.7 435.7h16.2v1.0h-16.2zM75.9 436.7h8.1v1.0h-8.1zM116.5 436.7h8.1v1.0h-8.1zM189.6 436.7h24.4v1.0h-24.4zM222.0 436.7h8.1v1.0h-8.1zM311.3 436.7h24.4v1.0h-24.4zM343.8 436.7h8.1v1.0h-8.1zM424.9 436.7h8.1v1.0h-8.1zM441.2 436.7h8.1v1.0h-8.1zM465.5 436.7h8.1v1.0h-8.1zM571.0 436.7h8.1v1.0h-8.1zM619.7 436.7h8.1v1.0h-8.1zM636.0 436.7h8.1v1.0h-8.1zM124.6 437.7h16.2v1.0h-16.2zM254.5 437.7h8.1v1.0h-8.1zM319.4 437.7h8.1v1.0h-8.1zM351.9 437.7h8.1v1.0h-8.1zM433.1 437.7h8.1v1.0h-8.1zM498.0 437.7h8.1v1.0h-8.1zM538.6 437.7h8.1v1.0h-8.1zM562.9 437.7h8.1v1.0h-8.1zM644.1 437.7h8.1v1.0h-8.1zM67.8 438.7h8.1v1.0h-8.1zM92.2 438.7h16.2v1.0h-16.2zM157.1 438.7h8.1v1.0h-8.1zM181.4 438.7h8.1v1.0h-8.1zM222.0 438.7h8.1v1.0h-8.1zM303.2 438.7h8.1v1.0h-8.1zM351.9 438.7h8.1v1.0h-8.1zM376.2 438.7h8.1v1.0h-8.1zM416.8 438.7h16.2v1.0h-16.2zM441.2 438.7h8.1v1.0h-8.1zM481.8 438.7h64.9v1.0h-64.9zM571.0 438.7h8.1v1.0h-8.1zM595.4 438.7h8.1v1.0h-8.1zM619.7 438.7h8.1v1.0h-8.1zM636.0 438.7h8.1v1.0h-8.1zM157.1 439.7h8.1v1.0h-8.1zM197.7 439.7h8.1v1.0h-8.1zM246.4 439.7h8.1v1.0h-8.1zM286.9 439.7h16.2v1.0h-16.2zM319.4 439.7h8.1v1.0h-8.1zM441.2 439.7h8.1v1.0h-8.1zM481.8 439.7h8.1v1.0h-8.1zM530.5 439.7h16.2v1.0h-16.2zM579.1 439.7h16.2v1.0h-16.2zM84.0 440.7h16.2v1.0h-16.2zM108.4 440.7h8.1v1.0h-8.1zM132.7 440.7h8.1v1.0h-8.1zM157.1 440.7h8.1v1.0h-8.1zM173.3 440.7h16.2v1.0h-16.2zM205.8 440.7h8.1v1.0h-8.1zM278.8 440.7h8.1v1.0h-8.1zM376.2 440.7h8.1v1.0h-8.1zM424.9 440.7h8.1v1.0h-8.1zM441.2 440.7h8.1v1.0h-8.1zM514.2 440.7h16.2v1.0h-16.2zM562.9 440.7h16.2v1.0h-16.2zM611.6 440.7h8.1v1.0h-8.1zM84.0 441.7h8.1v1.0h-8.1zM100.3 441.7h8.1v1.0h-8.1zM132.7 441.7h16.2v1.0h-16.2zM173.3 441.7h8.1v1.0h-8.1zM189.6 441.7h16.2v1.0h-16.2zM222.0 441.7h8.1v1.0h-8.1zM295.1 441.7h8.1v1.0h-8.1zM319.4 441.7h8.1v1.0h-8.1zM408.7 441.7h8.1v1.0h-8.1zM465.5 441.7h8.1v1.0h-8.1zM481.8 441.7h8.1v1.0h-8.1zM506.1 441.7h8.1v1.0h-8.1zM546.7 441.7h16.2v1.0h-16.2zM579.1 441.7h8.1v1.0h-8.1zM636.0 441.7h8.1v1.0h-8.1zM149.0 442.7h8.1v1.0h-8.1zM189.6 442.7h8.1v1.0h-8.1zM230.1 442.7h8.1v1.0h-8.1zM254.5 442.7h8.1v1.0h-8.1zM295.1 442.7h8.1v1.0h-8.1zM335.7 442.7h8.1v1.0h-8.1zM368.1 442.7h8.1v1.0h-8.1zM416.8 442.7h8.1v1.0h-8.1zM433.1 442.7h8.1v1.0h-8.1zM498.0 442.7h16.2v1.0h-16.2zM522.3 442.7h8.1v1.0h-8.1zM546.7 442.7h24.4v1.0h-24.4zM587.3 442.7h8.1v1.0h-8.1zM627.9 442.7h16.2v1.0h-16.2zM246.4 443.7h8.1v1.0h-8.1zM408.7 443.7h8.1v1.0h-8.1zM424.9 443.7h8.1v1.0h-8.1zM441.2 443.7h8.1v1.0h-8.1zM530.5 443.7h8.1v1.0h-8.1zM587.3 443.7h8.1v1.0h-8.1zM603.5 443.7h8.1v1.0h-8.1zM619.7 443.7h8.1v1.0h-8.1z"/><path fill="#ffffff" fill-opacity="0.056" d="M100.3 256.7h8.1v1.0h-8.1zM116.5 256.7h8.1v1.0h-8.1zM327.5 256.7h8.1v1.0h-8.1zM400.6 256.7h8.1v1.0h-8.1zM465.5 256.7h8.1v1.0h-8.1zM562.9 256.7h8.1v1.0h-8.1zM75.9 257.7h8.1v1.0h-8.1zM100.3 257.7h8.1v1.0h-8.1zM165.2 257.7h8.1v1.0h-8.1zM181.4 257.7h8.1v1.0h-8.1zM205.8 257.7h8.1v1.0h-8.1zM222.0 257.7h8.1v1.0h-8.1zM246.4 257.7h8.1v1.0h-8.1zM278.8 257.7h16.2v1.0h-16.2zM311.3 257.7h24.4v1.0h-24.4zM384.4 257.7h8.1v1.0h-8.1zM473.6 257.7h8.1v1.0h-8.1zM140.9 258.7h8.1v1.0h-8.1zM157.1 258.7h8.1v1.0h-8.1zM189.6 258.7h8.1v1.0h-8.1zM254.5 258.7h16.2v1.0h-16.2zM278.8 258.7h8.1v1.0h-8.1zM327.5 258.7h8.1v1.0h-8.1zM384.4 258.7h8.1v1.0h-8.1zM424.9 258.7h8.1v1.0h-8.1zM562.9 258.7h8.1v1.0h-8.1zM611.6 258.7h8.1v1.0h-8.1zM627.9 258.7h8.1v1.0h-8.1zM157.1 259.7h16.2v1.0h-16.2zM254.5 259.7h8.1v1.0h-8.1zM351.9 259.7h8.1v1.0h-8.1zM481.8 259.7h8.1v1.0h-8.1zM619.7 259.7h8.1v1.0h-8.1zM67.8 260.7h16.2v1.0h-16.2zM157.1 260.7h8.1v1.0h-8.1zM238.2 260.7h8.1v1.0h-8.1zM433.1 260.7h8.1v1.0h-8.1zM449.3 260.7h8.1v1.0h-8.1zM465.5 260.7h16.2v1.0h-16.2zM587.3 260.7h8.1v1.0h-8.1zM636.0 260.7h8.1v1.0h-8.1zM100.3 261.7h8.1v1.0h-8.1zM181.4 261.7h8.1v1.0h-8.1zM254.5 261.7h8.1v1.0h-8.1zM270.7 261.7h8.1v1.0h-8.1zM311.3 261.7h8.1v1.0h-8.1zM473.6 261.7h8.1v1.0h-8.1zM636.0 261.7h8.1v1.0h-8.1zM181.4 262.7h8.1v1.0h-8.1zM213.9 262.7h16.2v1.0h-16.2zM278.8 262.7h8.1v1.0h-8.1zM376.2 262.7h16.2v1.0h-16.2zM465.5 262.7h8.1v1.0h-8.1zM562.9 262.7h8.1v1.0h-8.1zM75.9 263.7h8.1v1.0h-8.1zM181.4 263.7h8.1v1.0h-8.1zM254.5 263.7h8.1v1.0h-8.1zM278.8 263.7h8.1v1.0h-8.1zM319.4 263.7h16.2v1.0h-16.2zM384.4 263.7h8.1v1.0h-8.1zM424.9 263.7h8.1v1.0h-8.1zM222.0 264.7h8.1v1.0h-8.1zM262.6 264.7h8.1v1.0h-8.1zM335.7 264.7h8.1v1.0h-8.1zM384.4 264.7h8.1v1.0h-8.1zM424.9 264.7h8.1v1.0h-8.1zM554.8 264.7h8.1v1.0h-8.1zM611.6 264.7h8.1v1.0h-8.1zM116.5 265.7h8.1v1.0h-8.1zM157.1 265.7h8.1v1.0h-8.1zM173.3 265.7h8.1v1.0h-8.1zM189.6 265.7h8.1v1.0h-8.1zM222.0 265.7h8.1v1.0h-8.1zM327.5 265.7h16.2v1.0h-16.2zM424.9 265.7h8.1v1.0h-8.1zM554.8 265.7h16.2v1.0h-16.2zM611.6 265.7h8.1v1.0h-8.1zM75.9 266.7h8.1v1.0h-8.1zM100.3 266.7h8.1v1.0h-8.1zM140.9 266.7h8.1v1.0h-8.1zM246.4 266.7h8.1v1.0h-8.1zM327.5 266.7h8.1v1.0h-8.1zM433.1 266.7h8.1v1.0h-8.1zM562.9 266.7h8.1v1.0h-8.1zM636.0 266.7h8.1v1.0h-8.1zM75.9 267.7h8.1v1.0h-8.1zM181.4 267.7h16.2v1.0h-16.2zM222.0 267.7h8.1v1.0h-8.1zM278.8 267.7h8.1v1.0h-8.1zM327.5 267.7h8.1v1.0h-8.1zM351.9 267.7h8.1v1.0h-8.1zM433.1 267.7h8.1v1.0h-8.1zM619.7 267.7h8.1v1.0h-8.1zM165.2 268.7h8.1v1.0h-8.1zM270.7 268.7h8.1v1.0h-8.1zM351.9 268.7h8.1v1.0h-8.1zM384.4 268.7h8.1v1.0h-8.1zM498.0 268.7h16.2v1.0h-16.2zM538.6 268.7h8.1v1.0h-8.1zM619.7 268.7h8.1v1.0h-8.1zM92.2 269.7h8.1v1.0h-8.1zM108.4 269.7h8.1v1.0h-8.1zM157.1 269.7h8.1v1.0h-8.1zM278.8 269.7h8.1v1.0h-8.1zM327.5 269.7h8.1v1.0h-8.1zM546.7 269.7h8.1v1.0h-8.1zM579.1 269.7h8.1v1.0h-8.1zM595.4 269.7h8.1v1.0h-8.1zM140.9 270.7h8.1v1.0h-8.1zM157.1 270.7h8.1v1.0h-8.1zM189.6 270.7h8.1v1.0h-8.1zM222.0 270.7h8.1v1.0h-8.1zM286.9 270.7h8.1v1.0h-8.1zM579.1 270.7h8.1v1.0h-8.1zM627.9 270.7h8.1v1.0h-8.1zM100.3 271.7h8.1v1.0h-8.1zM132.7 271.7h8.1v1.0h-8.1zM246.4 271.7h8.1v1.0h-8.1zM351.9 271.7h8.1v1.0h-8.1zM376.2 271.7h8.1v1.0h-8.1zM441.2 271.7h8.1v1.0h-8.1zM506.1 271.7h8.1v1.0h-8.1zM611.6 271.7h8.1v1.0h-8.1zM627.9 271.7h8.1v1.0h-8.1zM108.4 272.7h8.1v1.0h-8.1zM189.6 272.7h8.1v1.0h-8.1zM360.0 272.7h8.1v1.0h-8.1zM433.1 272.7h8.1v1.0h-8.1zM473.6 272.7h8.1v1.0h-8.1zM67.8 273.7h8.1v1.0h-8.1zM189.6 273.7h8.1v1.0h-8.1zM335.7 273.7h8.1v1.0h-8.1zM384.4 273.7h8.1v1.0h-8.1zM424.9 273.7h16.2v1.0h-16.2zM449.3 273.7h8.1v1.0h-8.1zM538.6 273.7h8.1v1.0h-8.1zM603.5 273.7h16.2v1.0h-16.2zM165.2 274.7h8.1v1.0h-8.1zM351.9 274.7h8.1v1.0h-8.1zM384.4 274.7h8.1v1.0h-8.1zM416.8 274.7h8.1v1.0h-8.1zM433.1 274.7h8.1v1.0h-8.1zM611.6 274.7h8.1v1.0h-8.1zM84.0 275.7h8.1v1.0h-8.1zM132.7 275.7h8.1v1.0h-8.1zM181.4 275.7h8.1v1.0h-8.1zM222.0 275.7h8.1v1.0h-8.1zM295.1 275.7h8.1v1.0h-8.1zM562.9 275.7h16.2v1.0h-16.2zM587.3 275.7h8.1v1.0h-8.1zM611.6 275.7h8.1v1.0h-8.1zM627.9 275.7h8.1v1.0h-8.1zM67.8 276.7h8.1v1.0h-8.1zM84.0 276.7h8.1v1.0h-8.1zM100.3 276.7h8.1v1.0h-8.1zM319.4 276.7h8.1v1.0h-8.1zM424.9 276.7h16.2v1.0h-16.2zM579.1 276.7h8.1v1.0h-8.1zM611.6 276.7h16.2v1.0h-16.2zM100.3 277.7h8.1v1.0h-8.1zM140.9 277.7h8.1v1.0h-8.1zM278.8 277.7h8.1v1.0h-8.1zM619.7 277.7h8.1v1.0h-8.1zM84.0 278.7h8.1v1.0h-8.1zM116.5 278.7h8.1v1.0h-8.1zM173.3 278.7h16.2v1.0h-16.2zM213.9 278.7h8.1v1.0h-8.1zM278.8 278.7h8.1v1.0h-8.1zM327.5 278.7h8.1v1.0h-8.1zM473.6 278.7h8.1v1.0h-8.1zM530.5 278.7h8.1v1.0h-8.1zM571.0 278.7h8.1v1.0h-8.1zM140.9 279.7h8.1v1.0h-8.1zM157.1 279.7h8.1v1.0h-8.1zM222.0 279.7h8.1v1.0h-8.1zM327.5 279.7h8.1v1.0h-8.1zM473.6 279.7h8.1v1.0h-8.1zM619.7 279.7h8.1v1.0h-8.1zM189.6 280.7h8.1v1.0h-8.1zM278.8 280.7h8.1v1.0h-8.1zM327.5 280.7h8.1v1.0h-8.1zM473.6 280.7h8.1v1.0h-8.1zM562.9 280.7h8.1v1.0h-8.1zM84.0 281.7h8.1v1.0h-8.1zM189.6 281.7h8.1v1.0h-8.1zM230.1 281.7h8.1v1.0h-8.1zM278.8 281.7h8.1v1.0h-8.1zM424.9 281.7h8.1v1.0h-8.1zM157.1 282.7h8.1v1.0h-8.1zM222.0 282.7h8.1v1.0h-8.1zM238.2 282.7h8.1v1.0h-8.1zM368.1 282.7h8.1v1.0h-8.1zM433.1 282.7h8.1v1.0h-8.1zM571.0 282.7h8.1v1.0h-8.1zM587.3 282.7h8.1v1.0h-8.1zM627.9 282.7h16.2v1.0h-16.2zM140.9 283.7h8.1v1.0h-8.1zM286.9 283.7h8.1v1.0h-8.1zM116.5 284.7h8.1v1.0h-8.1zM270.7 284.7h16.2v1.0h-16.2zM384.4 284.7h8.1v1.0h-8.1zM424.9 284.7h16.2v1.0h-16.2zM473.6 284.7h8.1v1.0h-8.1zM489.9 284.7h8.1v1.0h-8.1zM84.0 285.7h8.1v1.0h-8.1zM116.5 285.7h8.1v1.0h-8.1zM140.9 285.7h8.1v1.0h-8.1zM165.2 285.7h8.1v1.0h-8.1zM213.9 285.7h8.1v1.0h-8.1zM246.4 285.7h8.1v1.0h-8.1zM262.6 285.7h8.1v1.0h-8.1zM392.5 285.7h8.1v1.0h-8.1zM424.9 285.7h8.1v1.0h-8.1zM562.9 285.7h8.1v1.0h-8.1zM611.6 285.7h8.1v1.0h-8.1zM75.9 286.7h8.1v1.0h-8.1zM157.1 286.7h8.1v1.0h-8.1zM181.4 286.7h8.1v1.0h-8.1zM335.7 286.7h8.1v1.0h-8.1zM481.8 286.7h8.1v1.0h-8.1zM554.8 286.7h8.1v1.0h-8.1zM611.6 286.7h8.1v1.0h-8.1zM636.0 286.7h8.1v1.0h-8.1zM100.3 287.7h8.1v1.0h-8.1zM116.5 287.7h8.1v1.0h-8.1zM319.4 287.7h8.1v1.0h-8.1zM424.9 287.7h8.1v1.0h-8.1zM449.3 287.7h8.1v1.0h-8.1zM522.3 287.7h8.1v1.0h-8.1zM611.6 287.7h8.1v1.0h-8.1zM636.0 287.7h8.1v1.0h-8.1zM189.6 288.7h8.1v1.0h-8.1zM222.0 288.7h8.1v1.0h-8.1zM286.9 288.7h8.1v1.0h-8.1zM360.0 288.7h8.1v1.0h-8.1zM400.6 288.7h8.1v1.0h-8.1zM424.9 288.7h16.2v1.0h-16.2zM457.4 288.7h8.1v1.0h-8.1zM571.0 288.7h8.1v1.0h-8.1zM100.3 289.7h8.1v1.0h-8.1zM116.5 289.7h8.1v1.0h-8.1zM213.9 289.7h8.1v1.0h-8.1zM278.8 289.7h8.1v1.0h-8.1zM351.9 289.7h8.1v1.0h-8.1zM376.2 289.7h8.1v1.0h-8.1zM424.9 289.7h8.1v1.0h-8.1zM498.0 289.7h8.1v1.0h-8.1zM522.3 289.7h8.1v1.0h-8.1zM611.6 289.7h8.1v1.0h-8.1zM140.9 290.7h8.1v1.0h-8.1zM197.7 290.7h8.1v1.0h-8.1zM392.5 290.7h8.1v1.0h-8.1zM416.8 290.7h8.1v1.0h-8.1zM522.3 290.7h8.1v1.0h-8.1zM100.3 291.7h8.1v1.0h-8.1zM197.7 291.7h8.1v1.0h-8.1zM246.4 291.7h8.1v1.0h-8.1zM295.1 291.7h8.1v1.0h-8.1zM506.1 291.7h8.1v1.0h-8.1zM181.4 292.7h8.1v1.0h-8.1zM230.1 292.7h8.1v1.0h-8.1zM408.7 292.7h8.1v1.0h-8.1zM619.7 292.7h8.1v1.0h-8.1zM522.3 293.7h8.1v1.0h-8.1zM554.8 293.7h8.1v1.0h-8.1zM571.0 293.7h8.1v1.0h-8.1zM611.6 293.7h8.1v1.0h-8.1zM132.7 294.7h8.1v1.0h-8.1zM181.4 294.7h8.1v1.0h-8.1zM270.7 294.7h8.1v1.0h-8.1zM319.4 294.7h8.1v1.0h-8.1zM416.8 294.7h8.1v1.0h-8.1zM489.9 294.7h8.1v1.0h-8.1zM522.3 294.7h8.1v1.0h-8.1zM619.7 294.7h8.1v1.0h-8.1zM197.7 295.7h8.1v1.0h-8.1zM286.9 295.7h8.1v1.0h-8.1zM360.0 295.7h8.1v1.0h-8.1zM376.2 295.7h8.1v1.0h-8.1zM424.9 295.7h8.1v1.0h-8.1zM571.0 295.7h8.1v1.0h-8.1zM611.6 295.7h8.1v1.0h-8.1zM92.2 296.7h8.1v1.0h-8.1zM173.3 296.7h16.2v1.0h-16.2zM286.9 296.7h8.1v1.0h-8.1zM579.1 296.7h8.1v1.0h-8.1zM222.0 297.7h8.1v1.0h-8.1zM376.2 297.7h8.1v1.0h-8.1zM424.9 297.7h8.1v1.0h-8.1zM441.2 297.7h8.1v1.0h-8.1zM619.7 297.7h8.1v1.0h-8.1zM644.1 297.7h8.1v1.0h-8.1zM84.0 298.7h16.2v1.0h-16.2zM157.1 298.7h8.1v1.0h-8.1zM222.0 298.7h8.1v1.0h-8.1zM327.5 298.7h8.1v1.0h-8.1zM481.8 298.7h8.1v1.0h-8.1zM498.0 298.7h8.1v1.0h-8.1zM619.7 298.7h16.2v1.0h-16.2zM108.4 299.7h8.1v1.0h-8.1zM360.0 299.7h8.1v1.0h-8.1zM384.4 299.7h8.1v1.0h-8.1zM433.1 299.7h8.1v1.0h-8.1zM619.7 299.7h8.1v1.0h-8.1zM157.1 300.7h8.1v1.0h-8.1zM498.0 300.7h8.1v1.0h-8.1zM157.1 301.7h8.1v1.0h-8.1zM441.2 301.7h8.1v1.0h-8.1zM587.3 301.7h8.1v1.0h-8.1zM173.3 302.7h8.1v1.0h-8.1zM246.4 302.7h8.1v1.0h-8.1zM67.8 303.7h16.2v1.0h-16.2zM181.4 303.7h16.2v1.0h-16.2zM222.0 303.7h8.1v1.0h-8.1zM286.9 303.7h8.1v1.0h-8.1zM303.2 303.7h16.2v1.0h-16.2zM392.5 303.7h8.1v1.0h-8.1zM579.1 303.7h8.1v1.0h-8.1zM595.4 303.7h8.1v1.0h-8.1zM449.3 304.7h16.2v1.0h-16.2zM522.3 304.7h8.1v1.0h-8.1zM619.7 304.7h8.1v1.0h-8.1zM644.1 304.7h8.1v1.0h-8.1zM84.0 305.7h8.1v1.0h-8.1zM149.0 305.7h8.1v1.0h-8.1zM498.0 305.7h8.1v1.0h-8.1zM84.0 306.7h8.1v1.0h-8.1zM124.6 306.7h8.1v1.0h-8.1zM222.0 306.7h8.1v1.0h-8.1zM335.7 306.7h24.4v1.0h-24.4zM376.2 306.7h8.1v1.0h-8.1zM408.7 306.7h8.1v1.0h-8.1zM498.0 306.7h8.1v1.0h-8.1zM335.7 307.7h8.1v1.0h-8.1zM376.2 307.7h16.2v1.0h-16.2zM489.9 307.7h8.1v1.0h-8.1zM124.6 308.7h16.2v1.0h-16.2zM157.1 308.7h8.1v1.0h-8.1zM181.4 308.7h8.1v1.0h-8.1zM311.3 308.7h8.1v1.0h-8.1zM416.8 308.7h8.1v1.0h-8.1zM449.3 308.7h8.1v1.0h-8.1zM465.5 308.7h8.1v1.0h-8.1zM489.9 308.7h8.1v1.0h-8.1zM579.1 308.7h8.1v1.0h-8.1zM108.4 309.7h8.1v1.0h-8.1zM368.1 309.7h16.2v1.0h-16.2zM441.2 309.7h8.1v1.0h-8.1zM165.2 310.7h8.1v1.0h-8.1zM189.6 310.7h8.1v1.0h-8.1zM278.8 310.7h8.1v1.0h-8.1zM400.6 310.7h8.1v1.0h-8.1zM498.0 310.7h8.1v1.0h-8.1zM644.1 310.7h8.1v1.0h-8.1zM189.6 311.7h8.1v1.0h-8.1zM246.4 311.7h8.1v1.0h-8.1zM384.4 311.7h8.1v1.0h-8.1zM424.9 311.7h8.1v1.0h-8.1zM611.6 311.7h8.1v1.0h-8.1zM84.0 312.7h8.1v1.0h-8.1zM100.3 312.7h8.1v1.0h-8.1zM246.4 312.7h8.1v1.0h-8.1zM303.2 312.7h8.1v1.0h-8.1zM327.5 312.7h8.1v1.0h-8.1zM449.3 312.7h8.1v1.0h-8.1zM67.8 313.7h8.1v1.0h-8.1zM173.3 313.7h24.4v1.0h-24.4zM335.7 313.7h8.1v1.0h-8.1zM433.1 313.7h8.1v1.0h-8.1zM611.6 313.7h8.1v1.0h-8.1zM132.7 314.7h8.1v1.0h-8.1zM246.4 314.7h8.1v1.0h-8.1zM319.4 314.7h8.1v1.0h-8.1zM416.8 314.7h8.1v1.0h-8.1zM644.1 314.7h8.1v1.0h-8.1zM75.9 315.7h8.1v1.0h-8.1zM124.6 315.7h8.1v1.0h-8.1zM238.2 315.7h16.2v1.0h-16.2zM311.3 315.7h8.1v1.0h-8.1zM465.5 315.7h8.1v1.0h-8.1zM498.0 315.7h8.1v1.0h-8.1zM579.1 315.7h8.1v1.0h-8.1zM644.1 315.7h8.1v1.0h-8.1zM108.4 316.7h8.1v1.0h-8.1zM197.7 316.7h8.1v1.0h-8.1zM213.9 316.7h8.1v1.0h-8.1zM319.4 316.7h8.1v1.0h-8.1zM433.1 316.7h8.1v1.0h-8.1zM522.3 316.7h8.1v1.0h-8.1zM562.9 316.7h8.1v1.0h-8.1zM644.1 316.7h8.1v1.0h-8.1zM343.8 317.7h8.1v1.0h-8.1zM400.6 317.7h8.1v1.0h-8.1zM149.0 318.7h8.1v1.0h-8.1zM189.6 318.7h8.1v1.0h-8.1zM246.4 318.7h8.1v1.0h-8.1zM351.9 318.7h16.2v1.0h-16.2zM506.1 318.7h8.1v1.0h-8.1zM84.0 319.7h8.1v1.0h-8.1zM100.3 319.7h8.1v1.0h-8.1zM181.4 319.7h8.1v1.0h-8.1zM319.4 319.7h8.1v1.0h-8.1zM481.8 319.7h8.1v1.0h-8.1zM506.1 319.7h8.1v1.0h-8.1zM530.5 319.7h8.1v1.0h-8.1zM222.0 320.7h8.1v1.0h-8.1zM473.6 320.7h8.1v1.0h-8.1zM506.1 320.7h8.1v1.0h-8.1zM424.9 321.7h8.1v1.0h-8.1zM449.3 321.7h8.1v1.0h-8.1zM611.6 321.7h8.1v1.0h-8.1zM149.0 322.7h8.1v1.0h-8.1zM181.4 322.7h8.1v1.0h-8.1zM222.0 322.7h8.1v1.0h-8.1zM416.8 322.7h8.1v1.0h-8.1zM181.4 323.7h8.1v1.0h-8.1zM205.8 323.7h8.1v1.0h-8.1zM489.9 323.7h8.1v1.0h-8.1zM506.1 323.7h8.1v1.0h-8.1zM100.3 324.7h8.1v1.0h-8.1zM286.9 324.7h8.1v1.0h-8.1zM319.4 324.7h8.1v1.0h-8.1zM538.6 324.7h8.1v1.0h-8.1zM165.2 325.7h8.1v1.0h-8.1zM181.4 325.7h8.1v1.0h-8.1zM197.7 325.7h8.1v1.0h-8.1zM246.4 325.7h8.1v1.0h-8.1zM311.3 325.7h8.1v1.0h-8.1zM181.4 326.7h8.1v1.0h-8.1zM197.7 326.7h8.1v1.0h-8.1zM303.2 326.7h8.1v1.0h-8.1zM319.4 326.7h8.1v1.0h-8.1zM343.8 326.7h8.1v1.0h-8.1zM441.2 326.7h8.1v1.0h-8.1zM116.5 327.7h8.1v1.0h-8.1zM149.0 327.7h8.1v1.0h-8.1zM246.4 327.7h8.1v1.0h-8.1zM360.0 327.7h8.1v1.0h-8.1zM433.1 327.7h8.1v1.0h-8.1zM465.5 327.7h8.1v1.0h-8.1zM132.7 328.7h8.1v1.0h-8.1zM295.1 328.7h8.1v1.0h-8.1zM157.1 329.7h8.1v1.0h-8.1zM319.4 329.7h8.1v1.0h-8.1zM343.8 329.7h8.1v1.0h-8.1zM360.0 329.7h8.1v1.0h-8.1zM514.2 329.7h16.2v1.0h-16.2zM116.5 330.7h8.1v1.0h-8.1zM149.0 330.7h8.1v1.0h-8.1zM360.0 330.7h8.1v1.0h-8.1zM400.6 330.7h8.1v1.0h-8.1zM506.1 330.7h8.1v1.0h-8.1zM108.4 331.7h8.1v1.0h-8.1zM343.8 331.7h8.1v1.0h-8.1zM433.1 331.7h8.1v1.0h-8.1zM246.4 332.7h8.1v1.0h-8.1zM319.4 332.7h8.1v1.0h-8.1zM449.3 332.7h8.1v1.0h-8.1zM481.8 332.7h8.1v1.0h-8.1zM116.5 333.7h8.1v1.0h-8.1zM140.9 333.7h8.1v1.0h-8.1zM303.2 333.7h8.1v1.0h-8.1zM360.0 333.7h8.1v1.0h-8.1zM278.8 334.7h16.2v1.0h-16.2zM400.6 334.7h8.1v1.0h-8.1zM571.0 334.7h8.1v1.0h-8.1zM197.7 335.7h8.1v1.0h-8.1zM335.7 335.7h16.2v1.0h-16.2zM189.6 336.7h8.1v1.0h-8.1zM238.2 336.7h8.1v1.0h-8.1zM286.9 336.7h8.1v1.0h-8.1zM319.4 336.7h8.1v1.0h-8.1zM116.5 337.7h8.1v1.0h-8.1zM197.7 337.7h8.1v1.0h-8.1zM238.2 337.7h8.1v1.0h-8.1zM457.4 337.7h8.1v1.0h-8.1zM506.1 337.7h8.1v1.0h-8.1zM530.5 337.7h16.2v1.0h-16.2zM644.1 337.7h8.1v1.0h-8.1zM124.6 338.7h8.1v1.0h-8.1zM173.3 338.7h8.1v1.0h-8.1zM197.7 338.7h8.1v1.0h-8.1zM319.4 338.7h8.1v1.0h-8.1zM173.3 339.7h8.1v1.0h-8.1zM189.6 339.7h8.1v1.0h-8.1zM238.2 339.7h8.1v1.0h-8.1zM278.8 339.7h8.1v1.0h-8.1zM506.1 339.7h8.1v1.0h-8.1zM67.8 340.7h8.1v1.0h-8.1zM124.6 340.7h8.1v1.0h-8.1zM181.4 340.7h16.2v1.0h-16.2zM238.2 340.7h8.1v1.0h-8.1zM295.1 340.7h8.1v1.0h-8.1zM424.9 340.7h8.1v1.0h-8.1zM441.2 340.7h8.1v1.0h-8.1zM506.1 340.7h8.1v1.0h-8.1zM108.4 341.7h8.1v1.0h-8.1zM140.9 341.7h8.1v1.0h-8.1zM165.2 341.7h16.2v1.0h-16.2zM189.6 341.7h8.1v1.0h-8.1zM392.5 341.7h16.2v1.0h-16.2zM433.1 341.7h8.1v1.0h-8.1zM522.3 341.7h8.1v1.0h-8.1zM189.6 342.7h16.2v1.0h-16.2zM246.4 342.7h8.1v1.0h-8.1zM360.0 342.7h8.1v1.0h-8.1zM400.6 342.7h8.1v1.0h-8.1zM416.8 342.7h8.1v1.0h-8.1zM441.2 342.7h8.1v1.0h-8.1zM465.5 342.7h8.1v1.0h-8.1zM108.4 343.7h8.1v1.0h-8.1zM157.1 343.7h8.1v1.0h-8.1zM181.4 343.7h8.1v1.0h-8.1zM522.3 343.7h8.1v1.0h-8.1zM644.1 343.7h8.1v1.0h-8.1zM75.9 344.7h8.1v1.0h-8.1zM165.2 345.7h16.2v1.0h-16.2zM246.4 345.7h8.1v1.0h-8.1zM278.8 345.7h16.2v1.0h-16.2zM376.2 345.7h8.1v1.0h-8.1zM392.5 345.7h8.1v1.0h-8.1zM530.5 345.7h8.1v1.0h-8.1zM108.4 346.7h8.1v1.0h-8.1zM165.2 346.7h24.4v1.0h-24.4zM205.8 346.7h8.1v1.0h-8.1zM376.2 346.7h8.1v1.0h-8.1zM489.9 346.7h8.1v1.0h-8.1zM522.3 346.7h8.1v1.0h-8.1zM181.4 347.7h8.1v1.0h-8.1zM238.2 347.7h8.1v1.0h-8.1zM278.8 347.7h8.1v1.0h-8.1zM465.5 347.7h8.1v1.0h-8.1zM67.8 348.7h8.1v1.0h-8.1zM165.2 348.7h8.1v1.0h-8.1zM181.4 348.7h8.1v1.0h-8.1zM343.8 348.7h8.1v1.0h-8.1zM433.1 348.7h8.1v1.0h-8.1zM538.6 348.7h8.1v1.0h-8.1zM278.8 349.7h8.1v1.0h-8.1zM530.5 349.7h8.1v1.0h-8.1zM189.6 350.7h8.1v1.0h-8.1zM213.9 350.7h8.1v1.0h-8.1zM392.5 350.7h8.1v1.0h-8.1zM416.8 350.7h8.1v1.0h-8.1zM75.9 351.7h16.2v1.0h-16.2zM108.4 351.7h8.1v1.0h-8.1zM189.6 351.7h8.1v1.0h-8.1zM262.6 351.7h8.1v1.0h-8.1zM489.9 351.7h8.1v1.0h-8.1zM165.2 352.7h8.1v1.0h-8.1zM189.6 352.7h8.1v1.0h-8.1zM473.6 352.7h8.1v1.0h-8.1zM489.9 352.7h8.1v1.0h-8.1zM75.9 353.7h8.1v1.0h-8.1zM278.8 353.7h8.1v1.0h-8.1zM644.1 353.7h8.1v1.0h-8.1zM84.0 354.7h8.1v1.0h-8.1zM189.6 354.7h8.1v1.0h-8.1zM449.3 354.7h8.1v1.0h-8.1zM165.2 355.7h8.1v1.0h-8.1zM311.3 355.7h8.1v1.0h-8.1zM538.6 355.7h8.1v1.0h-8.1zM92.2 356.7h16.2v1.0h-16.2zM124.6 356.7h8.1v1.0h-8.1zM254.5 356.7h8.1v1.0h-8.1zM173.3 357.7h8.1v1.0h-8.1zM246.4 357.7h8.1v1.0h-8.1zM343.8 357.7h8.1v1.0h-8.1zM124.6 358.7h8.1v1.0h-8.1zM222.0 358.7h8.1v1.0h-8.1zM295.1 358.7h8.1v1.0h-8.1zM335.7 358.7h8.1v1.0h-8.1zM644.1 358.7h8.1v1.0h-8.1zM173.3 359.7h8.1v1.0h-8.1zM222.0 359.7h8.1v1.0h-8.1zM449.3 359.7h8.1v1.0h-8.1zM67.8 360.7h8.1v1.0h-8.1zM132.7 360.7h8.1v1.0h-8.1zM165.2 360.7h8.1v1.0h-8.1zM246.4 360.7h8.1v1.0h-8.1zM400.6 360.7h8.1v1.0h-8.1zM522.3 360.7h8.1v1.0h-8.1zM92.2 361.7h8.1v1.0h-8.1zM132.7 361.7h8.1v1.0h-8.1zM286.9 361.7h8.1v1.0h-8.1zM327.5 361.7h8.1v1.0h-8.1zM644.1 361.7h8.1v1.0h-8.1zM644.1 362.7h8.1v1.0h-8.1zM100.3 363.7h16.2v1.0h-16.2zM181.4 363.7h8.1v1.0h-8.1zM222.0 363.7h8.1v1.0h-8.1zM376.2 363.7h8.1v1.0h-8.1zM108.4 364.7h8.1v1.0h-8.1zM124.6 364.7h8.1v1.0h-8.1zM246.4 364.7h8.1v1.0h-8.1zM286.9 364.7h8.1v1.0h-8.1zM335.7 364.7h8.1v1.0h-8.1zM400.6 364.7h8.1v1.0h-8.1zM67.8 365.7h8.1v1.0h-8.1zM116.5 365.7h8.1v1.0h-8.1zM132.7 365.7h16.2v1.0h-16.2zM230.1 365.7h8.1v1.0h-8.1zM246.4 365.7h8.1v1.0h-8.1zM278.8 365.7h8.1v1.0h-8.1zM311.3 365.7h8.1v1.0h-8.1zM433.1 365.7h8.1v1.0h-8.1zM644.1 365.7h8.1v1.0h-8.1zM84.0 366.7h8.1v1.0h-8.1zM108.4 366.7h8.1v1.0h-8.1zM213.9 366.7h8.1v1.0h-8.1zM230.1 366.7h8.1v1.0h-8.1zM286.9 366.7h8.1v1.0h-8.1zM384.4 366.7h8.1v1.0h-8.1zM84.0 367.7h8.1v1.0h-8.1zM116.5 367.7h8.1v1.0h-8.1zM132.7 367.7h8.1v1.0h-8.1zM189.6 367.7h8.1v1.0h-8.1zM238.2 367.7h8.1v1.0h-8.1zM286.9 367.7h8.1v1.0h-8.1zM327.5 367.7h8.1v1.0h-8.1zM449.3 367.7h8.1v1.0h-8.1zM84.0 368.7h8.1v1.0h-8.1zM165.2 368.7h8.1v1.0h-8.1zM189.6 368.7h8.1v1.0h-8.1zM222.0 368.7h16.2v1.0h-16.2zM303.2 368.7h8.1v1.0h-8.1zM473.6 368.7h8.1v1.0h-8.1zM506.1 368.7h8.1v1.0h-8.1zM230.1 369.7h16.2v1.0h-16.2zM376.2 369.7h8.1v1.0h-8.1zM400.6 369.7h8.1v1.0h-8.1zM465.5 369.7h8.1v1.0h-8.1zM140.9 370.7h16.2v1.0h-16.2zM181.4 370.7h8.1v1.0h-8.1zM197.7 370.7h8.1v1.0h-8.1zM449.3 370.7h8.1v1.0h-8.1zM530.5 370.7h8.1v1.0h-8.1zM124.6 371.7h8.1v1.0h-8.1zM311.3 371.7h8.1v1.0h-8.1zM84.0 372.7h8.1v1.0h-8.1zM116.5 372.7h8.1v1.0h-8.1zM140.9 372.7h8.1v1.0h-8.1zM189.6 372.7h16.2v1.0h-16.2zM392.5 372.7h8.1v1.0h-8.1zM465.5 372.7h8.1v1.0h-8.1zM189.6 373.7h16.2v1.0h-16.2zM278.8 373.7h8.1v1.0h-8.1zM67.8 374.7h8.1v1.0h-8.1zM108.4 374.7h8.1v1.0h-8.1zM222.0 374.7h8.1v1.0h-8.1zM335.7 374.7h8.1v1.0h-8.1zM457.4 374.7h8.1v1.0h-8.1zM132.7 375.7h8.1v1.0h-8.1zM230.1 375.7h8.1v1.0h-8.1zM311.3 375.7h8.1v1.0h-8.1zM335.7 375.7h8.1v1.0h-8.1zM457.4 375.7h8.1v1.0h-8.1zM481.8 375.7h16.2v1.0h-16.2zM611.6 375.7h8.1v1.0h-8.1zM92.2 376.7h8.1v1.0h-8.1zM286.9 376.7h8.1v1.0h-8.1zM433.1 376.7h8.1v1.0h-8.1zM522.3 376.7h8.1v1.0h-8.1zM603.5 376.7h8.1v1.0h-8.1zM84.0 377.7h8.1v1.0h-8.1zM124.6 377.7h8.1v1.0h-8.1zM181.4 377.7h8.1v1.0h-8.1zM197.7 377.7h8.1v1.0h-8.1zM465.5 377.7h8.1v1.0h-8.1zM489.9 377.7h8.1v1.0h-8.1zM100.3 378.7h16.2v1.0h-16.2zM238.2 378.7h8.1v1.0h-8.1zM278.8 378.7h8.1v1.0h-8.1zM335.7 378.7h8.1v1.0h-8.1zM433.1 378.7h8.1v1.0h-8.1zM489.9 378.7h8.1v1.0h-8.1zM132.7 379.7h8.1v1.0h-8.1zM197.7 379.7h8.1v1.0h-8.1zM222.0 379.7h8.1v1.0h-8.1zM254.5 379.7h8.1v1.0h-8.1zM335.7 379.7h8.1v1.0h-8.1zM644.1 379.7h8.1v1.0h-8.1zM100.3 380.7h16.2v1.0h-16.2zM238.2 380.7h8.1v1.0h-8.1zM449.3 380.7h8.1v1.0h-8.1zM644.1 380.7h8.1v1.0h-8.1zM181.4 381.7h8.1v1.0h-8.1zM278.8 381.7h8.1v1.0h-8.1zM295.1 381.7h8.1v1.0h-8.1zM343.8 381.7h8.1v1.0h-8.1zM376.2 381.7h8.1v1.0h-8.1zM92.2 382.7h8.1v1.0h-8.1zM189.6 382.7h8.1v1.0h-8.1zM270.7 382.7h8.1v1.0h-8.1zM286.9 382.7h8.1v1.0h-8.1zM335.7 382.7h8.1v1.0h-8.1zM376.2 382.7h24.4v1.0h-24.4zM84.0 383.7h8.1v1.0h-8.1zM335.7 383.7h8.1v1.0h-8.1zM506.1 383.7h8.1v1.0h-8.1zM644.1 383.7h8.1v1.0h-8.1zM108.4 384.7h8.1v1.0h-8.1zM197.7 384.7h8.1v1.0h-8.1zM230.1 384.7h8.1v1.0h-8.1zM303.2 384.7h8.1v1.0h-8.1zM351.9 384.7h8.1v1.0h-8.1zM376.2 384.7h8.1v1.0h-8.1zM84.0 385.7h8.1v1.0h-8.1zM173.3 385.7h8.1v1.0h-8.1zM197.7 385.7h8.1v1.0h-8.1zM270.7 385.7h8.1v1.0h-8.1zM286.9 385.7h8.1v1.0h-8.1zM343.8 385.7h8.1v1.0h-8.1zM522.3 385.7h8.1v1.0h-8.1zM489.9 386.7h8.1v1.0h-8.1zM100.3 387.7h8.1v1.0h-8.1zM181.4 387.7h16.2v1.0h-16.2zM254.5 387.7h8.1v1.0h-8.1zM319.4 387.7h8.1v1.0h-8.1zM449.3 387.7h8.1v1.0h-8.1zM108.4 388.7h8.1v1.0h-8.1zM173.3 388.7h8.1v1.0h-8.1zM189.6 388.7h8.1v1.0h-8.1zM222.0 388.7h8.1v1.0h-8.1zM295.1 388.7h8.1v1.0h-8.1zM343.8 388.7h8.1v1.0h-8.1zM457.4 388.7h8.1v1.0h-8.1zM181.4 389.7h8.1v1.0h-8.1zM246.4 389.7h8.1v1.0h-8.1zM392.5 389.7h8.1v1.0h-8.1zM506.1 389.7h8.1v1.0h-8.1zM100.3 390.7h8.1v1.0h-8.1zM181.4 390.7h8.1v1.0h-8.1zM270.7 390.7h8.1v1.0h-8.1zM286.9 390.7h8.1v1.0h-8.1zM343.8 390.7h8.1v1.0h-8.1zM368.1 390.7h8.1v1.0h-8.1zM408.7 390.7h8.1v1.0h-8.1zM84.0 391.7h8.1v1.0h-8.1zM351.9 391.7h8.1v1.0h-8.1zM392.5 391.7h8.1v1.0h-8.1zM506.1 391.7h8.1v1.0h-8.1zM124.6 392.7h8.1v1.0h-8.1zM116.5 393.7h8.1v1.0h-8.1zM181.4 393.7h8.1v1.0h-8.1zM222.0 393.7h8.1v1.0h-8.1zM278.8 393.7h8.1v1.0h-8.1zM303.2 393.7h8.1v1.0h-8.1zM514.2 393.7h8.1v1.0h-8.1zM149.0 394.7h16.2v1.0h-16.2zM197.7 394.7h8.1v1.0h-8.1zM246.4 394.7h8.1v1.0h-8.1zM270.7 394.7h16.2v1.0h-16.2zM108.4 395.7h8.1v1.0h-8.1zM149.0 395.7h8.1v1.0h-8.1zM165.2 395.7h8.1v1.0h-8.1zM189.6 395.7h8.1v1.0h-8.1zM246.4 395.7h8.1v1.0h-8.1zM360.0 395.7h8.1v1.0h-8.1zM530.5 395.7h8.1v1.0h-8.1zM92.2 396.7h8.1v1.0h-8.1zM157.1 396.7h8.1v1.0h-8.1zM181.4 396.7h8.1v1.0h-8.1zM222.0 396.7h8.1v1.0h-8.1zM424.9 396.7h16.2v1.0h-16.2zM449.3 396.7h8.1v1.0h-8.1zM181.4 397.7h16.2v1.0h-16.2zM319.4 397.7h8.1v1.0h-8.1zM343.8 397.7h8.1v1.0h-8.1zM400.6 397.7h8.1v1.0h-8.1zM514.2 397.7h8.1v1.0h-8.1zM67.8 398.7h8.1v1.0h-8.1zM149.0 398.7h8.1v1.0h-8.1zM262.6 398.7h8.1v1.0h-8.1zM286.9 398.7h16.2v1.0h-16.2zM449.3 398.7h8.1v1.0h-8.1zM92.2 399.7h8.1v1.0h-8.1zM213.9 399.7h8.1v1.0h-8.1zM376.2 399.7h8.1v1.0h-8.1zM433.1 399.7h8.1v1.0h-8.1zM530.5 399.7h8.1v1.0h-8.1zM92.2 400.7h8.1v1.0h-8.1zM165.2 401.7h8.1v1.0h-8.1zM181.4 401.7h8.1v1.0h-8.1zM222.0 401.7h8.1v1.0h-8.1zM424.9 401.7h8.1v1.0h-8.1zM514.2 401.7h8.1v1.0h-8.1zM538.6 401.7h8.1v1.0h-8.1zM165.2 402.7h8.1v1.0h-8.1zM181.4 402.7h8.1v1.0h-8.1zM213.9 402.7h8.1v1.0h-8.1zM433.1 402.7h8.1v1.0h-8.1zM108.4 403.7h16.2v1.0h-16.2zM335.7 403.7h8.1v1.0h-8.1zM376.2 403.7h8.1v1.0h-8.1zM416.8 403.7h8.1v1.0h-8.1zM92.2 404.7h8.1v1.0h-8.1zM222.0 404.7h8.1v1.0h-8.1zM392.5 404.7h8.1v1.0h-8.1zM197.7 405.7h8.1v1.0h-8.1zM514.2 405.7h8.1v1.0h-8.1zM530.5 405.7h8.1v1.0h-8.1zM140.9 406.7h8.1v1.0h-8.1zM181.4 406.7h8.1v1.0h-8.1zM360.0 406.7h8.1v1.0h-8.1zM376.2 406.7h8.1v1.0h-8.1zM189.6 407.7h24.4v1.0h-24.4zM270.7 407.7h8.1v1.0h-8.1zM286.9 407.7h8.1v1.0h-8.1zM351.9 407.7h16.2v1.0h-16.2zM416.8 407.7h8.1v1.0h-8.1zM433.1 407.7h8.1v1.0h-8.1zM449.3 407.7h8.1v1.0h-8.1zM522.3 407.7h16.2v1.0h-16.2zM571.0 407.7h8.1v1.0h-8.1zM644.1 407.7h8.1v1.0h-8.1zM132.7 408.7h16.2v1.0h-16.2zM489.9 408.7h8.1v1.0h-8.1zM506.1 408.7h16.2v1.0h-16.2zM579.1 408.7h8.1v1.0h-8.1zM636.0 408.7h8.1v1.0h-8.1zM84.0 409.7h16.2v1.0h-16.2zM124.6 409.7h8.1v1.0h-8.1zM140.9 409.7h16.2v1.0h-16.2zM303.2 409.7h8.1v1.0h-8.1zM327.5 409.7h8.1v1.0h-8.1zM384.4 409.7h16.2v1.0h-16.2zM457.4 409.7h8.1v1.0h-8.1zM489.9 409.7h8.1v1.0h-8.1zM587.3 409.7h8.1v1.0h-8.1zM181.4 410.7h8.1v1.0h-8.1zM262.6 410.7h8.1v1.0h-8.1zM433.1 410.7h8.1v1.0h-8.1zM530.5 410.7h8.1v1.0h-8.1zM571.0 410.7h8.1v1.0h-8.1zM84.0 411.7h16.2v1.0h-16.2zM230.1 411.7h8.1v1.0h-8.1zM303.2 411.7h8.1v1.0h-8.1zM579.1 411.7h8.1v1.0h-8.1zM157.1 412.7h8.1v1.0h-8.1zM197.7 412.7h8.1v1.0h-8.1zM433.1 412.7h8.1v1.0h-8.1zM522.3 412.7h8.1v1.0h-8.1zM84.0 413.7h8.1v1.0h-8.1zM465.5 413.7h8.1v1.0h-8.1zM579.1 413.7h8.1v1.0h-8.1zM197.7 414.7h8.1v1.0h-8.1zM213.9 414.7h8.1v1.0h-8.1zM376.2 414.7h8.1v1.0h-8.1zM424.9 414.7h8.1v1.0h-8.1zM595.4 414.7h8.1v1.0h-8.1zM238.2 415.7h8.1v1.0h-8.1zM319.4 415.7h8.1v1.0h-8.1zM360.0 415.7h8.1v1.0h-8.1zM506.1 415.7h8.1v1.0h-8.1zM189.6 416.7h8.1v1.0h-8.1zM205.8 416.7h8.1v1.0h-8.1zM360.0 416.7h8.1v1.0h-8.1zM506.1 416.7h8.1v1.0h-8.1zM530.5 416.7h8.1v1.0h-8.1zM603.5 416.7h8.1v1.0h-8.1zM619.7 416.7h8.1v1.0h-8.1zM149.0 417.7h8.1v1.0h-8.1zM222.0 417.7h8.1v1.0h-8.1zM295.1 417.7h8.1v1.0h-8.1zM319.4 417.7h8.1v1.0h-8.1zM522.3 417.7h8.1v1.0h-8.1zM108.4 418.7h8.1v1.0h-8.1zM181.4 418.7h16.2v1.0h-16.2zM222.0 418.7h8.1v1.0h-8.1zM238.2 418.7h8.1v1.0h-8.1zM295.1 418.7h8.1v1.0h-8.1zM408.7 418.7h16.2v1.0h-16.2zM457.4 418.7h8.1v1.0h-8.1zM498.0 418.7h8.1v1.0h-8.1zM84.0 419.7h8.1v1.0h-8.1zM457.4 419.7h8.1v1.0h-8.1zM489.9 419.7h8.1v1.0h-8.1zM644.1 419.7h8.1v1.0h-8.1zM230.1 420.7h8.1v1.0h-8.1zM376.2 420.7h8.1v1.0h-8.1zM400.6 420.7h8.1v1.0h-8.1zM619.7 420.7h8.1v1.0h-8.1zM67.8 421.7h8.1v1.0h-8.1zM149.0 421.7h8.1v1.0h-8.1zM246.4 421.7h8.1v1.0h-8.1zM270.7 421.7h8.1v1.0h-8.1zM319.4 421.7h16.2v1.0h-16.2zM360.0 421.7h8.1v1.0h-8.1zM603.5 421.7h8.1v1.0h-8.1zM254.5 422.7h8.1v1.0h-8.1zM400.6 422.7h8.1v1.0h-8.1zM465.5 422.7h8.1v1.0h-8.1zM587.3 422.7h8.1v1.0h-8.1zM619.7 422.7h8.1v1.0h-8.1zM108.4 423.7h8.1v1.0h-8.1zM132.7 423.7h8.1v1.0h-8.1zM173.3 423.7h8.1v1.0h-8.1zM124.6 424.7h8.1v1.0h-8.1zM165.2 424.7h8.1v1.0h-8.1zM295.1 424.7h8.1v1.0h-8.1zM457.4 424.7h8.1v1.0h-8.1zM481.8 424.7h8.1v1.0h-8.1zM644.1 424.7h8.1v1.0h-8.1zM108.4 425.7h8.1v1.0h-8.1zM230.1 425.7h8.1v1.0h-8.1zM319.4 425.7h8.1v1.0h-8.1zM360.0 425.7h8.1v1.0h-8.1zM376.2 425.7h16.2v1.0h-16.2zM546.7 425.7h8.1v1.0h-8.1zM92.2 426.7h8.1v1.0h-8.1zM149.0 426.7h8.1v1.0h-8.1zM165.2 426.7h8.1v1.0h-8.1zM189.6 426.7h8.1v1.0h-8.1zM246.4 426.7h8.1v1.0h-8.1zM295.1 426.7h8.1v1.0h-8.1zM392.5 426.7h8.1v1.0h-8.1zM554.8 426.7h8.1v1.0h-8.1zM644.1 426.7h8.1v1.0h-8.1zM108.4 427.7h8.1v1.0h-8.1zM189.6 427.7h8.1v1.0h-8.1zM562.9 427.7h8.1v1.0h-8.1zM75.9 428.7h8.1v1.0h-8.1zM100.3 428.7h8.1v1.0h-8.1zM278.8 428.7h8.1v1.0h-8.1zM319.4 428.7h8.1v1.0h-8.1zM351.9 428.7h8.1v1.0h-8.1zM611.6 428.7h8.1v1.0h-8.1zM116.5 429.7h16.2v1.0h-16.2zM286.9 429.7h16.2v1.0h-16.2zM327.5 429.7h8.1v1.0h-8.1zM343.8 429.7h8.1v1.0h-8.1zM360.0 429.7h8.1v1.0h-8.1zM441.2 429.7h8.1v1.0h-8.1zM546.7 429.7h8.1v1.0h-8.1zM108.4 430.7h8.1v1.0h-8.1zM319.4 430.7h8.1v1.0h-8.1zM343.8 430.7h8.1v1.0h-8.1zM360.0 430.7h16.2v1.0h-16.2zM465.5 430.7h8.1v1.0h-8.1zM587.3 430.7h8.1v1.0h-8.1zM627.9 430.7h8.1v1.0h-8.1zM132.7 431.7h8.1v1.0h-8.1zM181.4 431.7h16.2v1.0h-16.2zM230.1 431.7h8.1v1.0h-8.1zM286.9 431.7h8.1v1.0h-8.1zM360.0 431.7h8.1v1.0h-8.1zM506.1 431.7h8.1v1.0h-8.1zM530.5 431.7h8.1v1.0h-8.1zM100.3 432.7h24.4v1.0h-24.4zM343.8 432.7h8.1v1.0h-8.1zM449.3 432.7h8.1v1.0h-8.1zM554.8 432.7h8.1v1.0h-8.1zM92.2 433.7h8.1v1.0h-8.1zM173.3 433.7h8.1v1.0h-8.1zM595.4 433.7h8.1v1.0h-8.1zM100.3 434.7h8.1v1.0h-8.1zM116.5 434.7h8.1v1.0h-8.1zM132.7 434.7h8.1v1.0h-8.1zM360.0 434.7h8.1v1.0h-8.1zM465.5 434.7h8.1v1.0h-8.1zM498.0 434.7h8.1v1.0h-8.1zM636.0 434.7h8.1v1.0h-8.1zM108.4 435.7h8.1v1.0h-8.1zM181.4 435.7h16.2v1.0h-16.2zM286.9 435.7h8.1v1.0h-8.1zM343.8 435.7h16.2v1.0h-16.2zM416.8 435.7h8.1v1.0h-8.1zM465.5 435.7h8.1v1.0h-8.1zM530.5 435.7h8.1v1.0h-8.1zM546.7 435.7h8.1v1.0h-8.1zM595.4 435.7h8.1v1.0h-8.1zM181.4 436.7h8.1v1.0h-8.1zM246.4 436.7h8.1v1.0h-8.1zM351.9 436.7h8.1v1.0h-8.1zM498.0 436.7h16.2v1.0h-16.2zM538.6 436.7h8.1v1.0h-8.1zM611.6 436.7h8.1v1.0h-8.1zM108.4 437.7h8.1v1.0h-8.1zM213.9 437.7h8.1v1.0h-8.1zM286.9 437.7h8.1v1.0h-8.1zM384.4 437.7h8.1v1.0h-8.1zM400.6 437.7h8.1v1.0h-8.1zM506.1 437.7h8.1v1.0h-8.1zM530.5 437.7h8.1v1.0h-8.1zM173.3 438.7h8.1v1.0h-8.1zM246.4 438.7h8.1v1.0h-8.1zM400.6 438.7h8.1v1.0h-8.1zM579.1 438.7h16.2v1.0h-16.2zM140.9 439.7h16.2v1.0h-16.2zM173.3 439.7h8.1v1.0h-8.1zM230.1 439.7h8.1v1.0h-8.1zM246.4 440.7h16.2v1.0h-16.2zM311.3 440.7h8.1v1.0h-8.1zM416.8 440.7h8.1v1.0h-8.1zM457.4 440.7h8.1v1.0h-8.1zM92.2 441.7h8.1v1.0h-8.1zM149.0 441.7h8.1v1.0h-8.1zM181.4 441.7h8.1v1.0h-8.1zM238.2 441.7h8.1v1.0h-8.1zM441.2 441.7h8.1v1.0h-8.1zM498.0 441.7h8.1v1.0h-8.1zM571.0 441.7h8.1v1.0h-8.1zM619.7 441.7h8.1v1.0h-8.1zM644.1 441.7h8.1v1.0h-8.1zM92.2 442.7h24.4v1.0h-24.4zM165.2 442.7h8.1v1.0h-8.1zM181.4 442.7h8.1v1.0h-8.1zM278.8 442.7h8.1v1.0h-8.1zM424.9 442.7h8.1v1.0h-8.1zM441.2 442.7h8.1v1.0h-8.1zM530.5 442.7h8.1v1.0h-8.1zM571.0 442.7h8.1v1.0h-8.1zM603.5 442.7h8.1v1.0h-8.1zM84.0 443.7h8.1v1.0h-8.1zM189.6 443.7h24.4v1.0h-24.4zM222.0 443.7h8.1v1.0h-8.1zM506.1 443.7h8.1v1.0h-8.1z"/><path fill="#ffffff" fill-opacity="0.084" d="M165.2 256.7h8.1v1.0h-8.1zM189.6 256.7h8.1v1.0h-8.1zM433.1 256.7h8.1v1.0h-8.1zM473.6 256.7h8.1v1.0h-8.1zM67.8 257.7h8.1v1.0h-8.1zM116.5 257.7h8.1v1.0h-8.1zM157.1 257.7h8.1v1.0h-8.1zM189.6 257.7h8.1v1.0h-8.1zM335.7 257.7h8.1v1.0h-8.1zM611.6 257.7h8.1v1.0h-8.1zM165.2 258.7h8.1v1.0h-8.1zM311.3 258.7h8.1v1.0h-8.1zM189.6 259.7h8.1v1.0h-8.1zM327.5 259.7h16.2v1.0h-16.2zM384.4 259.7h8.1v1.0h-8.1zM433.1 259.7h8.1v1.0h-8.1zM562.9 259.7h8.1v1.0h-8.1zM611.6 259.7h8.1v1.0h-8.1zM351.9 260.7h8.1v1.0h-8.1zM424.9 260.7h8.1v1.0h-8.1zM562.9 260.7h8.1v1.0h-8.1zM189.6 261.7h8.1v1.0h-8.1zM424.9 261.7h8.1v1.0h-8.1zM465.5 261.7h8.1v1.0h-8.1zM554.8 261.7h8.1v1.0h-8.1zM67.8 262.7h8.1v1.0h-8.1zM157.1 262.7h16.2v1.0h-16.2zM189.6 262.7h8.1v1.0h-8.1zM311.3 262.7h8.1v1.0h-8.1zM335.7 262.7h8.1v1.0h-8.1zM619.7 262.7h8.1v1.0h-8.1zM311.3 263.7h8.1v1.0h-8.1zM554.8 263.7h16.2v1.0h-16.2zM587.3 263.7h8.1v1.0h-8.1zM116.5 264.7h8.1v1.0h-8.1zM181.4 264.7h16.2v1.0h-16.2zM254.5 264.7h8.1v1.0h-8.1zM311.3 264.7h16.2v1.0h-16.2zM433.1 264.7h8.1v1.0h-8.1zM165.2 265.7h8.1v1.0h-8.1zM181.4 265.7h8.1v1.0h-8.1zM311.3 265.7h8.1v1.0h-8.1zM351.9 265.7h8.1v1.0h-8.1zM384.4 265.7h8.1v1.0h-8.1zM311.3 266.7h8.1v1.0h-8.1zM619.7 266.7h8.1v1.0h-8.1zM424.9 267.7h8.1v1.0h-8.1zM75.9 268.7h8.1v1.0h-8.1zM157.1 268.7h8.1v1.0h-8.1zM222.0 269.7h8.1v1.0h-8.1zM278.8 270.7h8.1v1.0h-8.1zM392.5 270.7h8.1v1.0h-8.1zM181.4 271.7h8.1v1.0h-8.1zM278.8 271.7h8.1v1.0h-8.1zM416.8 271.7h8.1v1.0h-8.1zM433.1 271.7h8.1v1.0h-8.1zM116.5 272.7h8.1v1.0h-8.1zM157.1 272.7h16.2v1.0h-16.2zM424.9 272.7h8.1v1.0h-8.1zM165.2 273.7h8.1v1.0h-8.1zM587.3 273.7h8.1v1.0h-8.1zM189.6 274.7h8.1v1.0h-8.1zM205.8 274.7h8.1v1.0h-8.1zM424.9 274.7h8.1v1.0h-8.1zM481.8 274.7h8.1v1.0h-8.1zM587.3 274.7h8.1v1.0h-8.1zM278.8 275.7h8.1v1.0h-8.1zM351.9 275.7h8.1v1.0h-8.1zM433.1 275.7h8.1v1.0h-8.1zM611.6 278.7h8.1v1.0h-8.1zM84.0 279.7h8.1v1.0h-8.1zM116.5 279.7h8.1v1.0h-8.1zM189.6 279.7h8.1v1.0h-8.1zM384.4 279.7h8.1v1.0h-8.1zM424.9 279.7h8.1v1.0h-8.1zM84.0 280.7h8.1v1.0h-8.1zM213.9 280.7h8.1v1.0h-8.1zM619.7 280.7h8.1v1.0h-8.1zM157.1 281.7h8.1v1.0h-8.1zM619.7 281.7h8.1v1.0h-8.1zM173.3 282.7h8.1v1.0h-8.1zM433.1 283.7h8.1v1.0h-8.1zM165.2 284.7h8.1v1.0h-8.1zM189.6 284.7h8.1v1.0h-8.1zM416.8 284.7h8.1v1.0h-8.1zM619.7 284.7h8.1v1.0h-8.1zM319.4 285.7h8.1v1.0h-8.1zM132.7 286.7h8.1v1.0h-8.1zM424.9 286.7h8.1v1.0h-8.1zM619.7 286.7h8.1v1.0h-8.1zM132.7 288.7h8.1v1.0h-8.1zM319.4 288.7h8.1v1.0h-8.1zM498.0 288.7h8.1v1.0h-8.1zM619.7 288.7h8.1v1.0h-8.1zM319.4 289.7h8.1v1.0h-8.1zM100.3 290.7h8.1v1.0h-8.1zM522.3 291.7h8.1v1.0h-8.1zM84.0 292.7h8.1v1.0h-8.1zM611.6 292.7h8.1v1.0h-8.1zM644.1 292.7h8.1v1.0h-8.1zM84.0 293.7h8.1v1.0h-8.1zM132.7 293.7h8.1v1.0h-8.1zM181.4 293.7h8.1v1.0h-8.1zM286.9 293.7h8.1v1.0h-8.1zM84.0 294.7h8.1v1.0h-8.1zM100.3 294.7h8.1v1.0h-8.1zM149.0 294.7h8.1v1.0h-8.1zM400.6 294.7h8.1v1.0h-8.1zM546.7 294.7h8.1v1.0h-8.1zM100.3 295.7h8.1v1.0h-8.1zM400.6 295.7h8.1v1.0h-8.1zM392.5 296.7h8.1v1.0h-8.1zM522.3 297.7h8.1v1.0h-8.1zM595.4 297.7h8.1v1.0h-8.1zM189.6 300.7h8.1v1.0h-8.1zM246.4 300.7h8.1v1.0h-8.1zM246.4 301.7h8.1v1.0h-8.1zM303.2 301.7h8.1v1.0h-8.1zM611.6 301.7h8.1v1.0h-8.1zM441.2 302.7h8.1v1.0h-8.1zM457.4 302.7h8.1v1.0h-8.1zM173.3 303.7h8.1v1.0h-8.1zM230.1 304.7h8.1v1.0h-8.1zM376.2 304.7h8.1v1.0h-8.1zM481.8 304.7h8.1v1.0h-8.1zM611.6 304.7h8.1v1.0h-8.1zM611.6 305.7h8.1v1.0h-8.1zM449.3 307.7h8.1v1.0h-8.1zM603.5 307.7h8.1v1.0h-8.1zM165.2 308.7h8.1v1.0h-8.1zM124.6 310.7h8.1v1.0h-8.1zM376.2 310.7h8.1v1.0h-8.1zM197.7 311.7h8.1v1.0h-8.1zM433.1 311.7h8.1v1.0h-8.1zM506.1 311.7h8.1v1.0h-8.1zM149.0 312.7h8.1v1.0h-8.1zM116.5 313.7h8.1v1.0h-8.1zM205.8 313.7h8.1v1.0h-8.1zM238.2 313.7h8.1v1.0h-8.1zM433.1 314.7h8.1v1.0h-8.1zM498.0 314.7h8.1v1.0h-8.1zM165.2 315.7h8.1v1.0h-8.1zM84.0 316.7h8.1v1.0h-8.1zM108.4 318.7h8.1v1.0h-8.1zM140.9 320.7h8.1v1.0h-8.1zM489.9 320.7h8.1v1.0h-8.1zM636.0 322.7h16.2v1.0h-16.2zM181.4 324.7h8.1v1.0h-8.1zM222.0 324.7h8.1v1.0h-8.1zM213.9 325.7h8.1v1.0h-8.1zM506.1 325.7h8.1v1.0h-8.1zM319.4 327.7h8.1v1.0h-8.1zM351.9 327.7h8.1v1.0h-8.1zM530.5 327.7h8.1v1.0h-8.1zM165.2 329.7h8.1v1.0h-8.1zM489.9 330.7h8.1v1.0h-8.1zM149.0 334.7h8.1v1.0h-8.1zM295.1 335.7h8.1v1.0h-8.1zM278.8 336.7h8.1v1.0h-8.1zM295.1 337.7h8.1v1.0h-8.1zM319.4 337.7h8.1v1.0h-8.1zM416.8 337.7h8.1v1.0h-8.1zM278.8 338.7h8.1v1.0h-8.1zM457.4 338.7h8.1v1.0h-8.1zM295.1 339.7h8.1v1.0h-8.1zM644.1 339.7h8.1v1.0h-8.1zM286.9 342.7h8.1v1.0h-8.1zM189.6 343.7h8.1v1.0h-8.1zM319.4 343.7h8.1v1.0h-8.1zM108.4 344.7h8.1v1.0h-8.1zM319.4 344.7h8.1v1.0h-8.1zM384.4 344.7h8.1v1.0h-8.1zM400.6 345.7h8.1v1.0h-8.1zM213.9 346.7h8.1v1.0h-8.1zM351.9 348.7h8.1v1.0h-8.1zM343.8 350.7h16.2v1.0h-16.2zM644.1 350.7h8.1v1.0h-8.1zM181.4 351.7h8.1v1.0h-8.1zM67.8 352.7h8.1v1.0h-8.1zM238.2 353.7h8.1v1.0h-8.1zM270.7 353.7h8.1v1.0h-8.1zM465.5 353.7h8.1v1.0h-8.1zM75.9 355.7h8.1v1.0h-8.1zM270.7 358.7h8.1v1.0h-8.1zM124.6 359.7h8.1v1.0h-8.1zM197.7 359.7h8.1v1.0h-8.1zM335.7 359.7h8.1v1.0h-8.1zM238.2 360.7h8.1v1.0h-8.1zM270.7 360.7h8.1v1.0h-8.1zM222.0 362.7h8.1v1.0h-8.1zM433.1 362.7h8.1v1.0h-8.1zM230.1 367.7h8.1v1.0h-8.1zM457.4 367.7h8.1v1.0h-8.1zM124.6 368.7h8.1v1.0h-8.1zM149.0 368.7h8.1v1.0h-8.1zM116.5 369.7h16.2v1.0h-16.2zM246.4 370.7h8.1v1.0h-8.1zM149.0 371.7h8.1v1.0h-8.1zM92.2 372.7h8.1v1.0h-8.1zM124.6 372.7h8.1v1.0h-8.1zM149.0 372.7h8.1v1.0h-8.1zM449.3 372.7h8.1v1.0h-8.1zM124.6 373.7h8.1v1.0h-8.1zM149.0 374.7h8.1v1.0h-8.1zM181.4 375.7h16.2v1.0h-16.2zM360.0 375.7h8.1v1.0h-8.1zM197.7 376.7h8.1v1.0h-8.1zM173.3 377.7h8.1v1.0h-8.1zM189.6 377.7h8.1v1.0h-8.1zM189.6 378.7h8.1v1.0h-8.1zM84.0 379.7h8.1v1.0h-8.1zM173.3 379.7h8.1v1.0h-8.1zM384.4 379.7h8.1v1.0h-8.1zM197.7 383.7h8.1v1.0h-8.1zM84.0 384.7h8.1v1.0h-8.1zM157.1 386.7h8.1v1.0h-8.1zM530.5 386.7h8.1v1.0h-8.1zM278.8 387.7h16.2v1.0h-16.2zM368.1 387.7h8.1v1.0h-8.1zM230.1 388.7h8.1v1.0h-8.1zM433.1 388.7h8.1v1.0h-8.1zM343.8 389.7h8.1v1.0h-8.1zM343.8 391.7h8.1v1.0h-8.1zM384.4 391.7h8.1v1.0h-8.1zM400.6 391.7h8.1v1.0h-8.1zM644.1 391.7h8.1v1.0h-8.1zM295.1 392.7h8.1v1.0h-8.1zM270.7 393.7h8.1v1.0h-8.1zM327.5 394.7h8.1v1.0h-8.1zM506.1 394.7h8.1v1.0h-8.1zM197.7 395.7h8.1v1.0h-8.1zM295.1 396.7h8.1v1.0h-8.1zM116.5 397.7h8.1v1.0h-8.1zM270.7 397.7h8.1v1.0h-8.1zM416.8 397.7h8.1v1.0h-8.1zM108.4 398.7h8.1v1.0h-8.1zM124.6 398.7h8.1v1.0h-8.1zM67.8 399.7h8.1v1.0h-8.1zM181.4 399.7h8.1v1.0h-8.1zM92.2 401.7h8.1v1.0h-8.1zM295.1 402.7h8.1v1.0h-8.1zM92.2 403.7h8.1v1.0h-8.1zM181.4 403.7h8.1v1.0h-8.1zM295.1 403.7h8.1v1.0h-8.1zM360.0 405.7h8.1v1.0h-8.1zM197.7 408.7h8.1v1.0h-8.1zM498.0 409.7h8.1v1.0h-8.1zM522.3 409.7h8.1v1.0h-8.1zM611.6 409.7h8.1v1.0h-8.1zM92.2 410.7h8.1v1.0h-8.1zM522.3 411.7h8.1v1.0h-8.1zM514.2 412.7h8.1v1.0h-8.1zM343.8 413.7h8.1v1.0h-8.1zM465.5 415.7h8.1v1.0h-8.1zM514.2 415.7h8.1v1.0h-8.1zM116.5 417.7h8.1v1.0h-8.1zM246.4 417.7h8.1v1.0h-8.1zM197.7 418.7h8.1v1.0h-8.1zM546.7 418.7h8.1v1.0h-8.1zM360.0 419.7h8.1v1.0h-8.1zM424.9 419.7h8.1v1.0h-8.1zM116.5 420.7h8.1v1.0h-8.1zM465.5 420.7h8.1v1.0h-8.1zM489.9 421.7h8.1v1.0h-8.1zM619.7 421.7h8.1v1.0h-8.1zM238.2 422.7h8.1v1.0h-8.1zM498.0 425.7h8.1v1.0h-8.1zM84.0 427.7h8.1v1.0h-8.1zM116.5 427.7h8.1v1.0h-8.1zM270.7 428.7h8.1v1.0h-8.1zM457.4 429.7h8.1v1.0h-8.1zM327.5 430.7h8.1v1.0h-8.1zM92.2 431.7h8.1v1.0h-8.1zM173.3 432.7h8.1v1.0h-8.1zM571.0 432.7h8.1v1.0h-8.1zM189.6 433.7h8.1v1.0h-8.1zM165.2 434.7h8.1v1.0h-8.1zM579.1 435.7h8.1v1.0h-8.1zM644.1 435.7h8.1v1.0h-8.1zM92.2 437.7h8.1v1.0h-8.1zM149.0 437.7h8.1v1.0h-8.1zM636.0 437.7h8.1v1.0h-8.1zM149.0 438.7h8.1v1.0h-8.1zM465.5 438.7h8.1v1.0h-8.1zM611.6 438.7h8.1v1.0h-8.1zM311.3 439.7h8.1v1.0h-8.1zM351.9 439.7h8.1v1.0h-8.1zM433.1 439.7h8.1v1.0h-8.1zM465.5 439.7h8.1v1.0h-8.1zM351.9 441.7h8.1v1.0h-8.1zM327.5 442.7h8.1v1.0h-8.1zM351.9 442.7h8.1v1.0h-8.1zM457.4 442.7h8.1v1.0h-8.1zM181.4 443.7h8.1v1.0h-8.1z"/><path fill="#ffffff" fill-opacity="0.112" d="M311.3 256.7h8.1v1.0h-8.1zM424.9 256.7h8.1v1.0h-8.1zM619.7 256.7h8.1v1.0h-8.1zM433.1 257.7h8.1v1.0h-8.1zM619.7 257.7h8.1v1.0h-8.1zM433.1 258.7h8.1v1.0h-8.1zM619.7 258.7h8.1v1.0h-8.1zM100.3 259.7h8.1v1.0h-8.1zM554.8 259.7h8.1v1.0h-8.1zM181.4 260.7h8.1v1.0h-8.1zM278.8 260.7h8.1v1.0h-8.1zM311.3 260.7h8.1v1.0h-8.1zM384.4 260.7h8.1v1.0h-8.1zM116.5 261.7h8.1v1.0h-8.1zM116.5 262.7h8.1v1.0h-8.1zM424.9 262.7h16.2v1.0h-16.2zM554.8 262.7h8.1v1.0h-8.1zM619.7 264.7h8.1v1.0h-8.1zM619.7 265.7h8.1v1.0h-8.1zM165.2 266.7h8.1v1.0h-8.1zM181.4 266.7h8.1v1.0h-8.1zM278.8 266.7h8.1v1.0h-8.1zM351.9 266.7h8.1v1.0h-8.1zM424.9 266.7h8.1v1.0h-8.1zM116.5 267.7h8.1v1.0h-8.1zM611.6 267.7h8.1v1.0h-8.1zM376.2 268.7h8.1v1.0h-8.1zM278.8 273.7h8.1v1.0h-8.1zM278.8 274.7h8.1v1.0h-8.1zM424.9 275.7h8.1v1.0h-8.1zM498.0 275.7h8.1v1.0h-8.1zM424.9 278.7h8.1v1.0h-8.1zM278.8 282.7h8.1v1.0h-8.1zM424.9 282.7h8.1v1.0h-8.1zM619.7 282.7h8.1v1.0h-8.1zM400.6 287.7h8.1v1.0h-8.1zM562.9 287.7h8.1v1.0h-8.1zM278.8 288.7h8.1v1.0h-8.1zM100.3 296.7h8.1v1.0h-8.1zM522.3 298.7h8.1v1.0h-8.1zM173.3 299.7h8.1v1.0h-8.1zM449.3 311.7h8.1v1.0h-8.1zM270.7 324.7h8.1v1.0h-8.1zM116.5 328.7h8.1v1.0h-8.1zM319.4 339.7h8.1v1.0h-8.1zM295.1 343.7h8.1v1.0h-8.1zM108.4 353.7h8.1v1.0h-8.1zM222.0 357.7h8.1v1.0h-8.1zM433.1 361.7h8.1v1.0h-8.1zM197.7 364.7h8.1v1.0h-8.1zM522.3 368.7h8.1v1.0h-8.1zM197.7 369.7h8.1v1.0h-8.1zM124.6 375.7h8.1v1.0h-8.1zM392.5 377.7h8.1v1.0h-8.1zM197.7 396.7h8.1v1.0h-8.1zM67.8 400.7h8.1v1.0h-8.1zM295.1 405.7h8.1v1.0h-8.1zM530.5 406.7h8.1v1.0h-8.1zM522.3 408.7h8.1v1.0h-8.1zM189.6 410.7h8.1v1.0h-8.1zM360.0 411.7h8.1v1.0h-8.1zM571.0 412.7h8.1v1.0h-8.1zM506.1 424.7h8.1v1.0h-8.1zM246.4 442.7h8.1v1.0h-8.1zM465.5 443.7h8.1v1.0h-8.1z"/></g>
<g><line x1="27.0" x2="51.4" y1="257.80" y2="257.80" stroke="#000" stroke-opacity="0.90" stroke-width="1.1" stroke-dasharray="6.9 0.4 8.1 0.2 6.4 0.5 11.9 0.4"/><line x1="29.4" x2="51.4" y1="258.30" y2="258.30" stroke="#000" stroke-opacity="0.86" stroke-width="1.1" stroke-dasharray="3.4 0.2 8.8 0.2 7.8 0.6 7.7 0.4 10.2 0.4"/><line x1="27.7" x2="51.4" y1="258.80" y2="258.80" stroke="#000" stroke-opacity="0.93" stroke-width="1.1" stroke-dasharray="4.5 0.2 8.1 0.5 4.5 0.5 7.3 0.5 6.2 0.3"/><line x1="28.0" x2="51.4" y1="259.30" y2="259.30" stroke="#000" stroke-opacity="0.91" stroke-width="1.1" stroke-dasharray="6.0 0.4 5.3 0.5 6.6 0.6 9.6 0.2 8.8 0.3"/><line x1="25.9" x2="51.4" y1="259.80" y2="259.80" stroke="#000" stroke-opacity="0.90" stroke-width="1.1" stroke-dasharray="10.7 0.4 7.5 0.3 10.3 0.6 7.1 0.4"/><line x1="27.2" x2="51.4" y1="260.30" y2="260.30" stroke="#000" stroke-opacity="0.82" stroke-width="1.1" stroke-dasharray="6.7 0.2 6.2 0.2 5.5 0.4 11.2 0.2"/><line x1="30.4" x2="51.4" y1="260.80" y2="260.80" stroke="#000" stroke-opacity="0.96" stroke-width="1.1" stroke-dasharray="5.2 0.2 11.5 0.3 4.9 0.4 10.6 0.3"/><line x1="27.2" x2="51.4" y1="261.30" y2="261.30" stroke="#000" stroke-opacity="0.73" stroke-width="1.1" stroke-dasharray="11.2 0.5 8.3 0.3 11.7 0.2"/><line x1="28.6" x2="51.4" y1="261.80" y2="261.80" stroke="#000" stroke-opacity="0.89" stroke-width="1.1" stroke-dasharray="4.4 0.5 6.9 0.3 9.4 0.3 4.5 0.3 3.3 0.3"/><line x1="26.8" x2="51.4" y1="262.30" y2="262.30" stroke="#000" stroke-opacity="0.83" stroke-width="1.1" stroke-dasharray="7.3 0.2 4.9 0.2 7.7 0.4 3.0 0.4 10.8 0.2"/><line x1="27.8" x2="51.4" y1="262.80" y2="262.80" stroke="#000" stroke-opacity="0.76" stroke-width="1.1" stroke-dasharray="10.8 0.3 10.6 0.6 5.3 0.5 11.2 0.2"/><line x1="35.4" x2="51.4" y1="263.30" y2="263.30" stroke="#000" stroke-opacity="0.72" stroke-width="1.1" stroke-dasharray="7.7 0.5 10.7 0.6 7.6 0.2 6.1 0.3"/><line x1="30.8" x2="51.4" y1="263.80" y2="263.80" stroke="#000" stroke-opacity="0.86" stroke-width="1.1" stroke-dasharray="5.8 0.4 8.8 0.5 3.4 0.4 5.9 0.4 9.5 0.5"/><line x1="28.0" x2="51.4" y1="264.30" y2="264.30" stroke="#000" stroke-opacity="0.94" stroke-width="1.1" stroke-dasharray="5.8 0.5 3.2 0.4 5.1 0.5 3.7 0.5 9.2 0.4 7.3 0.5"/><line x1="27.4" x2="51.4" y1="264.80" y2="264.80" stroke="#000" stroke-opacity="0.82" stroke-width="1.1" stroke-dasharray="3.1 0.4 10.2 0.4 3.8 0.2 4.6 0.4 5.8 0.3 10.9 0.2"/><line x1="31.9" x2="51.4" y1="265.30" y2="265.30" stroke="#000" stroke-opacity="0.92" stroke-width="1.1" stroke-dasharray="5.6 0.4 4.3 0.3 8.8 0.5 4.5 0.4 11.8 0.4"/><line x1="26.2" x2="51.4" y1="265.80" y2="265.80" stroke="#000" stroke-opacity="0.87" stroke-width="1.1" stroke-dasharray="8.9 0.5 11.4 0.2 5.2 0.2 12.0 0.6"/><line x1="35.3" x2="51.4" y1="266.30" y2="266.30" stroke="#000" stroke-opacity="0.76" stroke-width="1.1" stroke-dasharray="5.7 0.2 6.2 0.2 3.2 0.2 7.0 0.2 3.5 0.5 9.9 0.6"/><line x1="39.4" x2="51.4" y1="266.80" y2="266.80" stroke="#000" stroke-opacity="0.88" stroke-width="1.1" stroke-dasharray="7.8 0.3 6.0 0.2 9.4 0.3 9.6 0.6"/><line x1="33.8" x2="51.4" y1="267.30" y2="267.30" stroke="#000" stroke-opacity="0.86" stroke-width="1.1" stroke-dasharray="11.0 0.3 8.3 0.4 8.4 0.3 7.1 0.4"/><line x1="39.6" x2="51.4" y1="267.80" y2="267.80" stroke="#000" stroke-opacity="0.73" stroke-width="1.1" stroke-dasharray="10.2 0.4 8.8 0.4 10.2 0.3"/><line x1="29.0" x2="51.4" y1="268.30" y2="268.30" stroke="#000" stroke-opacity="0.96" stroke-width="1.1" stroke-dasharray="6.8 0.3 7.6 0.6 4.4 0.4 8.5 0.6 6.1 0.4"/><line x1="27.4" x2="51.4" y1="268.80" y2="268.80" stroke="#000" stroke-opacity="0.74" stroke-width="1.1" stroke-dasharray="5.5 0.3 5.7 0.3 5.6 0.3 6.1 0.5 8.6 0.6"/><line x1="34.2" x2="51.4" y1="269.30" y2="269.30" stroke="#000" stroke-opacity="0.78" stroke-width="1.1" stroke-dasharray="3.2 0.4 3.1 0.2 8.8 0.4 3.9 0.4 6.8 0.5 8.2 0.4"/><line x1="34.9" x2="51.4" y1="269.80" y2="269.80" stroke="#000" stroke-opacity="0.91" stroke-width="1.1" stroke-dasharray="9.5 0.2 3.1 0.3 11.7 0.2 3.2 0.6 4.3 0.3"/><line x1="34.1" x2="51.4" y1="270.30" y2="270.30" stroke="#000" stroke-opacity="0.82" stroke-width="1.1" stroke-dasharray="9.6 0.2 5.4 0.3 3.1 0.5 3.8 0.2 7.0 0.5"/><line x1="35.0" x2="51.4" y1="270.80" y2="270.80" stroke="#000" stroke-opacity="0.76" stroke-width="1.1" stroke-dasharray="4.6 0.4 3.8 0.2 11.6 0.5 8.5 0.5"/><line x1="34.0" x2="51.4" y1="271.30" y2="271.30" stroke="#000" stroke-opacity="0.87" stroke-width="1.1" stroke-dasharray="3.0 0.2 12.0 0.2 11.9 0.4 7.4 0.2"/><line x1="35.4" x2="51.4" y1="271.80" y2="271.80" stroke="#000" stroke-opacity="0.97" stroke-width="1.1" stroke-dasharray="5.9 0.2 11.7 0.4 6.7 0.5 8.8 0.4"/><line x1="34.5" x2="51.4" y1="272.30" y2="272.30" stroke="#000" stroke-opacity="0.87" stroke-width="1.1" stroke-dasharray="4.7 0.3 8.6 0.5 11.7 0.5 8.7 0.4"/><line x1="35.2" x2="51.4" y1="272.80" y2="272.80" stroke="#000" stroke-opacity="0.73" stroke-width="1.1" stroke-dasharray="7.3 0.3 4.4 0.5 10.3 0.6 10.9 0.6"/><line x1="28.8" x2="51.4" y1="273.30" y2="273.30" stroke="#000" stroke-opacity="0.82" stroke-width="1.1" stroke-dasharray="9.5 0.5 3.7 0.3 5.0 0.2 5.4 0.4 5.8 0.2"/><line x1="28.3" x2="51.4" y1="273.80" y2="273.80" stroke="#000" stroke-opacity="0.78" stroke-width="1.1" stroke-dasharray="9.2 0.3 8.8 0.2 11.4 0.3"/><line x1="32.7" x2="51.4" y1="274.30" y2="274.30" stroke="#000" stroke-opacity="0.93" stroke-width="1.1" stroke-dasharray="3.3 0.3 11.9 0.2 10.7 0.3 7.3 0.3"/><line x1="29.6" x2="51.4" y1="274.80" y2="274.80" stroke="#000" stroke-opacity="0.84" stroke-width="1.1" stroke-dasharray="4.3 0.5 4.9 0.4 10.1 0.4 3.9 0.5 11.3 0.5"/><line x1="24.9" x2="51.4" y1="275.30" y2="275.30" stroke="#000" stroke-opacity="0.77" stroke-width="1.1" stroke-dasharray="6.0 0.5 11.4 0.3 10.4 0.5 5.0 0.5"/><line x1="27.7" x2="51.4" y1="275.80" y2="275.80" stroke="#000" stroke-opacity="0.86" stroke-width="1.1" stroke-dasharray="5.3 0.4 11.6 0.2 8.0 0.4 4.5 0.4"/><line x1="27.9" x2="51.4" y1="276.30" y2="276.30" stroke="#000" stroke-opacity="0.93" stroke-width="1.1" stroke-dasharray="7.8 0.3 4.3 0.3 7.7 0.4 4.2 0.5 7.4 0.6"/><line x1="29.2" x2="51.4" y1="276.80" y2="276.80" stroke="#000" stroke-opacity="0.92" stroke-width="1.1" stroke-dasharray="6.7 0.5 7.9 0.2 11.1 0.6 4.1 0.3"/><line x1="28.3" x2="51.4" y1="277.30" y2="277.30" stroke="#000" stroke-opacity="0.82" stroke-width="1.1" stroke-dasharray="3.6 0.4 7.3 0.6 10.2 0.3 9.1 0.6"/><line x1="27.1" x2="51.4" y1="277.80" y2="277.80" stroke="#000" stroke-opacity="0.76" stroke-width="1.1" stroke-dasharray="5.3 0.4 3.1 0.4 5.7 0.2 7.8 0.2 4.8 0.6 6.9 0.4"/><line x1="27.2" x2="51.4" y1="278.30" y2="278.30" stroke="#000" stroke-opacity="0.87" stroke-width="1.1" stroke-dasharray="5.7 0.4 8.8 0.4 6.8 0.2 9.8 0.2"/><line x1="27.2" x2="51.4" y1="278.80" y2="278.80" stroke="#000" stroke-opacity="0.78" stroke-width="1.1" stroke-dasharray="10.3 0.2 4.7 0.4 8.2 0.4 11.2 0.4"/><line x1="30.5" x2="51.4" y1="279.30" y2="279.30" stroke="#000" stroke-opacity="0.77" stroke-width="1.1" stroke-dasharray="9.5 0.2 7.3 0.2 9.5 0.3 10.1 0.2"/><line x1="30.3" x2="51.4" y1="279.80" y2="279.80" stroke="#000" stroke-opacity="0.90" stroke-width="1.1" stroke-dasharray="4.9 0.2 8.4 0.6 6.6 0.5 9.1 0.6"/><line x1="29.0" x2="51.4" y1="280.30" y2="280.30" stroke="#000" stroke-opacity="0.74" stroke-width="1.1" stroke-dasharray="11.2 0.2 8.3 0.4 11.1 0.3"/><line x1="26.6" x2="51.4" y1="280.80" y2="280.80" stroke="#000" stroke-opacity="0.87" stroke-width="1.1" stroke-dasharray="11.9 0.5 9.0 0.4 3.0 0.5 6.2 0.2"/><line x1="39.8" x2="51.4" y1="281.30" y2="281.30" stroke="#000" stroke-opacity="0.90" stroke-width="1.1" stroke-dasharray="4.6 0.3 6.1 0.3 9.1 0.5 5.5 0.3 5.9 0.3"/><line x1="37.5" x2="51.4" y1="281.80" y2="281.80" stroke="#000" stroke-opacity="0.90" stroke-width="1.1" stroke-dasharray="11.7 0.6 11.7 0.5 6.3 0.5"/><line x1="24.3" x2="51.4" y1="282.30" y2="282.30" stroke="#000" stroke-opacity="0.81" stroke-width="1.1" stroke-dasharray="3.2 0.6 10.2 0.2 7.0 0.3 6.1 0.3 11.5 0.3"/><line x1="26.6" x2="51.4" y1="282.80" y2="282.80" stroke="#000" stroke-opacity="0.81" stroke-width="1.1" stroke-dasharray="10.5 0.2 7.1 0.5 4.9 0.4 11.6 0.2"/><line x1="27.3" x2="51.4" y1="283.30" y2="283.30" stroke="#000" stroke-opacity="0.73" stroke-width="1.1" stroke-dasharray="10.2 0.4 8.5 0.3 9.3 0.2 4.8 0.2"/><line x1="24.5" x2="51.4" y1="283.80" y2="283.80" stroke="#000" stroke-opacity="0.79" stroke-width="1.1" stroke-dasharray="6.8 0.3 11.2 0.3 3.4 0.5 9.5 0.2"/><line x1="26.7" x2="51.4" y1="284.30" y2="284.30" stroke="#000" stroke-opacity="0.94" stroke-width="1.1" stroke-dasharray="11.2 0.2 5.0 0.3 8.6 0.5 11.1 0.6"/><line x1="30.3" x2="51.4" y1="284.80" y2="284.80" stroke="#000" stroke-opacity="0.94" stroke-width="1.1" stroke-dasharray="9.7 0.4 10.4 0.4 5.6 0.2 9.9 0.2"/><line x1="37.3" x2="51.4" y1="285.30" y2="285.30" stroke="#000" stroke-opacity="0.77" stroke-width="1.1" stroke-dasharray="10.7 0.4 11.6 0.6 3.2 0.3 10.3 0.4"/><line x1="27.3" x2="51.4" y1="285.80" y2="285.80" stroke="#000" stroke-opacity="0.81" stroke-width="1.1" stroke-dasharray="6.5 0.2 8.5 0.5 6.5 0.3 11.1 0.4"/><line x1="26.0" x2="51.4" y1="286.30" y2="286.30" stroke="#000" stroke-opacity="0.77" stroke-width="1.1" stroke-dasharray="9.3 0.2 4.5 0.4 3.3 0.3 11.7 0.3 9.5 0.5"/><line x1="26.3" x2="51.4" y1="286.80" y2="286.80" stroke="#000" stroke-opacity="0.77" stroke-width="1.1" stroke-dasharray="4.3 0.5 6.1 0.2 7.7 0.5 7.7 0.5 6.1 0.5"/><line x1="34.8" x2="51.4" y1="287.30" y2="287.30" stroke="#000" stroke-opacity="0.89" stroke-width="1.1" stroke-dasharray="8.1 0.3 5.2 0.5 4.3 0.3 6.4 0.6 7.8 0.3"/><line x1="26.7" x2="51.4" y1="287.80" y2="287.80" stroke="#000" stroke-opacity="0.79" stroke-width="1.1" stroke-dasharray="9.1 0.3 5.7 0.6 5.4 0.4 11.9 0.2"/><line x1="26.7" x2="51.4" y1="288.30" y2="288.30" stroke="#000" stroke-opacity="0.91" stroke-width="1.1" stroke-dasharray="8.6 0.5 4.3 0.2 4.1 0.6 4.6 0.5 3.7 0.5 9.9 0.5"/><line x1="25.4" x2="51.4" y1="288.80" y2="288.80" stroke="#000" stroke-opacity="0.94" stroke-width="1.1" stroke-dasharray="12.0 0.2 3.4 0.5 8.3 0.3 9.1 0.4"/><line x1="28.1" x2="51.4" y1="289.30" y2="289.30" stroke="#000" stroke-opacity="0.97" stroke-width="1.1" stroke-dasharray="7.9 0.2 10.2 0.5 6.4 0.5 3.6 0.5 11.8 0.5"/><line x1="27.8" x2="51.4" y1="289.80" y2="289.80" stroke="#000" stroke-opacity="0.89" stroke-width="1.1" stroke-dasharray="6.9 0.6 10.0 0.3 9.3 0.2 6.0 0.2"/><line x1="27.8" x2="51.4" y1="290.30" y2="290.30" stroke="#000" stroke-opacity="0.84" stroke-width="1.1" stroke-dasharray="6.0 0.2 4.4 0.3 8.4 0.3 6.6 0.6 6.7 0.4"/><line x1="26.6" x2="51.4" y1="290.80" y2="290.80" stroke="#000" stroke-opacity="0.76" stroke-width="1.1" stroke-dasharray="7.2 0.5 7.8 0.3 6.4 0.2 9.0 0.5"/><line x1="28.1" x2="51.4" y1="291.30" y2="291.30" stroke="#000" stroke-opacity="0.92" stroke-width="1.1" stroke-dasharray="9.7 0.3 5.6 0.6 4.2 0.5 5.4 0.4 9.3 0.6"/><line x1="28.5" x2="51.4" y1="291.80" y2="291.80" stroke="#000" stroke-opacity="0.94" stroke-width="1.1" stroke-dasharray="11.7 0.2 5.7 0.5 7.8 0.2 9.9 0.6"/><line x1="25.9" x2="51.4" y1="292.30" y2="292.30" stroke="#000" stroke-opacity="0.88" stroke-width="1.1" stroke-dasharray="8.5 0.2 11.8 0.6 4.2 0.5 6.2 0.2"/><line x1="28.4" x2="51.4" y1="292.80" y2="292.80" stroke="#000" stroke-opacity="0.87" stroke-width="1.1" stroke-dasharray="3.5 0.5 6.9 0.4 6.7 0.6 7.9 0.5 11.5 0.4"/><line x1="30.1" x2="51.4" y1="293.30" y2="293.30" stroke="#000" stroke-opacity="0.77" stroke-width="1.1" stroke-dasharray="9.7 0.5 11.6 0.3 4.6 0.3 11.0 0.4"/><line x1="27.5" x2="51.4" y1="293.80" y2="293.80" stroke="#000" stroke-opacity="0.90" stroke-width="1.1" stroke-dasharray="3.9 0.5 6.9 0.5 10.2 0.5 3.4 0.4 3.5 0.3"/><line x1="25.6" x2="51.4" y1="294.30" y2="294.30" stroke="#000" stroke-opacity="0.77" stroke-width="1.1" stroke-dasharray="5.8 0.5 10.0 0.5 9.6 0.3 3.3 0.2"/><line x1="29.2" x2="51.4" y1="294.80" y2="294.80" stroke="#000" stroke-opacity="0.85" stroke-width="1.1" stroke-dasharray="7.2 0.5 6.4 0.3 11.6 0.2 7.8 0.2"/><line x1="28.1" x2="51.4" y1="295.30" y2="295.30" stroke="#000" stroke-opacity="0.89" stroke-width="1.1" stroke-dasharray="7.9 0.2 11.3 0.3 3.9 0.4 3.8 0.5 6.7 0.3"/><line x1="28.8" x2="51.4" y1="295.80" y2="295.80" stroke="#000" stroke-opacity="0.77" stroke-width="1.1" stroke-dasharray="8.4 0.2 7.9 0.5 9.6 0.4 6.9 0.3"/><line x1="26.8" x2="51.4" y1="296.30" y2="296.30" stroke="#000" stroke-opacity="0.97" stroke-width="1.1" stroke-dasharray="7.9 0.3 5.4 0.4 7.1 0.3 7.9 0.5 9.3 0.5"/><line x1="28.3" x2="51.4" y1="296.80" y2="296.80" stroke="#000" stroke-opacity="0.74" stroke-width="1.1" stroke-dasharray="8.2 0.5 9.6 0.6 4.3 0.4 10.1 0.3"/><line x1="29.0" x2="51.4" y1="297.30" y2="297.30" stroke="#000" stroke-opacity="0.93" stroke-width="1.1" stroke-dasharray="5.0 0.5 9.7 0.4 7.6 0.6 4.2 0.2 7.7 0.2"/><line x1="27.4" x2="51.4" y1="297.80" y2="297.80" stroke="#000" stroke-opacity="0.96" stroke-width="1.1" stroke-dasharray="7.6 0.3 5.9 0.2 6.3 0.2 10.6 0.4"/><line x1="29.1" x2="51.4" y1="298.30" y2="298.30" stroke="#000" stroke-opacity="0.83" stroke-width="1.1" stroke-dasharray="3.3 0.5 9.0 0.4 6.7 0.5 11.8 0.4"/><line x1="34.4" x2="51.4" y1="298.80" y2="298.80" stroke="#000" stroke-opacity="0.78" stroke-width="1.1" stroke-dasharray="9.4 0.5 4.1 0.2 4.0 0.2 6.0 0.4 8.2 0.4"/><line x1="29.7" x2="51.4" y1="299.30" y2="299.30" stroke="#000" stroke-opacity="0.96" stroke-width="1.1" stroke-dasharray="9.8 0.2 3.5 0.2 8.5 0.4 5.3 0.5 6.1 0.5"/><line x1="30.4" x2="51.4" y1="299.80" y2="299.80" stroke="#000" stroke-opacity="0.74" stroke-width="1.1" stroke-dasharray="8.5 0.2 8.1 0.5 4.3 0.5 6.6 0.4 7.7 0.5"/><line x1="26.8" x2="51.4" y1="300.30" y2="300.30" stroke="#000" stroke-opacity="0.84" stroke-width="1.1" stroke-dasharray="4.4 0.4 3.2 0.3 10.0 0.5 10.6 0.5"/><line x1="26.5" x2="51.4" y1="300.80" y2="300.80" stroke="#000" stroke-opacity="0.82" stroke-width="1.1" stroke-dasharray="9.1 0.2 8.7 0.3 10.9 0.2 4.5 0.4"/><line x1="25.2" x2="51.4" y1="301.30" y2="301.30" stroke="#000" stroke-opacity="0.87" stroke-width="1.1" stroke-dasharray="3.4 0.4 6.9 0.2 10.4 0.5 8.9 0.3"/><line x1="27.5" x2="51.4" y1="301.80" y2="301.80" stroke="#000" stroke-opacity="0.94" stroke-width="1.1" stroke-dasharray="7.2 0.4 5.7 0.3 8.6 0.3 10.4 0.2"/><line x1="28.8" x2="51.4" y1="302.30" y2="302.30" stroke="#000" stroke-opacity="0.77" stroke-width="1.1" stroke-dasharray="5.8 0.5 3.3 0.4 5.9 0.6 7.7 0.4 8.8 0.5"/><line x1="27.7" x2="51.4" y1="302.80" y2="302.80" stroke="#000" stroke-opacity="0.87" stroke-width="1.1" stroke-dasharray="7.0 0.2 9.5 0.5 11.8 0.6 5.1 0.3"/><line x1="27.7" x2="51.4" y1="303.30" y2="303.30" stroke="#000" stroke-opacity="0.93" stroke-width="1.1" stroke-dasharray="8.9 0.3 10.9 0.4 5.1 0.5 11.2 0.2"/><line x1="24.0" x2="51.4" y1="303.80" y2="303.80" stroke="#000" stroke-opacity="0.89" stroke-width="1.1" stroke-dasharray="7.4 0.5 11.9 0.2 7.1 0.5 6.6 0.2"/><line x1="28.5" x2="51.4" y1="304.30" y2="304.30" stroke="#000" stroke-opacity="0.76" stroke-width="1.1" stroke-dasharray="10.7 0.5 10.3 0.2 8.9 0.4"/><line x1="31.8" x2="51.4" y1="304.80" y2="304.80" stroke="#000" stroke-opacity="0.79" stroke-width="1.1" stroke-dasharray="11.3 0.5 8.7 0.4 5.7 0.3 11.0 0.5"/><line x1="28.0" x2="51.4" y1="305.30" y2="305.30" stroke="#000" stroke-opacity="0.89" stroke-width="1.1" stroke-dasharray="8.9 0.3 11.5 0.4 10.6 0.2"/><line x1="28.4" x2="51.4" y1="305.80" y2="305.80" stroke="#000" stroke-opacity="0.82" stroke-width="1.1" stroke-dasharray="6.0 0.4 4.2 0.4 5.9 0.5 5.2 0.3 5.3 0.6 3.9 0.2"/><line x1="32.2" x2="51.4" y1="306.30" y2="306.30" stroke="#000" stroke-opacity="0.91" stroke-width="1.1" stroke-dasharray="3.7 0.2 8.4 0.2 5.2 0.3 8.6 0.2 3.6 0.3"/><line x1="37.6" x2="51.4" y1="306.80" y2="306.80" stroke="#000" stroke-opacity="0.86" stroke-width="1.1" stroke-dasharray="5.9 0.6 5.8 0.5 9.9 0.4 7.8 0.2"/><line x1="27.7" x2="51.4" y1="307.30" y2="307.30" stroke="#000" stroke-opacity="0.96" stroke-width="1.1" stroke-dasharray="7.7 0.4 11.5 0.5 5.7 0.6 11.2 0.2"/><line x1="27.7" x2="51.4" y1="307.80" y2="307.80" stroke="#000" stroke-opacity="0.86" stroke-width="1.1" stroke-dasharray="8.9 0.3 9.0 0.4 7.5 0.2 5.4 0.3"/><line x1="32.0" x2="51.4" y1="308.30" y2="308.30" stroke="#000" stroke-opacity="0.78" stroke-width="1.1" stroke-dasharray="3.4 0.5 6.3 0.4 10.9 0.4 5.2 0.3 8.6 0.5"/><line x1="26.9" x2="51.4" y1="308.80" y2="308.80" stroke="#000" stroke-opacity="0.77" stroke-width="1.1" stroke-dasharray="4.1 0.5 6.6 0.3 10.6 0.2 5.1 0.2 3.2 0.4"/><line x1="27.9" x2="51.4" y1="309.30" y2="309.30" stroke="#000" stroke-opacity="0.77" stroke-width="1.1" stroke-dasharray="4.2 0.5 3.5 0.4 3.5 0.6 11.0 0.2 11.5 0.4"/><line x1="38.0" x2="51.4" y1="309.80" y2="309.80" stroke="#000" stroke-opacity="0.83" stroke-width="1.1" stroke-dasharray="7.1 0.3 8.5 0.2 9.2 0.5 9.2 0.4"/><line x1="25.9" x2="51.4" y1="310.30" y2="310.30" stroke="#000" stroke-opacity="0.82" stroke-width="1.1" stroke-dasharray="8.8 0.3 5.4 0.4 4.5 0.5 10.4 0.4"/><line x1="26.0" x2="51.4" y1="310.80" y2="310.80" stroke="#000" stroke-opacity="0.76" stroke-width="1.1" stroke-dasharray="9.7 0.6 4.1 0.2 6.9 0.6 4.9 0.2 6.6 0.3"/><line x1="26.0" x2="51.4" y1="311.30" y2="311.30" stroke="#000" stroke-opacity="0.75" stroke-width="1.1" stroke-dasharray="3.8 0.4 11.5 0.2 5.1 0.3 3.8 0.2 5.9 0.3"/><line x1="27.3" x2="51.4" y1="311.80" y2="311.80" stroke="#000" stroke-opacity="0.95" stroke-width="1.1" stroke-dasharray="8.1 0.5 4.1 0.5 6.7 0.3 10.9 0.3"/><line x1="28.0" x2="51.4" y1="312.30" y2="312.30" stroke="#000" stroke-opacity="0.87" stroke-width="1.1" stroke-dasharray="5.2 0.4 6.0 0.2 3.3 0.5 11.1 0.3 9.9 0.3"/><line x1="26.4" x2="51.4" y1="312.80" y2="312.80" stroke="#000" stroke-opacity="0.80" stroke-width="1.1" stroke-dasharray="6.2 0.2 10.4 0.3 4.7 0.3 7.3 0.5 4.5 0.4"/><line x1="37.7" x2="51.4" y1="313.30" y2="313.30" stroke="#000" stroke-opacity="0.76" stroke-width="1.1" stroke-dasharray="6.3 0.5 6.0 0.4 5.4 0.3 3.7 0.4 5.6 0.2 5.4 0.2"/><line x1="26.8" x2="51.4" y1="313.80" y2="313.80" stroke="#000" stroke-opacity="0.95" stroke-width="1.1" stroke-dasharray="10.5 0.5 11.1 0.2 7.5 0.5"/><line x1="25.3" x2="51.4" y1="314.30" y2="314.30" stroke="#000" stroke-opacity="0.75" stroke-width="1.1" stroke-dasharray="6.1 0.2 9.9 0.5 6.6 0.2 11.3 0.5"/><line x1="36.8" x2="51.4" y1="314.80" y2="314.80" stroke="#000" stroke-opacity="0.97" stroke-width="1.1" stroke-dasharray="5.5 0.2 10.5 0.5 5.4 0.4 3.8 0.2 11.7 0.5"/><line x1="27.7" x2="51.4" y1="315.30" y2="315.30" stroke="#000" stroke-opacity="0.90" stroke-width="1.1" stroke-dasharray="7.8 0.4 9.1 0.2 11.7 0.4 7.3 0.3"/><line x1="25.4" x2="51.4" y1="315.80" y2="315.80" stroke="#000" stroke-opacity="0.77" stroke-width="1.1" stroke-dasharray="9.3 0.2 6.5 0.3 3.0 0.5 11.0 0.3"/><line x1="26.8" x2="51.4" y1="316.30" y2="316.30" stroke="#000" stroke-opacity="0.75" stroke-width="1.1" stroke-dasharray="10.7 0.4 9.1 0.3 7.7 0.4 8.6 0.5"/><line x1="27.1" x2="51.4" y1="316.80" y2="316.80" stroke="#000" stroke-opacity="0.83" stroke-width="1.1" stroke-dasharray="3.4 0.3 11.3 0.5 6.4 0.5 5.5 0.3 5.6 0.3"/><line x1="29.7" x2="51.4" y1="317.30" y2="317.30" stroke="#000" stroke-opacity="0.76" stroke-width="1.1" stroke-dasharray="7.1 0.5 11.1 0.4 6.4 0.2 5.5 0.3"/><line x1="37.1" x2="51.4" y1="317.80" y2="317.80" stroke="#000" stroke-opacity="0.76" stroke-width="1.1" stroke-dasharray="7.1 0.5 9.3 0.2 8.2 0.6 10.7 0.3"/><line x1="39.8" x2="51.4" y1="318.30" y2="318.30" stroke="#000" stroke-opacity="0.95" stroke-width="1.1" stroke-dasharray="10.8 0.2 6.9 0.4 10.8 0.5 6.7 0.3"/><line x1="31.0" x2="51.4" y1="318.80" y2="318.80" stroke="#000" stroke-opacity="0.83" stroke-width="1.1" stroke-dasharray="10.7 0.3 10.6 0.2 3.8 0.3 9.1 0.3"/><line x1="25.3" x2="51.4" y1="319.30" y2="319.30" stroke="#000" stroke-opacity="0.74" stroke-width="1.1" stroke-dasharray="5.1 0.5 4.0 0.2 5.2 0.2 4.8 0.4 10.5 0.4"/><line x1="28.5" x2="51.4" y1="319.80" y2="319.80" stroke="#000" stroke-opacity="0.81" stroke-width="1.1" stroke-dasharray="8.9 0.4 11.5 0.3 11.3 0.2"/><line x1="37.1" x2="51.4" y1="320.30" y2="320.30" stroke="#000" stroke-opacity="0.96" stroke-width="1.1" stroke-dasharray="4.5 0.4 11.4 0.4 11.8 0.6 5.7 0.4"/><line x1="28.3" x2="51.4" y1="320.80" y2="320.80" stroke="#000" stroke-opacity="0.73" stroke-width="1.1" stroke-dasharray="9.2 0.2 3.5 0.5 4.9 0.4 11.2 0.2"/><line x1="27.7" x2="51.4" y1="321.30" y2="321.30" stroke="#000" stroke-opacity="0.87" stroke-width="1.1" stroke-dasharray="8.6 0.2 7.7 0.5 7.7 0.4 9.3 0.3"/><line x1="29.4" x2="51.4" y1="321.80" y2="321.80" stroke="#000" stroke-opacity="0.79" stroke-width="1.1" stroke-dasharray="3.7 0.5 6.1 0.5 4.9 0.4 9.7 0.5 7.3 0.6"/><line x1="28.7" x2="51.4" y1="322.30" y2="322.30" stroke="#000" stroke-opacity="0.75" stroke-width="1.1" stroke-dasharray="7.5 0.2 3.6 0.6 9.7 0.2 3.8 0.2 10.6 0.4"/><line x1="35.0" x2="51.4" y1="322.80" y2="322.80" stroke="#000" stroke-opacity="0.91" stroke-width="1.1" stroke-dasharray="4.2 0.5 5.7 0.4 4.4 0.3 10.2 0.2 4.4 0.3"/><line x1="28.1" x2="51.4" y1="323.30" y2="323.30" stroke="#000" stroke-opacity="0.83" stroke-width="1.1" stroke-dasharray="8.7 0.4 8.8 0.4 11.3 0.4"/><line x1="27.5" x2="51.4" y1="323.80" y2="323.80" stroke="#000" stroke-opacity="0.86" stroke-width="1.1" stroke-dasharray="10.1 0.3 4.9 0.4 5.0 0.4 7.9 0.5 3.2 0.5"/><line x1="29.6" x2="51.4" y1="324.30" y2="324.30" stroke="#000" stroke-opacity="0.82" stroke-width="1.1" stroke-dasharray="11.8 0.5 11.2 0.3 7.5 0.5"/><line x1="34.9" x2="51.4" y1="324.80" y2="324.80" stroke="#000" stroke-opacity="0.85" stroke-width="1.1" stroke-dasharray="5.3 0.4 10.8 0.5 10.4 0.4 3.9 0.2"/><line x1="27.3" x2="51.4" y1="325.30" y2="325.30" stroke="#000" stroke-opacity="0.84" stroke-width="1.1" stroke-dasharray="11.4 0.4 9.6 0.5 3.1 0.3 8.2 0.6"/><line x1="30.5" x2="51.4" y1="325.80" y2="325.80" stroke="#000" stroke-opacity="0.79" stroke-width="1.1" stroke-dasharray="7.4 0.3 6.3 0.4 3.4 0.3 3.7 0.2 10.7 0.2"/><line x1="37.1" x2="51.4" y1="326.30" y2="326.30" stroke="#000" stroke-opacity="0.74" stroke-width="1.1" stroke-dasharray="3.7 0.2 10.9 0.4 4.3 0.6 8.5 0.5 3.9 0.4"/><line x1="33.1" x2="51.4" y1="326.80" y2="326.80" stroke="#000" stroke-opacity="0.84" stroke-width="1.1" stroke-dasharray="3.5 0.2 5.3 0.3 3.1 0.2 8.3 0.6 5.3 0.4 7.5 0.5"/><line x1="27.7" x2="51.4" y1="327.30" y2="327.30" stroke="#000" stroke-opacity="0.73" stroke-width="1.1" stroke-dasharray="3.1 0.3 4.1 0.3 4.3 0.5 5.6 0.4 8.3 0.5 5.4 0.2"/><line x1="33.7" x2="51.4" y1="327.80" y2="327.80" stroke="#000" stroke-opacity="0.90" stroke-width="1.1" stroke-dasharray="7.0 0.2 4.1 0.2 3.3 0.5 11.6 0.3 11.7 0.2"/><line x1="28.8" x2="51.4" y1="328.30" y2="328.30" stroke="#000" stroke-opacity="0.88" stroke-width="1.1" stroke-dasharray="3.3 0.6 12.0 0.3 5.7 0.4 6.8 0.4 10.8 0.4"/><line x1="26.6" x2="51.4" y1="328.80" y2="328.80" stroke="#000" stroke-opacity="0.94" stroke-width="1.1" stroke-dasharray="11.4 0.3 3.7 0.5 5.0 0.3 6.7 0.2 9.1 0.5"/><line x1="26.9" x2="51.4" y1="329.30" y2="329.30" stroke="#000" stroke-opacity="0.75" stroke-width="1.1" stroke-dasharray="6.2 0.2 3.9 0.3 6.3 0.2 8.8 0.4 5.6 0.3"/><line x1="30.3" x2="51.4" y1="329.80" y2="329.80" stroke="#000" stroke-opacity="0.96" stroke-width="1.1" stroke-dasharray="11.4 0.4 10.4 0.4 11.6 0.4"/><line x1="34.5" x2="51.4" y1="330.30" y2="330.30" stroke="#000" stroke-opacity="0.86" stroke-width="1.1" stroke-dasharray="8.6 0.5 4.1 0.5 9.4 0.6 6.2 0.5"/><line x1="26.2" x2="51.4" y1="330.80" y2="330.80" stroke="#000" stroke-opacity="0.72" stroke-width="1.1" stroke-dasharray="10.4 0.2 7.4 0.2 11.5 0.5"/><line x1="37.0" x2="51.4" y1="331.30" y2="331.30" stroke="#000" stroke-opacity="0.94" stroke-width="1.1" stroke-dasharray="8.9 0.2 3.6 0.5 5.6 0.5 6.9 0.5 6.1 0.2"/><line x1="31.3" x2="51.4" y1="331.80" y2="331.80" stroke="#000" stroke-opacity="0.82" stroke-width="1.1" stroke-dasharray="10.0 0.3 11.5 0.2 9.8 0.5"/><line x1="29.9" x2="51.4" y1="332.30" y2="332.30" stroke="#000" stroke-opacity="0.75" stroke-width="1.1" stroke-dasharray="9.9 0.5 10.0 0.6 8.4 0.6"/><line x1="25.3" x2="51.4" y1="332.80" y2="332.80" stroke="#000" stroke-opacity="0.91" stroke-width="1.1" stroke-dasharray="4.5 0.6 7.5 0.4 9.2 0.5 5.5 0.5 10.5 0.3"/><line x1="27.8" x2="51.4" y1="333.30" y2="333.30" stroke="#000" stroke-opacity="0.80" stroke-width="1.1" stroke-dasharray="10.3 0.6 6.3 0.3 4.7 0.2 10.8 0.3"/><line x1="26.7" x2="51.4" y1="333.80" y2="333.80" stroke="#000" stroke-opacity="0.79" stroke-width="1.1" stroke-dasharray="5.5 0.6 11.9 0.5 10.1 0.3 6.1 0.5"/><line x1="25.5" x2="51.4" y1="334.30" y2="334.30" stroke="#000" stroke-opacity="0.80" stroke-width="1.1" stroke-dasharray="9.5 0.3 10.3 0.3 3.0 0.2 4.0 0.2 11.8 0.4"/><line x1="27.2" x2="51.4" y1="334.80" y2="334.80" stroke="#000" stroke-opacity="0.92" stroke-width="1.1" stroke-dasharray="8.7 0.3 7.3 0.5 11.7 0.6 8.3 0.4"/><line x1="27.6" x2="51.4" y1="335.30" y2="335.30" stroke="#000" stroke-opacity="0.79" stroke-width="1.1" stroke-dasharray="10.4 0.3 8.9 0.6 10.1 0.3"/><line x1="27.0" x2="51.4" y1="335.80" y2="335.80" stroke="#000" stroke-opacity="0.77" stroke-width="1.1" stroke-dasharray="9.4 0.4 8.1 0.3 11.8 0.5"/><line x1="28.1" x2="51.4" y1="336.30" y2="336.30" stroke="#000" stroke-opacity="0.82" stroke-width="1.1" stroke-dasharray="3.4 0.2 5.1 0.2 7.8 0.2 3.8 0.2 11.0 0.2"/><line x1="26.3" x2="51.4" y1="336.80" y2="336.80" stroke="#000" stroke-opacity="0.85" stroke-width="1.1" stroke-dasharray="11.0 0.2 9.8 0.4 8.5 0.6"/><line x1="28.8" x2="51.4" y1="337.30" y2="337.30" stroke="#000" stroke-opacity="0.89" stroke-width="1.1" stroke-dasharray="4.6 0.6 4.5 0.3 9.7 0.5 10.1 0.5"/><line x1="27.5" x2="51.4" y1="337.80" y2="337.80" stroke="#000" stroke-opacity="0.86" stroke-width="1.1" stroke-dasharray="4.6 0.4 8.0 0.3 4.3 0.2 6.2 0.4 11.9 0.2"/><line x1="26.6" x2="51.4" y1="338.30" y2="338.30" stroke="#000" stroke-opacity="0.84" stroke-width="1.1" stroke-dasharray="8.2 0.3 11.2 0.2 5.4 0.3 11.7 0.4"/><line x1="26.8" x2="51.4" y1="338.80" y2="338.80" stroke="#000" stroke-opacity="0.82" stroke-width="1.1" stroke-dasharray="10.2 0.5 11.6 0.2 3.3 0.2 3.6 0.5"/><line x1="26.4" x2="51.4" y1="339.30" y2="339.30" stroke="#000" stroke-opacity="0.79" stroke-width="1.1" stroke-dasharray="3.9 0.3 8.5 0.6 8.7 0.5 7.6 0.6"/><line x1="39.9" x2="51.4" y1="339.80" y2="339.80" stroke="#000" stroke-opacity="0.93" stroke-width="1.1" stroke-dasharray="9.3 0.5 11.0 0.5 3.7 0.3 11.7 0.5"/><line x1="27.7" x2="51.4" y1="340.30" y2="340.30" stroke="#000" stroke-opacity="0.81" stroke-width="1.1" stroke-dasharray="6.5 0.4 9.1 0.4 6.0 0.4 6.2 0.5 8.0 0.2"/><line x1="39.2" x2="51.4" y1="340.80" y2="340.80" stroke="#000" stroke-opacity="0.88" stroke-width="1.1" stroke-dasharray="3.7 0.4 4.5 0.3 4.5 0.6 10.0 0.4 5.7 0.2"/><line x1="30.5" x2="51.4" y1="341.30" y2="341.30" stroke="#000" stroke-opacity="0.95" stroke-width="1.1" stroke-dasharray="10.9 0.2 12.0 0.6 3.7 0.4 5.6 0.4"/><line x1="30.8" x2="51.4" y1="341.80" y2="341.80" stroke="#000" stroke-opacity="0.74" stroke-width="1.1" stroke-dasharray="6.3 0.2 9.4 0.3 8.4 0.2 5.4 0.5"/><line x1="34.4" x2="51.4" y1="342.30" y2="342.30" stroke="#000" stroke-opacity="0.86" stroke-width="1.1" stroke-dasharray="3.5 0.4 8.3 0.2 9.5 0.2 7.8 0.2"/><line x1="32.5" x2="51.4" y1="342.80" y2="342.80" stroke="#000" stroke-opacity="0.96" stroke-width="1.1" stroke-dasharray="7.0 0.5 7.5 0.2 5.9 0.4 10.1 0.2"/><line x1="28.2" x2="51.4" y1="343.30" y2="343.30" stroke="#000" stroke-opacity="0.77" stroke-width="1.1" stroke-dasharray="6.1 0.3 9.7 0.3 11.2 0.5 7.9 0.6"/><line x1="27.8" x2="51.4" y1="343.80" y2="343.80" stroke="#000" stroke-opacity="0.89" stroke-width="1.1" stroke-dasharray="10.3 0.6 4.5 0.2 8.3 0.3 5.1 0.5 7.7 0.4"/><line x1="38.2" x2="51.4" y1="344.30" y2="344.30" stroke="#000" stroke-opacity="0.76" stroke-width="1.1" stroke-dasharray="3.6 0.4 3.1 0.2 11.3 0.3 9.6 0.4 4.0 0.5"/><line x1="27.7" x2="51.4" y1="344.80" y2="344.80" stroke="#000" stroke-opacity="0.96" stroke-width="1.1" stroke-dasharray="3.9 0.4 7.3 0.4 11.9 0.2 10.3 0.5"/><line x1="27.6" x2="51.4" y1="345.30" y2="345.30" stroke="#000" stroke-opacity="0.78" stroke-width="1.1" stroke-dasharray="3.4 0.2 10.5 0.2 5.4 0.2 4.3 0.4 11.2 0.5"/><line x1="25.9" x2="51.4" y1="345.80" y2="345.80" stroke="#000" stroke-opacity="0.94" stroke-width="1.1" stroke-dasharray="5.2 0.2 6.3 0.5 11.9 0.4 6.6 0.3"/><line x1="26.2" x2="51.4" y1="346.30" y2="346.30" stroke="#000" stroke-opacity="0.90" stroke-width="1.1" stroke-dasharray="8.2 0.3 9.3 0.5 4.7 0.3 8.6 0.5"/><line x1="30.2" x2="51.4" y1="346.80" y2="346.80" stroke="#000" stroke-opacity="0.91" stroke-width="1.1" stroke-dasharray="9.8 0.2 6.5 0.5 7.6 0.5 4.9 0.3"/><line x1="28.9" x2="51.4" y1="347.30" y2="347.30" stroke="#000" stroke-opacity="0.80" stroke-width="1.1" stroke-dasharray="9.5 0.3 4.6 0.4 4.4 0.2 10.7 0.6"/><line x1="30.2" x2="51.4" y1="347.80" y2="347.80" stroke="#000" stroke-opacity="0.87" stroke-width="1.1" stroke-dasharray="8.6 0.4 5.4 0.5 5.7 0.5 11.5 0.3"/><line x1="36.3" x2="51.4" y1="348.30" y2="348.30" stroke="#000" stroke-opacity="0.78" stroke-width="1.1" stroke-dasharray="11.7 0.4 7.6 0.3 6.6 0.2 11.4 0.5"/><line x1="40.0" x2="51.4" y1="348.80" y2="348.80" stroke="#000" stroke-opacity="0.94" stroke-width="1.1" stroke-dasharray="8.5 0.2 11.6 0.5 7.8 0.4 8.7 0.5"/><line x1="26.2" x2="51.4" y1="349.30" y2="349.30" stroke="#000" stroke-opacity="0.74" stroke-width="1.1" stroke-dasharray="6.6 0.2 6.4 0.5 10.2 0.4 9.2 0.3"/><line x1="27.2" x2="51.4" y1="349.80" y2="349.80" stroke="#000" stroke-opacity="0.96" stroke-width="1.1" stroke-dasharray="5.5 0.5 6.4 0.4 6.6 0.2 5.0 0.5 8.2 0.2"/><line x1="25.8" x2="51.4" y1="350.30" y2="350.30" stroke="#000" stroke-opacity="0.91" stroke-width="1.1" stroke-dasharray="7.9 0.4 4.3 0.2 9.0 0.5 6.6 0.5 5.0 0.2"/><line x1="26.2" x2="51.4" y1="350.80" y2="350.80" stroke="#000" stroke-opacity="0.85" stroke-width="1.1" stroke-dasharray="8.2 0.4 4.1 0.5 11.8 0.3 5.1 0.5"/><line x1="28.7" x2="51.4" y1="351.30" y2="351.30" stroke="#000" stroke-opacity="0.96" stroke-width="1.1" stroke-dasharray="10.5 0.3 8.7 0.5 6.2 0.4 6.4 0.5"/><line x1="26.4" x2="51.4" y1="351.80" y2="351.80" stroke="#000" stroke-opacity="0.73" stroke-width="1.1" stroke-dasharray="8.4 0.2 6.1 0.5 7.9 0.3 7.4 0.2"/><line x1="26.5" x2="51.4" y1="352.30" y2="352.30" stroke="#000" stroke-opacity="0.76" stroke-width="1.1" stroke-dasharray="10.1 0.5 8.7 0.5 4.2 0.3 6.1 0.3"/><line x1="28.3" x2="51.4" y1="352.80" y2="352.80" stroke="#000" stroke-opacity="0.96" stroke-width="1.1" stroke-dasharray="6.4 0.5 9.7 0.5 7.4 0.4 4.6 0.5"/><line x1="30.2" x2="51.4" y1="353.30" y2="353.30" stroke="#000" stroke-opacity="0.94" stroke-width="1.1" stroke-dasharray="8.1 0.3 10.9 0.2 9.8 0.3 9.3 0.2"/><line x1="33.4" x2="51.4" y1="353.80" y2="353.80" stroke="#000" stroke-opacity="0.75" stroke-width="1.1" stroke-dasharray="10.2 0.3 3.9 0.5 3.8 0.2 4.7 0.3 11.8 0.2"/><line x1="24.3" x2="51.4" y1="354.30" y2="354.30" stroke="#000" stroke-opacity="0.82" stroke-width="1.1" stroke-dasharray="10.1 0.5 4.2 0.5 7.1 0.2 12.0 0.3"/><line x1="36.8" x2="51.4" y1="354.80" y2="354.80" stroke="#000" stroke-opacity="0.78" stroke-width="1.1" stroke-dasharray="5.6 0.3 11.0 0.5 8.9 0.3 5.8 0.3"/><line x1="26.6" x2="51.4" y1="355.30" y2="355.30" stroke="#000" stroke-opacity="0.82" stroke-width="1.1" stroke-dasharray="6.1 0.5 10.9 0.5 4.4 0.4 4.6 0.5 7.6 0.2"/><line x1="35.9" x2="51.4" y1="355.80" y2="355.80" stroke="#000" stroke-opacity="0.75" stroke-width="1.1" stroke-dasharray="10.7 0.2 11.1 0.6 7.0 0.4 6.5 0.4"/><line x1="37.4" x2="51.4" y1="356.30" y2="356.30" stroke="#000" stroke-opacity="0.82" stroke-width="1.1" stroke-dasharray="10.5 0.3 10.1 0.3 10.5 0.3"/><line x1="27.1" x2="51.4" y1="356.80" y2="356.80" stroke="#000" stroke-opacity="0.74" stroke-width="1.1" stroke-dasharray="6.7 0.2 4.3 0.3 9.9 0.3 3.4 0.3 6.8 0.3"/><line x1="29.2" x2="51.4" y1="357.30" y2="357.30" stroke="#000" stroke-opacity="0.85" stroke-width="1.1" stroke-dasharray="8.5 0.6 11.5 0.5 6.3 0.2 6.9 0.3"/><line x1="30.1" x2="51.4" y1="357.80" y2="357.80" stroke="#000" stroke-opacity="0.87" stroke-width="1.1" stroke-dasharray="5.4 0.2 3.5 0.4 4.1 0.2 5.5 0.2 3.1 0.2 9.6 0.3"/><line x1="36.2" x2="51.4" y1="358.30" y2="358.30" stroke="#000" stroke-opacity="0.87" stroke-width="1.1" stroke-dasharray="8.1 0.5 3.7 0.3 3.0 0.4 10.8 0.4 10.7 0.4"/><line x1="29.4" x2="51.4" y1="358.80" y2="358.80" stroke="#000" stroke-opacity="0.89" stroke-width="1.1" stroke-dasharray="11.6 0.2 11.3 0.5 4.2 0.3 10.6 0.5"/><line x1="39.4" x2="51.4" y1="359.30" y2="359.30" stroke="#000" stroke-opacity="0.92" stroke-width="1.1" stroke-dasharray="11.4 0.3 7.0 0.3 4.9 0.3 4.3 0.6 8.6 0.6"/><line x1="27.5" x2="51.4" y1="359.80" y2="359.80" stroke="#000" stroke-opacity="0.83" stroke-width="1.1" stroke-dasharray="11.2 0.2 8.5 0.4 3.5 0.4 5.6 0.3 3.4 0.5"/><line x1="27.2" x2="51.4" y1="360.30" y2="360.30" stroke="#000" stroke-opacity="0.75" stroke-width="1.1" stroke-dasharray="10.9 0.6 7.4 0.5 5.3 0.2 9.6 0.4"/><line x1="34.4" x2="51.4" y1="360.80" y2="360.80" stroke="#000" stroke-opacity="0.97" stroke-width="1.1" stroke-dasharray="6.8 0.3 9.9 0.6 5.9 0.3 10.3 0.3"/><line x1="28.5" x2="51.4" y1="361.30" y2="361.30" stroke="#000" stroke-opacity="0.79" stroke-width="1.1" stroke-dasharray="4.0 0.4 6.5 0.2 5.8 0.3 4.3 0.5 3.4 0.3 5.8 0.6"/><line x1="29.4" x2="51.4" y1="361.80" y2="361.80" stroke="#000" stroke-opacity="0.80" stroke-width="1.1" stroke-dasharray="11.6 0.4 10.9 0.2 10.1 0.5"/><line x1="24.1" x2="51.4" y1="362.30" y2="362.30" stroke="#000" stroke-opacity="0.75" stroke-width="1.1" stroke-dasharray="11.8 0.6 7.6 0.6 10.4 0.4"/><line x1="27.0" x2="51.4" y1="362.80" y2="362.80" stroke="#000" stroke-opacity="0.89" stroke-width="1.1" stroke-dasharray="9.7 0.4 9.8 0.4 5.1 0.6 3.7 0.3"/><line x1="30.2" x2="51.4" y1="363.30" y2="363.30" stroke="#000" stroke-opacity="0.84" stroke-width="1.1" stroke-dasharray="8.1 0.4 8.5 0.2 6.3 0.4 8.5 0.3"/><line x1="26.6" x2="51.4" y1="363.80" y2="363.80" stroke="#000" stroke-opacity="0.85" stroke-width="1.1" stroke-dasharray="11.7 0.3 9.1 0.2 9.2 0.2"/><line x1="35.4" x2="51.4" y1="364.30" y2="364.30" stroke="#000" stroke-opacity="0.90" stroke-width="1.1" stroke-dasharray="7.5 0.4 4.1 0.3 10.3 0.6 6.0 0.4 5.6 0.3"/><line x1="37.9" x2="51.4" y1="364.80" y2="364.80" stroke="#000" stroke-opacity="0.87" stroke-width="1.1" stroke-dasharray="10.8 0.2 11.2 0.2 3.2 0.2 5.3 0.4"/><line x1="26.9" x2="51.4" y1="365.30" y2="365.30" stroke="#000" stroke-opacity="0.83" stroke-width="1.1" stroke-dasharray="11.8 0.5 5.3 0.2 10.4 0.4 3.8 0.3"/><line x1="26.9" x2="51.4" y1="365.80" y2="365.80" stroke="#000" stroke-opacity="0.94" stroke-width="1.1" stroke-dasharray="6.3 0.2 11.4 0.5 3.3 0.3 6.4 0.6 3.3 0.6"/><line x1="32.5" x2="51.4" y1="366.30" y2="366.30" stroke="#000" stroke-opacity="0.82" stroke-width="1.1" stroke-dasharray="9.0 0.3 5.7 0.5 5.9 0.5 6.1 0.5 3.0 0.4"/><line x1="27.3" x2="51.4" y1="366.80" y2="366.80" stroke="#000" stroke-opacity="0.87" stroke-width="1.1" stroke-dasharray="8.9 0.2 10.7 0.5 7.7 0.4 5.4 0.3"/><line x1="29.0" x2="51.4" y1="367.30" y2="367.30" stroke="#000" stroke-opacity="0.75" stroke-width="1.1" stroke-dasharray="10.9 0.5 4.7 0.6 8.1 0.4 10.8 0.2"/><line x1="25.9" x2="51.4" y1="367.80" y2="367.80" stroke="#000" stroke-opacity="0.75" stroke-width="1.1" stroke-dasharray="7.0 0.6 5.8 0.6 4.5 0.5 3.0 0.4 11.4 0.5"/><line x1="33.5" x2="51.4" y1="368.30" y2="368.30" stroke="#000" stroke-opacity="0.91" stroke-width="1.1" stroke-dasharray="9.4 0.2 9.5 0.5 9.1 0.3 6.5 0.2"/><line x1="28.2" x2="51.4" y1="368.80" y2="368.80" stroke="#000" stroke-opacity="0.92" stroke-width="1.1" stroke-dasharray="9.7 0.2 10.3 0.5 6.0 0.4 4.0 0.2"/><line x1="27.2" x2="51.4" y1="369.30" y2="369.30" stroke="#000" stroke-opacity="0.77" stroke-width="1.1" stroke-dasharray="5.5 0.4 6.7 0.2 7.7 0.6 7.6 0.5 10.6 0.2"/><line x1="25.5" x2="51.4" y1="369.80" y2="369.80" stroke="#000" stroke-opacity="0.92" stroke-width="1.1" stroke-dasharray="9.3 0.4 11.1 0.2 4.1 0.4 8.9 0.4"/><line x1="29.7" x2="51.4" y1="370.30" y2="370.30" stroke="#000" stroke-opacity="0.75" stroke-width="1.1" stroke-dasharray="6.1 0.5 5.7 0.5 7.9 0.3 8.0 0.4 10.6 0.5"/><line x1="29.8" x2="51.4" y1="370.80" y2="370.80" stroke="#000" stroke-opacity="0.93" stroke-width="1.1" stroke-dasharray="10.6 0.5 6.4 0.2 7.9 0.6 8.3 0.5"/><line x1="26.7" x2="51.4" y1="371.30" y2="371.30" stroke="#000" stroke-opacity="0.76" stroke-width="1.1" stroke-dasharray="3.7 0.2 5.6 0.4 8.5 0.4 6.2 0.2 7.5 0.6"/><line x1="38.9" x2="51.4" y1="371.80" y2="371.80" stroke="#000" stroke-opacity="0.94" stroke-width="1.1" stroke-dasharray="8.2 0.4 5.0 0.5 8.2 0.3 3.5 0.2 9.2 0.4"/><line x1="28.9" x2="51.4" y1="372.30" y2="372.30" stroke="#000" stroke-opacity="0.89" stroke-width="1.1" stroke-dasharray="10.9 0.2 11.8 0.2 9.6 0.4"/><line x1="29.6" x2="51.4" y1="372.80" y2="372.80" stroke="#000" stroke-opacity="0.73" stroke-width="1.1" stroke-dasharray="9.8 0.2 11.6 0.6 10.5 0.2"/><line x1="37.7" x2="51.4" y1="373.30" y2="373.30" stroke="#000" stroke-opacity="0.82" stroke-width="1.1" stroke-dasharray="6.8 0.5 3.2 0.3 10.6 0.5 11.3 0.5"/><line x1="28.4" x2="51.4" y1="373.80" y2="373.80" stroke="#000" stroke-opacity="0.78" stroke-width="1.1" stroke-dasharray="8.0 0.4 9.0 0.4 5.1 0.5 4.3 0.5 3.0 0.6"/><line x1="30.8" x2="51.4" y1="374.30" y2="374.30" stroke="#000" stroke-opacity="0.86" stroke-width="1.1" stroke-dasharray="7.4 0.6 5.6 0.2 6.6 0.3 5.4 0.5 6.5 0.2"/><line x1="28.7" x2="51.4" y1="374.80" y2="374.80" stroke="#000" stroke-opacity="0.84" stroke-width="1.1" stroke-dasharray="4.8 0.4 4.0 0.4 5.2 0.3 11.4 0.4 9.6 0.3"/><line x1="27.8" x2="51.4" y1="375.30" y2="375.30" stroke="#000" stroke-opacity="0.85" stroke-width="1.1" stroke-dasharray="9.1 0.3 9.3 0.4 10.1 0.5 11.5 0.5"/><line x1="29.2" x2="51.4" y1="375.80" y2="375.80" stroke="#000" stroke-opacity="0.82" stroke-width="1.1" stroke-dasharray="10.9 0.5 5.0 0.6 6.7 0.5 9.0 0.3"/><line x1="26.0" x2="51.4" y1="376.30" y2="376.30" stroke="#000" stroke-opacity="0.89" stroke-width="1.1" stroke-dasharray="10.4 0.4 10.9 0.4 3.5 0.4 5.9 0.5"/><line x1="27.9" x2="51.4" y1="376.80" y2="376.80" stroke="#000" stroke-opacity="0.77" stroke-width="1.1" stroke-dasharray="8.8 0.4 9.2 0.2 7.1 0.5 7.0 0.3"/><line x1="36.0" x2="51.4" y1="377.30" y2="377.30" stroke="#000" stroke-opacity="0.83" stroke-width="1.1" stroke-dasharray="10.6 0.5 12.0 0.4 11.7 0.5"/><line x1="27.4" x2="51.4" y1="377.80" y2="377.80" stroke="#000" stroke-opacity="0.90" stroke-width="1.1" stroke-dasharray="6.9 0.5 11.0 0.5 7.9 0.4 8.8 0.4"/><line x1="25.9" x2="51.4" y1="378.30" y2="378.30" stroke="#000" stroke-opacity="0.72" stroke-width="1.1" stroke-dasharray="10.8 0.2 4.0 0.5 3.1 0.4 5.2 0.5 8.1 0.3"/><line x1="30.7" x2="51.4" y1="378.80" y2="378.80" stroke="#000" stroke-opacity="0.93" stroke-width="1.1" stroke-dasharray="3.2 0.6 10.4 0.3 8.4 0.4 8.5 0.3"/><line x1="36.3" x2="51.4" y1="379.30" y2="379.30" stroke="#000" stroke-opacity="0.86" stroke-width="1.1" stroke-dasharray="11.5 0.3 7.8 0.4 8.6 0.3 8.4 0.3"/><line x1="32.0" x2="51.4" y1="379.80" y2="379.80" stroke="#000" stroke-opacity="0.83" stroke-width="1.1" stroke-dasharray="8.3 0.2 7.9 0.5 9.3 0.4 4.2 0.4"/><line x1="27.5" x2="51.4" y1="380.30" y2="380.30" stroke="#000" stroke-opacity="0.90" stroke-width="1.1" stroke-dasharray="11.8 0.4 4.7 0.5 7.1 0.5 9.8 0.3"/><line x1="34.2" x2="51.4" y1="380.80" y2="380.80" stroke="#000" stroke-opacity="0.90" stroke-width="1.1" stroke-dasharray="3.6 0.3 10.7 0.2 9.2 0.6 10.6 0.2"/><line x1="27.5" x2="51.4" y1="381.30" y2="381.30" stroke="#000" stroke-opacity="0.74" stroke-width="1.1" stroke-dasharray="8.5 0.4 9.1 0.5 5.9 0.2 4.6 0.5 4.3 0.2"/><line x1="35.1" x2="51.4" y1="381.80" y2="381.80" stroke="#000" stroke-opacity="0.95" stroke-width="1.1" stroke-dasharray="10.3 0.5 11.1 0.2 11.5 0.3"/><line x1="27.7" x2="51.4" y1="382.30" y2="382.30" stroke="#000" stroke-opacity="0.79" stroke-width="1.1" stroke-dasharray="4.3 0.4 10.4 0.3 10.7 0.6 7.8 0.3"/><line x1="26.6" x2="51.4" y1="382.80" y2="382.80" stroke="#000" stroke-opacity="0.83" stroke-width="1.1" stroke-dasharray="6.6 0.3 6.6 0.3 10.7 0.6 6.9 0.2"/><line x1="28.5" x2="51.4" y1="383.30" y2="383.30" stroke="#000" stroke-opacity="0.96" stroke-width="1.1" stroke-dasharray="9.8 0.2 6.1 0.2 8.1 0.3 7.0 0.3"/><line x1="28.2" x2="51.4" y1="383.80" y2="383.80" stroke="#000" stroke-opacity="0.81" stroke-width="1.1" stroke-dasharray="3.6 0.2 3.4 0.5 4.5 0.6 11.7 0.2 10.1 0.2"/><line x1="39.6" x2="51.4" y1="384.30" y2="384.30" stroke="#000" stroke-opacity="0.84" stroke-width="1.1" stroke-dasharray="4.9 0.4 8.5 0.3 7.8 0.4 6.7 0.3 11.3 0.4"/><line x1="28.8" x2="51.4" y1="384.80" y2="384.80" stroke="#000" stroke-opacity="0.88" stroke-width="1.1" stroke-dasharray="10.8 0.4 10.3 0.2 9.6 0.5"/><line x1="27.2" x2="51.4" y1="385.30" y2="385.30" stroke="#000" stroke-opacity="0.74" stroke-width="1.1" stroke-dasharray="11.2 0.4 4.4 0.5 5.5 0.2 8.1 0.5"/><line x1="37.5" x2="51.4" y1="385.80" y2="385.80" stroke="#000" stroke-opacity="0.90" stroke-width="1.1" stroke-dasharray="6.5 0.2 6.1 0.5 3.2 0.2 11.3 0.2 8.0 0.6"/><line x1="29.7" x2="51.4" y1="386.30" y2="386.30" stroke="#000" stroke-opacity="0.73" stroke-width="1.1" stroke-dasharray="9.6 0.4 8.7 0.3 8.5 0.5 10.6 0.2"/><line x1="36.4" x2="51.4" y1="386.80" y2="386.80" stroke="#000" stroke-opacity="0.86" stroke-width="1.1" stroke-dasharray="9.6 0.5 8.0 0.5 10.9 0.5 5.0 0.3"/><line x1="34.6" x2="51.4" y1="387.30" y2="387.30" stroke="#000" stroke-opacity="0.76" stroke-width="1.1" stroke-dasharray="10.3 0.2 11.7 0.4 11.5 0.3"/><line x1="31.3" x2="51.4" y1="387.80" y2="387.80" stroke="#000" stroke-opacity="0.74" stroke-width="1.1" stroke-dasharray="9.8 0.6 11.3 0.2 8.0 0.5"/><line x1="26.2" x2="51.4" y1="388.30" y2="388.30" stroke="#000" stroke-opacity="0.81" stroke-width="1.1" stroke-dasharray="10.8 0.4 6.9 0.4 6.7 0.4 9.3 0.3"/><line x1="26.8" x2="51.4" y1="388.80" y2="388.80" stroke="#000" stroke-opacity="0.83" stroke-width="1.1" stroke-dasharray="10.8 0.2 9.9 0.3 10.3 0.3"/><line x1="28.0" x2="51.4" y1="389.30" y2="389.30" stroke="#000" stroke-opacity="0.77" stroke-width="1.1" stroke-dasharray="10.2 0.4 10.7 0.5 7.1 0.4 3.5 0.2"/><line x1="27.8" x2="51.4" y1="389.80" y2="389.80" stroke="#000" stroke-opacity="0.94" stroke-width="1.1" stroke-dasharray="3.1 0.3 3.8 0.5 11.0 0.4 5.0 0.5 6.0 0.4"/><line x1="31.7" x2="51.4" y1="390.30" y2="390.30" stroke="#000" stroke-opacity="0.77" stroke-width="1.1" stroke-dasharray="3.6 0.6 3.3 0.5 11.4 0.3 4.2 0.5 4.8 0.3 6.0 0.5"/><line x1="35.2" x2="51.4" y1="390.80" y2="390.80" stroke="#000" stroke-opacity="0.85" stroke-width="1.1" stroke-dasharray="9.7 0.2 4.8 0.2 4.7 0.4 4.3 0.6 3.6 0.6 10.1 0.4"/><line x1="28.5" x2="51.4" y1="391.30" y2="391.30" stroke="#000" stroke-opacity="0.80" stroke-width="1.1" stroke-dasharray="10.3 0.3 10.2 0.4 11.8 0.4"/><line x1="30.4" x2="51.4" y1="391.80" y2="391.80" stroke="#000" stroke-opacity="0.97" stroke-width="1.1" stroke-dasharray="3.6 0.2 6.2 0.6 5.3 0.2 5.9 0.5 10.1 0.2"/><line x1="28.0" x2="51.4" y1="392.30" y2="392.30" stroke="#000" stroke-opacity="0.76" stroke-width="1.1" stroke-dasharray="4.3 0.3 6.5 0.4 8.9 0.4 6.8 0.2 4.0 0.2"/><line x1="29.9" x2="51.4" y1="392.80" y2="392.80" stroke="#000" stroke-opacity="0.84" stroke-width="1.1" stroke-dasharray="5.2 0.3 9.7 0.5 7.8 0.4 8.7 0.5"/><line x1="27.1" x2="51.4" y1="393.30" y2="393.30" stroke="#000" stroke-opacity="0.92" stroke-width="1.1" stroke-dasharray="12.0 0.5 10.4 0.2 3.3 0.6 5.2 0.3"/><line x1="33.9" x2="51.4" y1="393.80" y2="393.80" stroke="#000" stroke-opacity="0.93" stroke-width="1.1" stroke-dasharray="5.2 0.2 3.7 0.5 8.9 0.5 5.4 0.2 9.6 0.5"/><line x1="26.9" x2="51.4" y1="394.30" y2="394.30" stroke="#000" stroke-opacity="0.92" stroke-width="1.1" stroke-dasharray="10.2 0.2 5.4 0.5 9.4 0.3 10.2 0.5"/><line x1="24.7" x2="51.4" y1="394.80" y2="394.80" stroke="#000" stroke-opacity="0.77" stroke-width="1.1" stroke-dasharray="6.7 0.2 7.6 0.2 3.1 0.6 4.2 0.3 10.9 0.2"/><line x1="27.2" x2="51.4" y1="395.30" y2="395.30" stroke="#000" stroke-opacity="0.84" stroke-width="1.1" stroke-dasharray="11.1 0.4 4.4 0.4 3.5 0.3 11.1 0.2"/><line x1="29.2" x2="51.4" y1="395.80" y2="395.80" stroke="#000" stroke-opacity="0.94" stroke-width="1.1" stroke-dasharray="3.5 0.4 7.2 0.5 3.4 0.2 10.4 0.2 6.9 0.6"/><line x1="29.8" x2="51.4" y1="396.30" y2="396.30" stroke="#000" stroke-opacity="0.93" stroke-width="1.1" stroke-dasharray="10.2 0.6 10.1 0.4 4.9 0.5 8.0 0.3"/><line x1="28.2" x2="51.4" y1="396.80" y2="396.80" stroke="#000" stroke-opacity="0.95" stroke-width="1.1" stroke-dasharray="6.4 0.6 10.0 0.4 5.5 0.5 6.3 0.6"/><line x1="26.6" x2="51.4" y1="397.30" y2="397.30" stroke="#000" stroke-opacity="0.73" stroke-width="1.1" stroke-dasharray="10.3 0.4 8.4 0.4 11.8 0.4"/><line x1="25.6" x2="51.4" y1="397.80" y2="397.80" stroke="#000" stroke-opacity="0.83" stroke-width="1.1" stroke-dasharray="11.3 0.5 9.3 0.6 4.7 0.2 8.4 0.3"/><line x1="27.3" x2="51.4" y1="398.30" y2="398.30" stroke="#000" stroke-opacity="0.73" stroke-width="1.1" stroke-dasharray="10.5 0.2 3.2 0.4 5.4 0.2 7.7 0.3 6.5 0.4"/><line x1="26.7" x2="51.4" y1="398.80" y2="398.80" stroke="#000" stroke-opacity="0.95" stroke-width="1.1" stroke-dasharray="6.2 0.5 6.4 0.3 6.5 0.2 5.6 0.3 10.5 0.5"/><line x1="33.7" x2="51.4" y1="399.30" y2="399.30" stroke="#000" stroke-opacity="0.74" stroke-width="1.1" stroke-dasharray="9.2 0.4 10.3 0.4 3.4 0.4 4.1 0.6 3.5 0.3"/><line x1="28.1" x2="51.4" y1="399.80" y2="399.80" stroke="#000" stroke-opacity="0.73" stroke-width="1.1" stroke-dasharray="11.8 0.4 10.5 0.3 6.1 0.3 3.2 0.5"/><line x1="26.0" x2="51.4" y1="400.30" y2="400.30" stroke="#000" stroke-opacity="0.80" stroke-width="1.1" stroke-dasharray="3.5 0.4 10.5 0.3 6.7 0.3 5.0 0.5 7.9 0.6"/><line x1="29.7" x2="51.4" y1="400.80" y2="400.80" stroke="#000" stroke-opacity="0.79" stroke-width="1.1" stroke-dasharray="9.1 0.3 9.3 0.4 10.0 0.4 7.5 0.4"/><line x1="28.2" x2="51.4" y1="401.30" y2="401.30" stroke="#000" stroke-opacity="0.93" stroke-width="1.1" stroke-dasharray="9.1 0.4 10.1 0.2 8.4 0.5 8.1 0.5"/><line x1="26.8" x2="51.4" y1="401.80" y2="401.80" stroke="#000" stroke-opacity="0.79" stroke-width="1.1" stroke-dasharray="9.3 0.6 8.0 0.3 11.8 0.3"/><line x1="34.9" x2="51.4" y1="402.30" y2="402.30" stroke="#000" stroke-opacity="0.85" stroke-width="1.1" stroke-dasharray="10.0 0.6 11.6 0.5 10.4 0.2"/><line x1="26.8" x2="51.4" y1="402.80" y2="402.80" stroke="#000" stroke-opacity="0.84" stroke-width="1.1" stroke-dasharray="11.4 0.6 7.3 0.6 6.2 0.5 4.2 0.6"/><line x1="25.6" x2="51.4" y1="403.30" y2="403.30" stroke="#000" stroke-opacity="0.78" stroke-width="1.1" stroke-dasharray="5.5 0.3 5.6 0.2 10.1 0.4 7.6 0.3 7.3 0.4"/><line x1="26.4" x2="51.4" y1="403.80" y2="403.80" stroke="#000" stroke-opacity="0.76" stroke-width="1.1" stroke-dasharray="5.7 0.3 11.9 0.3 11.0 0.5 11.9 0.5"/><line x1="23.9" x2="51.4" y1="404.30" y2="404.30" stroke="#000" stroke-opacity="0.92" stroke-width="1.1" stroke-dasharray="6.2 0.3 4.0 0.2 9.1 0.2 8.8 0.3 8.7 0.4"/><line x1="27.9" x2="51.4" y1="404.80" y2="404.80" stroke="#000" stroke-opacity="0.90" stroke-width="1.1" stroke-dasharray="8.1 0.4 8.8 0.3 8.5 0.2 11.9 0.5"/><line x1="36.8" x2="51.4" y1="405.30" y2="405.30" stroke="#000" stroke-opacity="0.93" stroke-width="1.1" stroke-dasharray="7.2 0.3 3.3 0.4 4.4 0.4 3.6 0.5 6.2 0.3 10.2 0.3"/><line x1="27.9" x2="51.4" y1="405.80" y2="405.80" stroke="#000" stroke-opacity="0.73" stroke-width="1.1" stroke-dasharray="5.8 0.6 9.2 0.2 11.5 0.6 8.9 0.2"/><line x1="27.4" x2="51.4" y1="406.30" y2="406.30" stroke="#000" stroke-opacity="0.76" stroke-width="1.1" stroke-dasharray="8.4 0.3 9.0 0.3 11.2 0.3 3.1 0.5"/><line x1="28.6" x2="51.4" y1="406.80" y2="406.80" stroke="#000" stroke-opacity="0.96" stroke-width="1.1" stroke-dasharray="5.9 0.5 4.0 0.5 10.6 0.3 5.2 0.2 8.3 0.3"/><line x1="32.1" x2="51.4" y1="407.30" y2="407.30" stroke="#000" stroke-opacity="0.85" stroke-width="1.1" stroke-dasharray="6.5 0.3 3.5 0.4 5.6 0.6 8.9 0.4 10.8 0.2"/><line x1="37.7" x2="51.4" y1="407.80" y2="407.80" stroke="#000" stroke-opacity="0.77" stroke-width="1.1" stroke-dasharray="5.0 0.2 7.0 0.2 10.3 0.3 5.0 0.6 5.8 0.3"/><line x1="28.3" x2="51.4" y1="408.30" y2="408.30" stroke="#000" stroke-opacity="0.79" stroke-width="1.1" stroke-dasharray="8.6 0.2 9.0 0.3 5.0 0.3 5.4 0.5 9.8 0.2"/><line x1="37.8" x2="51.4" y1="408.80" y2="408.80" stroke="#000" stroke-opacity="0.74" stroke-width="1.1" stroke-dasharray="7.5 0.4 7.6 0.2 11.3 0.3 9.6 0.4"/><line x1="31.2" x2="51.4" y1="409.30" y2="409.30" stroke="#000" stroke-opacity="0.90" stroke-width="1.1" stroke-dasharray="5.9 0.6 5.7 0.2 7.4 0.5 6.7 0.5 9.7 0.3"/><line x1="26.4" x2="51.4" y1="409.80" y2="409.80" stroke="#000" stroke-opacity="0.85" stroke-width="1.1" stroke-dasharray="10.9 0.3 5.0 0.5 7.1 0.2 9.3 0.4"/><line x1="39.5" x2="51.4" y1="410.30" y2="410.30" stroke="#000" stroke-opacity="0.89" stroke-width="1.1" stroke-dasharray="4.2 0.2 10.7 0.5 10.4 0.4 8.3 0.2"/><line x1="28.9" x2="51.4" y1="410.80" y2="410.80" stroke="#000" stroke-opacity="0.79" stroke-width="1.1" stroke-dasharray="3.7 0.5 4.4 0.4 9.0 0.4 11.0 0.3 11.1 0.5"/><line x1="26.5" x2="51.4" y1="411.30" y2="411.30" stroke="#000" stroke-opacity="0.94" stroke-width="1.1" stroke-dasharray="7.4 0.6 4.3 0.2 4.5 0.5 6.9 0.4 9.0 0.2"/><line x1="26.6" x2="51.4" y1="411.80" y2="411.80" stroke="#000" stroke-opacity="0.73" stroke-width="1.1" stroke-dasharray="6.9 0.4 6.8 0.2 3.6 0.6 10.2 0.4 9.5 0.2"/><line x1="24.5" x2="51.4" y1="412.30" y2="412.30" stroke="#000" stroke-opacity="0.83" stroke-width="1.1" stroke-dasharray="3.6 0.3 4.1 0.3 6.8 0.4 4.2 0.5 11.5 0.2"/><line x1="27.0" x2="51.4" y1="412.80" y2="412.80" stroke="#000" stroke-opacity="0.80" stroke-width="1.1" stroke-dasharray="5.4 0.3 4.7 0.6 9.0 0.2 12.0 0.3"/><line x1="36.7" x2="51.4" y1="413.30" y2="413.30" stroke="#000" stroke-opacity="0.83" stroke-width="1.1" stroke-dasharray="9.1 0.3 9.6 0.2 4.2 0.3 9.3 0.5"/><line x1="27.0" x2="51.4" y1="413.80" y2="413.80" stroke="#000" stroke-opacity="0.86" stroke-width="1.1" stroke-dasharray="9.7 0.2 4.3 0.4 4.8 0.3 4.6 0.5 10.0 0.6"/><line x1="27.7" x2="51.4" y1="414.30" y2="414.30" stroke="#000" stroke-opacity="0.94" stroke-width="1.1" stroke-dasharray="9.2 0.5 3.2 0.6 5.9 0.2 4.0 0.2 8.8 0.3"/><line x1="26.3" x2="51.4" y1="414.80" y2="414.80" stroke="#000" stroke-opacity="0.79" stroke-width="1.1" stroke-dasharray="10.3 0.3 3.1 0.6 11.6 0.3 8.8 0.2"/><line x1="28.0" x2="51.4" y1="415.30" y2="415.30" stroke="#000" stroke-opacity="0.78" stroke-width="1.1" stroke-dasharray="11.5 0.2 7.7 0.4 5.0 0.6 7.5 0.2"/><line x1="33.4" x2="51.4" y1="415.80" y2="415.80" stroke="#000" stroke-opacity="0.76" stroke-width="1.1" stroke-dasharray="6.2 0.4 7.5 0.3 3.0 0.2 6.7 0.6 4.5 0.3 7.1 0.3"/><line x1="37.0" x2="51.4" y1="416.30" y2="416.30" stroke="#000" stroke-opacity="0.89" stroke-width="1.1" stroke-dasharray="4.3 0.3 10.1 0.4 4.3 0.5 11.3 0.5"/><line x1="26.6" x2="51.4" y1="416.80" y2="416.80" stroke="#000" stroke-opacity="0.81" stroke-width="1.1" stroke-dasharray="7.0 0.4 7.9 0.2 8.4 0.5 4.9 0.2 6.5 0.3"/><line x1="30.8" x2="51.4" y1="417.30" y2="417.30" stroke="#000" stroke-opacity="0.91" stroke-width="1.1" stroke-dasharray="10.4 0.2 11.2 0.4 10.8 0.5"/><line x1="26.6" x2="51.4" y1="417.80" y2="417.80" stroke="#000" stroke-opacity="0.80" stroke-width="1.1" stroke-dasharray="5.9 0.4 6.4 0.2 10.3 0.5 3.7 0.5 11.3 0.5"/><line x1="29.5" x2="51.4" y1="418.30" y2="418.30" stroke="#000" stroke-opacity="0.83" stroke-width="1.1" stroke-dasharray="11.1 0.6 3.2 0.6 8.8 0.4 5.1 0.4"/><line x1="25.2" x2="51.4" y1="418.80" y2="418.80" stroke="#000" stroke-opacity="0.95" stroke-width="1.1" stroke-dasharray="9.2 0.3 6.2 0.3 5.7 0.5 7.4 0.6 4.8 0.2"/><line x1="28.0" x2="51.4" y1="419.30" y2="419.30" stroke="#000" stroke-opacity="0.88" stroke-width="1.1" stroke-dasharray="11.2 0.4 4.9 0.5 10.5 0.4 6.4 0.4"/><line x1="27.3" x2="51.4" y1="419.80" y2="419.80" stroke="#000" stroke-opacity="0.78" stroke-width="1.1" stroke-dasharray="8.7 0.3 6.3 0.6 6.1 0.5 3.9 0.5 3.7 0.4"/><line x1="30.9" x2="51.4" y1="420.30" y2="420.30" stroke="#000" stroke-opacity="0.79" stroke-width="1.1" stroke-dasharray="11.2 0.3 8.7 0.5 9.5 0.6"/><line x1="23.7" x2="51.4" y1="420.80" y2="420.80" stroke="#000" stroke-opacity="0.73" stroke-width="1.1" stroke-dasharray="9.7 0.2 9.3 0.2 7.1 0.3 6.9 0.4"/><line x1="28.7" x2="51.4" y1="421.30" y2="421.30" stroke="#000" stroke-opacity="0.97" stroke-width="1.1" stroke-dasharray="3.5 0.5 8.1 0.2 9.0 0.3 7.3 0.2 12.0 0.6"/><line x1="29.0" x2="51.4" y1="421.80" y2="421.80" stroke="#000" stroke-opacity="0.82" stroke-width="1.1" stroke-dasharray="8.2 0.4 9.8 0.2 11.2 0.2"/><line x1="24.2" x2="51.4" y1="422.30" y2="422.30" stroke="#000" stroke-opacity="0.84" stroke-width="1.1" stroke-dasharray="10.5 0.3 3.9 0.5 9.6 0.3 8.9 0.5"/><line x1="27.9" x2="51.4" y1="422.80" y2="422.80" stroke="#000" stroke-opacity="0.88" stroke-width="1.1" stroke-dasharray="7.1 0.2 6.1 0.3 10.3 0.5 7.6 0.3"/><line x1="28.0" x2="51.4" y1="423.30" y2="423.30" stroke="#000" stroke-opacity="0.81" stroke-width="1.1" stroke-dasharray="6.0 0.4 3.4 0.3 4.3 0.2 11.9 0.5 6.0 0.4"/><line x1="27.9" x2="51.4" y1="423.80" y2="423.80" stroke="#000" stroke-opacity="0.88" stroke-width="1.1" stroke-dasharray="6.9 0.3 7.0 0.5 10.0 0.2 11.7 0.4"/><line x1="28.2" x2="51.4" y1="424.30" y2="424.30" stroke="#000" stroke-opacity="0.93" stroke-width="1.1" stroke-dasharray="8.3 0.2 3.0 0.3 11.2 0.4 5.9 0.3 9.5 0.3"/><line x1="27.3" x2="51.4" y1="424.80" y2="424.80" stroke="#000" stroke-opacity="0.85" stroke-width="1.1" stroke-dasharray="10.9 0.2 9.0 0.5 7.5 0.5 11.0 0.5"/><line x1="28.8" x2="51.4" y1="425.30" y2="425.30" stroke="#000" stroke-opacity="0.86" stroke-width="1.1" stroke-dasharray="11.8 0.6 7.1 0.4 5.8 0.4 3.2 0.6 11.2 0.5"/><line x1="28.1" x2="51.4" y1="425.80" y2="425.80" stroke="#000" stroke-opacity="0.94" stroke-width="1.1" stroke-dasharray="5.7 0.5 10.7 0.5 5.7 0.4 10.7 0.5"/><line x1="38.4" x2="51.4" y1="426.30" y2="426.30" stroke="#000" stroke-opacity="0.85" stroke-width="1.1" stroke-dasharray="9.1 0.4 11.8 0.2 3.2 0.5 10.0 0.4"/><line x1="27.9" x2="51.4" y1="426.80" y2="426.80" stroke="#000" stroke-opacity="0.93" stroke-width="1.1" stroke-dasharray="4.4 0.2 11.8 0.4 4.1 0.3 10.6 0.5"/><line x1="27.9" x2="51.4" y1="427.30" y2="427.30" stroke="#000" stroke-opacity="0.80" stroke-width="1.1" stroke-dasharray="4.7 0.4 6.4 0.5 11.0 0.6 9.8 0.3"/><line x1="26.8" x2="51.4" y1="427.80" y2="427.80" stroke="#000" stroke-opacity="0.84" stroke-width="1.1" stroke-dasharray="9.7 0.2 4.0 0.5 5.3 0.4 7.7 0.2 10.9 0.4"/><line x1="27.5" x2="51.4" y1="428.30" y2="428.30" stroke="#000" stroke-opacity="0.90" stroke-width="1.1" stroke-dasharray="4.5 0.5 4.1 0.4 9.0 0.6 11.6 0.5"/><line x1="23.8" x2="51.4" y1="428.80" y2="428.80" stroke="#000" stroke-opacity="0.73" stroke-width="1.1" stroke-dasharray="4.0 0.5 3.4 0.2 3.4 0.4 9.1 0.3 5.2 0.6 6.9 0.3"/><line x1="36.5" x2="51.4" y1="429.30" y2="429.30" stroke="#000" stroke-opacity="0.85" stroke-width="1.1" stroke-dasharray="3.8 0.3 10.2 0.3 4.4 0.3 9.7 0.6 10.9 0.6"/><line x1="39.6" x2="51.4" y1="429.80" y2="429.80" stroke="#000" stroke-opacity="0.93" stroke-width="1.1" stroke-dasharray="8.6 0.3 12.0 0.2 5.9 0.5 7.0 0.2"/><line x1="27.4" x2="51.4" y1="430.30" y2="430.30" stroke="#000" stroke-opacity="0.85" stroke-width="1.1" stroke-dasharray="9.9 0.2 10.0 0.3 6.2 0.5 8.0 0.3"/><line x1="28.1" x2="51.4" y1="430.80" y2="430.80" stroke="#000" stroke-opacity="0.94" stroke-width="1.1" stroke-dasharray="8.2 0.5 11.6 0.4 9.4 0.2"/><line x1="28.5" x2="51.4" y1="431.30" y2="431.30" stroke="#000" stroke-opacity="0.91" stroke-width="1.1" stroke-dasharray="8.6 0.4 11.4 0.2 9.2 0.3"/><line x1="28.6" x2="51.4" y1="431.80" y2="431.80" stroke="#000" stroke-opacity="0.91" stroke-width="1.1" stroke-dasharray="10.6 0.2 10.4 0.4 5.5 0.4 10.6 0.6"/><line x1="27.4" x2="51.4" y1="432.30" y2="432.30" stroke="#000" stroke-opacity="0.93" stroke-width="1.1" stroke-dasharray="8.8 0.6 7.1 0.2 7.0 0.4 9.8 0.5"/><line x1="28.6" x2="51.4" y1="432.80" y2="432.80" stroke="#000" stroke-opacity="0.76" stroke-width="1.1" stroke-dasharray="11.2 0.2 10.8 0.2 10.8 0.4"/><line x1="39.4" x2="51.4" y1="433.30" y2="433.30" stroke="#000" stroke-opacity="0.97" stroke-width="1.1" stroke-dasharray="3.7 0.5 9.7 0.3 4.9 0.4 9.3 0.2 9.6 0.4"/><line x1="37.9" x2="51.4" y1="433.80" y2="433.80" stroke="#000" stroke-opacity="0.84" stroke-width="1.1" stroke-dasharray="11.3 0.4 5.4 0.3 5.7 0.6 8.9 0.4"/><line x1="35.1" x2="51.4" y1="434.30" y2="434.30" stroke="#000" stroke-opacity="0.85" stroke-width="1.1" stroke-dasharray="7.0 0.5 7.7 0.3 4.8 0.3 10.0 0.2"/><line x1="37.6" x2="51.4" y1="434.80" y2="434.80" stroke="#000" stroke-opacity="0.78" stroke-width="1.1" stroke-dasharray="4.0 0.5 8.2 0.5 11.5 0.2 8.9 0.3"/><line x1="26.6" x2="51.4" y1="435.30" y2="435.30" stroke="#000" stroke-opacity="0.92" stroke-width="1.1" stroke-dasharray="6.5 0.2 4.1 0.3 5.8 0.5 4.6 0.3 11.3 0.3"/><line x1="27.0" x2="51.4" y1="435.80" y2="435.80" stroke="#000" stroke-opacity="0.95" stroke-width="1.1" stroke-dasharray="4.4 0.2 8.2 0.3 3.4 0.3 4.9 0.3 8.2 0.4"/><line x1="28.7" x2="51.4" y1="436.30" y2="436.30" stroke="#000" stroke-opacity="0.77" stroke-width="1.1" stroke-dasharray="10.3 0.4 3.4 0.6 5.2 0.2 10.6 0.3"/><line x1="27.3" x2="51.4" y1="436.80" y2="436.80" stroke="#000" stroke-opacity="0.97" stroke-width="1.1" stroke-dasharray="4.3 0.5 11.8 0.6 5.8 0.2 7.6 0.4"/><line x1="26.2" x2="51.4" y1="437.30" y2="437.30" stroke="#000" stroke-opacity="0.73" stroke-width="1.1" stroke-dasharray="10.7 0.3 3.4 0.3 11.0 0.2 5.3 0.3"/><line x1="26.4" x2="51.4" y1="437.80" y2="437.80" stroke="#000" stroke-opacity="0.78" stroke-width="1.1" stroke-dasharray="10.1 0.4 4.9 0.6 6.1 0.4 8.7 0.6"/><line x1="38.2" x2="51.4" y1="438.30" y2="438.30" stroke="#000" stroke-opacity="0.82" stroke-width="1.1" stroke-dasharray="5.7 0.5 8.5 0.3 3.9 0.4 3.7 0.5 5.0 0.4 7.3 0.2"/><line x1="24.1" x2="51.4" y1="438.80" y2="438.80" stroke="#000" stroke-opacity="0.90" stroke-width="1.1" stroke-dasharray="11.3 0.4 5.9 0.2 5.7 0.4 6.6 0.2"/><line x1="37.2" x2="51.4" y1="439.30" y2="439.30" stroke="#000" stroke-opacity="0.82" stroke-width="1.1" stroke-dasharray="5.1 0.3 4.8 0.6 10.8 0.2 4.1 0.5 7.4 0.3"/><line x1="32.6" x2="51.4" y1="439.80" y2="439.80" stroke="#000" stroke-opacity="0.83" stroke-width="1.1" stroke-dasharray="10.8 0.5 7.8 0.2 7.6 0.5 7.8 0.2"/><line x1="37.2" x2="51.4" y1="440.30" y2="440.30" stroke="#000" stroke-opacity="0.85" stroke-width="1.1" stroke-dasharray="7.5 0.5 6.0 0.3 6.6 0.3 9.0 0.5"/><line x1="28.6" x2="51.4" y1="440.80" y2="440.80" stroke="#000" stroke-opacity="0.94" stroke-width="1.1" stroke-dasharray="10.7 0.5 11.5 0.3 9.2 0.3"/><line x1="29.1" x2="51.4" y1="441.30" y2="441.30" stroke="#000" stroke-opacity="0.85" stroke-width="1.1" stroke-dasharray="8.3 0.2 10.1 0.3 6.9 0.3 8.9 0.3"/><line x1="28.7" x2="51.4" y1="441.80" y2="441.80" stroke="#000" stroke-opacity="0.86" stroke-width="1.1" stroke-dasharray="10.9 0.4 8.4 0.4 4.8 0.5 7.7 0.5"/><line x1="27.7" x2="51.4" y1="442.30" y2="442.30" stroke="#000" stroke-opacity="0.80" stroke-width="1.1" stroke-dasharray="3.7 0.6 9.0 0.5 8.3 0.3 7.4 0.2"/><line x1="35.9" x2="51.4" y1="442.80" y2="442.80" stroke="#000" stroke-opacity="0.86" stroke-width="1.1" stroke-dasharray="9.8 0.3 11.1 0.5 5.1 0.5 9.3 0.6"/><line x1="28.9" x2="51.4" y1="443.30" y2="443.30" stroke="#000" stroke-opacity="0.75" stroke-width="1.1" stroke-dasharray="6.0 0.3 9.7 0.2 4.0 0.5 4.8 0.2 3.8 0.4 8.3 0.6"/><line x1="26.8" x2="51.4" y1="443.80" y2="443.80" stroke="#000" stroke-opacity="0.74" stroke-width="1.1" stroke-dasharray="10.3 0.4 3.5 0.2 11.6 0.4 11.3 0.2"/><line x1="28.0" x2="51.4" y1="444.30" y2="444.30" stroke="#000" stroke-opacity="0.74" stroke-width="1.1" stroke-dasharray="8.0 0.6 5.3 0.3 5.3 0.4 6.0 0.4 11.7 0.2"/><line x1="25.8" x2="51.4" y1="444.80" y2="444.80" stroke="#000" stroke-opacity="0.88" stroke-width="1.1" stroke-dasharray="6.3 0.5 4.3 0.2 8.2 0.2 5.5 0.3 6.0 0.4"/><rect x="26.5" y="273.6" width="22.5" height="4.3" fill="#b8b8b8" fill-opacity="0.85"/><rect x="27.5" y="263.3" width="21.5" height="1.4" fill="#c0c0c0" fill-opacity="0.7"/><line x1="40.5" x2="49.0" y1="420.4" y2="420.4" stroke="#bbb" stroke-opacity="0.35" stroke-width="0.7"/><line x1="41.5" x2="47.0" y1="328.4" y2="328.4" stroke="#bbb" stroke-opacity="0.54" stroke-width="0.7"/><line x1="38.6" x2="49.0" y1="368.3" y2="368.3" stroke="#bbb" stroke-opacity="0.47" stroke-width="0.7"/><line x1="39.1" x2="49.0" y1="412.0" y2="412.0" stroke="#bbb" stroke-opacity="0.56" stroke-width="0.7"/><line x1="34.2" x2="49.0" y1="292.4" y2="292.4" stroke="#bbb" stroke-opacity="0.39" stroke-width="0.7"/><line x1="39.7" x2="49.0" y1="324.7" y2="324.7" stroke="#bbb" stroke-opacity="0.54" stroke-width="0.7"/><line x1="42.0" x2="47.8" y1="417.1" y2="417.1" stroke="#bbb" stroke-opacity="0.46" stroke-width="0.7"/><line x1="33.0" x2="47.2" y1="338.9" y2="338.9" stroke="#bbb" stroke-opacity="0.60" stroke-width="0.7"/><line x1="27.4" x2="36.3" y1="390.3" y2="390.3" stroke="#bbb" stroke-opacity="0.58" stroke-width="0.7"/><line x1="30.3" x2="35.8" y1="359.0" y2="359.0" stroke="#bbb" stroke-opacity="0.36" stroke-width="0.7"/><line x1="39.3" x2="49.0" y1="281.6" y2="281.6" stroke="#bbb" stroke-opacity="0.49" stroke-width="0.7"/><line x1="33.9" x2="47.4" y1="404.0" y2="404.0" stroke="#bbb" stroke-opacity="0.54" stroke-width="0.7"/><line x1="29.8" x2="45.4" y1="387.0" y2="387.0" stroke="#bbb" stroke-opacity="0.45" stroke-width="0.7"/><line x1="31.0" x2="36.4" y1="395.5" y2="395.5" stroke="#bbb" stroke-opacity="0.32" stroke-width="0.7"/><line x1="41.6" x2="46.7" y1="276.7" y2="276.7" stroke="#bbb" stroke-opacity="0.34" stroke-width="0.7"/><line x1="27.1" x2="41.1" y1="427.3" y2="427.3" stroke="#bbb" stroke-opacity="0.53" stroke-width="0.7"/><line x1="36.7" x2="43.7" y1="428.4" y2="428.4" stroke="#bbb" stroke-opacity="0.60" stroke-width="0.7"/><line x1="31.0" x2="38.3" y1="404.1" y2="404.1" stroke="#bbb" stroke-opacity="0.53" stroke-width="0.7"/><line x1="40.4" x2="48.7" y1="364.1" y2="364.1" stroke="#bbb" stroke-opacity="0.36" stroke-width="0.7"/><line x1="27.9" x2="35.6" y1="398.4" y2="398.4" stroke="#bbb" stroke-opacity="0.43" stroke-width="0.7"/><line x1="34.8" x2="49.0" y1="365.8" y2="365.8" stroke="#bbb" stroke-opacity="0.55" stroke-width="0.7"/><line x1="29.2" x2="41.1" y1="295.4" y2="295.4" stroke="#bbb" stroke-opacity="0.41" stroke-width="0.7"/><line x1="31.5" x2="37.9" y1="440.6" y2="440.6" stroke="#bbb" stroke-opacity="0.40" stroke-width="0.7"/><line x1="35.5" x2="42.5" y1="391.3" y2="391.3" stroke="#bbb" stroke-opacity="0.57" stroke-width="0.7"/><line x1="39.2" x2="46.7" y1="432.4" y2="432.4" stroke="#bbb" stroke-opacity="0.32" stroke-width="0.7"/><line x1="36.9" x2="49.0" y1="380.9" y2="380.9" stroke="#bbb" stroke-opacity="0.31" stroke-width="0.7"/><line x1="41.0" x2="49.0" y1="307.9" y2="307.9" stroke="#bbb" stroke-opacity="0.40" stroke-width="0.7"/><line x1="39.3" x2="44.7" y1="420.6" y2="420.6" stroke="#bbb" stroke-opacity="0.53" stroke-width="0.7"/><line x1="31.9" x2="44.4" y1="338.0" y2="338.0" stroke="#bbb" stroke-opacity="0.43" stroke-width="0.7"/><line x1="31.2" x2="38.1" y1="423.3" y2="423.3" stroke="#bbb" stroke-opacity="0.32" stroke-width="0.7"/><line x1="32.7" x2="37.4" y1="417.4" y2="417.4" stroke="#bbb" stroke-opacity="0.59" stroke-width="0.7"/><line x1="30.3" x2="42.4" y1="293.6" y2="293.6" stroke="#bbb" stroke-opacity="0.59" stroke-width="0.7"/><line x1="41.8" x2="49.0" y1="437.9" y2="437.9" stroke="#bbb" stroke-opacity="0.41" stroke-width="0.7"/><line x1="38.6" x2="49.0" y1="276.8" y2="276.8" stroke="#bbb" stroke-opacity="0.31" stroke-width="0.7"/><line x1="40.4" x2="49.0" y1="324.4" y2="324.4" stroke="#bbb" stroke-opacity="0.54" stroke-width="0.7"/><line x1="41.5" x2="46.5" y1="340.3" y2="340.3" stroke="#bbb" stroke-opacity="0.52" stroke-width="0.7"/><line x1="38.9" x2="49.0" y1="433.3" y2="433.3" stroke="#bbb" stroke-opacity="0.39" stroke-width="0.7"/><line x1="34.5" x2="38.9" y1="363.7" y2="363.7" stroke="#bbb" stroke-opacity="0.54" stroke-width="0.7"/><line x1="30.4" x2="37.8" y1="277.6" y2="277.6" stroke="#bbb" stroke-opacity="0.58" stroke-width="0.7"/><line x1="32.2" x2="40.6" y1="428.3" y2="428.3" stroke="#bbb" stroke-opacity="0.35" stroke-width="0.7"/><line x1="28.2" x2="43.2" y1="315.5" y2="315.5" stroke="#bbb" stroke-opacity="0.40" stroke-width="0.7"/><line x1="28.4" x2="34.1" y1="302.1" y2="302.1" stroke="#bbb" stroke-opacity="0.31" stroke-width="0.7"/><line x1="39.4" x2="49.0" y1="338.6" y2="338.6" stroke="#bbb" stroke-opacity="0.37" stroke-width="0.7"/><line x1="32.6" x2="36.9" y1="285.8" y2="285.8" stroke="#bbb" stroke-opacity="0.54" stroke-width="0.7"/><line x1="31.6" x2="46.1" y1="320.6" y2="320.6" stroke="#bbb" stroke-opacity="0.58" stroke-width="0.7"/><line x1="34.6" x2="42.6" y1="427.2" y2="427.2" stroke="#bbb" stroke-opacity="0.32" stroke-width="0.7"/><line x1="27.5" x2="41.4" y1="436.1" y2="436.1" stroke="#bbb" stroke-opacity="0.56" stroke-width="0.7"/><line x1="39.7" x2="48.8" y1="410.5" y2="410.5" stroke="#bbb" stroke-opacity="0.56" stroke-width="0.7"/><line x1="41.1" x2="45.7" y1="330.2" y2="330.2" stroke="#bbb" stroke-opacity="0.56" stroke-width="0.7"/><line x1="35.6" x2="40.1" y1="333.1" y2="333.1" stroke="#bbb" stroke-opacity="0.30" stroke-width="0.7"/><line x1="30.4" x2="38.0" y1="284.0" y2="284.0" stroke="#bbb" stroke-opacity="0.49" stroke-width="0.7"/><line x1="36.3" x2="43.5" y1="341.5" y2="341.5" stroke="#bbb" stroke-opacity="0.33" stroke-width="0.7"/><line x1="35.9" x2="49.0" y1="401.7" y2="401.7" stroke="#bbb" stroke-opacity="0.58" stroke-width="0.7"/><line x1="29.9" x2="36.0" y1="348.2" y2="348.2" stroke="#bbb" stroke-opacity="0.43" stroke-width="0.7"/><line x1="37.7" x2="47.3" y1="318.1" y2="318.1" stroke="#bbb" stroke-opacity="0.47" stroke-width="0.7"/><line x1="38.7" x2="48.8" y1="327.6" y2="327.6" stroke="#bbb" stroke-opacity="0.56" stroke-width="0.7"/><line x1="39.7" x2="49.0" y1="350.1" y2="350.1" stroke="#bbb" stroke-opacity="0.39" stroke-width="0.7"/><line x1="41.8" x2="49.0" y1="318.4" y2="318.4" stroke="#bbb" stroke-opacity="0.49" stroke-width="0.7"/><line x1="35.1" x2="39.9" y1="427.8" y2="427.8" stroke="#bbb" stroke-opacity="0.42" stroke-width="0.7"/><line x1="41.2" x2="49.0" y1="360.2" y2="360.2" stroke="#bbb" stroke-opacity="0.38" stroke-width="0.7"/><line x1="34.4" x2="43.5" y1="286.0" y2="286.0" stroke="#bbb" stroke-opacity="0.53" stroke-width="0.7"/><line x1="29.4" x2="38.2" y1="352.0" y2="352.0" stroke="#bbb" stroke-opacity="0.36" stroke-width="0.7"/><line x1="34.9" x2="47.9" y1="406.5" y2="406.5" stroke="#bbb" stroke-opacity="0.34" stroke-width="0.7"/><line x1="33.6" x2="45.1" y1="444.0" y2="444.0" stroke="#bbb" stroke-opacity="0.54" stroke-width="0.7"/><line x1="41.1" x2="46.9" y1="391.1" y2="391.1" stroke="#bbb" stroke-opacity="0.53" stroke-width="0.7"/><line x1="38.8" x2="49.0" y1="436.2" y2="436.2" stroke="#bbb" stroke-opacity="0.34" stroke-width="0.7"/><line x1="41.8" x2="49.0" y1="310.3" y2="310.3" stroke="#bbb" stroke-opacity="0.49" stroke-width="0.7"/><line x1="41.8" x2="49.0" y1="368.5" y2="368.5" stroke="#bbb" stroke-opacity="0.38" stroke-width="0.7"/><line x1="39.2" x2="46.2" y1="354.3" y2="354.3" stroke="#bbb" stroke-opacity="0.33" stroke-width="0.7"/><line x1="37.8" x2="43.0" y1="303.3" y2="303.3" stroke="#bbb" stroke-opacity="0.48" stroke-width="0.7"/></g>
<rect x="54.0" y="256.8" width="5.6" height="187.8" fill="#000"/>
<path d="M59.6 248.9V453.2H660.4" fill="none" stroke="#222" stroke-width="1.1"/>
<path d="M71.60 453V458.2M79.72 453V458.2M87.84 453V458.2M95.96 453V458.2M104.08 453V458.2M112.20 453V458.2M120.32 453V458.2M128.44 453V458.2M136.56 453V458.2M144.68 453V458.2M152.80 453V458.2M160.92 453V458.2M169.04 453V458.2M177.16 453V458.2M185.28 453V458.2M193.40 453V458.2M201.52 453V458.2M209.64 453V458.2M217.76 453V458.2M225.88 453V458.2M234.00 453V458.2M242.12 453V458.2M250.24 453V458.2M258.36 453V458.2M266.48 453V458.2M274.60 453V458.2M282.72 453V458.2M290.84 453V458.2M298.96 453V458.2M307.08 453V458.2M315.20 453V458.2M323.32 453V458.2M331.44 453V458.2M339.56 453V458.2M347.68 453V458.2M355.80 453V458.2M363.92 453V458.2M372.04 453V458.2M380.16 453V458.2M388.28 453V458.2M396.40 453V458.2M404.52 453V458.2M412.64 453V458.2M420.76 453V458.2M428.88 453V458.2M437.00 453V458.2M445.12 453V458.2M453.24 453V458.2M461.36 453V458.2M469.48 453V458.2M477.60 453V458.2M485.72 453V458.2M493.84 453V458.2M501.96 453V458.2M510.08 453V458.2M518.20 453V458.2M526.32 453V458.2M534.44 453V458.2M542.56 453V458.2M550.68 453V458.2M558.80 453V458.2M566.92 453V458.2M575.04 453V458.2M583.16 453V458.2M591.28 453V458.2M599.40 453V458.2M607.52 453V458.2M615.64 453V458.2M623.76 453V458.2M631.88 453V458.2M640.00 453V458.2M648.12 453V458.2" stroke="#333" stroke-width="1.0"/>
<g font-family="Liberation Sans" font-size="9.5" fill="#000" stroke="#000" stroke-width="0.35" text-rendering="geometricPrecision"><text transform="translate(74.90 460.7) rotate(-90) scale(1.09 1.1)" text-anchor="end">9</text><text transform="translate(83.02 460.7) rotate(-90) scale(1.09 1.1)" text-anchor="end">32</text><text transform="translate(91.14 460.7) rotate(-90) scale(1.09 1.1)" text-anchor="end">38</text><text transform="translate(99.26 460.7) rotate(-90) scale(1.09 1.1)" text-anchor="end">232</text><text transform="translate(107.38 460.7) rotate(-90) scale(1.09 1.1)" text-anchor="end">208</text><text transform="translate(115.50 460.7) rotate(-90) scale(1.09 1.1)" text-anchor="end">332</text><text transform="translate(123.62 460.7) rotate(-90) scale(1.09 1.1)" text-anchor="end">183</text><text transform="translate(131.74 460.7) rotate(-90) scale(1.09 1.1)" text-anchor="end">200</text><text transform="translate(139.86 460.7) rotate(-90) scale(1.09 1.1)" text-anchor="end">267</text><text transform="translate(147.98 460.7) rotate(-90) scale(1.09 1.1)" text-anchor="end">191</text><text transform="translate(156.10 460.7) rotate(-90) scale(1.09 1.1)" text-anchor="end">29</text><text transform="translate(164.22 460.7) rotate(-90) scale(1.09 1.1)" text-anchor="end">57</text><text transform="translate(172.34 460.7) rotate(-90) scale(1.09 1.1)" text-anchor="end">204</text><text transform="translate(180.46 460.7) rotate(-90) scale(1.09 1.1)" text-anchor="end">40</text><text transform="translate(188.58 460.7) rotate(-90) scale(1.09 1.1)" text-anchor="end">255</text><text transform="translate(196.70 460.7) rotate(-90) scale(1.09 1.1)" text-anchor="end">65</text><text transform="translate(204.82 460.7) rotate(-90) scale(1.09 1.1)" text-anchor="end">234</text><text transform="translate(212.94 460.7) rotate(-90) scale(1.09 1.1)" text-anchor="end">171</text><text transform="translate(221.06 460.7) rotate(-90) scale(1.09 1.1)" text-anchor="end">162</text><text transform="translate(229.18 460.7) rotate(-90) scale(1.09 1.1)" text-anchor="end">334</text><text transform="translate(237.30 460.7) rotate(-90) scale(1.09 1.1)" text-anchor="end">11</text><text transform="translate(245.42 460.7) rotate(-90) scale(1.09 1.1)" text-anchor="end">381</text><text transform="translate(253.54 460.7) rotate(-90) scale(1.09 1.1)" text-anchor="end">71</text><text transform="translate(261.66 460.7) rotate(-90) scale(1.09 1.1)" text-anchor="end">140</text><text transform="translate(269.78 460.7) rotate(-90) scale(1.09 1.1)" text-anchor="end">24</text><text transform="translate(277.90 460.7) rotate(-90) scale(1.09 1.1)" text-anchor="end">89</text><text transform="translate(286.02 460.7) rotate(-90) scale(1.09 1.1)" text-anchor="end">50</text><text transform="translate(294.14 460.7) rotate(-90) scale(1.09 1.1)" text-anchor="end">123</text><text transform="translate(302.26 460.7) rotate(-90) scale(1.09 1.1)" text-anchor="end">163</text><text transform="translate(310.38 460.7) rotate(-90) scale(1.09 1.1)" text-anchor="end">202</text><text transform="translate(318.50 460.7) rotate(-90) scale(1.09 1.1)" text-anchor="end">241</text><text transform="translate(326.62 460.7) rotate(-90) scale(1.09 1.1)" text-anchor="end">187</text><text transform="translate(334.74 460.7) rotate(-90) scale(1.09 1.1)" text-anchor="end">80</text><text transform="translate(342.86 460.7) rotate(-90) scale(1.09 1.1)" text-anchor="end">94</text><text transform="translate(350.98 460.7) rotate(-90) scale(1.09 1.1)" text-anchor="end">173</text><text transform="translate(359.10 460.7) rotate(-90) scale(1.09 1.1)" text-anchor="end">167</text><text transform="translate(367.22 460.7) rotate(-90) scale(1.09 1.1)" text-anchor="end">102</text><text transform="translate(375.34 460.7) rotate(-90) scale(1.09 1.1)" text-anchor="end">146</text><text transform="translate(383.46 460.7) rotate(-90) scale(1.09 1.1)" text-anchor="end">10</text><text transform="translate(391.58 460.7) rotate(-90) scale(1.09 1.1)" text-anchor="end">193</text><text transform="translate(399.70 460.7) rotate(-90) scale(1.09 1.1)" text-anchor="end">16</text><text transform="translate(407.82 460.7) rotate(-90) scale(1.09 1.1)" text-anchor="end">110</text><text transform="translate(415.94 460.7) rotate(-90) scale(1.09 1.1)" text-anchor="end">297</text><text transform="translate(424.06 460.7) rotate(-90) scale(1.09 1.1)" text-anchor="end">33</text><text transform="translate(432.18 460.7) rotate(-90) scale(1.09 1.1)" text-anchor="end">244</text><text transform="translate(440.30 460.7) rotate(-90) scale(1.09 1.1)" text-anchor="end">14</text><text transform="translate(448.42 460.7) rotate(-90) scale(1.09 1.1)" text-anchor="end">37</text><text transform="translate(456.54 460.7) rotate(-90) scale(1.09 1.1)" text-anchor="end">339</text><text transform="translate(464.66 460.7) rotate(-90) scale(1.09 1.1)" text-anchor="end">73</text><text transform="translate(472.78 460.7) rotate(-90) scale(1.09 1.1)" text-anchor="end">108</text><text transform="translate(480.90 460.7) rotate(-90) scale(1.09 1.1)" text-anchor="end">261</text><text transform="translate(489.02 460.7) rotate(-90) scale(1.09 1.1)" text-anchor="end">348</text><text transform="translate(497.14 460.7) rotate(-90) scale(1.09 1.1)" text-anchor="end">152</text><text transform="translate(505.26 460.7) rotate(-90) scale(1.09 1.1)" text-anchor="end">314</text><text transform="translate(513.38 460.7) rotate(-90) scale(1.09 1.1)" text-anchor="end">343</text><text transform="translate(521.50 460.7) rotate(-90) scale(1.09 1.1)" text-anchor="end">198</text><text transform="translate(529.62 460.7) rotate(-90) scale(1.09 1.1)" text-anchor="end">322</text><text transform="translate(537.74 460.7) rotate(-90) scale(1.09 1.1)" text-anchor="end">373</text><text transform="translate(545.86 460.7) rotate(-90) scale(1.09 1.1)" text-anchor="end">213</text><text transform="translate(553.98 460.7) rotate(-90) scale(1.09 1.1)" text-anchor="end">215</text><text transform="translate(562.10 460.7) rotate(-90) scale(1.09 1.1)" text-anchor="end">18</text><text transform="translate(570.22 460.7) rotate(-90) scale(1.09 1.1)" text-anchor="end">166</text><text transform="translate(578.34 460.7) rotate(-90) scale(1.09 1.1)" text-anchor="end">354</text><text transform="translate(586.46 460.7) rotate(-90) scale(1.09 1.1)" text-anchor="end">357</text><text transform="translate(594.58 460.7) rotate(-90) scale(1.09 1.1)" text-anchor="end">141</text><text transform="translate(602.70 460.7) rotate(-90) scale(1.09 1.1)" text-anchor="end">245</text><text transform="translate(610.82 460.7) rotate(-90) scale(1.09 1.1)" text-anchor="end">285</text><text transform="translate(618.94 460.7) rotate(-90) scale(1.09 1.1)" text-anchor="end">331</text><text transform="translate(627.06 460.7) rotate(-90) scale(1.09 1.1)" text-anchor="end">291</text><text transform="translate(635.18 460.7) rotate(-90) scale(1.09 1.1)" text-anchor="end">308</text><text transform="translate(643.30 460.7) rotate(-90) scale(1.09 1.1)" text-anchor="end">385</text><text transform="translate(651.42 460.7) rotate(-90) scale(1.09 1.1)" text-anchor="end">397</text></g>
</svg>
</body></html>
